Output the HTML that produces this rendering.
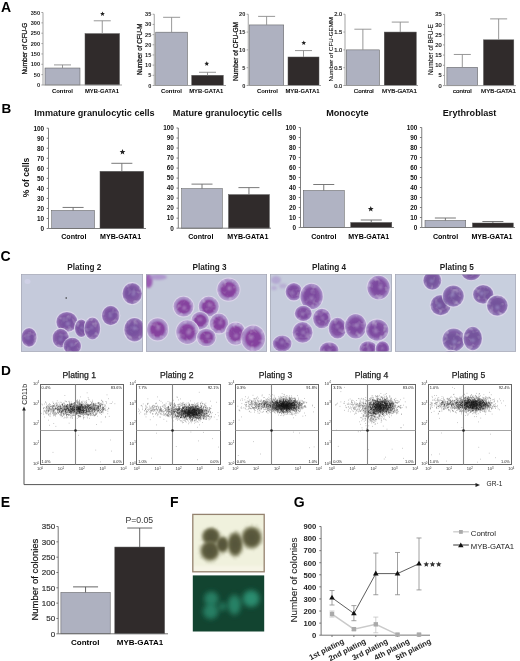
<!DOCTYPE html>
<html><head><meta charset="utf-8"><style>
html,body{margin:0;padding:0;background:#fff;}
body{width:520px;height:661px;overflow:hidden;}
svg{display:block;filter:blur(0.3px);}
text{font-family:"Liberation Sans",sans-serif;}
</style></head><body>
<svg width="520" height="661" viewBox="0 0 520 661">
<rect width="520" height="661" fill="#fff"/>
<text x="1" y="11.6" font-size="14" font-weight="bold" fill="#000">A</text>
<rect x="45" y="68.01" width="35" height="16.99" fill="#aeb1c0" stroke="#555" stroke-width="0.5"/>
<path d="M62.5 68.01V64.91M54 64.91h17" stroke="#8c8c8c" stroke-width="0.9" fill="none"/>
<rect x="85" y="33.63" width="34.5" height="51.37" fill="#302b2b" stroke="#555" stroke-width="0.5"/>
<path d="M102.25 33.63V20.79M93.75 20.79h17" stroke="#8c8c8c" stroke-width="0.9" fill="none"/>
<path d="M43 12.5V85H122M41.4 85h1.6M41.4 74.64h1.6M41.4 64.29h1.6M41.4 53.93h1.6M41.4 43.57h1.6M41.4 33.21h1.6M41.4 22.86h1.6M41.4 12.5h1.6" stroke="#999" stroke-width="0.9" fill="none"/>
<text x="40.1" y="87.02" font-size="5.6" text-anchor="end" font-weight="bold" fill="#222" >0</text>
<text x="40.1" y="76.66" font-size="5.6" text-anchor="end" font-weight="bold" fill="#222" >50</text>
<text x="40.1" y="66.3" font-size="5.6" text-anchor="end" font-weight="bold" fill="#222" >100</text>
<text x="40.1" y="55.94" font-size="5.6" text-anchor="end" font-weight="bold" fill="#222" >150</text>
<text x="40.1" y="45.59" font-size="5.6" text-anchor="end" font-weight="bold" fill="#222" >200</text>
<text x="40.1" y="35.23" font-size="5.6" text-anchor="end" font-weight="bold" fill="#222" >250</text>
<text x="40.1" y="24.87" font-size="5.6" text-anchor="end" font-weight="bold" fill="#222" >300</text>
<text x="40.1" y="14.52" font-size="5.6" text-anchor="end" font-weight="bold" fill="#222" >350</text>
<text x="62.5" y="92.92" font-size="5.9" text-anchor="middle" font-weight="bold" fill="#000" >Control</text>
<text x="102" y="92.92" font-size="5.9" text-anchor="middle" font-weight="bold" fill="#000" >MYB-GATA1</text>
<text transform="translate(24.3,48.6) rotate(-90)" x="0" y="2.3" font-size="6.4" text-anchor="middle" font-weight="normal" fill="#111" stroke="#111" stroke-width="0.25">Number of CFU-G</text>
<polygon points="102.5,11.5 103.16,13.09 104.88,13.23 103.57,14.35 103.97,16.02 102.5,15.12 101.03,16.02 101.43,14.35 100.12,13.23 101.84,13.09" fill="#222"/>
<rect x="155.75" y="32.16" width="31.75" height="53.34" fill="#aeb1c0" stroke="#555" stroke-width="0.5"/>
<path d="M171.62 32.16V17.3M163.12 17.3h17" stroke="#8c8c8c" stroke-width="0.9" fill="none"/>
<rect x="191.75" y="75.32" width="31.5" height="10.18" fill="#302b2b" stroke="#555" stroke-width="0.5"/>
<path d="M207.5 75.32V72.27M199 72.27h17" stroke="#8c8c8c" stroke-width="0.9" fill="none"/>
<path d="M154.25 14.25V85.5H226M152.65 85.5h1.6M152.65 75.32h1.6M152.65 65.14h1.6M152.65 54.96h1.6M152.65 44.79h1.6M152.65 34.61h1.6M152.65 24.43h1.6M152.65 14.25h1.6" stroke="#999" stroke-width="0.9" fill="none"/>
<text x="151.35" y="87.52" font-size="5.6" text-anchor="end" font-weight="bold" fill="#222" >0</text>
<text x="151.35" y="77.34" font-size="5.6" text-anchor="end" font-weight="bold" fill="#222" >5</text>
<text x="151.35" y="67.16" font-size="5.6" text-anchor="end" font-weight="bold" fill="#222" >10</text>
<text x="151.35" y="56.98" font-size="5.6" text-anchor="end" font-weight="bold" fill="#222" >15</text>
<text x="151.35" y="46.8" font-size="5.6" text-anchor="end" font-weight="bold" fill="#222" >20</text>
<text x="151.35" y="36.62" font-size="5.6" text-anchor="end" font-weight="bold" fill="#222" >25</text>
<text x="151.35" y="26.44" font-size="5.6" text-anchor="end" font-weight="bold" fill="#222" >30</text>
<text x="151.35" y="16.27" font-size="5.6" text-anchor="end" font-weight="bold" fill="#222" >35</text>
<text x="171.5" y="92.92" font-size="5.9" text-anchor="middle" font-weight="bold" fill="#000" >Control</text>
<text x="206.25" y="92.92" font-size="5.9" text-anchor="middle" font-weight="bold" fill="#000" >MYB-GATA1</text>
<text transform="translate(139.6,49.3) rotate(-90)" x="0" y="2.27" font-size="6.3" text-anchor="middle" font-weight="normal" fill="#111" stroke="#111" stroke-width="0.25">Number of CFU-M</text>
<polygon points="206.75,61.25 207.41,62.84 209.13,62.98 207.82,64.1 208.22,65.77 206.75,64.88 205.28,65.77 205.68,64.1 204.37,62.98 206.09,62.84" fill="#222"/>
<rect x="249.5" y="24.94" width="34.25" height="60.56" fill="#aeb1c0" stroke="#555" stroke-width="0.5"/>
<path d="M266.62 24.94V16.39M258.12 16.39h17" stroke="#8c8c8c" stroke-width="0.9" fill="none"/>
<rect x="288" y="57" width="31" height="28.5" fill="#302b2b" stroke="#555" stroke-width="0.5"/>
<path d="M303.5 57V50.59M295 50.59h17" stroke="#8c8c8c" stroke-width="0.9" fill="none"/>
<path d="M248.25 14.25V85.5H321M246.65 85.5h1.6M246.65 67.69h1.6M246.65 49.88h1.6M246.65 32.06h1.6M246.65 14.25h1.6" stroke="#999" stroke-width="0.9" fill="none"/>
<text x="245.35" y="87.52" font-size="5.6" text-anchor="end" font-weight="bold" fill="#222" >0</text>
<text x="245.35" y="69.7" font-size="5.6" text-anchor="end" font-weight="bold" fill="#222" >5</text>
<text x="245.35" y="51.89" font-size="5.6" text-anchor="end" font-weight="bold" fill="#222" >10</text>
<text x="245.35" y="34.08" font-size="5.6" text-anchor="end" font-weight="bold" fill="#222" >15</text>
<text x="245.35" y="16.27" font-size="5.6" text-anchor="end" font-weight="bold" fill="#222" >20</text>
<text x="267.5" y="92.92" font-size="5.9" text-anchor="middle" font-weight="bold" fill="#000" >Control</text>
<text x="302.5" y="92.92" font-size="5.9" text-anchor="middle" font-weight="bold" fill="#000" >MYB-GATA1</text>
<text transform="translate(235.7,51.5) rotate(-90)" x="0" y="2.38" font-size="6.6" text-anchor="middle" font-weight="normal" fill="#111" stroke="#111" stroke-width="0.25">Number of CFU-GM</text>
<polygon points="303.75,40.5 304.41,42.09 306.13,42.23 304.82,43.35 305.22,45.02 303.75,44.12 302.28,45.02 302.68,43.35 301.37,42.23 303.09,42.09" fill="#222"/>
<rect x="346.25" y="49.88" width="33.25" height="35.62" fill="#aeb1c0" stroke="#555" stroke-width="0.5"/>
<path d="M362.88 49.88V29.21M354.38 29.21h17" stroke="#8c8c8c" stroke-width="0.9" fill="none"/>
<rect x="384.25" y="32.06" width="32" height="53.44" fill="#302b2b" stroke="#555" stroke-width="0.5"/>
<path d="M400.25 32.06V22.09M391.75 22.09h17" stroke="#8c8c8c" stroke-width="0.9" fill="none"/>
<path d="M345 14.25V85.5H418M343.4 85.5h1.6M343.4 67.69h1.6M343.4 49.88h1.6M343.4 32.06h1.6M343.4 14.25h1.6" stroke="#999" stroke-width="0.9" fill="none"/>
<text x="342.1" y="87.55" font-size="5.7" text-anchor="end" font-weight="normal" fill="#222" stroke="#222" stroke-width="0.2">0.0</text>
<text x="342.1" y="69.74" font-size="5.7" text-anchor="end" font-weight="normal" fill="#222" stroke="#222" stroke-width="0.2">0.5</text>
<text x="342.1" y="51.93" font-size="5.7" text-anchor="end" font-weight="normal" fill="#222" stroke="#222" stroke-width="0.2">1.0</text>
<text x="342.1" y="34.11" font-size="5.7" text-anchor="end" font-weight="normal" fill="#222" stroke="#222" stroke-width="0.2">1.5</text>
<text x="342.1" y="16.3" font-size="5.7" text-anchor="end" font-weight="normal" fill="#222" stroke="#222" stroke-width="0.2">2.0</text>
<text x="363.75" y="93.03" font-size="6.2" text-anchor="middle" font-weight="normal" fill="#111" stroke="#111" stroke-width="0.22">Control</text>
<text x="399.5" y="93.03" font-size="6.2" text-anchor="middle" font-weight="normal" fill="#111" stroke="#111" stroke-width="0.22">MYB-GATA1</text>
<text transform="translate(330.8,49.3) rotate(-90)" x="0" y="2.23" font-size="6.2" text-anchor="middle" font-weight="normal" fill="#111" stroke="#111" stroke-width="0.1">Number of CFU-GEMM</text>
<rect x="446.9" y="67.29" width="30.8" height="18.31" fill="#aeb1c0" stroke="#555" stroke-width="0.5"/>
<path d="M462.3 67.29V54.48M453.8 54.48h17" stroke="#8c8c8c" stroke-width="0.9" fill="none"/>
<rect x="483.5" y="39.83" width="30.3" height="45.77" fill="#302b2b" stroke="#555" stroke-width="0.5"/>
<path d="M498.65 39.83V18.88M490.15 18.88h17" stroke="#8c8c8c" stroke-width="0.9" fill="none"/>
<path d="M444.6 14.4V85.6H516M443 85.6h1.6M443 75.43h1.6M443 65.26h1.6M443 55.09h1.6M443 44.91h1.6M443 34.74h1.6M443 24.57h1.6M443 14.4h1.6" stroke="#999" stroke-width="0.9" fill="none"/>
<text x="441.7" y="87.65" font-size="5.7" text-anchor="end" font-weight="normal" fill="#222" stroke="#222" stroke-width="0.2">0</text>
<text x="441.7" y="77.48" font-size="5.7" text-anchor="end" font-weight="normal" fill="#222" stroke="#222" stroke-width="0.2">5</text>
<text x="441.7" y="67.31" font-size="5.7" text-anchor="end" font-weight="normal" fill="#222" stroke="#222" stroke-width="0.2">10</text>
<text x="441.7" y="57.14" font-size="5.7" text-anchor="end" font-weight="normal" fill="#222" stroke="#222" stroke-width="0.2">15</text>
<text x="441.7" y="46.97" font-size="5.7" text-anchor="end" font-weight="normal" fill="#222" stroke="#222" stroke-width="0.2">20</text>
<text x="441.7" y="36.79" font-size="5.7" text-anchor="end" font-weight="normal" fill="#222" stroke="#222" stroke-width="0.2">25</text>
<text x="441.7" y="26.62" font-size="5.7" text-anchor="end" font-weight="normal" fill="#222" stroke="#222" stroke-width="0.2">30</text>
<text x="441.7" y="16.45" font-size="5.7" text-anchor="end" font-weight="normal" fill="#222" stroke="#222" stroke-width="0.2">35</text>
<text x="462.3" y="93.03" font-size="6.2" text-anchor="middle" font-weight="normal" fill="#111" stroke="#111" stroke-width="0.22">control</text>
<text x="498.5" y="93.03" font-size="6.2" text-anchor="middle" font-weight="normal" fill="#111" stroke="#111" stroke-width="0.22">MYB-GATA1</text>
<text transform="translate(430.4,49.6) rotate(-90)" x="0" y="2.3" font-size="6.4" text-anchor="middle" font-weight="normal" fill="#111" stroke="#111" stroke-width="0.1">Number of BFU-E</text>
<text x="1.5" y="112.5" font-size="13.5" font-weight="bold" fill="#000">B</text>
<text x="94.5" y="115.78" font-size="9.1" text-anchor="middle" font-weight="bold" fill="#111" >Immature granulocytic cells</text>
<rect x="51.7" y="210.45" width="42.8" height="18.05" fill="#b0b3c3" stroke="#555" stroke-width="0.5"/>
<path d="M73.1 210.45V207.44M62.6 207.44h21" stroke="#6a6a6a" stroke-width="0.9" fill="none"/>
<rect x="100" y="171.33" width="43.7" height="57.17" fill="#302b2b" stroke="#555" stroke-width="0.5"/>
<path d="M121.85 171.33V163.31M111.35 163.31h21" stroke="#6a6a6a" stroke-width="0.9" fill="none"/>
<path d="M48.5 128.2V228.5H146M46.7 228.5h1.8M46.7 218.47h1.8M46.7 208.44h1.8M46.7 198.41h1.8M46.7 188.38h1.8M46.7 178.35h1.8M46.7 168.32h1.8M46.7 158.29h1.8M46.7 148.26h1.8M46.7 138.23h1.8M46.7 128.2h1.8" stroke="#707070" stroke-width="0.9" fill="none"/>
<text x="44.1" y="230.8" font-size="6.4" text-anchor="end" font-weight="bold" fill="#111" >0</text>
<text x="44.1" y="220.77" font-size="6.4" text-anchor="end" font-weight="bold" fill="#111" >10</text>
<text x="44.1" y="210.74" font-size="6.4" text-anchor="end" font-weight="bold" fill="#111" >20</text>
<text x="44.1" y="200.71" font-size="6.4" text-anchor="end" font-weight="bold" fill="#111" >30</text>
<text x="44.1" y="190.68" font-size="6.4" text-anchor="end" font-weight="bold" fill="#111" >40</text>
<text x="44.1" y="180.65" font-size="6.4" text-anchor="end" font-weight="bold" fill="#111" >50</text>
<text x="44.1" y="170.62" font-size="6.4" text-anchor="end" font-weight="bold" fill="#111" >60</text>
<text x="44.1" y="160.59" font-size="6.4" text-anchor="end" font-weight="bold" fill="#111" >70</text>
<text x="44.1" y="150.56" font-size="6.4" text-anchor="end" font-weight="bold" fill="#111" >80</text>
<text x="44.1" y="140.53" font-size="6.4" text-anchor="end" font-weight="bold" fill="#111" >90</text>
<text x="44.1" y="130.5" font-size="6.4" text-anchor="end" font-weight="bold" fill="#111" >100</text>
<text x="73.8" y="239.36" font-size="7.1" text-anchor="middle" font-weight="bold" fill="#000" >Control</text>
<text x="120.6" y="239.36" font-size="7.1" text-anchor="middle" font-weight="bold" fill="#000" >MYB-GATA1</text>
<text transform="translate(26,177.5) rotate(-90)" x="0" y="3.1" font-size="8.6" text-anchor="middle" font-weight="bold" fill="#111" >% of cells</text>
<polygon points="122.5,149 123.29,150.91 125.35,151.07 123.78,152.42 124.26,154.43 122.5,153.35 120.74,154.43 121.22,152.42 119.65,151.07 121.71,150.91" fill="#222"/>
<text x="227.4" y="115.78" font-size="9.1" text-anchor="middle" font-weight="bold" fill="#111" >Mature granulocytic cells</text>
<rect x="181.7" y="188.62" width="40.6" height="39.58" fill="#b0b3c3" stroke="#555" stroke-width="0.5"/>
<path d="M202 188.62V184.11M191.5 184.11h21" stroke="#6a6a6a" stroke-width="0.9" fill="none"/>
<rect x="228.5" y="194.63" width="40.9" height="33.57" fill="#302b2b" stroke="#555" stroke-width="0.5"/>
<path d="M248.95 194.63V187.62M238.45 187.62h21" stroke="#6a6a6a" stroke-width="0.9" fill="none"/>
<path d="M178.3 128V228.2H271M176.5 228.2h1.8M176.5 218.18h1.8M176.5 208.16h1.8M176.5 198.14h1.8M176.5 188.12h1.8M176.5 178.1h1.8M176.5 168.08h1.8M176.5 158.06h1.8M176.5 148.04h1.8M176.5 138.02h1.8M176.5 128h1.8" stroke="#707070" stroke-width="0.9" fill="none"/>
<text x="173.9" y="230.5" font-size="6.4" text-anchor="end" font-weight="bold" fill="#111" >0</text>
<text x="173.9" y="220.48" font-size="6.4" text-anchor="end" font-weight="bold" fill="#111" >10</text>
<text x="173.9" y="210.46" font-size="6.4" text-anchor="end" font-weight="bold" fill="#111" >20</text>
<text x="173.9" y="200.44" font-size="6.4" text-anchor="end" font-weight="bold" fill="#111" >30</text>
<text x="173.9" y="190.42" font-size="6.4" text-anchor="end" font-weight="bold" fill="#111" >40</text>
<text x="173.9" y="180.4" font-size="6.4" text-anchor="end" font-weight="bold" fill="#111" >50</text>
<text x="173.9" y="170.38" font-size="6.4" text-anchor="end" font-weight="bold" fill="#111" >60</text>
<text x="173.9" y="160.36" font-size="6.4" text-anchor="end" font-weight="bold" fill="#111" >70</text>
<text x="173.9" y="150.34" font-size="6.4" text-anchor="end" font-weight="bold" fill="#111" >80</text>
<text x="173.9" y="140.32" font-size="6.4" text-anchor="end" font-weight="bold" fill="#111" >90</text>
<text x="173.9" y="130.3" font-size="6.4" text-anchor="end" font-weight="bold" fill="#111" >100</text>
<text x="200.8" y="239.36" font-size="7.1" text-anchor="middle" font-weight="bold" fill="#000" >Control</text>
<text x="247.8" y="239.36" font-size="7.1" text-anchor="middle" font-weight="bold" fill="#000" >MYB-GATA1</text>
<text x="347.4" y="115.78" font-size="9.1" text-anchor="middle" font-weight="bold" fill="#111" >Monocyte</text>
<rect x="303.25" y="190.5" width="41" height="37" fill="#b0b3c3" stroke="#555" stroke-width="0.5"/>
<path d="M323.75 190.5V184.5M313.25 184.5h21" stroke="#6a6a6a" stroke-width="0.9" fill="none"/>
<rect x="350.75" y="222.5" width="41" height="5" fill="#302b2b" stroke="#555" stroke-width="0.5"/>
<path d="M371.25 222.5V220M360.75 220h21" stroke="#6a6a6a" stroke-width="0.9" fill="none"/>
<path d="M300.5 127.5V227.5H394M298.7 227.5h1.8M298.7 217.5h1.8M298.7 207.5h1.8M298.7 197.5h1.8M298.7 187.5h1.8M298.7 177.5h1.8M298.7 167.5h1.8M298.7 157.5h1.8M298.7 147.5h1.8M298.7 137.5h1.8M298.7 127.5h1.8" stroke="#707070" stroke-width="0.9" fill="none"/>
<text x="296.1" y="229.8" font-size="6.4" text-anchor="end" font-weight="bold" fill="#111" >0</text>
<text x="296.1" y="219.8" font-size="6.4" text-anchor="end" font-weight="bold" fill="#111" >10</text>
<text x="296.1" y="209.8" font-size="6.4" text-anchor="end" font-weight="bold" fill="#111" >20</text>
<text x="296.1" y="199.8" font-size="6.4" text-anchor="end" font-weight="bold" fill="#111" >30</text>
<text x="296.1" y="189.8" font-size="6.4" text-anchor="end" font-weight="bold" fill="#111" >40</text>
<text x="296.1" y="179.8" font-size="6.4" text-anchor="end" font-weight="bold" fill="#111" >50</text>
<text x="296.1" y="169.8" font-size="6.4" text-anchor="end" font-weight="bold" fill="#111" >60</text>
<text x="296.1" y="159.8" font-size="6.4" text-anchor="end" font-weight="bold" fill="#111" >70</text>
<text x="296.1" y="149.8" font-size="6.4" text-anchor="end" font-weight="bold" fill="#111" >80</text>
<text x="296.1" y="139.8" font-size="6.4" text-anchor="end" font-weight="bold" fill="#111" >90</text>
<text x="296.1" y="129.8" font-size="6.4" text-anchor="end" font-weight="bold" fill="#111" >100</text>
<text x="323.75" y="239.36" font-size="7.1" text-anchor="middle" font-weight="bold" fill="#000" >Control</text>
<text x="368.75" y="239.36" font-size="7.1" text-anchor="middle" font-weight="bold" fill="#000" >MYB-GATA1</text>
<polygon points="370.75,206 371.54,207.91 373.6,208.07 372.03,209.42 372.51,211.43 370.75,210.35 368.99,211.43 369.47,209.42 367.9,208.07 369.96,207.91" fill="#222"/>
<text x="469.6" y="115.78" font-size="9.1" text-anchor="middle" font-weight="bold" fill="#111" >Erythroblast</text>
<rect x="425" y="220.5" width="40.75" height="7" fill="#b0b3c3" stroke="#555" stroke-width="0.5"/>
<path d="M445.38 220.5V218M434.88 218h21" stroke="#6a6a6a" stroke-width="0.9" fill="none"/>
<rect x="472.5" y="223" width="40.75" height="4.5" fill="#302b2b" stroke="#555" stroke-width="0.5"/>
<path d="M492.88 223V221.5M482.38 221.5h21" stroke="#6a6a6a" stroke-width="0.9" fill="none"/>
<path d="M421.75 127.5V227.5H515M419.95 227.5h1.8M419.95 217.5h1.8M419.95 207.5h1.8M419.95 197.5h1.8M419.95 187.5h1.8M419.95 177.5h1.8M419.95 167.5h1.8M419.95 157.5h1.8M419.95 147.5h1.8M419.95 137.5h1.8M419.95 127.5h1.8" stroke="#707070" stroke-width="0.9" fill="none"/>
<text x="417.35" y="229.8" font-size="6.4" text-anchor="end" font-weight="bold" fill="#111" >0</text>
<text x="417.35" y="219.8" font-size="6.4" text-anchor="end" font-weight="bold" fill="#111" >10</text>
<text x="417.35" y="209.8" font-size="6.4" text-anchor="end" font-weight="bold" fill="#111" >20</text>
<text x="417.35" y="199.8" font-size="6.4" text-anchor="end" font-weight="bold" fill="#111" >30</text>
<text x="417.35" y="189.8" font-size="6.4" text-anchor="end" font-weight="bold" fill="#111" >40</text>
<text x="417.35" y="179.8" font-size="6.4" text-anchor="end" font-weight="bold" fill="#111" >50</text>
<text x="417.35" y="169.8" font-size="6.4" text-anchor="end" font-weight="bold" fill="#111" >60</text>
<text x="417.35" y="159.8" font-size="6.4" text-anchor="end" font-weight="bold" fill="#111" >70</text>
<text x="417.35" y="149.8" font-size="6.4" text-anchor="end" font-weight="bold" fill="#111" >80</text>
<text x="417.35" y="139.8" font-size="6.4" text-anchor="end" font-weight="bold" fill="#111" >90</text>
<text x="417.35" y="129.8" font-size="6.4" text-anchor="end" font-weight="bold" fill="#111" >100</text>
<text x="445.5" y="239.36" font-size="7.1" text-anchor="middle" font-weight="bold" fill="#000" >Control</text>
<text x="492" y="239.36" font-size="7.1" text-anchor="middle" font-weight="bold" fill="#000" >MYB-GATA1</text>
<text x="0.6" y="261.3" font-size="14" font-weight="bold" fill="#000">C</text>
<defs><filter id="bl" x="-30%" y="-30%" width="160%" height="160%"><feGaussianBlur stdDeviation="0.55"/></filter><filter id="tex" x="0" y="0" width="100%" height="100%"><feGaussianBlur in="SourceGraphic" stdDeviation="0.5" result="s"/><feTurbulence type="fractalNoise" baseFrequency="0.18" numOctaves="2" seed="4" result="n0"/><feGaussianBlur in="n0" stdDeviation="0.6" result="n"/><feColorMatrix in="n" type="matrix" values="0 0 0 0 0.85  0 0 0 0 0.78  0 0 0 0 0.95  0.95 0 0 0 -0.5" result="w"/><feComposite in="w" in2="s" operator="in" result="wi"/><feMerge><feMergeNode in="s"/><feMergeNode in="wi"/></feMerge></filter><filter id="bl2" x="-50%" y="-50%" width="200%" height="200%"><feGaussianBlur stdDeviation="1.3"/></filter><filter id="bl3" x="-50%" y="-50%" width="200%" height="200%"><feGaussianBlur stdDeviation="2.2"/></filter><radialGradient id="col" cx="50%" cy="50%" r="50%"><stop offset="0" stop-color="#54533a"/><stop offset="0.7" stop-color="#5d5c3d"/><stop offset="1" stop-color="#858466" stop-opacity="0.6"/></radialGradient><radialGradient id="gfp" cx="50%" cy="50%" r="50%"><stop offset="0" stop-color="#2c9274"/><stop offset="0.6" stop-color="#28866a"/><stop offset="1" stop-color="#1c6048" stop-opacity="0"/></radialGradient><radialGradient id="cell0" cx="50%" cy="50%" r="50%"><stop offset="0" stop-color="#80549f"/><stop offset="0.7" stop-color="#845ca6"/><stop offset="0.88" stop-color="#9070b2"/><stop offset="1" stop-color="#a694c8"/></radialGradient><radialGradient id="cell1" cx="50%" cy="50%" r="50%"><stop offset="0" stop-color="#8a46a0"/><stop offset="0.58" stop-color="#8c4aa2"/><stop offset="0.76" stop-color="#a283c0"/><stop offset="1" stop-color="#b8a4d2"/></radialGradient><radialGradient id="cell2" cx="50%" cy="50%" r="50%"><stop offset="0" stop-color="#82509f"/><stop offset="0.65" stop-color="#8656a6"/><stop offset="0.85" stop-color="#9a7abb"/><stop offset="1" stop-color="#ad98cc"/></radialGradient><radialGradient id="cell3" cx="50%" cy="50%" r="50%"><stop offset="0" stop-color="#7c56a0"/><stop offset="0.7" stop-color="#805ca5"/><stop offset="0.88" stop-color="#8c72b2"/><stop offset="1" stop-color="#a496c6"/></radialGradient></defs>
<text x="84.3" y="270" font-size="8.2" text-anchor="middle" font-weight="bold" fill="#222" >Plating 2</text>
<clipPath id="cc0"><rect x="21" y="274.2" width="122" height="77.6"/></clipPath>
<rect x="21" y="274.2" width="122" height="77.6" fill="#c5cadb"/>
<g clip-path="url(#cc0)">
<ellipse cx="27.5" cy="281.5" rx="3" ry="2.5" fill="#cfd0e6" filter="url(#bl)"/>
<circle cx="66.2" cy="298" r="0.8" fill="#333"/>
<g filter="url(#tex)">
<ellipse cx="132.2" cy="293.6" rx="10.6" ry="11.5" fill="#dcd6ea"/>
<ellipse cx="132.2" cy="293.6" rx="9.7" ry="10.6" fill="url(#cell0)"/>
<ellipse cx="134.5" cy="329.7" rx="11.2" ry="12.7" fill="#dcd6ea"/>
<ellipse cx="134.5" cy="329.7" rx="10.3" ry="11.8" fill="url(#cell0)"/>
<ellipse cx="110.7" cy="315.5" rx="9.7" ry="10.6" fill="#dcd6ea"/>
<ellipse cx="110.7" cy="315.5" rx="8.8" ry="9.7" fill="url(#cell0)"/>
<ellipse cx="66.9" cy="321.9" rx="11.5" ry="10.9" fill="#dcd6ea"/>
<ellipse cx="66.9" cy="321.9" rx="10.6" ry="10" fill="url(#cell0)"/>
<ellipse cx="81.3" cy="328.2" rx="7.3" ry="9.7" fill="#dcd6ea"/>
<ellipse cx="81.3" cy="328.2" rx="6.4" ry="8.8" fill="url(#cell0)"/>
<ellipse cx="92.4" cy="328.4" rx="8.7" ry="11.9" fill="#dcd6ea"/>
<ellipse cx="92.4" cy="328.4" rx="7.8" ry="11" fill="url(#cell0)"/>
<ellipse cx="60.7" cy="338.1" rx="9.1" ry="10.3" fill="#dcd6ea"/>
<ellipse cx="60.7" cy="338.1" rx="8.2" ry="9.4" fill="url(#cell0)"/>
<ellipse cx="72.3" cy="346" rx="9.7" ry="9.2" fill="#dcd6ea"/>
<ellipse cx="72.3" cy="346" rx="8.8" ry="8.3" fill="url(#cell0)"/>
<ellipse cx="29.1" cy="337.4" rx="8.5" ry="10.3" fill="#dcd6ea"/>
<ellipse cx="29.1" cy="337.4" rx="7.6" ry="9.4" fill="url(#cell0)"/>
</g><g filter="url(#bl2)">
<ellipse cx="130.97" cy="292.75" rx="5.94" ry="5.94" fill="#6f4c9c" opacity=".55"/>
<circle cx="133.39" cy="293.95" r="1.78" fill="#9c88c4" opacity=".8"/>
<ellipse cx="133.22" cy="329.46" rx="6.3" ry="6.6" fill="#6f4c9c" opacity=".55"/>
<circle cx="134.41" cy="328.07" r="1.89" fill="#9c88c4" opacity=".8"/>
<ellipse cx="111.33" cy="314.35" rx="5.4" ry="5.45" fill="#6f4c9c" opacity=".55"/>
<circle cx="110.31" cy="315.57" r="1.62" fill="#9c88c4" opacity=".8"/>
<ellipse cx="66.68" cy="322.17" rx="6.48" ry="5.61" fill="#6f4c9c" opacity=".55"/>
<circle cx="67.93" cy="323.76" r="1.94" fill="#9c88c4" opacity=".8"/>
<ellipse cx="80.87" cy="328.6" rx="3.96" ry="4.95" fill="#6f4c9c" opacity=".55"/>
<circle cx="81.82" cy="327.45" r="1.19" fill="#9c88c4" opacity=".8"/>
<ellipse cx="91.2" cy="329.99" rx="4.8" ry="6.16" fill="#6f4c9c" opacity=".55"/>
<circle cx="91.75" cy="327.57" r="1.44" fill="#9c88c4" opacity=".8"/>
<ellipse cx="61.69" cy="338.35" rx="5.04" ry="5.28" fill="#6f4c9c" opacity=".55"/>
<circle cx="60.6" cy="339.15" r="1.51" fill="#9c88c4" opacity=".8"/>
<ellipse cx="71.03" cy="346.53" rx="5.4" ry="4.68" fill="#6f4c9c" opacity=".55"/>
<circle cx="71.85" cy="344.61" r="1.62" fill="#9c88c4" opacity=".8"/>
<ellipse cx="29.48" cy="338.64" rx="4.68" ry="5.28" fill="#6f4c9c" opacity=".55"/>
<circle cx="28.19" cy="337.9" r="1.4" fill="#9c88c4" opacity=".8"/>
</g></g>
<rect x="21.3" y="274.5" width="121.4" height="77" fill="none" stroke="#a0a2b0" stroke-width="0.6"/>
<text x="209.6" y="270" font-size="8.2" text-anchor="middle" font-weight="bold" fill="#222" >Plating 3</text>
<clipPath id="cc1"><rect x="146" y="274.2" width="121" height="77.6"/></clipPath>
<rect x="146" y="274.2" width="121" height="77.6" fill="#c4c9da"/>
<g clip-path="url(#cc1)">
<g filter="url(#bl2)"><ellipse cx="148.5" cy="281" rx="4" ry="7" fill="#9a5cb2"/><ellipse cx="158" cy="277" rx="9" ry="3" fill="#a98ccb" opacity=".8"/></g>
<g filter="url(#tex)">
<ellipse cx="228.5" cy="289.6" rx="12.1" ry="12.1" fill="#dcd6ea"/>
<ellipse cx="228.5" cy="289.6" rx="11.2" ry="11.2" fill="url(#cell1)"/>
<ellipse cx="183.5" cy="306.6" rx="10.9" ry="10.9" fill="#dcd6ea"/>
<ellipse cx="183.5" cy="306.6" rx="10" ry="10" fill="url(#cell1)"/>
<ellipse cx="208.8" cy="306.6" rx="10.9" ry="10.9" fill="#dcd6ea"/>
<ellipse cx="208.8" cy="306.6" rx="10" ry="10" fill="url(#cell1)"/>
<ellipse cx="200.2" cy="320.6" rx="9.7" ry="9.7" fill="#dcd6ea"/>
<ellipse cx="200.2" cy="320.6" rx="8.8" ry="8.8" fill="url(#cell1)"/>
<ellipse cx="219" cy="323.6" rx="10.1" ry="10.9" fill="#dcd6ea"/>
<ellipse cx="219" cy="323.6" rx="9.2" ry="10" fill="url(#cell1)"/>
<ellipse cx="157.6" cy="329.4" rx="11.5" ry="12.1" fill="#dcd6ea"/>
<ellipse cx="157.6" cy="329.4" rx="10.6" ry="11.2" fill="url(#cell1)"/>
<ellipse cx="187.4" cy="332.1" rx="12.1" ry="12.7" fill="#dcd6ea"/>
<ellipse cx="187.4" cy="332.1" rx="11.2" ry="11.8" fill="url(#cell1)"/>
<ellipse cx="206.3" cy="337.5" rx="10.3" ry="9.6" fill="#dcd6ea"/>
<ellipse cx="206.3" cy="337.5" rx="9.4" ry="8.7" fill="url(#cell1)"/>
<ellipse cx="235.6" cy="333.6" rx="10.9" ry="12.1" fill="#dcd6ea"/>
<ellipse cx="235.6" cy="333.6" rx="10" ry="11.2" fill="url(#cell1)"/>
<ellipse cx="253.2" cy="338.4" rx="12.7" ry="13.9" fill="#dcd6ea"/>
<ellipse cx="253.2" cy="338.4" rx="11.8" ry="13" fill="url(#cell1)"/>
</g><g filter="url(#bl2)">
<ellipse cx="227.81" cy="290.43" rx="6.84" ry="6.27" fill="#80389a" opacity=".55"/>
<circle cx="229.51" cy="288.32" r="2.05" fill="#b08ac6" opacity=".8"/>
<ellipse cx="184.51" cy="307.08" rx="6.12" ry="5.61" fill="#80389a" opacity=".55"/>
<circle cx="184.25" cy="307.91" r="1.84" fill="#b08ac6" opacity=".8"/>
<ellipse cx="208.58" cy="307.39" rx="6.12" ry="5.61" fill="#80389a" opacity=".55"/>
<circle cx="210.34" cy="304.98" r="1.84" fill="#b08ac6" opacity=".8"/>
<ellipse cx="201.14" cy="320.31" rx="5.4" ry="4.95" fill="#80389a" opacity=".55"/>
<circle cx="200.13" cy="319.33" r="1.62" fill="#b08ac6" opacity=".8"/>
<ellipse cx="219.56" cy="322.96" rx="5.64" ry="5.61" fill="#80389a" opacity=".55"/>
<circle cx="220.4" cy="322.68" r="1.69" fill="#b08ac6" opacity=".8"/>
<ellipse cx="157.8" cy="329.06" rx="6.48" ry="6.27" fill="#80389a" opacity=".55"/>
<circle cx="158.09" cy="328.02" r="1.94" fill="#b08ac6" opacity=".8"/>
<ellipse cx="186.31" cy="332.99" rx="6.84" ry="6.6" fill="#80389a" opacity=".55"/>
<circle cx="188.55" cy="332.42" r="2.05" fill="#b08ac6" opacity=".8"/>
<ellipse cx="207.51" cy="336.71" rx="5.76" ry="4.9" fill="#80389a" opacity=".55"/>
<circle cx="207.65" cy="336.32" r="1.73" fill="#b08ac6" opacity=".8"/>
<ellipse cx="237.02" cy="334.02" rx="6.12" ry="6.27" fill="#80389a" opacity=".55"/>
<circle cx="236.04" cy="335.75" r="1.84" fill="#b08ac6" opacity=".8"/>
<ellipse cx="254.23" cy="339.55" rx="7.2" ry="7.26" fill="#80389a" opacity=".55"/>
<circle cx="251.06" cy="337.71" r="2.16" fill="#b08ac6" opacity=".8"/>
</g></g>
<rect x="146.3" y="274.5" width="120.4" height="77" fill="none" stroke="#a0a2b0" stroke-width="0.6"/>
<text x="329" y="270" font-size="8.2" text-anchor="middle" font-weight="bold" fill="#222" >Plating 4</text>
<clipPath id="cc2"><rect x="270" y="274.2" width="122" height="77.6"/></clipPath>
<rect x="270" y="274.2" width="122" height="77.6" fill="#c6ccdc"/>
<g clip-path="url(#cc2)">
<g filter="url(#bl2)" opacity=".7"><ellipse cx="276" cy="280" rx="5" ry="4" fill="#ab98cc"/><ellipse cx="283" cy="286" rx="4" ry="2.5" fill="#b3a2d0"/><ellipse cx="274" cy="288" rx="3" ry="2" fill="#b3a2d0"/></g>
<g filter="url(#tex)">
<ellipse cx="293.8" cy="291.8" rx="9.1" ry="9.7" fill="#dcd6ea"/>
<ellipse cx="293.8" cy="291.8" rx="8.2" ry="8.8" fill="url(#cell2)"/>
<ellipse cx="311.6" cy="296.4" rx="12.1" ry="13.6" fill="#dcd6ea"/>
<ellipse cx="311.6" cy="296.4" rx="11.2" ry="12.7" fill="url(#cell2)"/>
<ellipse cx="303.3" cy="313.4" rx="9.4" ry="8.5" fill="#dcd6ea"/>
<ellipse cx="303.3" cy="313.4" rx="8.5" ry="7.6" fill="url(#cell2)"/>
<ellipse cx="321.9" cy="318.5" rx="9.7" ry="10.7" fill="#dcd6ea"/>
<ellipse cx="321.9" cy="318.5" rx="8.8" ry="9.8" fill="url(#cell2)"/>
<ellipse cx="302.6" cy="332.4" rx="10.8" ry="11.2" fill="#dcd6ea"/>
<ellipse cx="302.6" cy="332.4" rx="9.9" ry="10.3" fill="url(#cell2)"/>
<ellipse cx="337.5" cy="328.2" rx="9.7" ry="11.3" fill="#dcd6ea"/>
<ellipse cx="337.5" cy="328.2" rx="8.8" ry="10.4" fill="url(#cell2)"/>
<ellipse cx="355.7" cy="326.3" rx="11.5" ry="13.1" fill="#dcd6ea"/>
<ellipse cx="355.7" cy="326.3" rx="10.6" ry="12.2" fill="url(#cell2)"/>
<ellipse cx="377.2" cy="330.1" rx="12.1" ry="11.5" fill="#dcd6ea"/>
<ellipse cx="377.2" cy="330.1" rx="11.2" ry="10.6" fill="url(#cell2)"/>
<ellipse cx="378.6" cy="287.6" rx="12.1" ry="12.7" fill="#dcd6ea"/>
<ellipse cx="378.6" cy="287.6" rx="11.2" ry="11.8" fill="url(#cell2)"/>
<ellipse cx="282.2" cy="343.6" rx="10.3" ry="8.9" fill="#dcd6ea"/>
<ellipse cx="282.2" cy="343.6" rx="9.4" ry="8" fill="url(#cell2)"/>
<ellipse cx="329.1" cy="350" rx="10.3" ry="8.7" fill="#dcd6ea"/>
<ellipse cx="329.1" cy="350" rx="9.4" ry="7.8" fill="url(#cell2)"/>
<ellipse cx="368.2" cy="349" rx="9.7" ry="8.7" fill="#dcd6ea"/>
<ellipse cx="368.2" cy="349" rx="8.8" ry="7.8" fill="url(#cell2)"/>
<ellipse cx="382.5" cy="349" rx="7.7" ry="8.7" fill="#dcd6ea"/>
<ellipse cx="382.5" cy="349" rx="6.8" ry="7.8" fill="url(#cell2)"/>
</g><g filter="url(#bl2)">
<ellipse cx="292.75" cy="290.97" rx="5.04" ry="4.95" fill="#74409a" opacity=".55"/>
<circle cx="292.84" cy="293.09" r="1.51" fill="#a888c4" opacity=".8"/>
<ellipse cx="310.32" cy="295.61" rx="6.84" ry="7.1" fill="#74409a" opacity=".55"/>
<circle cx="311.57" cy="298.2" r="2.05" fill="#a888c4" opacity=".8"/>
<ellipse cx="304.51" cy="313.89" rx="5.22" ry="4.29" fill="#74409a" opacity=".55"/>
<circle cx="302.3" cy="313.54" r="1.57" fill="#a888c4" opacity=".8"/>
<ellipse cx="322.46" cy="317.16" rx="5.4" ry="5.5" fill="#74409a" opacity=".55"/>
<circle cx="322.55" cy="317.97" r="1.62" fill="#a888c4" opacity=".8"/>
<ellipse cx="302.87" cy="332.93" rx="6.06" ry="5.78" fill="#74409a" opacity=".55"/>
<circle cx="303.28" cy="332.5" r="1.82" fill="#a888c4" opacity=".8"/>
<ellipse cx="337.65" cy="327.24" rx="5.4" ry="5.83" fill="#74409a" opacity=".55"/>
<circle cx="337.48" cy="326.61" r="1.62" fill="#a888c4" opacity=".8"/>
<ellipse cx="355.64" cy="326.43" rx="6.48" ry="6.82" fill="#74409a" opacity=".55"/>
<circle cx="356.88" cy="325.77" r="1.94" fill="#a888c4" opacity=".8"/>
<ellipse cx="375.56" cy="330.19" rx="6.84" ry="5.94" fill="#74409a" opacity=".55"/>
<circle cx="375.86" cy="331.14" r="2.05" fill="#a888c4" opacity=".8"/>
<ellipse cx="378.22" cy="287.17" rx="6.84" ry="6.6" fill="#74409a" opacity=".55"/>
<circle cx="380.47" cy="287.09" r="2.05" fill="#a888c4" opacity=".8"/>
<ellipse cx="281.76" cy="343.23" rx="5.76" ry="4.51" fill="#74409a" opacity=".55"/>
<circle cx="282.13" cy="342.27" r="1.73" fill="#a888c4" opacity=".8"/>
<ellipse cx="329.23" cy="351.01" rx="5.76" ry="4.4" fill="#74409a" opacity=".55"/>
<circle cx="329.34" cy="350.78" r="1.73" fill="#a888c4" opacity=".8"/>
<ellipse cx="369.41" cy="349.82" rx="5.4" ry="4.4" fill="#74409a" opacity=".55"/>
<circle cx="369.08" cy="350" r="1.62" fill="#a888c4" opacity=".8"/>
<ellipse cx="383.17" cy="348.41" rx="4.2" ry="4.4" fill="#74409a" opacity=".55"/>
<circle cx="382.45" cy="348.5" r="1.26" fill="#a888c4" opacity=".8"/>
</g></g>
<rect x="270.3" y="274.5" width="121.4" height="77" fill="none" stroke="#a0a2b0" stroke-width="0.6"/>
<text x="456.8" y="270" font-size="8.2" text-anchor="middle" font-weight="bold" fill="#222" >Plating 5</text>
<clipPath id="cc3"><rect x="395" y="274.2" width="121" height="77.6"/></clipPath>
<rect x="395" y="274.2" width="121" height="77.6" fill="#c8cfde"/>
<g clip-path="url(#cc3)">
<g filter="url(#tex)">
<ellipse cx="432.3" cy="280.5" rx="9.9" ry="10.2" fill="#dcd6ea"/>
<ellipse cx="432.3" cy="280.5" rx="9" ry="9.3" fill="url(#cell3)"/>
<ellipse cx="471.1" cy="271.5" rx="10.9" ry="9.7" fill="#dcd6ea"/>
<ellipse cx="471.1" cy="271.5" rx="10" ry="8.8" fill="url(#cell3)"/>
<ellipse cx="440.6" cy="305.2" rx="11" ry="11" fill="#dcd6ea"/>
<ellipse cx="440.6" cy="305.2" rx="10.1" ry="10.1" fill="url(#cell3)"/>
<ellipse cx="453.3" cy="296.1" rx="11.5" ry="11.5" fill="#dcd6ea"/>
<ellipse cx="453.3" cy="296.1" rx="10.6" ry="10.6" fill="url(#cell3)"/>
<ellipse cx="483.2" cy="294.3" rx="11.1" ry="10.3" fill="#dcd6ea"/>
<ellipse cx="483.2" cy="294.3" rx="10.2" ry="9.4" fill="url(#cell3)"/>
<ellipse cx="497.3" cy="305.6" rx="11.3" ry="11.1" fill="#dcd6ea"/>
<ellipse cx="497.3" cy="305.6" rx="10.4" ry="10.2" fill="url(#cell3)"/>
<ellipse cx="453.7" cy="339.9" rx="12.1" ry="12.3" fill="#dcd6ea"/>
<ellipse cx="453.7" cy="339.9" rx="11.2" ry="11.4" fill="url(#cell3)"/>
<ellipse cx="472.7" cy="338.5" rx="10.2" ry="12.6" fill="#dcd6ea"/>
<ellipse cx="472.7" cy="338.5" rx="9.3" ry="11.7" fill="url(#cell3)"/>
<ellipse cx="450.7" cy="356" rx="9.7" ry="6.2" fill="#dcd6ea"/>
<ellipse cx="450.7" cy="356" rx="8.8" ry="5.3" fill="url(#cell3)"/>
</g><g filter="url(#bl2)">
<ellipse cx="431.64" cy="280.7" rx="5.52" ry="5.23" fill="#6c5098" opacity=".55"/>
<circle cx="431.63" cy="280.95" r="1.66" fill="#9a8cc4" opacity=".8"/>
<ellipse cx="471.35" cy="270.43" rx="6.12" ry="4.95" fill="#6c5098" opacity=".55"/>
<circle cx="470.87" cy="271.1" r="1.84" fill="#9a8cc4" opacity=".8"/>
<ellipse cx="441.24" cy="303.93" rx="6.18" ry="5.67" fill="#6c5098" opacity=".55"/>
<circle cx="439.24" cy="305.25" r="1.85" fill="#9a8cc4" opacity=".8"/>
<ellipse cx="452.99" cy="296.64" rx="6.48" ry="5.94" fill="#6c5098" opacity=".55"/>
<circle cx="452.58" cy="294.79" r="1.94" fill="#9a8cc4" opacity=".8"/>
<ellipse cx="484.55" cy="293.56" rx="6.24" ry="5.28" fill="#6c5098" opacity=".55"/>
<circle cx="481.73" cy="293.45" r="1.87" fill="#9a8cc4" opacity=".8"/>
<ellipse cx="496.79" cy="304.74" rx="6.36" ry="5.72" fill="#6c5098" opacity=".55"/>
<circle cx="497.45" cy="307.42" r="1.91" fill="#9a8cc4" opacity=".8"/>
<ellipse cx="452.42" cy="339.6" rx="6.84" ry="6.38" fill="#6c5098" opacity=".55"/>
<circle cx="454.47" cy="341.69" r="2.05" fill="#9a8cc4" opacity=".8"/>
<ellipse cx="474.12" cy="337.23" rx="5.7" ry="6.55" fill="#6c5098" opacity=".55"/>
<circle cx="472.84" cy="340.31" r="1.71" fill="#9a8cc4" opacity=".8"/>
<ellipse cx="449.49" cy="356.15" rx="5.4" ry="3.03" fill="#6c5098" opacity=".55"/>
<circle cx="449.53" cy="356.59" r="1.62" fill="#9a8cc4" opacity=".8"/>
</g></g>
<rect x="395.3" y="274.5" width="120.4" height="77" fill="none" stroke="#a0a2b0" stroke-width="0.6"/>
<text x="1" y="375.2" font-size="13.7" font-weight="bold" fill="#000">D</text>
<text x="79.3" y="378.2" font-size="8.6" text-anchor="middle" font-weight="normal" fill="#222" stroke="#222" stroke-width="0.25">Plating 1</text>
<path d="M80.0 409.3h.6M82.7 409.6h.6M77.5 407.2h.6M72.0 408.9h.6M75.9 414.3h.6M71.1 403.4h.6M80.5 409.9h.6M92.1 406.0h.6M75.6 409.6h.6M74.4 411.8h.6M84.4 408.8h.6M83.2 411.6h.6M80.9 403.8h.6M71.6 412.7h.6M79.7 407.0h.6M86.3 411.1h.6M67.9 409.6h.6M75.9 400.5h.6M62.9 406.5h.6M68.4 409.7h.6M63.4 414.1h.6M77.9 409.9h.6M68.6 409.9h.6M82.4 404.3h.6M81.4 413.7h.6M78.3 415.0h.6M57.3 409.1h.6M75.2 408.3h.6M79.6 403.7h.6M81.0 411.9h.6M66.2 417.9h.6M75.7 411.4h.6M71.2 413.2h.6M72.7 410.8h.6M89.5 405.7h.6M72.7 413.4h.6M79.7 404.9h.6M88.0 408.3h.6M74.7 409.9h.6M79.0 411.9h.6M81.0 410.4h.6M80.6 410.3h.6M69.0 406.5h.6M80.7 404.7h.6M92.2 409.2h.6M66.1 406.7h.6M87.7 404.7h.6M81.1 404.8h.6M74.2 407.4h.6M98.0 402.9h.6M86.9 404.6h.6M69.2 403.6h.6M80.7 409.6h.6M85.2 410.3h.6M78.3 415.6h.6M86.1 404.1h.6M79.4 406.8h.6M86.0 412.0h.6M92.9 408.3h.6M73.9 407.9h.6M81.8 414.6h.6M75.8 407.9h.6M81.1 405.2h.6M69.3 404.7h.6M74.8 410.1h.6M78.2 410.0h.6M88.1 404.5h.6M90.3 405.7h.6M68.1 410.8h.6M72.8 410.9h.6M85.8 406.9h.6M62.1 411.1h.6M75.8 410.9h.6M79.1 403.1h.6M91.3 408.0h.6M86.2 410.4h.6M77.1 407.1h.6M76.7 401.9h.6M77.7 408.1h.6M93.7 411.5h.6M76.1 414.2h.6M77.3 401.8h.6M83.2 417.6h.6M78.9 405.3h.6M78.2 412.2h.6M70.0 413.1h.6M79.9 412.2h.6M76.0 409.5h.6M90.5 405.2h.6M85.9 411.1h.6M79.8 406.6h.6M86.0 400.7h.6M76.9 418.3h.6M89.5 411.3h.6M80.0 415.0h.6M85.3 406.0h.6M68.4 413.8h.6M83.1 414.2h.6M64.8 414.1h.6M61.7 408.9h.6M77.3 405.0h.6M71.9 408.4h.6M81.5 401.7h.6M100.2 403.4h.6M72.5 409.3h.6M74.4 405.7h.6M81.8 408.5h.6M84.4 408.6h.6M78.4 415.4h.6M78.1 413.3h.6M86.3 408.9h.6M84.7 413.0h.6M70.7 406.4h.6M79.3 407.9h.6M80.3 412.0h.6M70.5 404.9h.6M82.3 408.1h.6M72.3 404.6h.6M88.7 409.4h.6M81.7 414.4h.6M80.8 406.5h.6M74.7 409.7h.6M78.9 406.0h.6M62.0 405.2h.6M69.8 404.9h.6M83.3 413.8h.6M60.8 416.8h.6M87.6 410.6h.6M64.3 406.6h.6M86.8 411.3h.6M72.4 407.9h.6M87.0 411.6h.6M81.2 410.0h.6M66.2 409.9h.6M91.2 411.0h.6M93.0 407.1h.6M79.4 407.7h.6M77.5 403.3h.6M78.6 407.5h.6M71.2 404.3h.6M89.9 408.5h.6M75.1 405.8h.6M79.5 409.3h.6M72.9 410.5h.6M74.4 404.3h.6M68.5 406.3h.6M91.3 405.9h.6M78.6 411.5h.6M88.7 414.6h.6M80.1 411.8h.6M73.8 407.8h.6M77.1 413.8h.6M75.0 404.0h.6M80.1 413.9h.6M76.6 406.8h.6M77.3 399.8h.6M67.6 417.7h.6M72.7 414.2h.6M94.9 405.6h.6M74.0 409.6h.6M70.5 408.3h.6M83.0 409.3h.6M92.7 404.1h.6M66.9 406.8h.6M78.1 410.5h.6M74.3 409.7h.6M64.2 413.0h.6M86.6 409.3h.6M79.8 416.8h.6M80.6 406.6h.6M73.2 409.9h.6M84.1 402.7h.6M75.1 404.9h.6M78.7 413.4h.6M70.0 405.9h.6M69.1 410.8h.6M92.0 408.8h.6M75.4 405.6h.6M82.6 407.9h.6M79.7 407.3h.6M76.0 407.4h.6M75.4 411.5h.6M85.7 411.2h.6M77.3 407.1h.6M78.6 406.0h.6M80.2 409.9h.6M90.6 408.7h.6M86.1 412.4h.6M83.4 417.8h.6M74.9 411.8h.6M67.6 408.9h.6M88.5 408.4h.6M88.7 406.2h.6M78.7 406.0h.6M84.9 405.7h.6M87.0 407.7h.6M87.5 407.6h.6M88.3 411.5h.6M75.9 407.7h.6M93.6 408.3h.6M68.8 405.0h.6M87.8 414.4h.6M84.4 410.7h.6M87.9 414.9h.6M96.9 411.6h.6M93.4 413.9h.6M69.7 408.2h.6M64.8 411.4h.6M87.4 417.9h.6M70.9 405.0h.6M79.9 412.9h.6M87.6 414.6h.6M65.2 410.4h.6M61.0 411.5h.6M82.3 413.2h.6M80.4 406.8h.6M77.8 410.4h.6M80.3 406.1h.6M72.3 406.7h.6M66.4 406.9h.6M78.5 408.5h.6M71.3 409.5h.6M65.2 410.5h.6M84.6 404.2h.6M79.4 415.7h.6M83.7 412.9h.6M71.1 411.5h.6M74.1 407.8h.6M71.0 408.7h.6M72.0 410.9h.6M81.8 410.4h.6M73.0 403.3h.6M83.2 411.5h.6M83.1 418.9h.6M98.2 402.8h.6M67.5 412.4h.6M88.0 410.2h.6M79.2 408.6h.6M79.9 413.6h.6M67.0 405.0h.6M75.9 409.6h.6M86.7 414.0h.6M79.3 408.3h.6M80.7 407.6h.6M77.4 409.4h.6M90.4 407.5h.6M79.8 414.2h.6M60.2 405.9h.6M73.8 412.0h.6M62.3 404.8h.6M50.7 411.3h.6M75.2 408.6h.6M92.0 400.2h.6M80.4 409.0h.6M69.4 405.4h.6M71.5 407.5h.6M90.2 414.2h.6M81.4 405.2h.6M80.4 405.4h.6M79.5 413.9h.6M80.3 409.4h.6M87.2 414.2h.6M85.0 410.1h.6M81.9 406.0h.6M70.6 408.8h.6M84.6 413.2h.6M73.8 412.2h.6M89.8 409.0h.6M68.6 409.2h.6M78.8 408.6h.6M79.9 407.0h.6M68.1 415.6h.6M95.5 409.0h.6M93.1 405.2h.6M75.8 407.4h.6M86.9 411.5h.6M83.4 411.2h.6M56.5 408.5h.6M82.3 406.7h.6M79.4 409.1h.6M80.7 403.3h.6M70.3 404.6h.6M77.6 411.7h.6M78.4 407.4h.6M90.7 410.3h.6M83.0 413.1h.6M80.0 411.2h.6M93.8 409.1h.6M75.0 416.2h.6M76.5 411.3h.6M63.6 407.8h.6M94.1 411.5h.6M88.7 410.4h.6M88.3 406.1h.6M86.0 409.2h.6M81.0 408.4h.6M81.9 402.3h.6M77.7 408.4h.6M78.2 408.0h.6M80.5 407.5h.6M93.6 403.4h.6M85.0 407.8h.6M79.5 408.9h.6M74.8 409.3h.6M74.3 405.1h.6M94.4 411.1h.6M84.6 404.9h.6M80.6 408.2h.6M76.9 413.4h.6M70.0 406.7h.6M79.4 407.3h.6M87.9 412.6h.6M76.5 407.7h.6M78.0 408.0h.6M78.0 409.8h.6M81.0 412.6h.6M65.7 401.5h.6M77.9 406.2h.6M72.3 405.6h.6M88.0 405.3h.6M73.1 406.1h.6M85.2 406.2h.6M93.7 410.0h.6M77.2 406.0h.6M74.6 409.4h.6M81.7 410.4h.6M80.0 406.5h.6M71.1 409.4h.6M84.1 414.5h.6M98.1 410.1h.6M77.7 406.8h.6M78.2 408.8h.6M70.6 405.9h.6M82.9 409.9h.6M68.8 411.9h.6M70.0 406.2h.6M91.5 408.3h.6M71.9 412.8h.6M89.7 407.3h.6M93.7 409.6h.6M82.3 405.5h.6M85.0 406.2h.6M97.6 407.3h.6M78.2 416.2h.6M74.7 407.7h.6M67.8 407.3h.6M80.4 407.1h.6M93.3 408.5h.6M88.6 411.2h.6M71.5 409.6h.6M72.3 415.8h.6M75.5 409.7h.6M82.6 413.8h.6M78.2 409.9h.6M81.9 411.0h.6M82.7 404.2h.6M77.3 408.6h.6M79.6 408.8h.6M81.9 408.2h.6M79.2 401.9h.6M84.5 411.9h.6M96.8 407.7h.6M85.3 407.6h.6M80.5 408.2h.6M64.8 408.2h.6M83.5 410.3h.6M62.5 404.8h.6M67.3 405.9h.6M87.7 410.0h.6M86.4 409.5h.6M78.7 407.8h.6M64.6 407.1h.6M76.7 406.2h.6M73.9 408.8h.6M85.7 412.9h.6M100.3 405.5h.6M82.0 414.0h.6M73.0 411.8h.6M69.5 407.5h.6M79.5 411.6h.6M78.4 404.2h.6M69.6 403.3h.6M81.0 404.7h.6M69.6 407.6h.6M90.0 407.9h.6M89.6 407.3h.6M89.8 409.3h.6M75.7 402.0h.6M84.6 410.6h.6M78.8 404.3h.6M76.5 406.8h.6M76.9 407.6h.6M68.3 405.2h.6M67.0 404.5h.6M87.1 405.7h.6M78.3 409.0h.6M81.9 410.9h.6M89.0 410.9h.6M64.4 405.7h.6M72.9 406.4h.6M81.6 406.0h.6M83.5 410.5h.6M76.6 402.3h.6M89.3 413.1h.6M81.9 407.4h.6M69.1 406.4h.6M71.6 410.1h.6M87.2 412.4h.6M84.2 410.1h.6M62.9 412.5h.6M92.1 409.4h.6M85.4 413.1h.6M92.1 413.1h.6M76.5 408.7h.6M77.3 413.7h.6M69.9 409.5h.6M102.8 409.3h.6M78.4 406.0h.6M94.3 408.0h.6M74.2 411.6h.6M81.5 404.7h.6M65.0 411.1h.6M76.6 410.2h.6M88.9 409.9h.6M68.7 401.7h.6M89.7 408.7h.6M83.0 411.1h.6M70.6 406.5h.6M75.5 409.3h.6M75.9 401.2h.6M79.6 411.2h.6M75.2 406.8h.6M72.6 411.9h.6M77.3 402.9h.6M70.8 411.3h.6M68.4 408.2h.6M79.6 411.7h.6M87.9 405.9h.6M66.2 407.0h.6M80.0 416.4h.6M74.2 406.3h.6M71.2 406.7h.6M87.7 408.1h.6M75.3 405.6h.6M93.5 412.9h.6M73.0 414.7h.6M83.5 406.7h.6M78.0 403.3h.6M73.2 412.9h.6M85.3 412.7h.6M78.6 411.7h.6M85.4 412.8h.6M79.6 406.1h.6M70.2 408.4h.6M79.1 404.4h.6M80.5 404.3h.6M88.6 412.2h.6M71.8 406.8h.6M79.6 416.5h.6M64.5 409.2h.6M85.9 406.9h.6M70.3 411.6h.6M63.7 414.9h.6M79.5 410.6h.6M90.0 405.0h.6M66.3 410.2h.6M70.2 413.5h.6M73.3 407.4h.6M69.8 406.4h.6M83.4 412.4h.6M72.7 409.5h.6M73.5 405.4h.6M85.2 407.7h.6M73.2 406.5h.6M83.9 410.0h.6M71.3 409.4h.6M69.1 412.8h.6M63.5 411.3h.6M96.8 403.8h.6M77.1 410.3h.6M82.2 412.0h.6M79.7 410.5h.6M81.4 412.4h.6M80.4 407.2h.6M97.2 405.9h.6M70.6 412.1h.6M66.0 405.5h.6M70.9 401.9h.6M68.0 412.4h.6M86.7 406.6h.6M87.4 408.0h.6M71.3 404.4h.6M67.5 404.6h.6M76.8 405.2h.6M92.5 407.8h.6M54.6 410.2h.6M84.7 401.4h.6M70.3 411.5h.6M89.4 405.1h.6M70.3 405.5h.6M77.4 411.2h.6M66.4 408.8h.6M71.2 403.9h.6M92.5 415.1h.6M87.4 406.2h.6M76.4 409.8h.6M72.2 409.7h.6M63.0 413.7h.6M76.5 407.5h.6M79.7 412.3h.6M79.2 406.6h.6M79.2 412.7h.6M69.9 406.5h.6M79.4 407.8h.6M79.7 415.3h.6M91.6 410.0h.6M96.8 409.4h.6M78.8 416.4h.6M73.1 410.2h.6M79.4 406.3h.6M74.5 411.4h.6M73.3 405.1h.6M79.5 412.7h.6M70.6 413.0h.6M85.5 407.1h.6M79.1 406.9h.6M82.3 409.6h.6M78.4 409.0h.6M73.5 405.8h.6M71.5 410.9h.6M77.9 402.3h.6M75.1 407.6h.6M82.1 407.7h.6M80.0 408.1h.6M67.7 410.0h.6M80.6 404.9h.6M67.9 410.9h.6M74.5 408.4h.6M77.4 406.9h.6M61.3 404.5h.6M80.8 405.1h.6M81.4 410.2h.6M78.6 405.8h.6M76.2 409.2h.6M76.6 412.5h.6M71.2 412.4h.6M77.6 414.1h.6M75.0 408.0h.6M80.8 405.4h.6M69.2 412.4h.6M82.1 410.0h.6M81.3 412.7h.6M78.7 409.0h.6M76.0 412.9h.6M85.0 411.8h.6M65.0 411.4h.6M84.1 410.7h.6M82.2 410.3h.6M82.6 409.8h.6M83.4 409.7h.6M74.1 412.3h.6M77.7 407.3h.6M85.7 414.7h.6M83.9 408.6h.6M81.9 412.3h.6M66.4 408.7h.6M84.8 408.2h.6M90.5 415.7h.6M89.1 408.0h.6M82.1 404.8h.6M66.0 406.6h.6M88.5 408.0h.6M78.7 416.1h.6M57.2 409.7h.6M83.4 412.1h.6M66.6 405.7h.6M68.3 410.2h.6M74.3 411.2h.6M91.5 414.9h.6M76.7 406.7h.6M82.4 411.0h.6M95.7 410.0h.6M94.3 405.6h.6M79.1 408.9h.6M77.8 408.1h.6M68.7 401.3h.6M73.7 411.0h.6M83.8 410.8h.6M83.6 407.6h.6M81.0 404.6h.6M89.0 413.9h.6M73.0 409.9h.6M79.5 412.4h.6M86.6 413.7h.6M85.3 407.3h.6M89.6 411.7h.6M83.6 408.2h.6M77.2 408.8h.6M83.3 408.7h.6M71.0 409.0h.6M65.2 412.7h.6M85.2 409.4h.6M79.5 408.5h.6M82.8 408.1h.6M64.7 410.1h.6M76.7 406.0h.6M74.6 407.3h.6M72.2 408.8h.6M59.7 407.1h.6M77.0 408.6h.6M88.1 407.0h.6M83.4 415.6h.6M74.6 413.4h.6M79.9 410.5h.6M86.8 408.8h.6M55.2 416.2h.6M78.9 410.1h.6M84.9 408.7h.6M86.1 410.0h.6M95.3 410.0h.6M90.2 413.7h.6M82.8 408.9h.6M82.7 415.9h.6M87.1 406.1h.6M75.1 411.3h.6M79.6 405.7h.6M88.2 415.0h.6M97.6 407.9h.6M78.6 408.8h.6M79.6 412.0h.6M81.8 413.1h.6M92.1 405.3h.6M79.7 407.9h.6M93.2 404.4h.6M71.3 409.5h.6M78.3 408.7h.6M78.2 407.8h.6M87.1 406.7h.6M89.4 407.7h.6M66.4 406.5h.6M71.8 410.7h.6M83.0 414.0h.6M74.1 402.6h.6M66.3 408.6h.6M89.3 407.6h.6M84.4 410.6h.6M84.4 405.9h.6M75.7 408.5h.6M89.3 405.6h.6M77.8 411.3h.6M89.9 409.3h.6M71.8 408.5h.6M72.3 410.2h.6M81.8 408.2h.6M73.7 403.9h.6M86.1 411.0h.6M82.3 410.0h.6M71.7 408.5h.6M80.7 412.3h.6M76.8 413.0h.6M88.2 405.4h.6M74.3 406.4h.6M76.0 414.1h.6M90.9 413.7h.6M100.1 406.6h.6M98.0 405.1h.6M80.6 406.9h.6M82.0 407.4h.6M93.8 403.8h.6M78.9 409.1h.6M71.2 404.8h.6M81.1 405.0h.6M84.1 412.0h.6M72.5 406.7h.6M65.2 408.8h.6M67.1 411.1h.6M86.0 411.7h.6M73.2 407.9h.6M78.7 409.1h.6M81.9 406.3h.6M85.6 414.8h.6M77.0 411.1h.6M84.5 405.4h.6M72.0 409.0h.6M76.7 411.4h.6M70.8 410.6h.6M90.2 415.0h.6M79.8 413.5h.6M73.3 407.2h.6M76.8 408.7h.6M78.0 404.8h.6M86.3 409.8h.6M65.6 409.5h.6M70.7 417.9h.6M76.6 409.3h.6M102.8 402.1h.6M88.6 406.8h.6M79.0 409.4h.6M86.4 404.9h.6M98.5 406.1h.6M77.9 407.8h.6M76.7 410.1h.6M90.9 408.5h.6M84.4 406.1h.6M86.0 411.6h.6M75.4 407.2h.6M97.3 407.4h.6M95.4 404.4h.6M85.1 406.4h.6M86.2 411.2h.6M61.8 403.7h.6M85.7 408.8h.6M78.3 411.4h.6M83.9 407.8h.6M86.1 409.8h.6M76.9 405.3h.6M64.8 413.3h.6M83.3 412.6h.6M73.3 409.8h.6M77.0 403.2h.6M74.6 405.5h.6M76.9 412.2h.6M59.2 414.7h.6M91.0 410.0h.6M82.3 413.1h.6M90.0 407.0h.6M97.8 408.4h.6M80.2 409.0h.6M63.8 410.4h.6M72.0 404.0h.6M69.1 412.1h.6M75.5 413.4h.6M80.7 405.2h.6M62.0 404.5h.6M83.1 410.2h.6M66.4 406.8h.6M82.7 401.2h.6M79.0 411.7h.6M77.2 409.5h.6M79.3 407.4h.6M75.1 416.0h.6M74.5 409.5h.6M64.9 406.5h.6M79.7 409.3h.6M96.6 405.6h.6M97.8 406.5h.6M91.9 410.3h.6M86.4 407.2h.6M73.9 407.5h.6M93.0 414.5h.6M79.5 411.8h.6M79.4 411.6h.6M77.4 410.7h.6M80.8 410.6h.6M76.1 413.8h.6M79.2 408.9h.6M70.2 415.1h.6M76.6 405.9h.6M100.5 408.2h.6M79.4 404.5h.6M77.9 407.9h.6M84.8 410.7h.6M86.4 413.8h.6M70.0 406.8h.6M78.1 409.0h.6M88.3 407.8h.6M82.4 406.6h.6M81.1 405.1h.6M94.0 409.2h.6M73.9 403.3h.6M80.7 409.4h.6M75.3 409.1h.6M93.4 406.8h.6M62.4 405.7h.6M74.0 404.4h.6M75.2 415.2h.6M86.0 404.6h.6M85.5 414.1h.6M92.6 411.0h.6M65.8 407.8h.6M86.8 405.2h.6M77.4 412.4h.6M74.0 414.7h.6M84.9 405.9h.6M71.7 408.0h.6M61.3 412.5h.6M76.7 410.1h.6M66.5 415.6h.6M74.2 407.1h.6M83.3 410.8h.6M82.8 404.9h.6M94.3 415.9h.6M78.2 406.6h.6M66.2 401.7h.6M73.2 408.6h.6M71.7 408.5h.6M69.0 415.3h.6M83.9 407.9h.6M74.2 409.0h.6M62.2 411.0h.6M86.3 414.2h.6M79.0 408.8h.6M83.2 412.4h.6M81.0 410.7h.6M85.7 408.0h.6M80.3 409.3h.6M91.1 409.1h.6M83.8 406.0h.6M83.5 413.0h.6M83.7 404.4h.6M66.9 412.9h.6M78.5 412.1h.6M77.7 408.7h.6M81.9 406.5h.6M67.8 408.3h.6M94.7 410.6h.6M80.9 411.5h.6M69.1 409.9h.6M64.6 412.3h.6M77.5 407.2h.6M79.2 409.8h.6M73.5 403.8h.6M80.8 411.5h.6M74.2 409.5h.6M85.0 407.6h.6M73.5 412.8h.6M79.7 411.3h.6M88.8 399.7h.6M103.1 409.1h.6M70.9 404.2h.6M75.8 412.5h.6M72.4 417.2h.6M87.1 407.3h.6M69.7 409.2h.6M75.6 408.2h.6M79.7 410.2h.6M71.2 411.1h.6M71.4 413.2h.6M75.7 405.7h.6M61.1 414.2h.6M67.0 405.9h.6M76.3 409.9h.6M81.3 412.8h.6M78.3 411.4h.6M64.0 405.9h.6M75.8 406.7h.6M87.2 407.5h.6M85.0 408.8h.6M79.3 412.8h.6M72.0 404.7h.6M85.7 410.5h.6M74.8 411.0h.6M69.5 410.8h.6M72.8 410.5h.6M93.0 414.0h.6M82.0 410.6h.6M90.4 411.8h.6M75.7 410.9h.6M88.4 414.9h.6M74.6 402.7h.6M78.6 413.2h.6M102.4 408.1h.6M86.9 408.1h.6M75.5 405.8h.6M79.2 402.8h.6M82.9 407.7h.6M90.9 406.7h.6M75.6 410.6h.6M64.3 404.1h.6M77.5 413.7h.6M80.1 409.9h.6M81.0 408.2h.6M91.9 406.7h.6M82.9 406.4h.6M87.3 405.3h.6M70.1 407.2h.6M87.8 409.0h.6M98.9 408.4h.6M87.0 404.3h.6M82.3 408.1h.6M81.4 406.1h.6M96.1 409.5h.6M71.7 415.2h.6M79.0 411.1h.6M84.1 408.0h.6M86.7 403.6h.6M76.1 404.3h.6M82.8 403.4h.6M77.5 411.4h.6M81.1 406.5h.6M78.8 409.2h.6M69.7 406.9h.6M79.8 409.3h.6M87.9 413.6h.6M71.3 406.7h.6M77.8 407.9h.6M86.0 406.3h.6M70.4 411.9h.6M81.6 405.6h.6M70.5 405.3h.6M90.2 404.4h.6M100.8 404.4h.6M98.2 410.6h.6M78.0 417.5h.6M86.7 405.7h.6M81.1 412.1h.6M80.9 409.8h.6M93.9 405.4h.6M68.1 408.1h.6M89.5 408.2h.6M79.6 406.7h.6M92.7 415.4h.6M81.7 402.7h.6M73.9 410.3h.6M82.5 410.1h.6M86.6 407.1h.6M80.3 409.5h.6M84.4 411.9h.6M75.3 409.5h.6M60.8 410.4h.6M88.1 411.3h.6M86.3 402.3h.6M81.3 413.9h.6M80.6 416.5h.6M89.3 412.2h.6M75.9 412.3h.6M73.6 404.4h.6M78.3 408.6h.6M90.7 406.3h.6M67.5 407.1h.6M90.7 412.2h.6M74.2 406.3h.6M70.1 408.6h.6M91.3 402.7h.6M79.1 408.5h.6M68.3 409.3h.6M76.8 406.7h.6M88.4 406.6h.6M90.7 415.2h.6M76.2 405.0h.6M83.7 405.5h.6M86.4 406.3h.6M74.2 413.0h.6M83.2 415.9h.6M79.7 410.1h.6M75.2 406.6h.6M75.6 407.6h.6M80.6 412.5h.6M80.3 406.0h.6M74.9 413.8h.6M76.2 413.7h.6M90.0 409.2h.6M81.9 411.1h.6M88.0 411.5h.6M90.8 414.1h.6M85.3 405.5h.6M100.4 412.9h.6M72.6 407.8h.6M87.3 406.5h.6M77.1 409.3h.6M96.7 408.3h.6M95.3 405.7h.6M62.4 403.7h.6M71.3 405.9h.6M86.0 413.8h.6M87.1 415.5h.6M86.6 411.1h.6M79.4 412.9h.6M84.1 407.3h.6M85.9 408.7h.6M79.3 409.9h.6M89.2 405.4h.6M59.7 405.7h.6M85.7 409.3h.6M70.7 407.9h.6M88.6 405.5h.6M77.9 410.3h.6M72.0 408.1h.6M83.4 412.4h.6M71.8 409.0h.6M71.8 408.0h.6M65.9 409.4h.6M79.8 408.4h.6M84.5 406.8h.6M89.2 407.7h.6M78.7 411.5h.6M89.4 411.1h.6M80.2 413.2h.6M79.2 403.4h.6M85.2 407.7h.6M89.5 407.6h.6M76.9 409.6h.6M77.8 407.5h.6M78.6 407.3h.6M80.7 411.6h.6M71.9 409.6h.6M89.3 405.2h.6M76.4 413.4h.6M84.2 412.3h.6M72.6 407.1h.6M83.2 411.7h.6M83.5 406.6h.6M76.2 412.7h.6M98.2 408.3h.6M83.3 406.4h.6M96.0 407.8h.6M88.6 406.5h.6M74.0 409.6h.6M76.6 409.6h.6M83.9 409.1h.6M80.6 407.2h.6M80.4 396.9h.6M77.4 409.3h.6M63.7 402.7h.6M78.0 409.8h.6M60.0 412.7h.6M83.3 409.9h.6M73.5 407.7h.6M73.6 408.4h.6M78.0 408.6h.6M82.5 407.2h.6M67.1 407.1h.6M64.3 406.0h.6M70.4 412.9h.6M61.6 408.9h.6M71.3 412.2h.6M94.3 408.2h.6M70.5 409.2h.6M85.9 408.4h.6M67.7 410.5h.6M82.7 411.7h.6M77.1 409.8h.6M79.5 406.8h.6M85.1 406.4h.6M95.8 414.5h.6M81.8 408.1h.6M81.1 408.0h.6M71.2 413.8h.6M85.3 412.6h.6M77.8 410.8h.6M87.5 407.7h.6M79.6 416.8h.6M95.7 410.3h.6M62.2 410.8h.6M77.3 408.4h.6M87.9 404.3h.6M76.8 404.6h.6M72.9 410.3h.6M77.6 410.3h.6M67.6 408.2h.6M81.1 405.1h.6M102.0 404.2h.6M90.3 407.9h.6M70.0 404.2h.6M72.1 412.0h.6M76.4 412.8h.6M89.0 418.3h.6M72.6 411.9h.6M73.8 407.0h.6M88.0 406.1h.6M87.8 397.6h.6M76.6 407.0h.6M69.9 408.4h.6M66.1 412.2h.6M73.7 411.0h.6M59.9 410.9h.6M86.7 409.7h.6M74.3 411.2h.6M84.3 413.8h.6M96.8 405.5h.6M90.6 407.5h.6M69.6 404.4h.6M87.8 414.3h.6M90.4 413.3h.6M73.3 411.5h.6M71.4 405.0h.6M79.0 409.6h.6M65.6 408.2h.6M93.2 409.3h.6M58.4 408.4h.6M70.0 410.7h.6M77.6 407.7h.6M78.0 411.8h.6M81.5 409.8h.6M82.4 408.0h.6M78.1 408.6h.6M90.2 407.5h.6M60.7 411.7h.6M80.0 408.1h.6M73.6 410.0h.6M81.2 407.7h.6M82.0 404.1h.6M71.8 412.0h.6M74.2 405.5h.6M87.1 411.2h.6M83.1 410.4h.6M73.9 403.5h.6M98.4 405.9h.6M100.8 407.3h.6M66.8 406.3h.6M82.7 405.1h.6M102.6 411.4h.6M87.1 408.2h.6M82.0 410.3h.6M78.1 407.6h.6M75.1 410.0h.6M78.1 406.5h.6M75.0 408.9h.6M86.7 410.9h.6M76.4 409.1h.6M76.0 407.5h.6M69.2 405.4h.6M79.6 409.6h.6M72.0 410.1h.6M78.4 408.1h.6M89.4 406.5h.6M83.3 410.8h.6M84.5 417.2h.6M83.2 408.0h.6M80.5 410.1h.6M78.9 410.2h.6M77.2 400.5h.6M86.8 409.4h.6M70.2 406.7h.6M92.1 413.6h.6M80.3 408.2h.6M73.3 406.4h.6M75.6 408.3h.6M73.9 409.5h.6M81.4 407.2h.6M73.5 408.8h.6M90.3 404.5h.6M73.0 408.3h.6M59.5 411.6h.6M73.4 415.5h.6M61.9 411.3h.6M79.6 409.9h.6M89.5 412.9h.6M85.8 412.4h.6M68.0 414.5h.6M73.1 412.6h.6M96.0 408.6h.6M82.9 409.9h.6M80.0 409.6h.6M89.5 410.0h.6M102.1 409.7h.6M91.7 406.4h.6M81.3 402.1h.6M83.2 406.8h.6M85.6 402.3h.6M74.5 409.2h.6M70.5 409.0h.6M80.5 403.5h.6M71.5 411.3h.6M79.4 411.9h.6M80.9 409.3h.6M101.1 414.5h.6M72.3 415.2h.6M78.9 405.0h.6M78.5 412.4h.6M83.9 410.5h.6M89.4 410.4h.6M75.6 412.1h.6M72.6 406.6h.6M65.2 407.0h.6M71.7 406.3h.6M84.8 406.5h.6M80.4 408.7h.6M70.9 404.2h.6M76.6 405.5h.6M80.3 410.9h.6M84.5 408.8h.6M74.7 410.3h.6M77.7 402.8h.6M63.6 406.4h.6M69.6 407.2h.6M94.6 409.1h.6M60.3 407.1h.6M77.0 412.1h.6M82.0 408.8h.6M76.6 409.1h.6M72.7 409.0h.6M79.5 411.3h.6M80.0 407.4h.6M79.3 412.7h.6M63.1 410.5h.6M78.7 409.5h.6M72.3 409.1h.6M75.1 410.7h.6M82.0 412.4h.6M85.8 412.1h.6M88.1 410.2h.6M75.5 411.9h.6M88.3 409.4h.6M90.6 413.1h.6M90.2 408.9h.6M92.5 402.2h.6M78.7 413.4h.6M78.4 409.4h.6M87.4 405.1h.6M67.7 408.3h.6M81.9 406.1h.6M75.2 415.9h.6M76.7 410.6h.6M64.3 403.8h.6M72.0 410.8h.6M79.8 407.7h.6M88.0 415.3h.6M88.9 405.5h.6M79.3 401.6h.6M78.3 409.2h.6M72.5 407.9h.6M83.6 407.6h.6M77.8 401.9h.6M85.5 410.4h.6M95.8 414.5h.6M79.7 402.7h.6M66.5 412.9h.6M72.3 407.1h.6M66.9 416.8h.6M69.2 410.4h.6M91.7 408.4h.6M82.0 412.6h.6M66.3 410.7h.6M85.9 407.0h.6M91.3 411.3h.6M76.8 407.3h.6M73.9 403.1h.6M77.0 415.7h.6M82.6 407.8h.6M85.8 407.0h.6M90.6 410.1h.6M90.9 403.9h.6M90.7 404.5h.6M92.3 407.4h.6M86.0 407.3h.6M66.2 409.2h.6M78.8 412.7h.6M82.8 407.4h.6M76.6 410.6h.6M88.2 411.0h.6M76.8 405.4h.6M71.7 409.8h.6M93.0 405.9h.6M86.0 412.5h.6M82.0 410.5h.6M88.3 409.1h.6M89.6 404.6h.6M83.1 409.4h.6M57.9 406.5h.6M73.9 411.3h.6M75.9 408.6h.6M71.1 406.3h.6M81.8 412.1h.6M90.7 411.4h.6M75.6 407.0h.6M69.8 412.8h.6M98.3 408.0h.6M75.9 408.0h.6M68.9 409.4h.6M82.1 406.5h.6M83.8 407.5h.6M73.7 408.5h.6M87.1 414.0h.6M75.6 413.9h.6M71.7 408.1h.6M81.6 414.3h.6M86.9 408.9h.6M74.3 410.3h.6M83.0 411.9h.6M79.2 410.0h.6M105.4 417.0h.6M73.6 409.8h.6M92.5 405.0h.6M79.5 413.3h.6M78.9 407.6h.6M86.5 408.0h.6M88.0 399.1h.6M91.4 412.3h.6M83.0 411.7h.6M74.6 411.6h.6M75.2 412.2h.6M84.6 414.6h.6M85.2 408.8h.6M92.6 412.1h.6M83.8 406.5h.6M89.5 407.8h.6M93.7 412.5h.6M81.5 410.3h.6M66.6 404.6h.6M69.4 410.2h.6M67.1 408.4h.6M94.3 406.3h.6M72.4 410.4h.6M91.1 407.7h.6M85.3 403.8h.6M95.4 405.3h.6M89.0 414.8h.6M79.1 404.0h.6M78.2 409.7h.6M66.1 409.7h.6M66.4 411.0h.6M47.7 408.4h.6M56.8 404.7h.6M61.4 406.1h.6M68.0 412.1h.6M53.6 411.0h.6M48.4 414.9h.6M70.0 409.7h.6M71.1 412.4h.6M63.7 414.0h.6M53.9 412.9h.6M64.1 407.4h.6M61.1 408.9h.6M68.4 409.9h.6M47.5 406.1h.6M61.2 411.1h.6M58.4 413.0h.6M48.9 407.9h.6M62.2 416.2h.6M60.3 408.5h.6M55.9 408.8h.6M64.0 408.7h.6M45.8 407.1h.6M59.5 410.9h.6M64.3 409.6h.6M62.8 415.1h.6M70.8 411.6h.6M48.0 411.3h.6M44.9 408.7h.6M62.4 404.7h.6M64.6 409.2h.6M81.2 406.6h.6M66.2 412.7h.6M51.3 409.4h.6M68.1 415.2h.6M51.5 412.0h.6M45.1 412.3h.6M86.1 410.3h.6M63.3 410.2h.6M67.1 411.7h.6M65.6 412.6h.6M78.1 407.1h.6M62.8 411.2h.6M72.2 418.4h.6M49.7 409.2h.6M46.1 408.6h.6M74.3 407.1h.6M74.7 404.6h.6M65.1 413.5h.6M62.3 409.7h.6M61.7 410.5h.6M53.1 415.8h.6M75.4 418.0h.6M66.6 406.5h.6M65.1 413.1h.6M63.8 411.6h.6M70.5 410.9h.6M65.1 411.1h.6M67.5 409.4h.6M48.3 414.9h.6M65.1 411.6h.6M81.9 410.7h.6M54.8 413.7h.6M58.7 412.6h.6M68.9 411.1h.6M69.6 410.6h.6M66.2 415.5h.6M43.8 411.2h.6M65.0 409.2h.6M48.2 406.6h.6M51.8 408.3h.6M65.5 405.9h.6M57.0 409.9h.6M68.1 410.4h.6M91.5 402.5h.6M67.8 409.6h.6M67.2 411.7h.6M51.0 410.1h.6M53.6 406.3h.6M49.4 413.8h.6M54.7 407.1h.6M49.1 405.3h.6M53.4 405.8h.6M57.9 409.5h.6M50.0 412.9h.6M45.8 413.5h.6M46.4 410.2h.6M64.5 405.4h.6M60.6 407.3h.6M70.3 406.5h.6M70.4 408.9h.6M56.6 403.5h.6M66.7 409.9h.6M45.6 411.7h.6M82.8 409.0h.6M72.0 411.1h.6M57.8 406.3h.6M48.4 404.6h.6M63.8 407.3h.6M41.3 413.4h.6M52.2 413.0h.6M67.5 407.9h.6M60.8 413.6h.6M55.1 408.4h.6M69.5 414.6h.6M49.6 411.1h.6M62.8 408.0h.6M55.0 412.2h.6M51.5 406.9h.6M64.6 406.3h.6M50.1 404.6h.6M79.0 410.4h.6M54.2 409.3h.6M79.9 409.2h.6M49.1 408.1h.6M66.1 414.4h.6M48.0 408.1h.6M46.6 407.0h.6M61.6 413.7h.6M66.8 414.3h.6M47.3 410.7h.6M71.8 403.6h.6M52.0 407.5h.6M61.3 411.6h.6M63.8 409.6h.6M65.9 414.8h.6M42.0 404.9h.6M76.2 411.8h.6M65.6 407.4h.6M55.7 414.0h.6M49.8 409.2h.6M43.1 413.0h.6M46.4 407.3h.6M65.4 404.7h.6M56.6 405.7h.6M48.7 407.4h.6M54.7 406.0h.6M75.6 413.6h.6M56.7 414.1h.6M54.2 410.4h.6M73.5 406.0h.6M64.6 409.1h.6M60.4 407.2h.6M53.9 414.4h.6M44.5 410.6h.6M48.3 411.2h.6M55.2 408.1h.6M57.8 402.7h.6M63.6 406.9h.6M65.5 405.7h.6M62.2 410.8h.6M62.2 409.8h.6M49.9 406.8h.6M54.8 414.8h.6M50.5 406.2h.6M53.5 406.4h.6M57.3 408.7h.6M47.6 407.1h.6M48.9 408.0h.6M59.0 411.3h.6M61.2 415.4h.6M53.4 403.4h.6M65.0 409.4h.6M57.8 409.6h.6M49.8 409.2h.6M60.4 408.9h.6M78.8 408.3h.6M53.3 412.9h.6M71.7 407.9h.6M73.8 409.1h.6M75.0 409.5h.6M51.8 409.9h.6M80.2 408.9h.6M61.2 412.9h.6M57.5 409.5h.6M57.7 410.1h.6M66.0 409.3h.6M60.5 406.1h.6M58.2 406.7h.6M72.8 405.9h.6M52.8 410.2h.6M49.6 407.1h.6M67.9 405.9h.6M67.0 410.3h.6M70.9 411.3h.6M49.3 403.5h.6M70.8 415.2h.6M64.8 409.6h.6M77.6 409.1h.6M47.5 413.1h.6M62.2 409.7h.6M57.2 407.4h.6M44.1 417.0h.6M52.9 405.8h.6M71.3 409.2h.6M55.3 412.4h.6M52.8 405.9h.6M68.7 409.2h.6M69.9 410.8h.6M69.9 417.7h.6M52.1 406.5h.6M59.4 409.3h.6M70.3 411.7h.6M53.4 409.8h.6M52.5 405.4h.6M68.3 410.9h.6M75.6 409.9h.6M48.5 411.0h.6M45.5 412.9h.6M49.9 410.9h.6M58.6 410.6h.6M66.2 405.8h.6M58.5 409.0h.6M53.0 410.2h.6M61.5 408.1h.6M50.4 409.8h.6M59.5 406.7h.6M53.6 414.7h.6M86.8 416.8h.6M68.2 408.2h.6M51.6 410.9h.6M50.0 408.7h.6M55.6 413.8h.6M43.6 411.0h.6M52.7 409.8h.6M52.6 408.7h.6M68.8 409.9h.6M55.7 406.1h.6M52.1 411.8h.6M46.6 407.1h.6M48.2 411.3h.6M59.3 409.9h.6M57.8 413.2h.6M71.3 409.4h.6M53.7 413.0h.6M70.6 406.4h.6M62.6 411.6h.6M60.0 408.7h.6M47.1 409.7h.6M67.4 412.7h.6M74.0 402.6h.6M62.1 410.6h.6M67.6 404.4h.6M55.9 413.6h.6M56.3 402.8h.6M53.4 406.1h.6M69.7 403.8h.6M63.4 415.1h.6M57.7 405.1h.6M56.7 409.9h.6M65.6 407.7h.6M63.2 403.4h.6M51.7 408.4h.6M77.2 411.8h.6M62.6 408.9h.6M60.1 412.7h.6M74.8 408.3h.6M70.2 409.5h.6M59.1 408.2h.6M65.4 410.7h.6M49.3 416.0h.6M53.6 410.7h.6M72.2 407.4h.6M66.8 414.5h.6M51.7 405.7h.6M50.2 406.4h.6M58.0 409.2h.6M62.7 408.1h.6M66.1 416.2h.6M77.7 401.5h.6M63.6 410.7h.6M68.8 411.9h.6M54.0 405.7h.6M67.1 407.3h.6M61.5 411.0h.6M55.4 415.0h.6M59.0 406.4h.6M59.4 404.1h.6M61.9 412.8h.6M64.0 414.7h.6M54.9 408.4h.6M52.6 402.0h.6M67.5 414.4h.6M43.0 408.8h.6M53.8 413.3h.6M75.5 409.4h.6M53.1 408.0h.6M66.9 414.5h.6M43.5 414.4h.6M86.0 402.2h.6M74.4 415.5h.6M75.6 408.3h.6M69.2 404.9h.6M57.8 409.5h.6M63.6 409.1h.6M51.0 409.2h.6M68.1 407.9h.6M48.8 408.4h.6M57.3 407.9h.6M70.0 410.6h.6M48.9 406.7h.6M56.4 408.5h.6M61.6 409.0h.6M46.6 413.9h.6M71.6 410.8h.6M63.4 409.1h.6M44.8 411.3h.6M59.5 410.9h.6M52.2 413.2h.6M53.4 411.2h.6M60.8 415.6h.6M52.9 414.1h.6M69.6 409.4h.6M53.0 408.1h.6M69.8 412.5h.6M59.6 411.3h.6M68.6 409.2h.6M54.6 404.5h.6M54.9 403.3h.6M48.5 410.7h.6M65.8 412.1h.6M69.4 412.2h.6M81.2 405.1h.6M72.9 413.0h.6M62.5 407.7h.6M57.9 410.8h.6M63.9 410.9h.6M59.7 406.8h.6M74.6 407.5h.6M69.4 402.5h.6M51.6 406.4h.6M53.1 403.4h.6M73.7 411.0h.6M63.1 409.7h.6M57.7 412.6h.6M71.9 410.7h.6M56.1 407.3h.6M57.2 410.7h.6M55.4 408.2h.6M68.6 410.6h.6M47.9 406.1h.6M54.3 409.5h.6M52.6 409.7h.6M67.3 408.5h.6M59.3 412.5h.6M60.2 415.3h.6M43.2 408.2h.6M59.1 408.3h.6M45.2 401.9h.6M63.1 409.1h.6M63.7 408.0h.6M59.8 402.2h.6M80.4 410.5h.6M65.3 411.5h.6M66.0 407.0h.6M61.4 408.2h.6M58.1 406.2h.6M69.7 412.1h.6M71.0 404.3h.6M47.0 408.4h.6M70.5 416.1h.6M65.1 409.7h.6M69.6 411.1h.6M64.7 409.0h.6M47.6 405.5h.6M48.3 409.4h.6M78.2 410.9h.6M62.5 406.0h.6M45.8 410.7h.6M63.5 413.7h.6M56.4 413.1h.6M41.6 404.1h.6M44.0 404.0h.6M62.7 413.1h.6M59.5 411.6h.6M57.5 411.9h.6M62.8 406.5h.6M66.0 405.5h.6M57.0 409.8h.6M51.7 406.6h.6M47.7 410.0h.6M54.5 411.7h.6M58.8 410.3h.6M57.3 406.0h.6M45.5 402.3h.6M55.2 408.6h.6M80.2 410.1h.6M49.5 408.6h.6M43.1 408.0h.6M62.8 407.1h.6M66.0 411.9h.6M64.6 409.3h.6M48.8 409.9h.6M70.0 406.2h.6M52.1 407.4h.6M48.7 410.1h.6M53.9 406.1h.6M58.9 405.2h.6M67.1 408.4h.6M66.2 413.6h.6M59.8 410.1h.6M69.3 414.5h.6M60.8 409.1h.6M69.0 408.4h.6M46.0 404.8h.6M44.3 407.5h.6M67.8 414.4h.6M46.1 410.6h.6M57.0 412.0h.6M59.0 411.9h.6M55.1 409.5h.6M55.5 408.8h.6M73.9 409.9h.6M68.8 411.1h.6M83.0 411.2h.6M60.2 410.0h.6M59.8 406.9h.6M67.3 408.6h.6M78.3 406.3h.6M48.1 412.9h.6M60.9 402.4h.6M58.1 408.8h.6M65.6 417.6h.6M61.6 408.3h.6M66.6 405.6h.6M55.8 409.4h.6M60.5 413.9h.6M53.3 409.0h.6M53.4 411.6h.6M58.6 409.8h.6M58.6 408.2h.6M48.3 420.2h.6M75.7 409.7h.6M58.6 407.7h.6M46.2 407.8h.6M71.0 410.8h.6M52.5 410.9h.6M65.1 412.1h.6M59.8 410.0h.6M62.5 404.6h.6M61.7 411.3h.6M54.2 408.4h.6M60.4 408.5h.6M80.3 404.5h.6M60.7 407.0h.6M64.3 409.4h.6M49.5 404.6h.6M46.3 409.7h.6M81.6 409.9h.6M56.3 405.7h.6M80.8 407.4h.6M65.4 406.6h.6M60.8 412.6h.6M64.8 400.9h.6M66.4 408.3h.6M71.8 403.9h.6M64.4 408.0h.6M61.4 412.4h.6M61.8 407.4h.6M73.5 410.0h.6M68.2 406.6h.6M50.0 416.1h.6M53.6 412.6h.6M63.3 413.3h.6M53.8 405.0h.6M56.2 405.8h.6M50.4 413.2h.6M57.4 408.8h.6M64.2 408.6h.6M70.0 410.6h.6M60.1 405.2h.6M80.7 412.1h.6M59.2 409.6h.6M91.9 411.1h.6M70.0 407.2h.6M65.0 411.2h.6M55.0 407.1h.6M58.4 413.3h.6M61.8 412.6h.6M79.2 411.3h.6M46.2 411.7h.6M79.1 400.3h.6M57.5 412.3h.6M67.2 408.6h.6M61.4 408.5h.6M56.6 404.8h.6M66.8 407.7h.6M60.9 411.7h.6M48.6 414.3h.6M69.5 407.4h.6M66.9 406.4h.6M66.0 414.4h.6M70.1 406.5h.6M71.0 416.6h.6M59.8 409.7h.6M46.4 406.5h.6M46.2 412.8h.6M73.5 415.3h.6M67.1 404.6h.6M61.0 414.8h.6M55.7 408.5h.6M60.3 414.6h.6M60.2 408.2h.6M56.6 404.1h.6M53.0 411.2h.6M81.6 412.7h.6M62.3 416.6h.6M53.9 415.4h.6M47.0 411.9h.6M52.7 408.7h.6M67.2 407.7h.6M67.6 408.5h.6M57.8 406.7h.6M60.5 408.6h.6M56.9 400.8h.6M48.9 410.1h.6M73.0 409.4h.6M63.7 418.2h.6M84.8 412.1h.6M52.4 407.9h.6M58.6 411.4h.6M68.8 405.3h.6M57.5 407.5h.6M46.1 403.2h.6M50.5 414.4h.6M61.0 411.5h.6M63.4 405.5h.6M59.1 409.3h.6M70.0 412.7h.6M69.9 411.2h.6M63.2 410.8h.6M60.3 406.6h.6M57.5 407.3h.6M65.5 409.8h.6M69.2 412.6h.6M92.9 406.9h.6M91.4 409.0h.6M102.7 408.2h.6M92.3 412.7h.6M102.4 410.3h.6M98.2 407.2h.6M101.4 400.2h.6M105.7 410.3h.6M100.4 410.4h.6M100.9 405.1h.6M92.4 401.6h.6M93.5 404.3h.6M100.2 411.0h.6M104.7 404.6h.6M104.0 406.5h.6M108.6 408.7h.6M98.6 411.9h.6M98.0 407.9h.6M102.0 407.7h.6M97.1 406.2h.6M96.7 413.2h.6M91.8 411.4h.6M102.0 407.7h.6M91.6 403.5h.6M99.6 405.5h.6M89.9 409.9h.6M102.5 405.7h.6M91.9 410.9h.6M101.2 409.2h.6M89.1 408.9h.6M94.8 410.1h.6M102.9 409.6h.6M93.0 405.3h.6M97.3 407.0h.6M94.6 415.5h.6M85.5 404.1h.6M98.5 406.5h.6M99.2 411.4h.6M91.5 407.5h.6M99.9 405.4h.6M93.0 403.8h.6M92.0 409.7h.6M97.0 411.3h.6M93.6 412.5h.6M108.5 408.2h.6M89.2 411.3h.6M100.7 404.7h.6M101.9 408.5h.6M87.1 405.8h.6M88.3 408.6h.6M99.8 410.4h.6M94.6 411.4h.6M98.9 404.8h.6M102.7 412.1h.6M95.1 406.5h.6M91.7 404.7h.6M83.4 407.5h.6M98.0 403.3h.6M92.4 408.0h.6M98.6 408.9h.6M98.2 407.4h.6M90.1 409.7h.6M105.6 407.0h.6M102.4 408.0h.6M101.2 403.4h.6M91.1 408.1h.6M95.0 405.3h.6M94.3 406.6h.6M94.9 407.7h.6M91.4 408.6h.6M99.2 402.7h.6M98.1 403.0h.6M98.8 407.0h.6M94.5 409.5h.6M103.5 409.2h.6M97.9 410.9h.6M83.3 412.2h.6M93.8 409.6h.6M96.7 407.9h.6M101.8 404.7h.6M95.5 405.0h.6M95.7 406.5h.6M93.7 408.9h.6M100.3 408.7h.6M94.8 408.0h.6M94.0 407.5h.6M93.3 410.0h.6M99.8 408.7h.6M94.3 409.0h.6M88.6 409.0h.6M100.1 406.3h.6M93.5 404.7h.6M98.8 409.6h.6M98.9 409.3h.6M103.0 407.3h.6M102.2 406.7h.6M94.1 415.3h.6M96.2 405.6h.6M90.5 407.3h.6M105.4 408.8h.6M99.2 404.3h.6M104.0 408.4h.6M95.4 413.8h.6M86.8 411.0h.6M104.7 410.0h.6M97.5 409.9h.6M97.7 408.4h.6M97.3 411.1h.6M100.2 407.5h.6M99.7 406.6h.6M89.0 408.3h.6M102.4 410.9h.6M94.4 409.1h.6M94.7 410.2h.6M105.6 401.5h.6M101.6 411.8h.6M95.3 415.5h.6M87.7 412.3h.6M97.8 407.0h.6M99.7 405.3h.6M96.6 408.9h.6M90.8 404.8h.6M93.0 410.3h.6M90.7 406.3h.6M98.1 411.1h.6M101.1 412.4h.6M102.1 401.5h.6M93.3 408.9h.6M98.2 405.8h.6M99.8 403.5h.6M94.4 406.0h.6M96.3 407.3h.6M107.6 411.3h.6M98.0 403.1h.6M101.4 411.4h.6M94.8 414.5h.6M97.2 409.9h.6M88.4 409.7h.6M96.9 408.0h.6M103.0 404.2h.6M107.5 409.7h.6M103.0 409.2h.6M100.4 410.3h.6M97.3 416.2h.6M94.0 410.3h.6M96.2 409.4h.6M100.1 413.0h.6M93.1 403.7h.6M101.7 404.3h.6M92.1 406.8h.6M88.1 405.9h.6M91.9 410.2h.6M88.7 407.0h.6M90.1 413.6h.6M102.7 412.9h.6M96.0 410.5h.6M98.1 406.8h.6M102.8 410.0h.6M103.3 410.6h.6M94.5 404.6h.6M103.6 409.1h.6M98.9 410.3h.6M97.0 408.7h.6M99.2 413.0h.6M89.9 411.9h.6M93.1 405.4h.6M96.5 408.4h.6M100.0 405.3h.6M95.1 409.9h.6M96.4 405.2h.6M101.8 411.0h.6M104.1 409.2h.6M100.8 411.1h.6M103.3 407.5h.6M95.0 403.3h.6M95.5 413.7h.6M98.6 407.4h.6M95.5 412.4h.6M94.5 409.4h.6M105.3 410.2h.6M96.0 413.9h.6M92.2 409.1h.6M99.4 412.5h.6M106.2 403.3h.6M97.4 410.8h.6M103.2 407.2h.6M94.8 407.6h.6M94.5 408.0h.6M93.6 409.1h.6M96.3 413.3h.6M106.2 402.1h.6M91.2 408.1h.6M105.2 405.7h.6M92.0 411.7h.6M95.8 406.6h.6M101.2 409.5h.6M100.2 406.7h.6M98.4 410.1h.6M88.8 411.2h.6M98.8 406.7h.6M91.9 408.2h.6M109.8 403.5h.6M95.9 409.0h.6M97.9 410.7h.6M91.3 406.2h.6M94.6 411.6h.6M90.5 401.4h.6M101.9 402.1h.6M95.7 403.6h.6M99.8 406.4h.6M93.6 408.1h.6M94.5 407.7h.6M103.4 407.8h.6M92.1 410.3h.6M88.0 406.5h.6M99.0 404.0h.6M91.3 404.0h.6M94.8 414.8h.6M101.6 400.5h.6M92.9 407.4h.6M101.4 412.7h.6M93.6 409.5h.6M104.5 405.3h.6M103.6 408.0h.6M94.6 410.8h.6M95.9 411.9h.6M92.8 405.1h.6M98.0 410.4h.6M102.7 408.8h.6M89.8 411.5h.6M101.6 412.4h.6M90.4 406.9h.6M92.7 403.4h.6M88.1 409.3h.6M107.5 413.7h.6M97.3 410.2h.6M98.2 408.7h.6M93.6 415.7h.6M102.3 404.7h.6M86.5 410.9h.6M97.1 406.2h.6M108.0 408.2h.6M95.1 408.3h.6M97.1 412.8h.6M100.4 405.0h.6M92.9 406.3h.6M97.1 402.9h.6M101.8 409.6h.6M98.0 406.5h.6M98.9 409.4h.6M55.6 426.4h.6M108.4 398.7h.6M79.2 400.2h.6M53.5 423.5h.6M78.3 435.3h.6M110.1 440.0h.6M68.8 423.2h.6M95.5 450.1h.6M96.2 424.5h.6M52.7 452.4h.6M64.4 417.1h.6M112.2 402.0h.6M114.6 403.7h.6M49.0 425.3h.6M105.2 416.9h.6M108.9 416.4h.6M106.7 394.8h.6M64.6 395.5h.6M100.8 422.0h.6M94.1 404.4h.6M100.4 461.9h.6M48.4 410.5h.6M111.0 451.1h.6M111.3 403.5h.6M86.8 392.8h.6" stroke="#1a1a1a" stroke-width=".6" fill="none" opacity=".62"/>
<rect x="40.5" y="384.5" width="83" height="80" fill="none" stroke="#666" stroke-width="1"/>
<path d="M75.5 384.5V464.5" stroke="#8a8a8a" stroke-width="1.1" fill="none"/>
<path d="M40.5 430.5H123.5" stroke="#999" stroke-width="0.9" fill="none"/>
<circle cx="75.5" cy="430.5" r="1.3" fill="#222"/>
<text x="41.6" y="389" font-size="3.9" text-anchor="start" font-weight="normal" fill="#222" >0.4%</text>
<text x="121.9" y="389" font-size="3.9" text-anchor="end" font-weight="normal" fill="#222" >83.6%</text>
<text x="41.6" y="463.2" font-size="3.9" text-anchor="start" font-weight="normal" fill="#222" >1.0%</text>
<text x="121.9" y="463.2" font-size="3.9" text-anchor="end" font-weight="normal" fill="#222" >0.0%</text>
<text x="39.1" y="465" font-size="4.1" text-anchor="end" font-weight="normal" fill="#333" >10<tspan dy="-1.5" font-size="2.8">0</tspan></text>
<text x="40.1" y="470" font-size="4.1" text-anchor="middle" font-weight="normal" fill="#333" >10<tspan dy="-1.5" font-size="2.8">0</tspan></text>
<text x="39.1" y="444.95" font-size="4.1" text-anchor="end" font-weight="normal" fill="#333" >10<tspan dy="-1.5" font-size="2.8">1</tspan></text>
<text x="60.93" y="470" font-size="4.1" text-anchor="middle" font-weight="normal" fill="#333" >10<tspan dy="-1.5" font-size="2.8">1</tspan></text>
<text x="39.1" y="424.9" font-size="4.1" text-anchor="end" font-weight="normal" fill="#333" >10<tspan dy="-1.5" font-size="2.8">2</tspan></text>
<text x="81.75" y="470" font-size="4.1" text-anchor="middle" font-weight="normal" fill="#333" >10<tspan dy="-1.5" font-size="2.8">2</tspan></text>
<text x="39.1" y="404.85" font-size="4.1" text-anchor="end" font-weight="normal" fill="#333" >10<tspan dy="-1.5" font-size="2.8">3</tspan></text>
<text x="102.58" y="470" font-size="4.1" text-anchor="middle" font-weight="normal" fill="#333" >10<tspan dy="-1.5" font-size="2.8">3</tspan></text>
<text x="39.1" y="384.8" font-size="4.1" text-anchor="end" font-weight="normal" fill="#333" >10<tspan dy="-1.5" font-size="2.8">4</tspan></text>
<text x="123.4" y="470" font-size="4.1" text-anchor="middle" font-weight="normal" fill="#333" >10<tspan dy="-1.5" font-size="2.8">4</tspan></text>
<text x="176.8" y="378.2" font-size="8.6" text-anchor="middle" font-weight="normal" fill="#222" stroke="#222" stroke-width="0.25">Plating 2</text>
<path d="M182.8 411.8h.6M184.4 410.0h.6M193.6 415.1h.6M189.3 417.0h.6M198.9 410.9h.6M186.3 407.1h.6M181.7 412.5h.6M188.0 406.7h.6M192.3 409.9h.6M184.5 416.9h.6M194.2 421.1h.6M206.5 413.7h.6M187.3 408.3h.6M192.3 415.2h.6M202.7 403.8h.6M186.7 409.7h.6M185.1 418.0h.6M183.2 415.1h.6M195.1 407.1h.6M196.0 406.0h.6M190.7 415.5h.6M192.2 412.1h.6M202.1 410.0h.6M198.8 413.8h.6M180.6 410.1h.6M191.8 405.0h.6M192.7 415.3h.6M197.6 409.8h.6M190.0 408.5h.6M186.6 407.2h.6M188.1 413.2h.6M177.6 409.2h.6M191.6 414.6h.6M187.0 411.3h.6M195.5 416.4h.6M183.6 410.8h.6M188.3 409.8h.6M183.9 404.8h.6M183.2 408.1h.6M197.3 415.0h.6M188.0 423.8h.6M195.3 407.6h.6M182.8 408.4h.6M192.5 413.6h.6M178.2 414.1h.6M187.9 409.7h.6M187.7 412.6h.6M196.4 406.2h.6M193.1 411.2h.6M190.3 415.7h.6M198.4 418.5h.6M193.2 411.7h.6M196.0 411.3h.6M197.8 414.0h.6M191.1 416.5h.6M189.3 414.1h.6M194.3 409.5h.6M188.3 413.6h.6M194.7 416.0h.6M200.5 409.6h.6M198.5 407.2h.6M188.6 414.2h.6M181.4 413.7h.6M191.2 415.9h.6M190.6 412.6h.6M200.5 409.9h.6M188.6 410.6h.6M190.0 408.4h.6M197.5 408.7h.6M187.8 410.2h.6M190.4 410.5h.6M205.3 416.5h.6M203.5 407.7h.6M196.7 412.1h.6M193.8 410.1h.6M183.9 417.9h.6M196.1 413.3h.6M192.1 410.9h.6M193.4 415.4h.6M187.5 412.6h.6M191.5 410.5h.6M190.2 418.1h.6M194.1 415.0h.6M203.0 418.8h.6M194.5 416.7h.6M178.4 415.2h.6M183.9 412.8h.6M179.0 408.2h.6M185.3 415.0h.6M196.1 412.6h.6M194.8 414.9h.6M186.8 412.3h.6M193.7 409.7h.6M185.6 408.5h.6M180.3 415.0h.6M180.4 417.2h.6M184.8 411.2h.6M203.0 414.0h.6M180.9 417.6h.6M201.5 409.2h.6M202.2 411.0h.6M190.2 408.1h.6M191.2 416.8h.6M186.7 413.3h.6M191.4 410.6h.6M196.9 406.1h.6M191.7 411.7h.6M199.6 416.1h.6M201.1 411.2h.6M194.3 410.7h.6M194.2 414.8h.6M191.1 407.7h.6M194.4 412.5h.6M182.7 414.6h.6M194.8 409.4h.6M193.2 409.2h.6M184.7 413.3h.6M208.8 412.0h.6M183.8 411.5h.6M184.6 413.1h.6M193.8 413.2h.6M176.1 408.9h.6M185.3 409.8h.6M179.4 414.0h.6M183.9 416.6h.6M190.5 417.5h.6M194.1 409.2h.6M200.4 416.5h.6M198.0 415.2h.6M201.0 412.2h.6M196.3 414.2h.6M187.8 415.5h.6M200.5 419.1h.6M187.7 408.4h.6M186.7 414.6h.6M203.8 411.8h.6M197.9 411.6h.6M193.3 416.7h.6M197.6 415.5h.6M198.6 408.5h.6M180.7 411.3h.6M190.8 413.2h.6M182.1 407.1h.6M192.5 415.6h.6M186.2 412.1h.6M202.4 413.0h.6M195.7 413.6h.6M185.1 419.2h.6M191.4 412.5h.6M181.9 411.0h.6M191.9 418.9h.6M195.9 410.5h.6M193.7 410.4h.6M176.1 407.2h.6M188.9 416.4h.6M195.6 413.4h.6M194.0 414.2h.6M200.8 413.0h.6M181.3 411.9h.6M195.7 409.4h.6M186.3 409.5h.6M193.1 414.0h.6M194.8 412.9h.6M197.0 418.5h.6M186.9 409.5h.6M193.0 410.6h.6M182.2 408.6h.6M180.3 417.6h.6M196.0 407.8h.6M191.1 415.3h.6M178.6 417.8h.6M184.7 411.9h.6M191.7 415.1h.6M204.0 404.4h.6M199.9 410.9h.6M197.9 406.2h.6M177.3 413.0h.6M190.8 412.4h.6M195.4 409.5h.6M194.7 415.9h.6M194.9 413.7h.6M189.7 410.4h.6M205.6 410.5h.6M203.3 406.9h.6M190.8 411.7h.6M183.7 420.4h.6M208.0 409.7h.6M187.1 414.0h.6M201.1 410.3h.6M206.8 415.4h.6M184.0 414.1h.6M193.9 411.5h.6M188.8 405.7h.6M195.7 410.5h.6M194.1 416.9h.6M207.1 411.5h.6M196.3 414.8h.6M191.5 410.6h.6M200.5 405.4h.6M189.4 414.0h.6M188.6 413.6h.6M209.4 410.2h.6M185.0 411.0h.6M187.6 413.5h.6M191.9 410.2h.6M183.1 413.7h.6M174.7 411.6h.6M200.0 403.6h.6M185.3 411.9h.6M187.2 410.2h.6M188.6 409.3h.6M183.7 413.9h.6M182.9 410.6h.6M192.8 414.4h.6M210.7 416.5h.6M197.4 412.9h.6M197.5 406.6h.6M179.5 409.7h.6M191.3 415.8h.6M182.1 411.4h.6M197.7 409.4h.6M189.7 412.1h.6M191.8 414.3h.6M190.8 413.4h.6M186.9 414.8h.6M179.4 409.3h.6M196.2 411.4h.6M180.5 411.5h.6M182.1 412.3h.6M189.1 404.5h.6M185.9 411.5h.6M193.6 407.4h.6M199.6 417.6h.6M193.5 418.3h.6M193.1 418.7h.6M191.7 415.5h.6M198.4 410.6h.6M176.8 416.0h.6M194.5 411.7h.6M184.1 414.7h.6M181.7 409.0h.6M191.6 410.2h.6M188.4 414.2h.6M196.2 419.1h.6M200.3 412.3h.6M172.9 420.9h.6M190.9 422.8h.6M207.2 407.6h.6M198.5 412.3h.6M203.1 408.9h.6M192.3 411.9h.6M180.0 410.4h.6M182.5 412.2h.6M197.2 416.1h.6M199.2 416.0h.6M185.7 413.4h.6M189.4 412.4h.6M193.6 412.9h.6M177.5 412.9h.6M188.7 414.6h.6M204.5 412.5h.6M209.0 414.3h.6M190.7 407.5h.6M206.2 415.4h.6M187.3 419.0h.6M185.0 413.1h.6M173.6 407.1h.6M199.2 417.5h.6M188.5 411.2h.6M210.2 401.2h.6M194.2 411.6h.6M193.0 414.7h.6M177.1 413.9h.6M203.5 417.1h.6M188.6 414.8h.6M190.2 412.9h.6M173.9 405.0h.6M198.9 408.3h.6M199.4 413.1h.6M186.7 415.0h.6M192.3 408.6h.6M194.7 410.1h.6M199.2 414.2h.6M192.4 405.3h.6M205.3 405.1h.6M189.6 411.6h.6M186.7 413.4h.6M187.8 410.7h.6M171.2 403.8h.6M185.1 412.5h.6M199.6 407.5h.6M193.7 414.9h.6M185.0 412.1h.6M194.4 413.4h.6M175.4 414.9h.6M189.3 410.5h.6M195.8 415.6h.6M197.1 417.1h.6M185.4 413.9h.6M198.9 417.5h.6M206.5 410.1h.6M188.2 415.9h.6M197.5 413.5h.6M179.1 408.7h.6M175.9 412.2h.6M196.5 410.5h.6M191.9 410.4h.6M193.2 412.8h.6M186.9 416.4h.6M189.2 411.3h.6M198.1 412.9h.6M205.3 406.9h.6M189.8 412.9h.6M178.4 416.8h.6M201.8 415.5h.6M196.4 414.2h.6M197.0 410.5h.6M193.0 408.8h.6M210.2 412.1h.6M192.2 407.4h.6M195.7 407.8h.6M176.8 416.0h.6M187.0 409.0h.6M186.1 419.2h.6M191.4 407.1h.6M194.4 414.1h.6M185.6 408.0h.6M205.4 413.1h.6M183.1 408.5h.6M188.0 412.6h.6M193.5 411.9h.6M181.6 410.8h.6M196.2 414.4h.6M196.7 418.1h.6M189.2 410.2h.6M206.9 415.8h.6M192.2 412.8h.6M193.8 412.3h.6M183.9 420.7h.6M178.2 404.3h.6M186.5 409.9h.6M189.0 405.6h.6M187.9 411.3h.6M197.7 411.6h.6M172.5 426.8h.6M182.5 413.8h.6M177.0 419.2h.6M202.3 417.3h.6M187.1 410.8h.6M187.5 414.3h.6M182.8 418.7h.6M198.8 413.1h.6M188.3 413.2h.6M193.4 414.3h.6M175.3 406.8h.6M201.0 409.4h.6M194.8 413.7h.6M196.0 414.5h.6M201.5 409.0h.6M190.1 411.2h.6M190.3 412.0h.6M197.3 411.9h.6M195.0 415.1h.6M189.6 412.9h.6M192.0 413.1h.6M187.6 407.1h.6M197.3 408.5h.6M199.1 413.7h.6M191.6 406.4h.6M206.7 413.5h.6M179.3 410.0h.6M189.7 409.4h.6M205.3 414.9h.6M188.2 409.9h.6M178.8 409.2h.6M202.8 409.9h.6M196.0 412.7h.6M182.0 422.8h.6M197.8 404.5h.6M183.4 412.4h.6M180.9 411.5h.6M190.4 416.0h.6M187.8 411.0h.6M182.8 403.1h.6M188.7 417.4h.6M183.6 408.3h.6M192.1 412.2h.6M191.4 407.3h.6M197.6 408.3h.6M188.0 410.5h.6M180.9 415.7h.6M181.0 415.6h.6M189.6 410.2h.6M203.9 414.3h.6M198.4 411.0h.6M186.5 412.8h.6M199.2 413.0h.6M182.3 414.7h.6M199.7 410.1h.6M188.6 411.9h.6M197.8 413.2h.6M196.6 412.7h.6M189.4 409.4h.6M194.3 418.9h.6M183.1 410.7h.6M191.0 415.3h.6M200.3 413.2h.6M197.3 404.2h.6M192.3 420.1h.6M183.5 411.6h.6M200.1 407.7h.6M178.3 412.9h.6M185.2 420.9h.6M194.5 414.3h.6M182.0 407.7h.6M204.0 410.6h.6M200.4 417.4h.6M187.1 407.1h.6M187.2 411.7h.6M181.0 411.3h.6M180.4 420.6h.6M195.2 411.3h.6M196.6 417.3h.6M194.5 409.8h.6M193.8 409.4h.6M187.1 416.2h.6M194.5 414.7h.6M179.8 405.9h.6M191.7 414.8h.6M203.5 414.8h.6M202.2 410.1h.6M187.9 413.2h.6M188.9 413.4h.6M202.7 410.5h.6M206.0 410.2h.6M179.6 409.8h.6M188.2 411.4h.6M193.5 407.4h.6M201.4 412.2h.6M184.9 406.7h.6M196.8 412.7h.6M189.2 412.1h.6M210.7 408.5h.6M195.1 415.6h.6M190.6 419.7h.6M188.9 417.4h.6M200.1 407.2h.6M197.1 417.2h.6M182.9 413.2h.6M193.4 412.2h.6M180.9 410.1h.6M185.6 412.3h.6M181.2 417.6h.6M181.0 414.4h.6M186.1 410.8h.6M183.8 409.8h.6M195.9 410.8h.6M198.0 414.6h.6M189.7 419.4h.6M182.7 408.4h.6M198.1 412.4h.6M175.4 410.9h.6M176.1 409.5h.6M197.5 413.9h.6M196.9 414.4h.6M199.5 407.0h.6M189.9 408.5h.6M181.5 416.9h.6M187.5 413.6h.6M196.2 414.3h.6M185.5 410.5h.6M186.0 410.9h.6M180.4 414.1h.6M182.3 410.5h.6M198.4 408.2h.6M195.3 412.4h.6M182.3 415.8h.6M183.0 408.5h.6M187.1 416.4h.6M196.0 415.0h.6M182.3 409.1h.6M190.3 412.4h.6M174.4 412.2h.6M181.5 414.8h.6M195.0 414.9h.6M198.9 407.5h.6M182.4 407.3h.6M185.4 416.2h.6M198.1 412.8h.6M188.5 413.9h.6M187.3 413.6h.6M195.8 418.1h.6M193.2 407.8h.6M200.6 416.5h.6M198.0 409.3h.6M187.0 415.1h.6M190.7 417.4h.6M191.2 407.2h.6M180.8 413.9h.6M183.8 411.3h.6M199.5 411.3h.6M178.9 412.5h.6M199.6 408.4h.6M193.9 408.7h.6M190.5 414.8h.6M196.0 415.5h.6M195.5 410.2h.6M201.4 406.9h.6M188.4 421.1h.6M189.8 416.5h.6M189.7 413.7h.6M206.8 408.5h.6M199.3 410.2h.6M184.2 413.3h.6M189.0 408.8h.6M186.0 418.4h.6M191.8 412.9h.6M193.4 413.8h.6M210.1 408.5h.6M177.0 409.0h.6M199.9 409.4h.6M195.2 413.4h.6M186.0 411.4h.6M190.5 411.3h.6M187.7 413.6h.6M192.1 413.2h.6M199.8 417.9h.6M179.5 411.6h.6M202.2 408.6h.6M188.7 412.3h.6M203.7 417.9h.6M195.0 410.3h.6M201.6 412.6h.6M196.2 411.0h.6M200.4 413.9h.6M192.2 413.3h.6M185.0 409.3h.6M197.1 411.5h.6M197.4 415.9h.6M208.6 416.5h.6M175.6 415.8h.6M190.1 415.6h.6M200.2 411.1h.6M181.7 411.0h.6M189.9 415.8h.6M208.7 408.0h.6M203.1 412.2h.6M184.7 405.4h.6M203.2 411.0h.6M201.2 409.7h.6M198.0 407.9h.6M194.8 414.5h.6M193.7 409.6h.6M184.8 411.0h.6M187.6 411.4h.6M197.6 409.6h.6M192.9 417.7h.6M206.6 410.5h.6M189.1 413.1h.6M172.5 407.5h.6M189.1 410.6h.6M194.0 411.2h.6M194.8 411.2h.6M192.3 410.2h.6M185.2 412.9h.6M203.7 418.2h.6M186.4 411.9h.6M197.5 411.9h.6M189.5 410.9h.6M182.2 421.8h.6M203.1 418.4h.6M171.7 414.5h.6M185.0 415.0h.6M195.3 409.7h.6M188.9 411.8h.6M197.8 413.2h.6M191.0 412.8h.6M188.2 409.2h.6M209.1 409.5h.6M190.0 414.3h.6M190.5 413.5h.6M183.1 404.5h.6M185.8 412.7h.6M197.0 417.1h.6M196.3 410.0h.6M191.8 413.3h.6M186.2 407.0h.6M197.3 415.5h.6M178.2 408.2h.6M189.1 407.7h.6M189.8 411.2h.6M185.1 421.2h.6M193.1 410.1h.6M186.5 407.7h.6M185.4 414.1h.6M206.3 413.2h.6M197.8 418.6h.6M201.5 407.7h.6M192.3 406.4h.6M199.6 411.2h.6M198.1 413.8h.6M201.6 413.7h.6M210.8 416.4h.6M190.1 406.8h.6M194.0 409.3h.6M191.5 411.9h.6M163.8 415.5h.6M180.7 414.2h.6M192.1 410.8h.6M197.0 408.6h.6M187.3 415.7h.6M201.0 415.9h.6M202.2 422.5h.6M188.6 411.7h.6M203.3 418.4h.6M206.0 407.9h.6M195.7 410.4h.6M184.1 409.9h.6M203.7 410.7h.6M190.7 409.1h.6M189.0 410.4h.6M192.9 412.2h.6M187.7 410.7h.6M200.6 414.8h.6M198.2 412.1h.6M201.7 412.4h.6M196.6 417.9h.6M185.6 413.6h.6M190.7 413.0h.6M199.0 412.3h.6M188.7 412.6h.6M215.4 414.5h.6M190.1 409.4h.6M187.3 416.7h.6M201.2 418.2h.6M198.0 416.7h.6M191.8 410.6h.6M190.2 406.5h.6M195.4 410.8h.6M198.7 413.0h.6M198.1 415.5h.6M189.6 411.7h.6M195.5 411.3h.6M198.8 418.1h.6M198.1 409.9h.6M167.3 416.4h.6M184.9 415.8h.6M185.8 407.4h.6M190.2 413.4h.6M193.4 410.3h.6M199.4 408.9h.6M196.9 405.5h.6M191.0 406.6h.6M192.2 413.9h.6M206.1 410.9h.6M187.1 413.4h.6M194.4 408.4h.6M204.5 411.2h.6M194.8 411.4h.6M175.7 406.6h.6M195.0 406.2h.6M188.9 414.0h.6M191.1 412.9h.6M200.4 408.9h.6M195.8 412.0h.6M189.9 414.9h.6M199.1 419.2h.6M195.5 409.1h.6M192.8 414.7h.6M194.4 420.3h.6M194.0 412.6h.6M189.3 417.9h.6M188.3 402.8h.6M192.2 417.8h.6M184.4 412.4h.6M181.9 405.4h.6M202.4 415.3h.6M190.1 416.3h.6M191.8 416.9h.6M190.9 416.9h.6M192.2 412.3h.6M192.2 409.6h.6M192.5 410.7h.6M185.6 412.3h.6M199.5 413.9h.6M186.5 410.6h.6M200.3 412.6h.6M176.6 415.7h.6M183.5 413.6h.6M199.9 420.9h.6M190.8 420.4h.6M186.6 408.1h.6M195.0 410.3h.6M183.6 407.5h.6M192.6 408.0h.6M174.3 414.4h.6M188.4 408.7h.6M186.8 408.5h.6M196.3 411.4h.6M199.0 415.4h.6M185.2 411.1h.6M204.9 411.1h.6M187.3 415.8h.6M175.6 414.1h.6M173.0 414.1h.6M204.3 415.9h.6M191.3 408.6h.6M186.8 413.2h.6M186.0 410.0h.6M183.3 416.2h.6M202.8 415.4h.6M191.3 408.5h.6M206.3 417.4h.6M190.4 408.0h.6M173.2 416.8h.6M198.8 413.2h.6M189.1 409.1h.6M190.1 408.2h.6M204.5 411.3h.6M189.9 412.3h.6M201.3 409.7h.6M192.0 414.5h.6M186.0 407.2h.6M196.1 412.4h.6M187.2 412.4h.6M201.8 405.4h.6M199.7 413.5h.6M192.5 407.7h.6M196.9 403.1h.6M196.5 410.1h.6M189.8 411.5h.6M199.2 415.8h.6M190.2 410.6h.6M196.9 417.9h.6M184.4 417.8h.6M192.8 416.5h.6M195.3 417.3h.6M185.7 413.7h.6M188.7 410.3h.6M187.8 414.8h.6M197.8 416.0h.6M186.3 413.3h.6M195.5 411.5h.6M204.2 406.5h.6M194.9 414.9h.6M179.1 413.7h.6M193.0 407.5h.6M200.4 412.8h.6M189.8 415.1h.6M200.9 412.0h.6M197.0 415.3h.6M195.4 415.2h.6M190.0 406.9h.6M188.0 411.3h.6M190.0 414.2h.6M192.6 415.8h.6M196.3 417.7h.6M195.4 405.2h.6M189.7 412.1h.6M192.6 415.1h.6M195.2 417.0h.6M179.1 418.7h.6M185.9 408.9h.6M185.7 411.0h.6M190.5 408.4h.6M189.9 415.5h.6M190.0 407.4h.6M185.1 416.8h.6M197.5 415.9h.6M194.3 414.2h.6M179.0 404.2h.6M192.2 409.8h.6M183.1 415.2h.6M205.7 407.1h.6M188.5 411.5h.6M189.0 412.0h.6M192.8 415.7h.6M190.5 413.4h.6M191.7 413.4h.6M204.5 410.7h.6M193.9 412.4h.6M198.8 411.9h.6M201.2 415.1h.6M184.3 411.7h.6M205.6 416.3h.6M197.6 406.0h.6M199.8 416.9h.6M185.2 411.7h.6M198.7 416.6h.6M195.4 412.7h.6M187.8 415.6h.6M210.4 418.0h.6M196.7 410.3h.6M190.2 412.7h.6M193.7 411.7h.6M199.4 413.2h.6M201.2 406.3h.6M196.8 411.7h.6M201.9 411.4h.6M203.9 409.4h.6M182.3 411.6h.6M188.3 406.6h.6M184.6 417.6h.6M192.9 414.1h.6M203.7 419.5h.6M197.4 409.1h.6M183.8 408.0h.6M189.8 413.4h.6M200.4 406.1h.6M187.9 413.2h.6M191.4 409.7h.6M194.6 411.1h.6M177.6 413.3h.6M198.4 412.5h.6M194.9 419.4h.6M196.7 414.7h.6M184.3 407.5h.6M186.0 416.1h.6M187.4 407.3h.6M194.2 412.7h.6M192.7 407.7h.6M193.2 409.3h.6M206.5 417.3h.6M202.6 410.3h.6M186.4 409.9h.6M186.9 410.3h.6M205.9 411.2h.6M189.6 417.8h.6M203.2 407.9h.6M204.9 407.7h.6M187.8 414.5h.6M190.0 406.4h.6M192.8 411.0h.6M185.2 416.6h.6M184.3 412.4h.6M189.0 410.6h.6M199.0 409.7h.6M188.6 408.9h.6M190.5 410.1h.6M188.4 412.9h.6M181.2 417.0h.6M204.0 416.0h.6M173.4 410.2h.6M186.9 409.6h.6M196.6 414.9h.6M181.0 405.5h.6M197.0 410.7h.6M202.2 411.1h.6M185.3 408.2h.6M193.8 408.6h.6M183.3 413.6h.6M196.2 406.1h.6M192.9 408.9h.6M193.9 409.9h.6M203.1 412.6h.6M195.9 407.2h.6M202.9 416.4h.6M197.2 411.1h.6M182.6 411.3h.6M194.2 410.9h.6M196.1 409.8h.6M180.6 408.6h.6M202.8 416.6h.6M192.7 413.0h.6M195.1 411.9h.6M185.0 416.0h.6M192.7 409.6h.6M194.6 414.6h.6M189.5 412.3h.6M192.8 408.9h.6M175.2 415.1h.6M203.0 406.6h.6M183.2 414.7h.6M174.7 408.9h.6M184.5 413.8h.6M185.5 417.4h.6M196.5 414.4h.6M184.8 410.0h.6M194.4 412.1h.6M184.5 410.9h.6M209.8 407.8h.6M196.5 408.1h.6M207.8 412.4h.6M184.0 414.2h.6M197.5 405.6h.6M184.5 411.9h.6M196.8 414.1h.6M197.6 412.6h.6M179.4 408.4h.6M183.0 416.1h.6M182.8 407.6h.6M180.1 414.6h.6M186.3 418.2h.6M184.4 404.6h.6M180.6 413.1h.6M192.9 413.4h.6M196.5 413.0h.6M181.6 409.3h.6M187.7 411.0h.6M192.2 407.0h.6M190.3 412.7h.6M186.5 414.2h.6M198.6 409.7h.6M198.9 408.7h.6M197.5 410.4h.6M190.4 412.1h.6M208.0 412.4h.6M206.0 411.8h.6M188.9 412.4h.6M191.1 407.3h.6M201.6 402.0h.6M185.7 414.4h.6M195.3 417.5h.6M192.5 406.9h.6M186.5 409.7h.6M190.2 413.3h.6M179.5 415.7h.6M187.7 414.6h.6M176.1 416.9h.6M210.3 411.9h.6M204.1 413.7h.6M201.9 413.7h.6M194.5 410.5h.6M200.1 416.6h.6M202.2 414.5h.6M200.2 415.8h.6M199.4 410.7h.6M184.8 416.0h.6M195.5 408.2h.6M187.8 413.6h.6M182.6 402.4h.6M182.9 408.4h.6M195.5 414.9h.6M200.5 410.4h.6M181.1 412.8h.6M206.0 406.1h.6M203.8 417.9h.6M189.0 414.3h.6M188.3 412.0h.6M191.4 413.7h.6M199.9 413.3h.6M189.0 417.4h.6M183.2 412.9h.6M194.8 406.6h.6M175.5 411.2h.6M193.1 416.9h.6M201.3 414.2h.6M194.5 410.6h.6M198.3 414.4h.6M196.0 412.6h.6M197.8 414.4h.6M193.2 406.2h.6M185.4 408.8h.6M190.2 414.6h.6M191.4 411.3h.6M202.1 413.4h.6M205.0 419.4h.6M195.4 411.0h.6M186.0 413.0h.6M186.2 410.1h.6M190.5 409.8h.6M203.1 411.8h.6M194.7 406.7h.6M191.6 404.3h.6M185.9 417.2h.6M199.1 411.7h.6M194.3 416.3h.6M191.6 412.6h.6M192.8 412.7h.6M205.5 414.6h.6M190.7 414.8h.6M205.5 407.7h.6M201.9 416.6h.6M192.4 408.5h.6M199.1 412.9h.6M191.0 421.6h.6M185.4 412.4h.6M189.9 418.3h.6M184.7 410.8h.6M196.1 414.4h.6M192.1 412.3h.6M196.5 413.7h.6M198.6 409.0h.6M167.0 408.7h.6M194.5 413.4h.6M177.6 406.3h.6M193.3 409.0h.6M185.0 414.5h.6M192.8 409.8h.6M202.9 408.8h.6M178.3 408.0h.6M193.5 412.7h.6M191.4 410.8h.6M176.9 412.7h.6M197.2 411.4h.6M192.3 419.0h.6M187.9 410.5h.6M186.2 404.9h.6M217.7 412.6h.6M188.8 412.1h.6M177.6 412.7h.6M184.6 406.2h.6M189.1 416.3h.6M188.9 412.0h.6M191.4 412.0h.6M183.6 406.3h.6M196.3 413.9h.6M188.1 411.9h.6M181.1 417.1h.6M185.5 410.6h.6M188.9 407.6h.6M198.8 412.6h.6M195.9 408.7h.6M189.3 413.7h.6M192.2 408.1h.6M193.7 411.7h.6M208.3 411.3h.6M187.1 412.0h.6M195.7 410.2h.6M197.8 409.1h.6M184.4 411.9h.6M193.5 410.0h.6M193.3 412.7h.6M188.2 411.1h.6M196.5 403.8h.6M200.2 411.9h.6M201.0 417.3h.6M190.5 413.2h.6M193.5 414.3h.6M210.8 413.8h.6M183.2 410.4h.6M193.8 407.2h.6M199.1 415.1h.6M193.2 416.0h.6M197.2 414.2h.6M193.4 413.7h.6M198.0 413.6h.6M202.3 412.0h.6M190.2 413.1h.6M193.6 412.2h.6M191.6 413.3h.6M188.8 408.7h.6M191.8 409.8h.6M182.9 414.2h.6M198.0 410.9h.6M205.6 403.2h.6M205.6 412.6h.6M202.2 403.7h.6M184.3 419.1h.6M204.2 414.8h.6M186.3 414.6h.6M191.6 409.7h.6M206.8 408.0h.6M183.4 411.4h.6M198.7 412.2h.6M194.3 409.3h.6M190.8 412.7h.6M185.0 414.7h.6M195.4 414.3h.6M188.3 408.3h.6M200.4 404.2h.6M201.8 412.2h.6M181.0 409.7h.6M188.0 413.8h.6M189.4 418.1h.6M182.5 418.1h.6M183.1 413.2h.6M192.7 416.2h.6M190.3 418.2h.6M178.8 412.3h.6M187.7 413.2h.6M196.2 415.3h.6M182.4 412.0h.6M184.6 410.3h.6M204.7 409.4h.6M202.5 412.2h.6M179.0 409.9h.6M181.2 415.1h.6M195.0 411.0h.6M182.5 417.5h.6M190.0 416.6h.6M188.4 407.7h.6M196.5 416.1h.6M171.8 410.7h.6M174.4 417.2h.6M182.2 414.1h.6M200.1 412.0h.6M190.8 414.6h.6M178.3 410.2h.6M195.9 413.4h.6M197.7 413.6h.6M190.0 411.7h.6M189.4 413.6h.6M195.5 408.6h.6M201.7 414.2h.6M193.2 407.8h.6M196.3 414.5h.6M191.6 413.9h.6M188.9 414.8h.6M184.7 410.2h.6M194.1 423.2h.6M189.6 411.4h.6M190.1 412.8h.6M199.4 409.5h.6M195.9 417.4h.6M199.0 410.5h.6M179.4 415.8h.6M196.5 408.8h.6M187.3 413.4h.6M185.5 410.9h.6M185.2 415.6h.6M201.7 411.2h.6M198.6 409.2h.6M186.3 413.9h.6M182.9 408.0h.6M192.1 408.8h.6M188.3 415.1h.6M205.3 405.5h.6M180.3 415.0h.6M177.4 410.8h.6M190.0 409.0h.6M192.1 413.2h.6M193.1 414.6h.6M198.0 410.2h.6M208.6 411.7h.6M189.3 415.2h.6M187.6 415.0h.6M177.9 412.1h.6M193.9 409.6h.6M198.8 408.9h.6M189.9 410.2h.6M201.4 414.8h.6M192.2 414.4h.6M204.1 413.4h.6M194.7 417.3h.6M183.5 411.3h.6M186.9 411.0h.6M179.7 411.0h.6M178.1 419.2h.6M194.1 405.0h.6M199.0 413.4h.6M207.6 414.0h.6M191.6 412.6h.6M190.1 420.8h.6M183.1 416.6h.6M199.9 415.1h.6M195.1 409.2h.6M187.2 414.2h.6M197.5 411.1h.6M196.5 412.5h.6M177.0 413.1h.6M197.9 410.7h.6M193.1 414.7h.6M188.9 418.2h.6M188.7 416.1h.6M206.0 413.2h.6M204.3 405.5h.6M206.6 416.3h.6M182.8 416.3h.6M186.8 411.7h.6M199.2 410.7h.6M182.3 414.8h.6M186.2 409.5h.6M177.6 415.3h.6M206.8 408.6h.6M200.5 409.1h.6M195.7 412.5h.6M193.8 407.2h.6M188.7 412.5h.6M188.8 414.3h.6M196.9 407.7h.6M186.3 415.8h.6M201.8 410.4h.6M188.1 414.4h.6M185.0 413.2h.6M202.4 410.8h.6M190.8 410.6h.6M196.4 406.4h.6M188.7 410.0h.6M174.0 409.7h.6M196.4 418.3h.6M181.2 416.1h.6M200.7 407.6h.6M179.6 415.3h.6M177.1 413.3h.6M194.5 411.1h.6M195.4 414.1h.6M192.9 415.3h.6M182.3 410.4h.6M199.1 411.5h.6M180.3 413.1h.6M188.3 409.0h.6M185.7 413.1h.6M189.0 412.2h.6M198.8 410.1h.6M186.9 409.5h.6M196.5 413.6h.6M197.6 415.6h.6M178.3 413.7h.6M182.7 409.4h.6M188.9 415.1h.6M187.3 413.1h.6M194.5 414.6h.6M176.5 416.6h.6M197.8 409.3h.6M198.0 412.0h.6M190.7 410.4h.6M180.9 409.4h.6M192.0 419.6h.6M187.7 415.8h.6M196.5 406.2h.6M191.3 414.0h.6M197.8 410.5h.6M188.5 416.6h.6M203.5 412.8h.6M173.6 411.9h.6M183.9 413.0h.6M195.9 413.9h.6M179.9 412.6h.6M197.9 411.7h.6M182.3 412.0h.6M192.7 414.3h.6M184.7 408.5h.6M188.5 412.5h.6M193.4 412.1h.6M191.2 410.8h.6M188.9 415.1h.6M209.2 407.9h.6M192.1 411.2h.6M184.2 409.5h.6M199.4 414.4h.6M198.6 410.8h.6M201.8 412.7h.6M206.3 413.9h.6M184.5 406.8h.6M200.5 414.1h.6M201.1 409.8h.6M192.0 411.6h.6M194.0 412.1h.6M168.0 415.4h.6M187.4 415.1h.6M206.3 418.8h.6M177.7 413.1h.6M187.7 410.8h.6M194.3 410.7h.6M196.6 414.8h.6M205.1 418.2h.6M177.9 413.7h.6M192.3 410.5h.6M198.9 413.5h.6M181.5 413.4h.6M191.7 412.6h.6M207.1 409.9h.6M202.5 403.5h.6M196.3 410.6h.6M171.1 416.2h.6M191.0 413.3h.6M195.1 404.7h.6M189.5 412.5h.6M191.5 405.9h.6M216.7 419.6h.6M190.3 413.2h.6M184.2 408.2h.6M193.9 415.3h.6M189.5 409.7h.6M189.5 414.5h.6M191.3 412.6h.6M198.2 408.3h.6M193.9 414.9h.6M182.4 407.7h.6M190.9 417.3h.6M195.8 412.7h.6M188.3 408.8h.6M201.2 406.1h.6M198.2 418.2h.6M184.1 417.7h.6M194.6 408.0h.6M207.9 418.3h.6M204.5 413.1h.6M191.5 411.7h.6M199.2 412.2h.6M186.6 411.5h.6M180.4 417.6h.6M196.4 413.0h.6M194.0 406.0h.6M196.1 419.9h.6M191.8 415.6h.6M194.6 408.6h.6M187.9 411.2h.6M195.8 409.3h.6M198.7 412.7h.6M191.5 413.9h.6M198.5 413.3h.6M177.8 410.4h.6M185.7 409.7h.6M203.6 415.5h.6M206.1 412.1h.6M194.0 420.5h.6M191.2 409.6h.6M181.9 415.3h.6M194.9 412.7h.6M198.2 409.8h.6M180.1 417.3h.6M196.5 412.9h.6M195.9 409.3h.6M195.5 411.4h.6M183.0 416.1h.6M196.3 408.2h.6M180.0 417.4h.6M203.9 414.9h.6M193.1 411.5h.6M182.7 417.3h.6M202.8 418.7h.6M201.2 414.6h.6M186.8 413.1h.6M209.6 419.1h.6M184.0 417.8h.6M194.5 409.2h.6M201.5 411.8h.6M173.8 411.7h.6M200.0 411.0h.6M191.5 407.2h.6M191.9 415.7h.6M183.4 412.8h.6M194.7 412.9h.6M183.1 417.5h.6M184.3 410.5h.6M188.4 412.3h.6M182.2 413.5h.6M204.6 411.0h.6M181.4 412.1h.6M186.0 415.2h.6M189.5 412.5h.6M192.0 417.2h.6M198.3 409.8h.6M198.5 413.2h.6M189.6 407.4h.6M188.9 412.1h.6M192.3 410.0h.6M198.6 417.4h.6M197.6 415.2h.6M187.9 414.3h.6M175.5 419.1h.6M209.1 417.7h.6M199.6 415.1h.6M194.1 410.0h.6M194.7 407.3h.6M187.8 412.4h.6M184.0 411.2h.6M189.3 410.2h.6M190.2 411.5h.6M187.0 406.6h.6M180.3 417.8h.6M189.5 408.4h.6M196.6 410.1h.6M188.0 414.5h.6M192.2 406.7h.6M175.4 415.8h.6M190.3 415.9h.6M191.0 411.4h.6M182.2 408.6h.6M178.2 410.8h.6M195.3 405.9h.6M185.5 417.5h.6M195.9 412.7h.6M188.6 409.9h.6M197.0 409.2h.6M189.3 414.6h.6M179.9 417.9h.6M191.3 407.9h.6M189.4 410.4h.6M197.3 406.2h.6M188.4 414.9h.6M188.9 413.1h.6M198.9 420.6h.6M201.3 412.1h.6M198.1 410.9h.6M200.3 410.0h.6M195.6 415.6h.6M198.2 406.6h.6M199.0 415.2h.6M195.2 413.4h.6M192.5 410.7h.6M193.1 409.3h.6M211.2 416.3h.6M192.1 419.2h.6M190.1 410.9h.6M189.1 414.4h.6M191.7 418.8h.6M194.0 410.3h.6M183.0 411.6h.6M176.2 408.1h.6M194.4 412.0h.6M179.2 412.2h.6M194.1 411.0h.6M193.1 409.8h.6M201.2 406.8h.6M205.4 407.7h.6M194.9 409.0h.6M187.6 414.8h.6M182.6 410.7h.6M185.7 409.4h.6M192.3 414.9h.6M175.4 414.5h.6M192.6 409.8h.6M191.9 410.2h.6M197.2 414.9h.6M189.3 413.8h.6M192.8 409.5h.6M186.1 413.4h.6M188.3 412.4h.6M177.8 416.5h.6M193.0 409.4h.6M204.4 415.7h.6M193.3 414.1h.6M194.9 408.9h.6M184.1 416.3h.6M203.5 415.8h.6M185.9 407.7h.6M198.4 419.7h.6M192.9 408.3h.6M184.3 409.2h.6M200.2 411.3h.6M192.1 415.3h.6M193.4 414.6h.6M195.6 412.2h.6M191.8 417.5h.6M189.0 414.0h.6M195.7 417.6h.6M188.8 422.7h.6M192.5 413.2h.6M186.7 403.1h.6M180.1 410.9h.6M186.6 408.6h.6M188.0 412.8h.6M192.1 412.9h.6M201.5 408.0h.6M178.5 408.3h.6M193.0 411.5h.6M174.3 411.8h.6M183.6 403.0h.6M187.9 416.1h.6M174.0 412.6h.6M177.1 412.5h.6M193.2 413.6h.6M192.6 408.8h.6M191.1 412.3h.6M185.6 416.3h.6M209.2 416.4h.6M190.7 414.2h.6M185.1 411.5h.6M205.4 409.5h.6M196.9 417.3h.6M189.0 414.4h.6M201.5 410.9h.6M193.3 404.5h.6M197.1 409.3h.6M193.9 405.4h.6M183.8 417.1h.6M199.8 413.2h.6M193.3 409.8h.6M183.9 411.5h.6M185.9 422.1h.6M199.6 417.0h.6M189.0 407.5h.6M192.4 412.0h.6M197.2 407.9h.6M193.0 406.1h.6M179.8 413.1h.6M197.1 421.5h.6M199.5 418.3h.6M198.9 412.7h.6M204.9 411.1h.6M194.9 413.2h.6M198.2 416.3h.6M204.7 407.1h.6M189.7 405.5h.6M205.9 419.5h.6M205.9 413.5h.6M198.3 418.5h.6M206.7 413.4h.6M198.8 418.0h.6M185.0 410.2h.6M201.1 414.4h.6M194.6 418.3h.6M195.3 416.3h.6M193.2 410.8h.6M202.9 415.8h.6M196.4 410.0h.6M186.4 407.2h.6M195.9 414.5h.6M197.8 417.7h.6M186.2 415.7h.6M188.5 407.8h.6M188.9 415.8h.6M187.1 415.1h.6M194.8 410.8h.6M200.1 403.2h.6M207.1 416.3h.6M201.6 415.8h.6M200.2 414.4h.6M201.1 406.0h.6M202.7 406.9h.6M189.0 416.3h.6M197.5 415.5h.6M194.6 414.4h.6M191.0 411.6h.6M188.4 414.0h.6M188.0 410.5h.6M189.9 411.3h.6M182.1 409.2h.6M196.2 413.5h.6M191.8 410.9h.6M192.8 416.1h.6M194.7 415.2h.6M197.8 409.4h.6M187.3 419.4h.6M191.1 408.3h.6M179.1 414.2h.6M174.2 416.6h.6M176.5 417.3h.6M204.3 404.2h.6M177.4 416.3h.6M195.8 417.1h.6M203.8 417.9h.6M188.3 404.1h.6M205.0 409.9h.6M206.8 412.1h.6M199.6 410.8h.6M211.0 417.6h.6M197.0 409.9h.6M186.2 417.2h.6M196.2 414.6h.6M188.5 407.0h.6M181.6 408.7h.6M181.8 410.7h.6M210.5 412.9h.6M187.7 416.3h.6M191.9 411.8h.6M186.7 416.0h.6M193.2 406.5h.6M190.2 400.9h.6M188.8 411.2h.6M182.4 414.2h.6M180.8 411.1h.6M186.1 408.7h.6M194.4 414.1h.6M208.7 419.8h.6M200.5 412.1h.6M206.7 409.7h.6M196.0 409.3h.6M191.4 420.0h.6M181.5 412.3h.6M192.1 414.8h.6M175.0 417.1h.6M189.7 416.6h.6M205.2 409.0h.6M194.8 416.1h.6M201.2 415.7h.6M189.1 414.4h.6M181.1 416.3h.6M188.3 410.4h.6M189.0 412.2h.6M201.8 410.5h.6M208.0 415.4h.6M186.3 410.0h.6M189.3 414.0h.6M191.0 408.3h.6M189.4 412.0h.6M182.2 411.1h.6M192.9 412.1h.6M195.1 413.0h.6M195.3 411.8h.6M182.5 411.7h.6M191.3 404.6h.6M178.3 416.7h.6M199.5 410.1h.6M184.1 411.6h.6M190.0 409.4h.6M188.6 416.3h.6M187.6 409.1h.6M183.7 414.4h.6M178.1 417.0h.6M206.1 418.8h.6M194.3 417.0h.6M194.4 414.9h.6M209.0 408.0h.6M191.4 417.4h.6M196.7 417.0h.6M192.4 415.7h.6M201.7 415.6h.6M196.3 412.8h.6M194.8 410.6h.6M190.2 416.6h.6M194.5 417.3h.6M201.6 408.6h.6M175.6 416.0h.6M191.2 413.5h.6M188.9 415.9h.6M189.9 413.6h.6M176.4 416.7h.6M198.1 416.4h.6M185.5 415.9h.6M190.4 407.3h.6M188.2 415.7h.6M178.9 412.7h.6M188.7 408.3h.6M177.5 415.2h.6M184.7 407.4h.6M189.7 415.9h.6M192.2 419.0h.6M192.7 410.7h.6M191.2 416.0h.6M209.4 414.3h.6M195.7 415.0h.6M182.5 407.5h.6M187.4 414.9h.6M187.0 413.1h.6M190.8 415.4h.6M187.4 412.6h.6M185.4 416.7h.6M205.5 413.6h.6M192.6 415.1h.6M189.6 417.7h.6M190.2 413.3h.6M190.5 416.3h.6M203.4 413.5h.6M196.1 414.6h.6M201.3 410.6h.6M167.3 415.5h.6M194.9 417.2h.6M200.7 412.3h.6M208.1 415.6h.6M192.5 414.2h.6M178.5 408.5h.6M197.0 413.9h.6M187.5 417.6h.6M177.9 410.8h.6M187.3 405.9h.6M200.7 413.4h.6M201.9 410.2h.6M198.1 419.7h.6M183.9 412.5h.6M212.4 412.6h.6M182.9 410.3h.6M191.7 413.6h.6M180.7 410.5h.6M202.8 409.3h.6M195.9 412.4h.6M199.4 409.6h.6M193.0 417.6h.6M191.8 408.3h.6M193.7 412.4h.6M177.2 410.1h.6M200.3 407.5h.6M199.6 418.8h.6M189.2 404.8h.6M192.2 418.1h.6M194.7 407.4h.6M204.9 413.0h.6M195.8 421.1h.6M192.7 404.7h.6M188.3 407.5h.6M180.3 417.5h.6M187.6 413.3h.6M192.9 410.6h.6M190.3 412.5h.6M192.9 409.0h.6M198.3 413.1h.6M195.8 418.2h.6M194.6 411.2h.6M197.6 413.2h.6M193.8 417.1h.6M192.1 420.0h.6M196.1 410.4h.6M178.5 413.8h.6M202.4 410.5h.6M182.1 410.2h.6M199.1 411.1h.6M192.5 410.3h.6M201.2 406.2h.6M192.7 405.2h.6M184.8 409.9h.6M201.0 413.1h.6M193.9 417.2h.6M193.3 410.7h.6M193.0 412.0h.6M200.4 415.1h.6M198.9 415.4h.6M194.2 412.2h.6M180.0 412.4h.6M189.2 419.6h.6M193.3 411.4h.6M206.8 410.8h.6M195.5 406.6h.6M191.7 414.2h.6M202.0 411.7h.6M191.5 419.7h.6M192.2 411.4h.6M193.7 415.7h.6M180.4 416.1h.6M200.1 418.8h.6M195.8 407.8h.6M190.2 418.5h.6M183.3 412.7h.6M194.1 412.2h.6M203.6 411.5h.6M187.3 411.2h.6M183.9 411.4h.6M195.8 404.0h.6M179.7 414.5h.6M174.7 412.9h.6M188.9 409.1h.6M186.9 412.4h.6M190.2 421.2h.6M188.0 414.0h.6M195.1 411.2h.6M190.7 419.0h.6M187.7 409.7h.6M188.8 412.1h.6M197.5 410.6h.6M200.1 411.8h.6M199.7 415.3h.6M198.0 414.8h.6M166.1 409.9h.6M184.4 412.2h.6M189.9 412.9h.6M194.1 411.1h.6M179.5 412.5h.6M203.8 410.0h.6M194.9 409.9h.6M187.5 412.8h.6M193.8 408.8h.6M189.7 414.2h.6M186.4 411.9h.6M196.5 409.2h.6M188.8 410.4h.6M181.2 410.9h.6M187.4 412.0h.6M191.6 413.0h.6M183.8 411.8h.6M202.6 409.4h.6M183.8 417.9h.6M206.5 416.0h.6M199.6 413.0h.6M185.0 416.1h.6M193.5 413.8h.6M202.0 411.7h.6M191.0 412.9h.6M183.0 422.5h.6M193.4 416.3h.6M208.4 416.5h.6M180.6 411.2h.6M197.0 414.8h.6M192.6 421.0h.6M191.6 414.2h.6M189.4 416.6h.6M190.0 417.3h.6M200.8 415.0h.6M197.3 418.4h.6M184.6 413.5h.6M205.0 414.4h.6M182.2 410.3h.6M197.8 422.3h.6M194.0 413.7h.6M202.1 413.0h.6M195.4 417.7h.6M201.0 410.8h.6M192.4 412.6h.6M200.3 409.7h.6M195.3 412.7h.6M209.8 411.2h.6M187.0 414.6h.6M202.1 412.1h.6M196.3 410.4h.6M194.0 411.5h.6M188.0 412.2h.6M196.2 410.7h.6M180.8 416.1h.6M181.6 415.1h.6M198.3 413.1h.6M180.1 408.2h.6M204.1 414.5h.6M190.4 407.9h.6M194.6 413.3h.6M193.2 412.8h.6M196.0 410.4h.6M190.4 409.6h.6M189.7 410.0h.6M191.6 420.1h.6M201.0 411.6h.6M201.7 411.8h.6M202.8 416.1h.6M195.5 414.1h.6M191.0 416.5h.6M179.2 408.1h.6M197.7 408.6h.6M199.3 424.8h.6M189.4 412.4h.6M199.1 411.5h.6M202.9 413.2h.6M193.4 416.2h.6M201.1 408.2h.6M195.1 413.6h.6M178.7 412.5h.6M188.8 415.1h.6M189.3 413.2h.6M196.8 410.7h.6M185.7 409.4h.6M189.1 403.7h.6M184.9 416.2h.6M192.3 407.2h.6M193.2 411.1h.6M200.4 418.7h.6M199.0 411.1h.6M193.9 414.8h.6M194.5 411.8h.6M193.5 415.2h.6M193.5 412.7h.6M205.0 410.7h.6M172.7 417.5h.6M191.2 411.6h.6M195.1 407.7h.6M201.7 411.4h.6M183.9 414.6h.6M195.4 408.5h.6M199.5 415.5h.6M189.1 415.4h.6M177.3 420.4h.6M189.7 410.3h.6M183.0 415.0h.6M197.8 406.5h.6M185.8 411.1h.6M206.9 413.0h.6M193.7 414.1h.6M186.2 412.4h.6M188.6 412.3h.6M183.9 410.4h.6M195.7 411.0h.6M204.5 413.7h.6M190.9 414.6h.6M200.0 414.9h.6M185.1 416.2h.6M195.1 416.9h.6M211.0 406.0h.6M181.4 410.7h.6M202.5 412.0h.6M202.0 410.2h.6M177.6 416.4h.6M181.1 415.3h.6M184.8 412.2h.6M200.4 413.0h.6M189.2 417.2h.6M191.3 411.3h.6M198.3 411.5h.6M193.6 415.9h.6M194.4 414.3h.6M190.0 417.8h.6M201.6 413.9h.6M186.4 415.3h.6M206.0 410.6h.6M189.9 409.2h.6M186.2 412.6h.6M197.8 402.9h.6M196.2 414.1h.6M176.8 416.1h.6M194.4 412.9h.6M181.8 411.8h.6M186.0 416.6h.6M198.9 412.4h.6M185.7 416.2h.6M195.4 420.6h.6M189.6 415.2h.6M208.1 416.0h.6M191.8 414.4h.6M183.2 413.5h.6M183.7 413.6h.6M185.3 412.8h.6M193.6 416.5h.6M192.5 406.7h.6M200.3 411.6h.6M193.9 415.0h.6M193.6 409.5h.6M195.1 412.2h.6M191.5 410.1h.6M194.9 414.2h.6M198.8 415.7h.6M198.8 417.9h.6M188.2 414.4h.6M178.4 410.0h.6M186.1 413.5h.6M194.8 414.7h.6M172.6 417.7h.6M188.7 404.8h.6M196.1 413.9h.6M188.0 406.0h.6M183.6 415.2h.6M206.5 414.2h.6M203.6 414.4h.6M190.4 415.8h.6M203.1 414.0h.6M202.9 410.3h.6M183.4 413.9h.6M213.9 417.0h.6M185.0 412.2h.6M190.4 412.7h.6M183.7 408.2h.6M193.1 416.8h.6M181.9 410.8h.6M192.4 409.9h.6M201.1 411.0h.6M194.2 409.5h.6M190.3 411.7h.6M204.8 417.2h.6M185.3 415.5h.6M200.2 417.8h.6M190.0 418.0h.6M194.2 409.4h.6M192.7 414.3h.6M193.4 418.0h.6M192.0 420.9h.6M186.2 407.5h.6M187.9 407.4h.6M195.9 414.3h.6M191.5 411.4h.6M183.1 409.0h.6M186.7 414.0h.6M186.8 409.7h.6M191.9 404.4h.6M193.8 412.5h.6M193.1 413.0h.6M187.1 414.9h.6M192.5 416.0h.6M181.4 413.3h.6M169.3 411.7h.6M191.9 410.2h.6M179.1 406.6h.6M184.7 411.0h.6M182.7 416.2h.6M197.3 415.0h.6M182.6 420.0h.6M194.5 412.0h.6M188.4 406.1h.6M182.4 415.6h.6M179.7 416.3h.6M195.9 408.3h.6M195.3 406.7h.6M198.4 413.1h.6M206.9 415.2h.6M194.4 408.5h.6M194.4 411.3h.6M191.2 409.8h.6M193.0 408.3h.6M189.4 407.8h.6M185.0 413.1h.6M208.1 411.2h.6M177.3 410.1h.6M194.2 403.1h.6M195.7 418.9h.6M193.3 409.1h.6M184.4 412.1h.6M190.6 408.4h.6M188.4 413.9h.6M183.5 407.1h.6M191.7 412.9h.6M188.8 411.9h.6M187.7 415.9h.6M197.5 408.6h.6M183.6 410.2h.6M195.6 411.7h.6M187.2 420.2h.6M195.4 407.2h.6M192.6 413.6h.6M193.9 410.2h.6M184.2 413.7h.6M185.8 414.9h.6M185.1 413.1h.6M193.4 413.5h.6M198.0 413.6h.6M200.6 410.4h.6M188.0 411.8h.6M192.6 406.5h.6M179.0 411.3h.6M174.2 409.8h.6M185.0 411.6h.6M186.6 415.2h.6M179.5 413.9h.6M177.7 414.2h.6M196.2 416.5h.6M185.5 403.9h.6M178.5 414.1h.6M210.4 412.4h.6M193.3 412.2h.6M189.4 407.8h.6M197.3 414.5h.6M185.8 416.7h.6M204.5 416.3h.6M179.6 412.2h.6M181.4 414.8h.6M190.7 415.9h.6M185.7 419.1h.6M203.1 417.0h.6M179.0 413.0h.6M186.0 412.9h.6M193.7 413.1h.6M196.3 413.3h.6M199.8 410.7h.6M194.5 415.3h.6M209.4 410.0h.6M188.0 409.6h.6M193.2 413.8h.6M198.6 410.4h.6M189.2 411.6h.6M189.4 405.0h.6M188.0 415.4h.6M186.6 412.5h.6M182.7 412.1h.6M187.3 414.2h.6M179.4 413.3h.6M194.7 410.0h.6M179.0 419.8h.6M208.2 410.9h.6M205.2 416.0h.6M200.5 419.1h.6M190.0 410.3h.6M187.0 412.9h.6M201.4 409.5h.6M193.1 416.3h.6M196.1 411.3h.6M185.9 408.5h.6M200.1 417.3h.6M185.3 415.8h.6M192.5 409.3h.6M177.8 416.8h.6M186.4 413.2h.6M195.6 422.4h.6M188.0 418.7h.6M188.1 410.5h.6M197.9 411.5h.6M191.0 409.3h.6M201.5 413.0h.6M172.3 412.7h.6M196.1 415.2h.6M195.6 412.8h.6M179.3 407.2h.6M181.3 409.6h.6M198.6 417.6h.6M183.1 416.7h.6M186.5 411.9h.6M196.4 412.0h.6M188.9 411.9h.6M195.4 412.6h.6M184.7 406.4h.6M193.9 415.7h.6M200.2 410.1h.6M194.2 413.0h.6M174.1 403.3h.6M196.8 413.4h.6M192.0 417.4h.6M184.4 404.4h.6M202.7 418.0h.6M177.7 414.2h.6M206.5 409.8h.6M186.5 406.7h.6M204.1 416.7h.6M191.2 413.4h.6M181.0 414.7h.6M192.3 411.5h.6M194.2 409.6h.6M195.9 415.7h.6M200.0 409.0h.6M184.4 415.8h.6M195.5 406.4h.6M197.4 409.1h.6M189.4 407.2h.6M184.1 417.3h.6M183.9 406.1h.6M197.5 408.4h.6M197.9 414.9h.6M185.0 413.3h.6M180.9 420.5h.6M201.4 419.2h.6M179.2 414.7h.6M192.8 415.0h.6M185.1 405.9h.6M177.6 409.3h.6M192.5 411.3h.6M190.0 411.9h.6M203.0 407.5h.6M209.6 409.1h.6M190.1 409.4h.6M199.7 416.4h.6M199.9 414.0h.6M187.4 411.3h.6M184.7 411.5h.6M204.4 413.6h.6M188.6 410.0h.6M191.3 411.5h.6M189.2 406.2h.6M177.8 410.8h.6M180.3 404.7h.6M175.1 409.1h.6M176.1 412.4h.6M175.1 405.0h.6M189.6 404.8h.6M173.7 411.2h.6M160.6 406.7h.6M163.0 412.9h.6M178.1 405.9h.6M181.2 403.4h.6M178.6 407.4h.6M179.2 416.0h.6M173.6 407.1h.6M159.2 410.3h.6M165.9 411.3h.6M156.4 406.7h.6M168.6 414.5h.6M160.2 411.0h.6M172.8 412.0h.6M170.5 403.9h.6M155.2 403.7h.6M178.3 399.9h.6M178.5 409.6h.6M160.0 409.5h.6M173.2 413.1h.6M178.2 416.0h.6M169.5 409.4h.6M179.3 409.3h.6M173.6 412.1h.6M181.2 416.2h.6M173.6 407.2h.6M170.5 412.7h.6M176.4 409.4h.6M178.7 409.1h.6M174.1 413.5h.6M168.0 407.4h.6M165.1 406.3h.6M168.7 412.9h.6M167.0 410.3h.6M173.7 409.4h.6M173.4 409.9h.6M171.2 412.3h.6M171.9 409.0h.6M173.4 413.3h.6M185.4 411.9h.6M182.3 416.0h.6M166.9 415.2h.6M175.5 413.6h.6M169.0 409.6h.6M171.0 410.8h.6M169.8 408.1h.6M166.5 421.2h.6M160.1 409.5h.6M150.5 412.5h.6M173.6 415.5h.6M182.1 405.2h.6M164.0 407.2h.6M176.2 408.9h.6M168.5 406.6h.6M174.3 405.5h.6M164.9 408.4h.6M169.8 415.3h.6M170.9 413.1h.6M151.2 410.5h.6M173.7 410.5h.6M170.6 404.1h.6M150.3 413.0h.6M177.5 412.0h.6M171.5 406.3h.6M173.6 411.2h.6M175.0 409.6h.6M168.2 408.4h.6M162.5 406.6h.6M167.9 407.8h.6M168.1 406.8h.6M191.1 412.1h.6M187.8 411.8h.6M167.6 411.6h.6M168.2 409.7h.6M174.6 408.8h.6M176.7 418.1h.6M165.8 403.3h.6M163.1 414.9h.6M188.6 411.7h.6M181.0 410.6h.6M158.2 408.5h.6M156.4 409.6h.6M164.6 405.9h.6M173.7 405.1h.6M176.5 410.0h.6M168.8 404.1h.6M157.7 413.6h.6M173.7 414.6h.6M177.0 397.3h.6M171.7 404.5h.6M167.4 411.4h.6M176.8 411.2h.6M171.3 410.8h.6M162.0 412.0h.6M172.6 413.2h.6M160.4 413.7h.6M180.2 417.2h.6M175.8 410.5h.6M163.0 413.7h.6M173.6 404.2h.6M182.7 409.9h.6M153.0 405.8h.6M170.5 415.7h.6M186.1 419.3h.6M158.1 412.5h.6M170.3 405.5h.6M159.3 410.0h.6M171.1 410.5h.6M150.7 411.2h.6M157.5 414.5h.6M167.0 414.0h.6M172.9 400.3h.6M175.0 415.6h.6M175.5 408.5h.6M181.8 408.3h.6M177.9 415.8h.6M178.2 409.4h.6M163.1 405.2h.6M170.4 405.4h.6M199.7 410.6h.6M191.7 413.9h.6M179.0 416.1h.6M178.2 409.8h.6M180.4 408.6h.6M168.2 416.6h.6M189.0 408.7h.6M168.4 416.0h.6M171.0 411.3h.6M190.9 411.3h.6M153.4 409.5h.6M174.9 411.5h.6M156.5 408.6h.6M166.0 407.8h.6M170.9 409.9h.6M168.6 407.9h.6M173.3 411.6h.6M164.9 410.7h.6M170.8 409.4h.6M161.2 409.7h.6M168.3 409.5h.6M159.5 417.0h.6M177.5 410.4h.6M160.3 408.2h.6M177.9 409.3h.6M168.1 412.9h.6M169.0 409.7h.6M182.2 409.8h.6M172.7 409.4h.6M154.9 411.0h.6M176.2 411.9h.6M146.0 412.1h.6M174.1 404.2h.6M168.2 406.4h.6M159.3 400.4h.6M172.4 413.5h.6M169.0 414.6h.6M189.6 415.3h.6M167.8 411.0h.6M189.0 414.8h.6M184.0 410.3h.6M166.3 409.9h.6M164.5 404.6h.6M183.5 407.4h.6M170.5 408.2h.6M173.2 413.9h.6M169.5 416.7h.6M160.9 408.6h.6M168.4 411.8h.6M163.2 411.5h.6M158.1 407.5h.6M169.1 403.9h.6M187.7 407.5h.6M186.2 405.0h.6M171.2 409.2h.6M172.9 409.9h.6M176.3 409.7h.6M183.9 409.8h.6M174.6 412.2h.6M167.5 406.9h.6M168.2 413.8h.6M181.9 404.1h.6M195.0 410.6h.6M166.1 411.9h.6M153.4 407.4h.6M179.0 404.3h.6M171.0 412.8h.6M173.0 407.8h.6M182.8 413.4h.6M172.3 413.3h.6M159.9 410.4h.6M154.2 410.4h.6M171.3 414.1h.6M161.4 411.8h.6M174.3 406.9h.6M160.3 411.0h.6M168.6 412.5h.6M158.6 411.2h.6M168.5 411.1h.6M167.7 409.8h.6M177.1 409.9h.6M183.8 406.9h.6M170.1 405.0h.6M164.0 414.7h.6M189.3 408.0h.6M175.0 411.2h.6M177.2 404.7h.6M177.2 411.0h.6M184.8 407.3h.6M180.8 421.6h.6M177.8 406.5h.6M178.6 406.7h.6M164.1 414.0h.6M166.3 414.7h.6M170.8 402.4h.6M172.6 411.4h.6M171.9 413.7h.6M174.5 405.8h.6M172.0 413.0h.6M167.9 408.4h.6M157.2 406.6h.6M179.3 409.1h.6M177.0 408.6h.6M163.9 405.1h.6M176.2 418.8h.6M175.3 408.7h.6M172.4 407.6h.6M155.3 413.6h.6M160.9 410.1h.6M166.4 415.4h.6M186.3 409.4h.6M164.1 411.7h.6M168.7 410.7h.6M161.8 411.0h.6M167.3 409.6h.6M174.8 410.0h.6M153.1 416.7h.6M146.3 407.8h.6M177.7 408.3h.6M172.1 409.1h.6M166.3 412.5h.6M180.5 411.9h.6M180.5 413.9h.6M152.9 405.3h.6M170.3 411.4h.6M181.7 409.7h.6M165.8 409.3h.6M168.9 411.0h.6M180.3 403.0h.6M169.4 411.4h.6M161.0 410.9h.6M165.6 405.0h.6M159.8 410.0h.6M176.7 416.2h.6M156.3 408.9h.6M180.8 412.6h.6M157.0 409.5h.6M172.2 407.3h.6M158.6 406.9h.6M168.9 408.9h.6M181.0 415.3h.6M181.9 413.5h.6M183.5 407.7h.6M171.0 414.2h.6M172.7 409.9h.6M173.9 407.8h.6M177.3 412.0h.6M168.2 407.0h.6M181.7 404.5h.6M174.7 415.3h.6M182.1 403.5h.6M176.1 412.4h.6M177.9 404.7h.6M165.2 410.3h.6M168.0 409.6h.6M160.1 408.7h.6M169.1 402.2h.6M170.2 410.0h.6M179.3 410.3h.6M160.4 407.0h.6M200.9 410.1h.6M170.7 414.1h.6M183.1 407.7h.6M181.1 411.4h.6M149.1 406.1h.6M169.4 411.8h.6M185.0 412.8h.6M149.9 419.7h.6M178.7 413.8h.6M163.5 412.0h.6M167.6 415.7h.6M173.8 406.7h.6M155.0 414.4h.6M173.5 408.4h.6M165.9 408.1h.6M165.0 414.5h.6M178.1 411.3h.6M203.3 415.4h.6M174.8 405.0h.6M176.7 411.4h.6M171.3 408.4h.6M165.2 409.4h.6M174.1 403.3h.6M185.4 413.9h.6M173.5 411.2h.6M179.8 406.7h.6M169.7 405.4h.6M194.4 407.2h.6M156.9 415.7h.6M177.0 410.0h.6M176.6 409.2h.6M174.1 412.3h.6M161.7 410.5h.6M161.5 411.3h.6M169.6 413.2h.6M172.6 411.7h.6M160.8 413.7h.6M162.1 406.0h.6M176.8 410.7h.6M181.0 409.1h.6M166.7 410.8h.6M165.4 410.3h.6M165.2 408.1h.6M194.0 409.1h.6M176.1 414.0h.6M171.1 408.4h.6M180.7 405.8h.6M192.4 412.7h.6M182.2 414.1h.6M158.8 409.5h.6M170.9 410.9h.6M168.0 407.3h.6M168.6 409.7h.6M160.7 414.6h.6M168.1 413.5h.6M161.9 411.0h.6M174.7 409.5h.6M172.1 404.4h.6M158.9 411.7h.6M156.3 412.2h.6M167.3 414.4h.6M177.5 418.0h.6M176.1 411.9h.6M171.1 414.1h.6M141.9 406.3h.6M167.2 415.0h.6M165.0 413.7h.6M168.6 415.6h.6M160.6 413.0h.6M167.7 412.2h.6M165.6 416.0h.6M196.1 408.0h.6M178.0 412.9h.6M169.9 414.5h.6M171.2 407.6h.6M170.6 406.2h.6M173.3 412.1h.6M168.0 411.0h.6M171.5 412.8h.6M180.9 412.9h.6M179.1 407.7h.6M174.4 411.8h.6M183.7 414.7h.6M173.7 409.2h.6M162.8 409.5h.6M155.9 406.4h.6M165.4 413.6h.6M171.1 417.8h.6M175.2 405.5h.6M181.4 413.4h.6M166.5 413.9h.6M164.4 408.5h.6M178.6 409.2h.6M182.3 406.7h.6M167.3 407.6h.6M174.7 411.2h.6M184.1 413.0h.6M174.5 411.0h.6M171.1 413.7h.6M152.9 411.3h.6M183.6 406.2h.6M177.5 415.9h.6M172.8 414.9h.6M167.4 407.9h.6M160.4 417.1h.6M170.7 412.3h.6M170.7 411.1h.6M181.5 417.7h.6M160.7 401.3h.6M184.6 404.6h.6M172.0 413.2h.6M182.4 409.7h.6M162.9 407.1h.6M174.8 416.2h.6M182.7 412.4h.6M141.4 405.4h.6M145.7 413.3h.6M155.9 407.1h.6M162.3 402.9h.6M151.9 406.9h.6M147.6 398.8h.6M138.3 409.0h.6M149.0 411.9h.6M139.2 410.2h.6M146.5 414.2h.6M161.2 408.8h.6M153.7 410.9h.6M155.5 406.2h.6M154.3 409.6h.6M152.6 413.7h.6M156.8 410.6h.6M142.3 409.6h.6M147.8 403.3h.6M156.0 408.0h.6M145.2 405.3h.6M147.2 411.4h.6M158.5 407.0h.6M160.7 410.2h.6M146.1 406.2h.6M144.7 414.7h.6M154.2 405.7h.6M152.1 409.5h.6M145.7 416.9h.6M154.3 409.8h.6M154.0 406.6h.6M150.8 411.0h.6M170.3 412.1h.6M159.5 411.7h.6M155.8 403.3h.6M157.3 409.8h.6M170.5 402.9h.6M157.8 414.7h.6M145.4 409.4h.6M152.5 407.8h.6M150.8 411.1h.6M146.4 410.6h.6M152.1 405.6h.6M152.0 413.9h.6M149.9 408.4h.6M147.0 403.9h.6M156.0 413.3h.6M139.4 413.7h.6M155.9 412.9h.6M150.4 410.8h.6M152.2 406.5h.6M161.8 414.7h.6M138.5 411.6h.6M144.4 413.9h.6M154.7 406.8h.6M146.1 412.2h.6M147.5 411.9h.6M147.3 404.3h.6M151.8 407.0h.6M154.9 409.4h.6M148.3 410.5h.6M151.8 408.5h.6M153.3 409.0h.6M145.7 408.8h.6M145.2 409.4h.6M163.7 410.9h.6M144.5 410.6h.6M158.8 409.0h.6M150.8 409.9h.6M160.4 407.8h.6M145.9 411.5h.6M153.9 407.7h.6M152.6 414.0h.6M148.8 409.1h.6M152.4 410.0h.6M145.0 406.9h.6M149.8 408.1h.6M147.6 409.6h.6M155.5 409.2h.6M149.7 407.3h.6M140.8 405.7h.6M147.8 409.3h.6M149.6 409.6h.6M144.1 410.8h.6M159.4 412.9h.6M153.1 408.2h.6M156.1 403.2h.6M145.1 408.7h.6M147.6 403.7h.6M157.2 405.3h.6M140.5 412.2h.6M152.8 410.8h.6M150.9 407.2h.6M146.9 407.3h.6M150.9 408.9h.6M142.9 403.9h.6M151.9 410.6h.6M142.0 408.1h.6M218.0 447.1h.6M212.4 438.6h.6M157.1 410.9h.6M167.7 401.6h.6M175.9 446.5h.6M180.3 398.9h.6M197.2 459.7h.6M176.6 397.0h.6M197.0 427.3h.6M203.2 432.4h.6M208.3 387.3h.6M190.6 432.0h.6M200.8 402.9h.6M185.4 406.6h.6M198.9 392.3h.6M151.3 458.2h.6M197.6 405.4h.6M163.6 419.3h.6M157.3 396.9h.6M216.1 402.3h.6M198.4 440.9h.6M197.4 409.3h.6M156.4 433.2h.6M218.1 415.8h.6M156.1 424.9h.6" stroke="#1a1a1a" stroke-width=".6" fill="none" opacity=".62"/>
<rect x="136.5" y="384.5" width="84" height="80" fill="none" stroke="#666" stroke-width="1"/>
<path d="M172.5 384.5V464.5" stroke="#8a8a8a" stroke-width="1.1" fill="none"/>
<path d="M136.5 430.5H220.5" stroke="#999" stroke-width="0.9" fill="none"/>
<circle cx="172.5" cy="430.5" r="1.3" fill="#222"/>
<text x="138.2" y="389" font-size="3.9" text-anchor="start" font-weight="normal" fill="#222" >7.7%</text>
<text x="219" y="389" font-size="3.9" text-anchor="end" font-weight="normal" fill="#222" >92.1%</text>
<text x="138.2" y="463.2" font-size="3.9" text-anchor="start" font-weight="normal" fill="#222" >1.0%</text>
<text x="219" y="463.2" font-size="3.9" text-anchor="end" font-weight="normal" fill="#222" >0.0%</text>
<text x="135.7" y="465" font-size="4.1" text-anchor="end" font-weight="normal" fill="#333" >10<tspan dy="-1.5" font-size="2.8">0</tspan></text>
<text x="136.7" y="470" font-size="4.1" text-anchor="middle" font-weight="normal" fill="#333" >10<tspan dy="-1.5" font-size="2.8">0</tspan></text>
<text x="135.7" y="444.95" font-size="4.1" text-anchor="end" font-weight="normal" fill="#333" >10<tspan dy="-1.5" font-size="2.8">1</tspan></text>
<text x="157.65" y="470" font-size="4.1" text-anchor="middle" font-weight="normal" fill="#333" >10<tspan dy="-1.5" font-size="2.8">1</tspan></text>
<text x="135.7" y="424.9" font-size="4.1" text-anchor="end" font-weight="normal" fill="#333" >10<tspan dy="-1.5" font-size="2.8">2</tspan></text>
<text x="178.6" y="470" font-size="4.1" text-anchor="middle" font-weight="normal" fill="#333" >10<tspan dy="-1.5" font-size="2.8">2</tspan></text>
<text x="135.7" y="404.85" font-size="4.1" text-anchor="end" font-weight="normal" fill="#333" >10<tspan dy="-1.5" font-size="2.8">3</tspan></text>
<text x="199.55" y="470" font-size="4.1" text-anchor="middle" font-weight="normal" fill="#333" >10<tspan dy="-1.5" font-size="2.8">3</tspan></text>
<text x="135.7" y="384.8" font-size="4.1" text-anchor="end" font-weight="normal" fill="#333" >10<tspan dy="-1.5" font-size="2.8">4</tspan></text>
<text x="220.5" y="470" font-size="4.1" text-anchor="middle" font-weight="normal" fill="#333" >10<tspan dy="-1.5" font-size="2.8">4</tspan></text>
<text x="275.5" y="378.2" font-size="8.6" text-anchor="middle" font-weight="normal" fill="#222" stroke="#222" stroke-width="0.25">Plating 3</text>
<path d="M289.7 409.5h.6M299.1 402.3h.6M293.7 400.6h.6M280.5 405.5h.6M279.5 408.7h.6M283.7 399.8h.6M283.8 408.5h.6M286.0 408.4h.6M281.0 403.7h.6M290.4 406.0h.6M285.8 404.5h.6M288.2 405.7h.6M285.6 408.2h.6M290.1 402.7h.6M276.5 409.0h.6M297.3 408.4h.6M288.1 408.6h.6M288.9 398.6h.6M290.1 399.0h.6M293.6 407.8h.6M291.0 403.4h.6M287.3 403.0h.6M284.2 402.8h.6M273.2 400.8h.6M287.1 404.4h.6M283.2 402.9h.6M283.2 403.2h.6M303.6 407.1h.6M271.6 401.3h.6M286.0 409.3h.6M294.6 397.7h.6M292.8 414.1h.6M294.9 400.7h.6M276.1 407.4h.6M278.4 408.6h.6M290.2 405.4h.6M283.4 408.0h.6M298.4 405.0h.6M287.3 399.3h.6M287.1 406.6h.6M288.9 409.4h.6M283.6 403.5h.6M286.5 399.6h.6M280.5 403.3h.6M285.3 406.5h.6M282.0 406.5h.6M287.5 409.2h.6M275.0 407.4h.6M274.4 407.2h.6M289.1 398.5h.6M287.3 413.1h.6M278.4 405.6h.6M283.9 408.4h.6M277.8 404.2h.6M300.9 404.9h.6M273.9 405.6h.6M298.5 410.9h.6M279.5 410.7h.6M288.8 407.6h.6M283.7 412.3h.6M282.8 404.1h.6M292.7 407.2h.6M291.8 403.9h.6M283.5 409.9h.6M278.8 405.6h.6M301.2 408.8h.6M296.2 411.4h.6M286.7 398.3h.6M283.4 413.0h.6M287.9 406.5h.6M286.3 404.3h.6M294.6 398.8h.6M278.4 404.4h.6M285.8 397.5h.6M279.8 405.8h.6M295.5 404.9h.6M299.2 411.8h.6M285.0 404.3h.6M289.7 409.2h.6M296.2 409.5h.6M283.4 412.6h.6M278.7 404.6h.6M293.5 408.1h.6M289.5 400.2h.6M284.1 401.6h.6M296.6 404.5h.6M287.4 405.4h.6M272.3 401.2h.6M288.3 404.0h.6M285.2 407.9h.6M299.8 403.9h.6M285.6 404.9h.6M284.1 402.4h.6M289.0 410.3h.6M287.5 411.7h.6M275.1 406.2h.6M286.6 405.1h.6M283.2 411.3h.6M296.2 407.1h.6M303.7 403.1h.6M277.3 400.8h.6M278.4 403.4h.6M279.4 413.1h.6M280.8 403.4h.6M280.5 415.5h.6M286.1 405.5h.6M293.9 404.7h.6M275.9 410.1h.6M274.2 404.6h.6M271.9 406.8h.6M294.0 401.9h.6M295.6 401.1h.6M274.2 402.9h.6M273.5 406.3h.6M286.7 403.2h.6M293.9 398.6h.6M293.3 407.1h.6M287.2 404.9h.6M290.8 404.5h.6M288.2 403.3h.6M281.5 397.6h.6M300.0 411.0h.6M285.7 403.8h.6M277.4 407.3h.6M282.2 410.3h.6M274.1 409.4h.6M285.8 406.2h.6M293.9 405.5h.6M276.2 406.6h.6M294.2 408.7h.6M301.4 407.5h.6M288.5 403.9h.6M277.0 407.1h.6M279.3 406.8h.6M283.2 407.9h.6M276.1 406.2h.6M276.3 410.3h.6M283.8 406.2h.6M284.4 408.6h.6M290.3 405.6h.6M276.7 403.5h.6M299.8 402.2h.6M293.7 404.9h.6M292.4 407.4h.6M280.8 409.9h.6M298.8 405.2h.6M283.1 403.7h.6M299.3 403.7h.6M293.8 410.0h.6M279.0 405.9h.6M282.3 403.7h.6M299.8 408.1h.6M293.2 400.9h.6M284.5 405.9h.6M287.2 405.3h.6M287.2 405.0h.6M279.9 401.5h.6M284.2 408.9h.6M280.8 411.4h.6M282.5 400.9h.6M289.2 405.9h.6M278.5 407.7h.6M291.2 413.4h.6M286.5 404.0h.6M291.4 402.2h.6M292.4 405.5h.6M295.1 412.5h.6M290.4 405.7h.6M291.0 406.4h.6M284.4 411.7h.6M290.0 398.1h.6M278.9 397.9h.6M283.9 408.7h.6M291.3 408.2h.6M285.3 400.7h.6M289.1 407.3h.6M277.8 405.6h.6M296.0 406.3h.6M281.4 402.7h.6M288.7 403.9h.6M285.5 402.4h.6M292.7 405.7h.6M282.8 404.7h.6M278.2 411.4h.6M271.4 407.7h.6M283.4 400.0h.6M276.7 406.9h.6M289.7 410.5h.6M296.5 406.5h.6M269.0 409.3h.6M276.0 405.4h.6M288.0 408.0h.6M295.0 402.2h.6M288.0 408.2h.6M288.1 400.7h.6M289.5 410.0h.6M290.0 400.2h.6M298.1 398.1h.6M290.3 407.3h.6M276.4 404.9h.6M282.2 405.9h.6M287.3 407.0h.6M279.6 405.4h.6M283.7 402.4h.6M281.8 406.2h.6M280.4 406.7h.6M290.9 407.2h.6M282.8 412.4h.6M277.5 402.9h.6M280.3 405.7h.6M286.0 407.5h.6M301.6 403.9h.6M287.7 401.3h.6M296.9 403.5h.6M289.4 409.2h.6M269.5 404.6h.6M288.6 407.6h.6M279.3 402.9h.6M275.5 407.1h.6M277.6 403.1h.6M299.2 402.6h.6M273.8 405.9h.6M281.0 405.7h.6M294.4 410.6h.6M290.7 399.8h.6M272.8 407.3h.6M284.9 411.1h.6M281.8 410.2h.6M284.2 404.2h.6M291.4 403.1h.6M281.3 403.8h.6M283.3 406.5h.6M296.7 406.2h.6M271.8 406.7h.6M282.9 407.6h.6M289.2 401.8h.6M276.3 401.6h.6M280.9 401.2h.6M275.8 400.8h.6M286.9 405.2h.6M281.0 406.6h.6M291.6 414.3h.6M293.4 407.4h.6M286.0 405.6h.6M282.8 410.4h.6M287.7 402.9h.6M286.1 406.7h.6M276.5 408.9h.6M293.8 408.2h.6M287.4 406.9h.6M291.6 404.3h.6M275.4 401.2h.6M292.3 405.0h.6M301.6 403.4h.6M290.3 407.9h.6M274.7 405.0h.6M286.0 407.5h.6M285.2 399.9h.6M287.3 408.9h.6M283.9 402.5h.6M289.4 400.1h.6M282.2 400.7h.6M287.4 403.3h.6M280.5 409.4h.6M286.4 408.0h.6M293.2 401.4h.6M282.0 405.8h.6M290.7 405.1h.6M279.0 400.0h.6M282.8 402.0h.6M283.9 398.4h.6M295.1 402.5h.6M279.9 396.3h.6M294.9 402.7h.6M274.6 402.2h.6M284.5 402.7h.6M292.6 402.6h.6M290.9 409.5h.6M278.0 404.3h.6M276.4 406.3h.6M292.3 408.1h.6M276.1 408.6h.6M290.0 407.9h.6M281.7 403.6h.6M285.6 401.7h.6M303.2 402.8h.6M297.4 403.9h.6M292.0 405.5h.6M275.2 405.2h.6M288.1 409.3h.6M286.0 405.1h.6M284.9 411.7h.6M295.8 409.1h.6M272.6 403.8h.6M288.0 408.5h.6M286.6 395.5h.6M279.9 410.3h.6M298.7 406.9h.6M276.0 406.9h.6M285.8 399.6h.6M286.2 414.3h.6M269.0 404.6h.6M274.8 405.0h.6M278.3 409.4h.6M291.6 404.8h.6M292.8 402.5h.6M290.1 407.8h.6M287.4 402.0h.6M268.9 408.1h.6M287.2 406.0h.6M281.7 409.4h.6M294.5 401.3h.6M295.8 409.8h.6M302.6 406.5h.6M291.0 412.4h.6M291.8 403.2h.6M277.8 412.0h.6M286.2 407.9h.6M276.2 408.2h.6M292.4 403.0h.6M276.5 407.4h.6M284.0 407.8h.6M279.4 402.6h.6M282.0 401.5h.6M289.1 402.8h.6M281.3 410.6h.6M287.3 406.0h.6M278.0 408.8h.6M296.2 406.5h.6M280.7 405.9h.6M293.3 406.3h.6M301.8 404.1h.6M267.0 409.7h.6M278.0 406.1h.6M284.0 406.3h.6M294.5 400.7h.6M281.9 406.6h.6M288.5 403.2h.6M280.0 403.8h.6M289.8 409.1h.6M276.3 401.7h.6M291.9 404.8h.6M262.8 407.7h.6M271.2 409.5h.6M299.4 403.7h.6M286.9 406.6h.6M278.7 406.5h.6M302.3 401.6h.6M293.6 398.1h.6M294.2 398.8h.6M282.3 407.6h.6M290.3 405.9h.6M289.4 400.8h.6M272.9 403.3h.6M290.1 404.1h.6M284.1 404.3h.6M295.4 405.4h.6M295.5 413.2h.6M280.6 402.8h.6M280.9 406.0h.6M287.0 402.8h.6M290.5 403.3h.6M282.4 402.4h.6M284.7 404.7h.6M290.2 403.6h.6M288.8 406.7h.6M294.4 406.2h.6M287.4 402.4h.6M278.7 412.2h.6M272.0 401.4h.6M291.7 406.7h.6M283.0 413.0h.6M282.9 403.0h.6M283.3 410.1h.6M273.5 410.4h.6M282.5 406.7h.6M265.6 399.1h.6M282.4 410.4h.6M278.6 405.8h.6M299.6 403.6h.6M288.9 409.9h.6M283.9 403.0h.6M286.8 409.2h.6M291.1 403.6h.6M279.7 407.4h.6M283.7 401.8h.6M282.8 404.1h.6M304.6 402.3h.6M286.1 403.0h.6M270.4 406.1h.6M291.6 404.9h.6M305.4 406.2h.6M278.1 410.0h.6M312.2 405.1h.6M285.0 399.0h.6M293.2 404.5h.6M281.2 405.8h.6M283.4 409.0h.6M276.0 409.1h.6M277.4 408.8h.6M269.0 404.7h.6M294.3 407.7h.6M276.6 400.5h.6M288.3 410.0h.6M288.0 407.0h.6M280.5 407.3h.6M285.8 404.2h.6M284.7 405.7h.6M281.7 403.2h.6M285.9 407.5h.6M285.9 400.9h.6M277.6 408.9h.6M275.5 407.4h.6M278.9 412.5h.6M286.4 405.4h.6M296.1 405.2h.6M296.8 406.2h.6M287.9 405.6h.6M292.8 405.1h.6M286.4 401.7h.6M294.0 401.7h.6M286.4 403.5h.6M288.5 404.5h.6M283.3 401.4h.6M285.4 401.5h.6M300.1 404.5h.6M276.2 408.1h.6M285.5 404.8h.6M280.9 407.9h.6M292.9 408.9h.6M299.5 408.2h.6M283.0 404.0h.6M264.0 404.1h.6M290.2 399.0h.6M290.2 403.1h.6M272.4 407.1h.6M283.6 401.7h.6M284.9 410.2h.6M267.5 410.5h.6M290.7 404.2h.6M288.8 408.7h.6M287.3 400.6h.6M277.2 401.9h.6M279.9 404.2h.6M280.5 405.5h.6M289.1 404.9h.6M277.8 402.5h.6M296.8 412.3h.6M288.3 406.5h.6M268.5 406.5h.6M298.5 407.9h.6M286.6 406.1h.6M281.1 404.7h.6M286.2 403.6h.6M271.2 399.8h.6M286.9 410.7h.6M266.3 402.3h.6M277.4 399.7h.6M295.9 402.7h.6M295.2 399.9h.6M282.7 412.4h.6M277.8 406.8h.6M292.6 410.4h.6M285.0 410.5h.6M287.0 407.5h.6M290.2 407.5h.6M277.0 403.0h.6M291.5 405.2h.6M268.9 403.4h.6M296.8 405.6h.6M273.1 403.1h.6M280.5 409.9h.6M280.1 408.2h.6M291.0 405.1h.6M291.2 399.7h.6M288.1 407.9h.6M289.6 408.6h.6M289.0 405.3h.6M284.8 401.1h.6M270.4 407.0h.6M267.3 409.1h.6M267.4 398.8h.6M284.9 407.5h.6M283.5 399.2h.6M284.2 405.8h.6M287.1 411.6h.6M283.5 405.8h.6M277.5 407.2h.6M273.6 404.4h.6M270.5 405.5h.6M294.8 413.7h.6M292.4 410.1h.6M274.7 404.4h.6M283.1 404.2h.6M288.7 405.6h.6M297.8 413.1h.6M280.6 406.2h.6M286.6 409.4h.6M294.3 404.2h.6M271.7 401.1h.6M279.5 410.1h.6M285.0 405.2h.6M279.6 402.8h.6M301.8 403.1h.6M292.1 403.2h.6M286.8 403.4h.6M277.7 400.2h.6M292.0 409.7h.6M290.2 406.8h.6M281.2 408.9h.6M281.8 404.3h.6M273.8 406.7h.6M284.6 406.1h.6M292.0 409.6h.6M293.1 408.3h.6M289.8 406.7h.6M291.7 403.3h.6M280.6 401.3h.6M281.5 402.7h.6M294.7 403.3h.6M288.8 403.6h.6M279.0 401.2h.6M289.1 411.2h.6M291.7 406.4h.6M290.8 398.5h.6M286.1 401.7h.6M281.2 400.9h.6M288.3 406.3h.6M298.5 409.2h.6M286.4 402.1h.6M280.0 407.6h.6M287.9 404.5h.6M275.6 409.5h.6M287.0 410.2h.6M282.9 406.6h.6M292.7 408.0h.6M286.0 405.5h.6M293.4 404.2h.6M303.2 401.5h.6M283.5 406.6h.6M278.7 405.3h.6M288.8 404.2h.6M284.5 405.2h.6M286.3 404.9h.6M280.5 401.9h.6M289.5 403.7h.6M285.7 409.4h.6M268.3 404.7h.6M283.3 410.3h.6M287.8 401.5h.6M294.4 400.8h.6M280.7 405.9h.6M278.9 408.2h.6M294.1 403.2h.6M280.4 407.7h.6M286.0 408.7h.6M288.9 409.2h.6M290.9 405.1h.6M285.2 405.3h.6M276.5 399.8h.6M293.1 405.6h.6M281.8 406.5h.6M281.1 410.4h.6M300.8 401.1h.6M292.0 402.6h.6M276.9 402.1h.6M281.4 408.6h.6M283.2 396.8h.6M279.3 401.8h.6M270.2 412.6h.6M291.4 407.8h.6M291.2 400.9h.6M287.1 405.3h.6M282.0 408.4h.6M286.8 407.4h.6M290.1 404.7h.6M277.0 402.8h.6M282.6 408.4h.6M280.8 405.5h.6M290.6 408.3h.6M287.2 406.9h.6M275.0 403.9h.6M280.3 410.5h.6M298.9 403.8h.6M277.6 407.0h.6M286.3 403.3h.6M280.2 404.7h.6M294.8 404.6h.6M284.6 403.2h.6M281.7 406.3h.6M276.0 410.0h.6M283.2 411.9h.6M291.6 410.4h.6M290.4 404.9h.6M274.8 410.5h.6M297.3 406.9h.6M283.2 411.7h.6M276.9 401.2h.6M286.1 410.6h.6M280.3 403.4h.6M280.6 409.5h.6M280.2 403.9h.6M284.4 408.6h.6M281.2 404.5h.6M271.8 399.1h.6M289.2 402.2h.6M281.1 404.7h.6M294.4 405.6h.6M289.3 397.8h.6M289.9 401.4h.6M286.5 403.0h.6M295.2 404.8h.6M282.5 406.3h.6M277.4 402.7h.6M287.8 400.3h.6M264.0 406.5h.6M282.2 404.4h.6M286.8 408.5h.6M281.9 403.7h.6M294.8 407.7h.6M290.5 402.4h.6M286.0 406.4h.6M282.0 405.8h.6M293.6 407.0h.6M279.8 402.3h.6M281.9 405.1h.6M290.9 402.6h.6M289.7 405.0h.6M300.8 407.6h.6M283.4 415.7h.6M270.5 405.6h.6M290.2 407.9h.6M294.8 405.9h.6M283.8 409.4h.6M297.1 407.1h.6M298.9 409.1h.6M279.9 406.7h.6M281.3 413.7h.6M275.4 410.2h.6M289.3 399.7h.6M290.6 406.5h.6M289.7 405.8h.6M275.5 398.0h.6M279.1 402.6h.6M274.0 403.9h.6M272.6 403.0h.6M274.6 406.0h.6M272.8 399.4h.6M283.6 408.1h.6M288.3 408.2h.6M289.9 406.7h.6M284.9 404.4h.6M279.8 405.5h.6M284.9 403.9h.6M289.4 409.4h.6M282.7 407.2h.6M285.4 412.3h.6M282.7 404.3h.6M281.0 410.5h.6M285.3 403.5h.6M276.4 404.9h.6M293.1 402.0h.6M272.9 407.3h.6M288.6 405.3h.6M274.5 407.6h.6M296.7 410.6h.6M291.7 405.3h.6M278.7 406.8h.6M281.5 408.6h.6M276.3 405.3h.6M284.6 403.7h.6M288.2 406.7h.6M304.7 407.2h.6M274.4 408.2h.6M294.6 408.4h.6M280.5 403.2h.6M287.1 407.0h.6M291.8 409.7h.6M289.2 403.9h.6M288.3 406.8h.6M283.5 403.4h.6M284.9 406.1h.6M286.2 411.4h.6M294.3 406.1h.6M273.7 402.2h.6M281.2 406.7h.6M275.4 406.3h.6M277.6 409.3h.6M278.8 400.8h.6M293.5 402.4h.6M301.5 405.3h.6M295.5 400.2h.6M275.9 409.4h.6M285.6 398.6h.6M276.2 402.7h.6M288.4 400.5h.6M294.8 403.3h.6M289.5 408.3h.6M291.7 407.6h.6M283.9 408.7h.6M269.8 407.6h.6M269.7 398.6h.6M284.2 406.6h.6M289.4 399.2h.6M294.8 403.8h.6M282.3 404.2h.6M285.6 403.7h.6M287.0 407.2h.6M293.2 402.8h.6M284.5 411.4h.6M276.6 407.6h.6M293.3 409.6h.6M288.2 408.1h.6M287.9 408.6h.6M275.2 405.4h.6M284.9 412.2h.6M271.8 401.9h.6M269.5 407.1h.6M283.2 405.5h.6M281.6 404.8h.6M289.4 406.6h.6M296.1 403.0h.6M284.7 408.5h.6M298.8 408.2h.6M280.5 405.9h.6M290.9 408.0h.6M275.2 402.0h.6M286.0 399.4h.6M282.6 403.6h.6M283.4 404.7h.6M289.5 414.0h.6M270.5 404.8h.6M285.9 409.0h.6M278.7 408.4h.6M285.9 412.7h.6M288.0 405.9h.6M282.1 407.8h.6M282.1 404.9h.6M276.1 402.6h.6M289.2 402.1h.6M279.8 402.9h.6M288.4 410.4h.6M274.0 406.5h.6M295.5 405.0h.6M277.1 405.6h.6M293.9 403.6h.6M281.5 405.4h.6M289.2 405.4h.6M283.9 407.8h.6M290.2 408.6h.6M285.0 400.0h.6M294.8 406.3h.6M290.2 410.2h.6M290.2 402.1h.6M297.8 404.7h.6M279.6 406.1h.6M295.0 409.3h.6M285.5 407.6h.6M273.6 404.8h.6M288.7 407.2h.6M283.4 409.1h.6M298.0 406.9h.6M281.2 411.9h.6M285.4 407.0h.6M286.8 402.0h.6M270.3 402.9h.6M288.9 405.1h.6M277.4 404.8h.6M295.8 407.7h.6M297.8 406.7h.6M284.9 411.4h.6M272.8 408.3h.6M286.4 410.6h.6M286.4 402.9h.6M290.5 404.1h.6M282.7 407.9h.6M275.8 405.9h.6M283.9 407.7h.6M277.9 406.4h.6M298.6 403.4h.6M279.6 411.3h.6M280.0 409.4h.6M284.6 400.3h.6M275.5 403.4h.6M281.6 405.6h.6M284.0 407.9h.6M281.2 405.3h.6M283.1 400.9h.6M294.5 408.4h.6M288.3 404.8h.6M274.7 409.6h.6M281.7 406.6h.6M290.7 409.0h.6M280.0 408.4h.6M285.6 408.6h.6M284.8 403.8h.6M289.1 409.1h.6M283.6 406.3h.6M283.9 401.3h.6M278.4 404.2h.6M287.8 404.4h.6M277.9 407.2h.6M298.3 407.9h.6M284.8 401.8h.6M283.3 408.0h.6M291.1 405.3h.6M284.3 402.0h.6M285.7 408.4h.6M284.6 403.0h.6M279.4 401.5h.6M277.9 408.1h.6M279.6 408.6h.6M293.7 403.3h.6M280.2 409.2h.6M281.9 409.0h.6M281.5 403.8h.6M290.4 412.4h.6M300.2 405.4h.6M277.9 406.3h.6M289.2 397.5h.6M285.9 407.7h.6M282.7 403.5h.6M288.9 407.1h.6M275.2 399.8h.6M291.4 409.5h.6M286.7 410.5h.6M277.3 412.0h.6M297.2 395.6h.6M291.5 407.6h.6M293.9 406.8h.6M273.8 395.3h.6M282.9 403.1h.6M281.0 405.3h.6M289.8 410.4h.6M295.4 402.8h.6M270.4 406.3h.6M285.2 405.4h.6M284.0 406.9h.6M292.7 404.3h.6M284.7 408.6h.6M275.2 408.9h.6M283.5 401.0h.6M277.0 409.4h.6M279.0 403.1h.6M285.3 404.7h.6M281.3 409.4h.6M287.1 406.0h.6M273.4 407.6h.6M302.8 408.3h.6M294.7 407.7h.6M290.5 403.8h.6M275.1 402.4h.6M268.4 408.0h.6M278.4 408.2h.6M283.2 406.9h.6M302.1 405.0h.6M295.0 408.6h.6M281.0 405.6h.6M294.3 401.0h.6M294.4 406.6h.6M285.1 407.4h.6M294.3 408.3h.6M287.5 402.6h.6M280.0 403.1h.6M276.0 406.8h.6M284.1 404.2h.6M292.7 405.4h.6M274.6 408.9h.6M272.6 407.0h.6M289.2 411.9h.6M264.2 406.7h.6M299.0 411.5h.6M281.6 409.3h.6M290.6 414.3h.6M299.3 405.8h.6M273.9 405.4h.6M276.9 410.1h.6M302.2 404.0h.6M282.8 404.2h.6M284.0 406.6h.6M286.7 407.0h.6M293.1 401.0h.6M295.2 406.6h.6M285.8 404.7h.6M282.4 405.7h.6M284.7 406.4h.6M287.3 405.1h.6M295.0 409.4h.6M286.0 407.4h.6M299.0 405.1h.6M278.4 406.0h.6M289.1 409.3h.6M298.5 408.5h.6M294.9 410.1h.6M287.5 405.3h.6M278.2 406.3h.6M279.5 412.6h.6M283.8 405.7h.6M287.4 411.5h.6M283.1 408.7h.6M273.8 404.4h.6M279.3 401.1h.6M289.0 408.0h.6M291.4 403.5h.6M274.3 403.4h.6M282.2 400.0h.6M272.2 409.8h.6M280.7 406.2h.6M312.2 405.9h.6M285.5 407.2h.6M282.4 406.7h.6M280.5 406.2h.6M275.7 407.6h.6M270.7 404.9h.6M284.7 397.1h.6M282.9 408.3h.6M296.3 407.3h.6M272.5 405.9h.6M288.3 411.2h.6M295.3 401.1h.6M270.0 396.1h.6M290.0 410.9h.6M272.6 407.3h.6M289.0 400.3h.6M296.3 404.5h.6M285.0 407.9h.6M287.2 401.8h.6M279.7 407.7h.6M287.2 413.0h.6M293.7 410.5h.6M283.6 405.8h.6M283.9 406.9h.6M288.0 402.7h.6M291.3 406.3h.6M272.5 404.7h.6M285.5 402.5h.6M279.7 401.3h.6M288.8 412.4h.6M293.0 406.1h.6M287.4 402.4h.6M294.9 404.4h.6M277.4 410.9h.6M281.9 411.3h.6M277.4 403.8h.6M285.5 406.5h.6M285.7 408.9h.6M283.5 404.7h.6M275.7 401.9h.6M284.4 402.6h.6M281.6 405.9h.6M289.6 403.2h.6M282.9 401.5h.6M293.9 405.1h.6M286.8 409.0h.6M270.8 408.2h.6M283.7 405.1h.6M274.0 412.3h.6M292.4 403.2h.6M296.0 405.6h.6M284.8 401.2h.6M288.4 408.5h.6M273.9 405.4h.6M267.8 400.2h.6M280.7 403.1h.6M283.0 411.9h.6M273.4 408.3h.6M285.7 406.2h.6M287.4 408.8h.6M289.9 400.4h.6M296.9 403.0h.6M291.2 401.4h.6M282.2 403.0h.6M285.8 404.5h.6M289.6 407.6h.6M277.0 409.2h.6M295.2 409.1h.6M291.9 414.9h.6M283.3 404.2h.6M280.1 405.8h.6M314.2 407.5h.6M291.5 403.0h.6M292.2 404.9h.6M298.8 407.2h.6M292.6 402.8h.6M286.6 407.4h.6M290.4 410.0h.6M278.0 402.1h.6M290.5 398.1h.6M273.2 406.1h.6M288.3 402.3h.6M289.3 406.4h.6M273.1 404.3h.6M299.8 406.8h.6M276.2 409.6h.6M293.1 408.6h.6M281.0 404.6h.6M287.4 401.9h.6M280.0 397.4h.6M304.2 398.5h.6M293.0 403.1h.6M299.0 406.1h.6M291.1 403.5h.6M290.4 403.8h.6M286.3 400.4h.6M283.3 400.2h.6M289.8 399.9h.6M286.4 407.8h.6M284.0 399.0h.6M274.6 408.0h.6M282.8 402.7h.6M289.8 407.5h.6M281.5 406.5h.6M287.8 408.2h.6M284.1 409.7h.6M277.2 403.0h.6M278.2 402.4h.6M279.5 404.1h.6M282.9 403.0h.6M283.2 407.8h.6M293.8 405.2h.6M276.8 405.6h.6M269.5 407.0h.6M290.4 404.0h.6M281.7 409.3h.6M284.3 399.3h.6M304.8 406.3h.6M296.4 407.2h.6M289.7 402.9h.6M292.5 403.2h.6M286.1 408.6h.6M292.6 404.5h.6M280.5 399.0h.6M279.7 401.0h.6M281.6 408.9h.6M297.4 402.5h.6M297.2 409.9h.6M280.5 410.1h.6M294.1 404.8h.6M284.0 407.3h.6M293.5 402.7h.6M282.8 404.1h.6M292.6 403.1h.6M284.4 407.5h.6M283.0 401.2h.6M285.1 405.1h.6M286.5 405.7h.6M280.8 407.2h.6M274.7 398.3h.6M298.3 399.4h.6M282.2 402.5h.6M271.3 404.7h.6M267.8 406.0h.6M263.7 406.1h.6M280.5 412.3h.6M295.7 407.7h.6M272.7 407.5h.6M282.8 403.8h.6M271.1 408.1h.6M293.8 407.8h.6M288.1 407.7h.6M287.8 405.1h.6M295.7 407.6h.6M298.0 410.6h.6M293.2 402.8h.6M280.8 398.2h.6M275.1 408.2h.6M277.2 407.9h.6M271.8 404.7h.6M299.2 404.0h.6M283.8 414.8h.6M286.3 403.9h.6M286.8 401.3h.6M300.9 403.8h.6M281.0 407.1h.6M294.4 403.4h.6M287.6 404.1h.6M284.1 406.5h.6M270.5 404.0h.6M292.4 405.9h.6M279.6 405.3h.6M281.8 401.9h.6M287.1 405.7h.6M286.0 401.5h.6M294.0 408.6h.6M280.1 402.3h.6M286.6 404.6h.6M287.5 399.3h.6M285.5 403.9h.6M290.6 401.2h.6M283.4 410.5h.6M294.6 405.0h.6M279.8 407.2h.6M274.2 399.5h.6M285.0 401.3h.6M294.4 404.9h.6M281.3 400.9h.6M280.5 409.3h.6M282.6 404.1h.6M286.6 405.9h.6M284.0 406.5h.6M287.7 404.9h.6M272.1 408.0h.6M296.9 403.2h.6M289.8 406.7h.6M278.7 409.5h.6M295.9 406.1h.6M288.8 405.8h.6M296.7 404.3h.6M276.2 405.6h.6M298.1 407.7h.6M285.7 404.6h.6M269.4 399.8h.6M291.1 406.0h.6M283.0 404.9h.6M277.5 407.0h.6M283.7 405.6h.6M270.3 410.7h.6M289.8 401.4h.6M283.7 402.2h.6M283.2 407.6h.6M296.2 402.0h.6M285.6 406.5h.6M280.2 405.4h.6M278.0 398.8h.6M284.8 407.6h.6M293.5 410.0h.6M280.8 406.1h.6M277.3 400.7h.6M292.4 408.0h.6M285.8 401.9h.6M285.1 405.0h.6M301.4 406.8h.6M275.9 402.8h.6M286.9 399.7h.6M271.6 404.9h.6M283.0 405.3h.6M289.9 402.5h.6M294.0 402.8h.6M275.5 407.9h.6M291.8 405.1h.6M291.4 403.8h.6M284.4 403.4h.6M304.3 406.0h.6M285.3 405.7h.6M278.5 404.8h.6M288.6 400.8h.6M270.9 404.2h.6M297.4 403.3h.6M292.9 405.6h.6M282.2 409.2h.6M290.1 408.6h.6M289.5 407.5h.6M300.3 405.8h.6M280.6 404.3h.6M275.3 406.5h.6M269.6 403.8h.6M283.0 404.3h.6M273.2 402.6h.6M284.0 405.2h.6M288.5 405.1h.6M281.9 411.5h.6M278.0 407.2h.6M294.5 404.1h.6M283.8 408.0h.6M287.1 403.8h.6M292.7 408.7h.6M275.2 408.0h.6M278.2 415.0h.6M304.6 401.8h.6M284.1 405.1h.6M277.3 405.0h.6M283.3 406.4h.6M280.9 407.7h.6M275.8 402.2h.6M282.2 403.0h.6M285.2 406.4h.6M285.2 408.6h.6M289.5 401.7h.6M271.9 400.3h.6M273.8 409.2h.6M291.4 408.2h.6M281.9 409.0h.6M294.7 402.2h.6M287.7 404.7h.6M274.4 406.1h.6M289.5 406.8h.6M277.5 405.0h.6M287.3 405.2h.6M294.8 408.7h.6M301.6 404.0h.6M284.8 403.6h.6M290.7 404.0h.6M287.6 403.7h.6M291.4 405.8h.6M265.6 404.7h.6M282.3 403.9h.6M287.6 410.0h.6M288.9 406.4h.6M279.5 404.3h.6M291.7 409.5h.6M293.8 403.6h.6M285.9 405.4h.6M283.6 405.1h.6M282.6 403.5h.6M286.4 404.1h.6M294.4 405.7h.6M296.9 400.7h.6M281.7 404.1h.6M278.1 406.2h.6M279.2 406.3h.6M292.9 406.4h.6M287.0 413.0h.6M287.6 407.6h.6M289.0 404.9h.6M288.2 405.0h.6M284.4 405.4h.6M277.3 406.8h.6M280.6 404.4h.6M286.2 410.3h.6M288.3 401.8h.6M282.5 407.4h.6M282.1 407.0h.6M295.8 401.7h.6M281.7 407.4h.6M287.0 407.2h.6M282.9 403.3h.6M278.7 412.9h.6M273.6 407.7h.6M281.2 404.3h.6M279.0 403.8h.6M291.8 403.0h.6M276.5 406.2h.6M282.1 405.6h.6M290.3 400.8h.6M284.4 402.0h.6M289.1 403.1h.6M291.7 404.1h.6M272.6 404.2h.6M282.1 403.2h.6M277.9 407.5h.6M295.7 408.4h.6M284.4 405.6h.6M289.1 398.3h.6M298.3 404.9h.6M282.6 407.2h.6M285.9 405.1h.6M288.4 406.3h.6M283.3 405.7h.6M294.9 400.5h.6M291.6 397.2h.6M293.0 407.4h.6M285.7 403.7h.6M282.7 406.7h.6M282.6 404.4h.6M282.5 404.8h.6M272.7 409.8h.6M288.1 401.5h.6M291.5 405.3h.6M285.2 401.8h.6M281.5 405.6h.6M285.6 406.9h.6M287.0 407.5h.6M287.8 405.9h.6M299.0 400.9h.6M278.8 406.2h.6M288.1 408.3h.6M290.6 408.6h.6M285.9 412.3h.6M283.5 407.2h.6M277.5 402.1h.6M280.8 403.7h.6M290.7 405.6h.6M296.4 408.7h.6M280.3 401.7h.6M288.9 408.3h.6M289.3 407.5h.6M293.0 402.6h.6M287.2 407.3h.6M288.7 402.9h.6M292.1 405.4h.6M276.4 404.4h.6M285.6 406.1h.6M271.9 401.6h.6M270.3 407.1h.6M279.0 398.4h.6M273.6 404.1h.6M289.1 403.5h.6M292.8 410.5h.6M283.0 407.1h.6M284.2 403.8h.6M283.5 402.5h.6M283.3 405.5h.6M286.3 403.3h.6M287.9 412.6h.6M281.8 396.4h.6M279.3 405.6h.6M281.3 397.4h.6M291.3 408.7h.6M282.1 402.8h.6M296.3 410.5h.6M283.4 403.6h.6M295.6 408.9h.6M276.2 406.0h.6M280.0 409.2h.6M288.9 405.4h.6M289.0 395.8h.6M284.1 403.0h.6M300.7 400.3h.6M285.8 408.4h.6M287.5 407.1h.6M281.0 405.4h.6M297.8 406.8h.6M291.7 406.0h.6M288.4 403.5h.6M272.9 411.7h.6M288.0 406.1h.6M281.7 404.7h.6M288.2 400.6h.6M292.2 403.4h.6M279.6 405.4h.6M286.9 404.8h.6M291.9 403.8h.6M286.5 405.2h.6M282.8 401.7h.6M277.3 405.4h.6M280.2 400.4h.6M275.7 402.6h.6M292.7 403.0h.6M286.0 408.2h.6M276.1 407.0h.6M285.2 405.6h.6M275.5 401.7h.6M260.5 404.1h.6M294.3 408.0h.6M294.1 409.4h.6M274.1 400.6h.6M279.8 404.0h.6M286.8 405.7h.6M282.4 406.5h.6M278.8 405.4h.6M281.4 407.5h.6M283.4 400.7h.6M281.1 410.4h.6M286.8 401.7h.6M283.5 405.6h.6M279.5 407.1h.6M285.4 409.2h.6M272.7 408.3h.6M296.1 408.2h.6M272.1 409.5h.6M284.6 404.9h.6M287.8 407.8h.6M288.3 410.4h.6M287.2 402.9h.6M294.7 400.9h.6M276.8 402.1h.6M284.7 410.0h.6M286.3 409.4h.6M281.5 404.2h.6M280.8 406.2h.6M294.9 406.9h.6M279.9 408.8h.6M281.6 399.3h.6M283.1 403.6h.6M283.6 404.6h.6M286.4 406.4h.6M283.7 405.7h.6M288.0 404.4h.6M286.2 406.4h.6M288.8 397.1h.6M295.5 415.4h.6M278.9 408.1h.6M297.6 408.3h.6M281.8 403.3h.6M290.2 406.8h.6M286.4 412.1h.6M283.0 411.3h.6M270.5 405.7h.6M297.3 401.4h.6M279.5 406.0h.6M279.3 404.5h.6M293.1 408.2h.6M285.7 401.3h.6M299.4 404.8h.6M297.8 406.3h.6M290.5 403.9h.6M287.1 408.9h.6M290.9 401.7h.6M275.3 401.4h.6M286.5 404.3h.6M286.3 408.1h.6M281.7 404.5h.6M287.1 403.5h.6M274.3 408.1h.6M291.9 406.2h.6M294.8 403.7h.6M275.5 405.8h.6M286.3 404.7h.6M296.7 407.4h.6M288.3 405.9h.6M277.5 402.8h.6M277.8 403.9h.6M291.5 404.1h.6M298.9 406.6h.6M277.1 406.7h.6M285.4 402.7h.6M279.4 404.8h.6M283.0 406.4h.6M287.5 409.0h.6M284.8 406.3h.6M280.0 411.8h.6M300.8 405.5h.6M284.0 407.8h.6M283.8 404.4h.6M293.4 402.2h.6M285.2 405.8h.6M283.6 407.0h.6M292.2 406.5h.6M277.4 405.9h.6M290.7 404.4h.6M292.8 402.8h.6M290.1 404.5h.6M283.8 407.0h.6M285.1 408.5h.6M272.4 394.7h.6M284.2 407.4h.6M287.3 409.0h.6M291.6 409.6h.6M286.2 406.7h.6M282.3 407.6h.6M278.9 404.0h.6M284.8 405.2h.6M286.1 407.2h.6M294.1 401.9h.6M285.2 402.9h.6M281.4 406.1h.6M284.3 401.1h.6M281.6 405.6h.6M283.4 400.6h.6M268.7 406.1h.6M273.3 405.5h.6M276.3 403.6h.6M288.6 402.4h.6M284.6 403.8h.6M286.2 398.1h.6M293.8 404.1h.6M277.4 405.8h.6M293.6 409.4h.6M288.0 403.8h.6M279.8 404.9h.6M296.2 410.0h.6M274.6 411.1h.6M276.8 403.8h.6M283.6 408.9h.6M288.1 409.3h.6M283.7 407.1h.6M269.3 402.2h.6M282.9 402.4h.6M284.5 407.3h.6M304.0 413.0h.6M295.3 404.9h.6M286.0 410.5h.6M277.0 411.6h.6M287.7 401.4h.6M276.5 403.5h.6M286.6 410.4h.6M287.8 408.6h.6M282.2 407.2h.6M287.0 405.4h.6M282.7 407.5h.6M280.9 403.4h.6M296.5 413.6h.6M289.4 401.7h.6M282.8 399.6h.6M279.4 405.9h.6M286.4 410.1h.6M289.3 403.8h.6M291.4 405.3h.6M296.0 402.1h.6M288.5 405.2h.6M276.8 402.1h.6M300.1 402.2h.6M293.7 400.6h.6M291.3 403.6h.6M295.0 411.5h.6M274.1 405.2h.6M282.4 406.1h.6M281.3 412.7h.6M293.9 403.4h.6M276.4 402.2h.6M282.7 407.1h.6M296.3 401.4h.6M289.9 406.5h.6M282.3 409.2h.6M299.0 401.9h.6M275.3 403.7h.6M288.5 411.0h.6M283.4 402.0h.6M288.9 403.2h.6M283.1 406.2h.6M278.9 404.4h.6M286.7 402.6h.6M275.4 410.7h.6M289.0 403.5h.6M282.7 406.5h.6M291.9 404.1h.6M281.8 404.7h.6M280.1 400.9h.6M288.0 408.5h.6M294.2 404.0h.6M269.8 409.6h.6M286.0 401.6h.6M289.7 403.9h.6M274.6 407.0h.6M278.6 405.8h.6M289.8 403.3h.6M279.0 405.0h.6M280.4 401.2h.6M297.8 405.6h.6M278.1 396.8h.6M278.7 406.0h.6M268.0 409.9h.6M277.0 408.4h.6M276.0 408.2h.6M297.8 404.1h.6M294.1 407.0h.6M275.7 404.1h.6M299.6 405.1h.6M290.8 405.1h.6M283.7 394.4h.6M291.1 408.5h.6M287.9 406.9h.6M279.4 408.2h.6M272.1 402.3h.6M278.3 407.7h.6M285.0 407.0h.6M282.4 398.1h.6M279.6 399.7h.6M292.3 405.6h.6M277.2 403.3h.6M291.7 405.4h.6M281.5 403.3h.6M285.9 410.3h.6M276.8 399.2h.6M285.0 401.0h.6M279.3 402.2h.6M272.2 401.0h.6M284.9 403.5h.6M284.7 405.3h.6M291.2 401.0h.6M287.2 406.6h.6M277.6 409.7h.6M280.5 409.0h.6M266.7 412.0h.6M276.8 409.2h.6M294.6 405.3h.6M296.3 411.3h.6M290.7 407.8h.6M287.3 411.6h.6M289.4 404.8h.6M288.6 398.6h.6M272.2 401.6h.6M278.6 406.0h.6M293.8 407.2h.6M293.8 404.8h.6M286.8 408.7h.6M282.8 401.7h.6M282.2 403.2h.6M281.0 408.7h.6M278.2 405.6h.6M270.8 405.8h.6M286.1 410.1h.6M281.7 409.1h.6M283.5 402.9h.6M297.7 406.1h.6M289.4 399.9h.6M279.8 405.4h.6M289.3 406.8h.6M273.9 399.8h.6M292.8 410.6h.6M287.0 412.0h.6M283.6 407.1h.6M289.3 408.5h.6M295.8 410.4h.6M281.6 404.9h.6M277.7 408.9h.6M300.7 406.7h.6M285.2 400.5h.6M296.1 402.5h.6M280.0 403.6h.6M287.8 409.0h.6M280.3 405.8h.6M289.7 408.7h.6M283.0 404.0h.6M280.1 401.3h.6M296.5 412.3h.6M287.6 414.4h.6M270.0 406.8h.6M283.3 404.9h.6M278.2 409.4h.6M276.0 401.9h.6M280.7 404.8h.6M281.5 400.8h.6M285.3 407.1h.6M279.1 406.3h.6M271.2 404.2h.6M281.0 403.4h.6M291.6 400.5h.6M274.9 402.8h.6M289.6 409.5h.6M288.4 404.4h.6M281.7 409.6h.6M287.3 402.7h.6M279.4 405.2h.6M282.0 404.0h.6M277.4 404.7h.6M288.5 408.0h.6M295.2 398.8h.6M280.0 407.9h.6M293.9 407.8h.6M269.1 405.5h.6M278.4 405.8h.6M277.5 404.8h.6M297.8 407.8h.6M280.6 405.7h.6M290.8 402.7h.6M269.7 406.0h.6M285.9 408.6h.6M289.2 406.7h.6M284.7 405.6h.6M264.7 406.2h.6M286.3 403.9h.6M291.1 404.0h.6M294.9 399.3h.6M288.0 404.9h.6M272.4 408.7h.6M283.4 404.2h.6M291.8 402.5h.6M278.9 408.4h.6M289.2 406.0h.6M281.4 406.0h.6M285.7 407.0h.6M290.7 407.8h.6M279.7 405.4h.6M306.4 402.8h.6M286.1 411.2h.6M287.6 405.7h.6M279.5 403.0h.6M285.5 406.1h.6M283.0 409.4h.6M274.1 400.9h.6M273.5 409.8h.6M287.1 405.1h.6M284.3 412.0h.6M265.3 407.7h.6M268.9 405.2h.6M282.7 409.6h.6M284.5 409.7h.6M289.6 404.4h.6M275.7 406.3h.6M289.4 403.8h.6M282.7 408.5h.6M281.2 400.9h.6M283.9 404.9h.6M292.4 398.6h.6M289.2 407.4h.6M291.7 398.3h.6M279.8 402.1h.6M282.9 406.4h.6M276.3 404.4h.6M280.8 404.1h.6M282.0 402.4h.6M281.5 404.0h.6M290.3 399.8h.6M288.2 406.6h.6M290.7 408.1h.6M286.0 408.0h.6M293.0 405.4h.6M285.9 409.5h.6M292.2 407.0h.6M288.8 408.6h.6M290.5 406.8h.6M284.5 405.6h.6M275.7 403.1h.6M274.2 397.0h.6M299.7 407.6h.6M287.9 405.1h.6M288.3 412.0h.6M283.7 399.1h.6M281.6 408.2h.6M306.5 402.4h.6M276.6 405.5h.6M284.5 402.6h.6M284.6 406.6h.6M276.5 405.4h.6M275.5 408.4h.6M279.7 406.0h.6M282.4 407.1h.6M281.4 409.6h.6M291.1 407.2h.6M276.2 405.1h.6M288.0 409.5h.6M296.0 405.2h.6M291.7 406.8h.6M276.5 404.5h.6M262.8 403.4h.6M291.3 395.8h.6M288.7 407.8h.6M280.6 401.8h.6M294.6 407.9h.6M282.0 411.4h.6M285.8 401.3h.6M277.2 408.4h.6M287.4 405.2h.6M281.8 407.0h.6M281.2 401.7h.6M293.1 405.6h.6M286.6 406.0h.6M273.8 410.2h.6M290.2 412.5h.6M291.3 406.5h.6M278.8 404.3h.6M282.1 412.7h.6M285.4 405.2h.6M283.1 405.3h.6M285.9 405.9h.6M289.9 407.0h.6M281.3 407.8h.6M300.6 403.7h.6M279.7 405.2h.6M281.0 411.6h.6M299.8 410.7h.6M302.9 407.0h.6M285.3 406.4h.6M283.6 404.8h.6M277.0 408.9h.6M293.6 403.9h.6M286.3 405.9h.6M278.7 404.1h.6M288.0 403.5h.6M295.3 405.7h.6M290.1 405.6h.6M301.6 403.7h.6M293.7 405.3h.6M288.3 405.8h.6M284.8 404.0h.6M289.1 403.4h.6M294.1 405.1h.6M291.4 407.8h.6M292.9 409.1h.6M286.7 406.2h.6M290.7 404.7h.6M294.1 405.5h.6M283.8 411.7h.6M275.3 408.5h.6M297.9 402.5h.6M289.4 405.4h.6M281.7 403.8h.6M286.8 404.4h.6M283.1 400.1h.6M272.2 405.6h.6M283.6 401.2h.6M274.3 403.7h.6M286.5 410.5h.6M284.2 408.8h.6M293.5 402.7h.6M284.1 402.2h.6M287.8 402.6h.6M282.8 399.5h.6M282.2 402.4h.6M274.5 404.7h.6M292.4 402.2h.6M286.3 408.0h.6M280.6 405.4h.6M286.6 403.8h.6M281.9 411.2h.6M279.6 407.9h.6M286.9 405.8h.6M294.1 411.5h.6M283.0 409.8h.6M274.3 403.3h.6M280.4 406.6h.6M298.5 404.1h.6M278.9 400.9h.6M293.9 411.7h.6M283.2 410.4h.6M290.6 401.4h.6M284.2 407.2h.6M273.2 400.2h.6M281.9 409.0h.6M300.8 405.4h.6M284.0 404.6h.6M289.2 409.6h.6M282.5 405.6h.6M284.0 404.7h.6M287.4 408.5h.6M288.6 404.6h.6M301.6 408.4h.6M284.9 405.6h.6M283.7 408.2h.6M280.0 407.6h.6M275.2 408.1h.6M272.9 402.3h.6M290.0 411.7h.6M271.0 405.0h.6M295.6 411.3h.6M291.5 403.6h.6M282.8 404.7h.6M276.4 404.7h.6M285.2 409.3h.6M285.2 404.2h.6M293.5 406.9h.6M279.5 400.5h.6M282.2 404.0h.6M284.6 406.3h.6M282.9 405.2h.6M280.3 399.5h.6M272.2 407.2h.6M272.7 402.4h.6M280.0 411.9h.6M283.3 404.9h.6M292.5 412.9h.6M302.3 407.7h.6M297.9 407.1h.6M288.0 404.0h.6M299.1 405.2h.6M284.2 407.0h.6M281.1 399.2h.6M302.4 408.8h.6M277.0 401.7h.6M281.9 404.7h.6M283.1 396.6h.6M296.0 407.1h.6M280.6 408.0h.6M290.9 406.5h.6M282.0 406.6h.6M275.9 404.3h.6M286.8 406.1h.6M286.3 409.5h.6M276.4 404.2h.6M278.5 407.2h.6M279.1 407.9h.6M292.3 404.8h.6M288.5 406.3h.6M286.8 406.3h.6M288.7 403.9h.6M281.5 413.5h.6M288.6 404.1h.6M280.5 411.2h.6M275.0 409.1h.6M279.8 398.9h.6M286.6 406.4h.6M285.7 409.0h.6M293.0 408.2h.6M272.4 402.6h.6M283.4 406.4h.6M288.0 401.6h.6M277.8 402.1h.6M286.9 404.8h.6M282.0 406.2h.6M276.6 410.8h.6M293.5 406.7h.6M274.6 409.0h.6M292.5 401.6h.6M281.9 401.8h.6M278.0 404.0h.6M278.4 411.3h.6M279.5 401.1h.6M278.7 400.3h.6M287.1 405.3h.6M271.0 409.5h.6M294.4 400.2h.6M291.3 404.7h.6M295.5 401.1h.6M277.7 410.3h.6M267.7 407.8h.6M280.4 406.5h.6M283.8 405.4h.6M287.3 404.8h.6M281.2 406.0h.6M284.4 403.4h.6M286.2 402.6h.6M273.5 401.9h.6M298.6 405.6h.6M276.6 402.9h.6M287.0 408.4h.6M293.2 398.6h.6M279.2 407.4h.6M285.1 407.3h.6M297.3 409.6h.6M283.0 404.7h.6M292.9 400.6h.6M287.3 402.5h.6M286.8 409.3h.6M290.5 404.5h.6M283.3 404.2h.6M283.5 403.6h.6M292.3 405.3h.6M287.0 404.8h.6M288.8 400.4h.6M276.1 403.6h.6M285.2 408.9h.6M294.2 410.3h.6M291.8 405.1h.6M287.7 403.8h.6M281.2 410.0h.6M280.5 405.0h.6M288.4 401.6h.6M295.7 405.1h.6M285.4 407.8h.6M294.9 410.7h.6M282.9 403.9h.6M294.1 407.3h.6M277.6 404.4h.6M286.5 409.3h.6M277.1 406.4h.6M290.1 406.4h.6M289.4 402.3h.6M278.0 404.5h.6M279.5 404.5h.6M281.8 393.6h.6M274.0 408.4h.6M278.2 405.5h.6M278.6 404.8h.6M291.0 404.3h.6M295.5 405.6h.6M281.8 406.3h.6M283.0 401.2h.6M286.7 405.9h.6M281.2 405.9h.6M283.0 405.6h.6M291.4 400.6h.6M286.8 405.1h.6M284.5 401.3h.6M280.8 406.7h.6M296.1 409.9h.6M280.5 408.4h.6M286.0 404.4h.6M277.4 403.7h.6M280.7 403.7h.6M285.8 406.7h.6M282.2 403.3h.6M289.1 403.8h.6M285.6 397.2h.6M274.8 402.7h.6M267.8 402.9h.6M292.6 403.7h.6M280.7 409.5h.6M296.2 401.0h.6M285.2 401.1h.6M279.4 407.5h.6M289.3 402.3h.6M283.1 405.0h.6M285.2 406.1h.6M278.1 405.6h.6M289.9 403.0h.6M293.3 408.6h.6M281.2 410.5h.6M298.5 402.2h.6M280.8 404.6h.6M287.0 408.6h.6M272.9 404.8h.6M270.7 402.2h.6M300.8 404.1h.6M295.8 408.3h.6M293.7 402.2h.6M272.4 406.4h.6M286.8 406.8h.6M288.2 403.4h.6M285.7 407.4h.6M287.3 407.7h.6M278.2 408.8h.6M283.9 408.6h.6M276.6 400.6h.6M282.5 408.5h.6M287.9 407.4h.6M279.2 408.7h.6M283.0 402.7h.6M281.9 408.5h.6M285.2 406.7h.6M292.0 401.7h.6M286.9 409.7h.6M288.0 402.9h.6M274.3 402.2h.6M282.4 406.8h.6M291.2 403.5h.6M278.6 406.7h.6M281.8 404.7h.6M277.8 406.5h.6M295.1 408.2h.6M281.7 405.4h.6M279.6 408.4h.6M289.7 408.3h.6M293.3 402.8h.6M288.8 408.3h.6M292.4 407.6h.6M286.7 406.0h.6M284.1 409.2h.6M281.8 411.0h.6M281.3 408.0h.6M280.6 400.7h.6M287.8 407.0h.6M284.2 405.1h.6M285.7 404.6h.6M289.6 406.7h.6M284.7 404.5h.6M274.8 410.9h.6M279.1 406.4h.6M276.7 405.6h.6M270.8 408.1h.6M285.8 408.2h.6M276.1 409.4h.6M275.4 407.6h.6M277.0 405.4h.6M291.6 406.0h.6M282.7 398.4h.6M292.5 400.7h.6M284.4 409.0h.6M281.8 404.5h.6M289.3 411.5h.6M289.5 411.5h.6M285.9 401.4h.6M277.3 406.6h.6M281.6 415.1h.6M276.2 403.0h.6M283.1 406.9h.6M285.7 404.8h.6M296.2 404.8h.6M295.6 404.6h.6M290.1 405.5h.6M292.2 408.1h.6M286.8 402.9h.6M305.8 407.2h.6M296.5 403.2h.6M304.9 407.3h.6M287.9 406.6h.6M288.1 403.0h.6M292.9 406.0h.6M286.4 403.1h.6M287.4 402.8h.6M277.6 409.4h.6M292.1 399.6h.6M286.0 407.4h.6M291.1 407.9h.6M283.4 403.6h.6M271.7 409.1h.6M288.8 408.6h.6M293.7 401.3h.6M275.4 407.3h.6M277.7 407.1h.6M282.8 403.1h.6M283.2 407.5h.6M272.3 408.0h.6M298.2 403.2h.6M292.6 399.0h.6M280.4 406.9h.6M271.4 403.1h.6M287.7 399.9h.6M299.9 404.3h.6M291.2 397.7h.6M293.7 404.4h.6M277.9 410.5h.6M286.7 396.2h.6M273.8 407.1h.6M299.8 402.5h.6M289.3 404.2h.6M269.2 402.5h.6M271.1 407.7h.6M288.6 405.5h.6M286.0 403.0h.6M282.7 401.2h.6M289.6 404.1h.6M300.1 409.4h.6M287.7 401.5h.6M271.5 406.9h.6M283.8 406.7h.6M275.2 399.0h.6M279.0 409.2h.6M287.4 405.4h.6M283.7 412.9h.6M277.0 411.3h.6M284.8 404.7h.6M278.9 405.0h.6M288.9 402.2h.6M283.1 401.0h.6M287.9 408.2h.6M282.9 404.7h.6M290.6 404.2h.6M283.9 405.0h.6M284.9 407.8h.6M280.7 408.7h.6M286.0 405.6h.6M271.6 404.9h.6M304.9 405.9h.6M279.8 412.4h.6M285.7 398.7h.6M281.4 401.7h.6M281.3 407.1h.6M287.9 406.1h.6M281.1 409.6h.6M281.7 409.9h.6M274.6 412.1h.6M278.0 402.9h.6M276.1 407.6h.6M298.4 404.8h.6M274.9 408.8h.6M276.9 406.2h.6M286.3 408.5h.6M295.6 403.1h.6M272.2 406.1h.6M273.3 403.9h.6M285.8 404.7h.6M287.4 404.1h.6M274.3 402.1h.6M271.4 409.3h.6M277.7 406.6h.6M290.5 409.2h.6M284.6 402.3h.6M290.5 399.1h.6M284.1 403.4h.6M284.6 405.1h.6M289.5 408.2h.6M284.0 409.1h.6M286.6 409.6h.6M278.0 410.7h.6M280.4 408.0h.6M288.4 406.0h.6M283.1 403.0h.6M279.3 407.9h.6M289.8 403.9h.6M289.0 402.9h.6M284.8 407.5h.6M279.2 406.3h.6M291.6 408.4h.6M303.6 403.2h.6M278.7 409.5h.6M273.3 406.8h.6M279.0 405.0h.6M277.8 403.1h.6M275.4 402.0h.6M276.0 401.0h.6M291.2 410.3h.6M291.3 400.9h.6M295.9 407.7h.6M290.4 404.8h.6M281.2 403.7h.6M293.0 404.0h.6M280.2 405.3h.6M282.2 408.6h.6M276.0 407.5h.6M294.0 405.6h.6M292.4 401.0h.6M281.3 399.6h.6M282.5 411.8h.6M285.1 402.2h.6M286.3 400.3h.6M291.1 409.3h.6M285.3 400.6h.6M287.8 408.1h.6M273.6 408.7h.6M282.5 406.4h.6M271.4 408.8h.6M298.2 400.9h.6M295.3 401.5h.6M290.2 404.9h.6M293.1 405.6h.6M299.8 405.3h.6M291.8 407.1h.6M272.8 403.1h.6M283.2 398.5h.6M267.1 406.9h.6M278.7 404.8h.6M275.5 408.3h.6M284.7 412.5h.6M287.7 405.8h.6M277.8 407.5h.6M282.6 402.6h.6M286.9 408.6h.6M283.6 406.7h.6M283.4 406.4h.6M266.7 408.6h.6M281.4 401.8h.6M290.7 407.5h.6M286.7 407.1h.6M273.6 410.9h.6M282.7 399.5h.6M286.7 405.3h.6M277.4 412.9h.6M289.8 404.2h.6M278.7 404.1h.6M282.3 411.5h.6M283.9 413.9h.6M301.4 406.0h.6M282.3 403.2h.6M280.4 403.6h.6M290.1 404.3h.6M281.2 402.8h.6M286.2 402.9h.6M267.8 406.2h.6M287.0 405.7h.6M284.6 407.2h.6M275.0 405.7h.6M294.9 401.5h.6M282.9 408.0h.6M283.3 406.4h.6M274.9 403.6h.6M272.5 404.7h.6M280.5 406.6h.6M273.3 405.8h.6M288.4 405.1h.6M291.2 408.1h.6M280.0 409.1h.6M272.6 404.5h.6M281.8 405.5h.6M276.8 401.9h.6M286.0 405.0h.6M286.1 407.2h.6M281.5 408.5h.6M285.3 406.1h.6M292.5 405.3h.6M297.5 403.2h.6M280.8 406.3h.6M290.1 401.9h.6M282.9 406.0h.6M276.8 405.6h.6M294.3 402.5h.6M287.6 406.7h.6M285.8 404.9h.6M287.4 407.6h.6M283.5 403.9h.6M276.8 407.2h.6M298.0 410.8h.6M291.4 406.2h.6M286.7 408.2h.6M291.9 403.4h.6M294.3 404.4h.6M283.2 399.3h.6M289.1 405.1h.6M282.3 401.8h.6M289.5 405.9h.6M282.8 398.7h.6M302.9 402.7h.6M282.0 405.8h.6M288.6 406.9h.6M288.2 400.0h.6M282.2 404.2h.6M291.7 414.1h.6M284.1 408.2h.6M281.6 406.1h.6M284.7 396.4h.6M279.1 402.5h.6M293.7 407.3h.6M289.4 406.3h.6M292.1 407.1h.6M274.6 408.7h.6M286.7 405.9h.6M278.9 408.4h.6M285.3 399.6h.6M294.2 413.9h.6M286.6 404.6h.6M283.4 403.4h.6M293.1 410.5h.6M292.3 407.6h.6M298.6 408.8h.6M270.7 403.5h.6M287.1 406.5h.6M281.6 407.9h.6M278.1 401.8h.6M285.6 404.8h.6M276.0 404.7h.6M267.9 404.6h.6M277.9 403.2h.6M282.7 401.3h.6M298.7 407.0h.6M279.3 406.4h.6M275.9 409.4h.6M269.9 405.3h.6M282.1 403.3h.6M282.9 400.7h.6M285.8 405.8h.6M273.8 404.5h.6M279.0 412.2h.6M267.7 413.2h.6M286.0 410.8h.6M272.9 402.5h.6M264.1 400.9h.6M293.4 404.8h.6M288.5 402.6h.6M287.3 410.3h.6M287.3 405.9h.6M276.9 404.2h.6M292.7 405.5h.6M276.8 409.7h.6M299.0 402.4h.6M286.4 407.2h.6M270.9 401.1h.6M291.2 404.8h.6M299.5 403.3h.6M282.8 406.6h.6M292.7 406.0h.6M283.1 409.5h.6M280.0 407.8h.6M265.3 403.5h.6M294.0 401.1h.6M281.4 402.8h.6M287.5 404.1h.6M276.2 404.8h.6M277.9 403.0h.6M293.1 409.1h.6M281.8 408.6h.6M281.7 404.6h.6M275.2 403.9h.6M286.3 404.7h.6M290.6 405.4h.6M281.3 405.4h.6M283.3 400.1h.6M275.6 404.1h.6M295.2 399.3h.6M280.1 405.6h.6M283.5 407.8h.6M297.4 402.0h.6M283.0 406.1h.6M273.1 403.5h.6M277.8 403.2h.6M282.0 412.1h.6M298.1 408.5h.6M286.4 407.1h.6M283.0 404.1h.6M291.0 406.9h.6M294.5 404.9h.6M279.0 407.0h.6M295.5 402.5h.6M291.2 405.3h.6M288.1 404.2h.6M266.9 400.8h.6M286.2 411.1h.6M295.3 408.2h.6M282.7 402.9h.6M302.2 400.6h.6M285.3 403.1h.6M277.1 402.7h.6M289.2 403.5h.6M287.0 400.5h.6M291.1 402.8h.6M283.1 405.7h.6M294.6 406.9h.6M280.6 398.9h.6M285.8 405.5h.6M275.4 402.2h.6M278.8 402.0h.6M286.3 404.4h.6M279.8 403.2h.6M281.4 407.8h.6M283.2 407.8h.6M286.7 404.5h.6M290.6 403.4h.6M290.6 411.5h.6M292.6 411.7h.6M286.4 406.8h.6M280.7 405.0h.6M272.8 408.9h.6M282.2 410.4h.6M278.8 403.8h.6M271.1 411.5h.6M297.3 405.0h.6M270.9 409.2h.6M287.5 403.8h.6M289.0 405.7h.6M283.1 404.0h.6M304.4 405.6h.6M285.0 408.9h.6M279.0 402.5h.6M298.2 404.5h.6M278.8 407.3h.6M273.9 403.9h.6M277.2 412.3h.6M280.0 400.6h.6M285.2 414.0h.6M287.4 403.3h.6M273.3 408.8h.6M287.5 410.9h.6M301.8 407.3h.6M279.4 400.8h.6M283.8 404.4h.6M290.1 405.7h.6M294.0 407.4h.6M279.8 408.8h.6M277.5 409.3h.6M277.2 410.5h.6M293.2 402.3h.6M291.7 408.8h.6M268.4 399.6h.6M268.6 406.0h.6M275.4 401.9h.6M273.4 399.5h.6M287.9 408.6h.6M286.5 405.4h.6M299.7 408.8h.6M290.9 400.2h.6M285.8 401.4h.6M263.2 404.5h.6M258.7 404.3h.6M264.6 407.1h.6M259.1 406.1h.6M261.3 409.2h.6M254.9 402.9h.6M274.2 407.8h.6M261.5 406.3h.6M254.6 405.0h.6M269.4 400.9h.6M267.8 406.9h.6M265.7 406.1h.6M265.8 407.7h.6M260.9 404.9h.6M263.0 404.1h.6M246.4 406.3h.6M251.7 406.6h.6M254.2 407.3h.6M266.3 411.4h.6M273.7 402.9h.6M262.7 411.8h.6M261.9 394.9h.6M273.0 408.2h.6M261.1 402.2h.6M269.2 411.8h.6M267.4 402.0h.6M253.5 408.6h.6M266.5 401.6h.6M265.6 401.1h.6M254.9 407.7h.6M255.8 407.9h.6M253.9 402.6h.6M274.9 413.1h.6M280.8 403.9h.6M269.6 410.3h.6M276.5 401.6h.6M253.3 401.7h.6M275.2 405.3h.6M279.7 401.6h.6M276.9 406.5h.6M256.5 397.7h.6M272.6 405.6h.6M263.1 403.1h.6M272.6 401.7h.6M258.9 405.7h.6M264.1 404.2h.6M259.5 403.5h.6M267.8 407.7h.6M263.2 406.0h.6M272.9 406.3h.6M270.6 409.5h.6M267.3 404.7h.6M263.7 407.8h.6M261.6 403.6h.6M264.1 407.1h.6M270.0 406.8h.6M265.1 403.1h.6M266.3 399.9h.6M263.7 400.7h.6M263.4 401.8h.6M258.7 406.9h.6M249.1 404.5h.6M268.6 404.0h.6M268.5 406.6h.6M256.3 407.5h.6M279.3 409.7h.6M254.7 403.0h.6M272.0 406.9h.6M266.0 407.4h.6M266.5 401.8h.6M273.1 405.4h.6M271.4 401.9h.6M264.2 404.2h.6M255.6 406.4h.6M254.3 399.2h.6M265.5 402.0h.6M276.6 402.3h.6M271.0 405.3h.6M263.8 402.5h.6M266.7 406.3h.6M269.5 402.1h.6M277.7 403.2h.6M258.0 407.0h.6M269.8 406.1h.6M266.3 405.5h.6M258.0 404.9h.6M255.9 408.4h.6M274.2 409.6h.6M266.7 403.7h.6M262.4 402.5h.6M264.8 401.5h.6M271.9 410.9h.6M264.8 402.0h.6M276.8 400.5h.6M262.0 405.9h.6M257.8 408.5h.6M263.1 400.8h.6M256.5 404.6h.6M261.3 400.1h.6M273.8 402.6h.6M277.7 410.5h.6M269.1 405.6h.6M265.6 404.1h.6M256.8 405.2h.6M256.0 405.9h.6M267.0 404.6h.6M265.4 401.0h.6M259.4 401.0h.6M260.5 411.8h.6M276.5 402.4h.6M271.9 409.0h.6M264.5 402.6h.6M265.9 409.4h.6M274.2 407.3h.6M266.9 404.3h.6M265.9 411.8h.6M251.5 401.8h.6M250.6 404.2h.6M248.8 402.1h.6M246.0 402.4h.6M263.9 403.8h.6M266.7 401.8h.6M257.1 403.9h.6M267.6 410.3h.6M267.6 399.1h.6M263.4 400.8h.6M252.3 401.8h.6M275.6 403.4h.6M275.0 408.4h.6M259.4 407.4h.6M279.5 406.6h.6M264.4 405.7h.6M257.8 413.1h.6M260.8 401.2h.6M249.2 401.1h.6M261.2 404.9h.6M251.3 405.7h.6M273.1 404.2h.6M266.6 402.2h.6M252.9 400.6h.6M268.6 404.1h.6M250.3 402.6h.6M265.3 403.4h.6M267.9 401.3h.6M264.6 409.5h.6M255.0 406.5h.6M263.2 411.3h.6M262.6 403.3h.6M264.5 405.2h.6M275.9 404.2h.6M277.6 405.1h.6M276.7 404.1h.6M259.0 404.4h.6M258.1 398.3h.6M264.2 404.1h.6M267.5 407.3h.6M247.6 398.4h.6M259.1 403.8h.6M278.4 406.9h.6M254.1 409.3h.6M258.1 404.7h.6M258.4 406.5h.6M267.9 410.9h.6M263.5 409.4h.6M261.4 403.5h.6M251.9 403.0h.6M268.9 408.4h.6M264.0 405.7h.6M258.7 403.2h.6M264.2 404.2h.6M270.3 406.1h.6M252.2 404.3h.6M251.6 404.1h.6M255.8 404.2h.6M257.0 400.0h.6M239.6 410.9h.6M259.2 409.1h.6M272.9 410.1h.6M261.4 404.5h.6M272.1 405.4h.6M241.0 406.9h.6M263.1 407.8h.6M275.1 398.8h.6M276.6 406.2h.6M260.0 401.6h.6M257.4 404.8h.6M267.1 402.8h.6M254.3 410.7h.6M261.1 406.8h.6M250.6 404.9h.6M264.7 409.7h.6M264.0 404.8h.6M277.0 402.6h.6M266.9 404.4h.6M258.7 403.8h.6M263.3 405.2h.6M253.7 407.8h.6M264.3 404.6h.6M262.3 404.8h.6M267.4 408.4h.6M271.5 406.0h.6M248.0 408.2h.6M266.6 405.5h.6M269.9 400.6h.6M254.4 401.2h.6M279.2 399.4h.6M258.2 408.8h.6M283.7 406.4h.6M270.3 403.4h.6M271.8 401.7h.6M266.2 406.2h.6M272.1 404.6h.6M255.7 406.1h.6M257.5 402.2h.6M248.3 401.3h.6M268.3 410.3h.6M258.3 401.8h.6M270.0 404.9h.6M268.8 409.5h.6M253.3 398.8h.6M269.6 407.4h.6M266.1 405.2h.6M265.6 404.5h.6M267.7 405.9h.6M263.8 401.0h.6M264.1 397.5h.6M272.5 411.4h.6M256.0 404.0h.6M254.4 408.0h.6M257.9 408.7h.6M272.3 406.0h.6M261.4 406.5h.6M279.4 407.4h.6M239.3 410.3h.6M258.3 406.7h.6M260.4 409.2h.6M266.2 404.0h.6M274.7 403.6h.6M262.5 405.3h.6M255.8 406.3h.6M270.7 406.8h.6M276.4 411.6h.6M243.5 407.8h.6M268.6 405.2h.6M266.4 411.7h.6M257.3 406.1h.6M260.2 406.2h.6M266.3 406.7h.6M264.2 403.9h.6M262.0 401.3h.6M254.6 405.5h.6M266.3 404.0h.6M258.7 402.1h.6M264.7 405.4h.6M259.3 404.3h.6M265.6 403.0h.6M270.0 399.0h.6M265.9 404.4h.6M269.3 410.9h.6M252.9 408.0h.6M267.7 408.6h.6M266.3 404.9h.6M259.0 408.6h.6M262.7 402.7h.6M241.6 403.5h.6M264.6 406.8h.6M260.7 400.2h.6M245.8 405.2h.6M268.0 406.0h.6M258.9 410.7h.6M266.2 402.7h.6M262.1 406.4h.6M267.8 402.8h.6M264.7 403.2h.6M261.7 395.9h.6M267.9 401.9h.6M270.6 408.9h.6M245.8 406.8h.6M264.2 405.5h.6M259.2 413.3h.6M255.1 406.8h.6M274.4 400.9h.6M271.7 404.3h.6M255.7 404.8h.6M255.0 410.4h.6M270.5 402.0h.6M258.9 406.4h.6M261.3 408.3h.6M248.2 402.3h.6M262.9 405.3h.6M273.1 398.3h.6M260.3 405.3h.6M263.0 397.6h.6M277.9 403.7h.6M271.0 410.8h.6M275.4 406.4h.6M269.0 405.2h.6M273.6 405.5h.6M250.6 412.3h.6M257.4 406.9h.6M250.7 408.5h.6M281.7 403.6h.6M265.4 403.6h.6M262.9 401.5h.6M257.9 404.4h.6M255.8 402.7h.6M241.5 408.3h.6M281.9 407.2h.6M263.3 404.6h.6M264.4 403.2h.6M252.7 395.3h.6M263.5 403.0h.6M267.0 406.0h.6M263.3 407.2h.6M268.9 394.6h.6M257.2 396.9h.6M266.5 405.5h.6M271.1 401.5h.6M268.4 404.3h.6M267.0 403.4h.6M263.1 407.0h.6M256.0 398.8h.6M268.4 403.1h.6M260.8 408.2h.6M256.4 405.7h.6M270.1 402.2h.6M251.1 406.5h.6M259.5 406.0h.6M270.1 402.0h.6M271.5 407.3h.6M260.9 407.3h.6M264.4 404.6h.6M268.3 408.2h.6M263.4 401.1h.6M257.8 407.6h.6M267.4 404.4h.6M265.2 401.9h.6M264.8 403.0h.6M272.9 408.9h.6M266.4 403.2h.6M260.3 403.9h.6M265.2 402.8h.6M279.5 402.4h.6M258.2 408.3h.6M261.8 412.5h.6M257.5 409.5h.6M266.8 406.7h.6M253.8 407.6h.6M267.5 403.9h.6M270.0 403.4h.6M257.7 401.1h.6M257.1 409.9h.6M252.0 403.9h.6M264.3 402.6h.6M255.0 402.9h.6M258.9 405.7h.6M260.6 403.2h.6M258.4 405.1h.6M270.6 405.6h.6M276.7 409.5h.6M246.9 400.9h.6M257.4 406.0h.6M265.9 402.7h.6M255.5 403.6h.6M259.6 410.5h.6M265.6 407.1h.6M275.1 403.7h.6M273.3 406.7h.6M261.6 405.0h.6M265.0 408.8h.6M261.0 403.4h.6M262.5 406.7h.6M254.5 404.3h.6M249.8 405.1h.6M261.0 404.5h.6M271.8 402.9h.6M270.1 405.4h.6M249.0 408.3h.6M262.4 403.0h.6M258.9 403.7h.6M266.3 406.3h.6M255.2 402.5h.6M271.3 408.0h.6M262.3 407.4h.6M268.6 397.3h.6M271.0 402.8h.6M248.4 401.4h.6M262.2 407.8h.6M276.1 408.2h.6M264.1 401.0h.6M272.3 402.7h.6M267.3 404.8h.6M260.0 403.8h.6M266.2 407.4h.6M272.4 408.3h.6M274.3 407.0h.6M275.5 408.7h.6M255.1 408.2h.6M270.6 404.8h.6M253.0 403.6h.6M245.7 404.7h.6M254.9 400.8h.6M255.3 404.2h.6M256.1 404.1h.6M248.1 403.5h.6M247.8 406.4h.6M251.6 402.6h.6M257.5 411.6h.6M252.2 407.4h.6M251.4 401.3h.6M245.2 396.7h.6M252.7 407.7h.6M253.3 404.8h.6M244.5 404.3h.6M260.5 401.1h.6M244.6 399.8h.6M255.6 398.5h.6M248.9 411.6h.6M251.0 408.8h.6M245.4 402.4h.6M246.7 409.6h.6M254.2 398.5h.6M248.9 406.1h.6M248.1 406.1h.6M255.3 401.5h.6M254.3 402.7h.6M251.1 400.9h.6M251.5 404.1h.6M260.3 407.9h.6M249.1 407.0h.6M252.4 405.3h.6M252.6 407.3h.6M241.8 398.7h.6M238.7 410.0h.6M250.8 403.9h.6M255.2 400.1h.6M251.3 402.9h.6M246.9 402.1h.6M246.2 404.3h.6M254.9 404.9h.6M248.3 397.1h.6M240.6 407.8h.6M254.1 409.2h.6M251.5 400.9h.6M252.3 408.4h.6M256.2 407.8h.6M257.9 407.0h.6M253.4 408.9h.6M249.1 399.9h.6M237.6 406.2h.6M251.8 401.0h.6M249.2 411.1h.6M257.9 401.1h.6M257.6 400.4h.6M252.9 407.4h.6M258.2 405.9h.6M249.6 404.1h.6M249.8 404.4h.6M245.1 405.8h.6M248.2 409.2h.6M251.3 401.9h.6M256.3 402.3h.6M245.7 402.3h.6M254.8 403.8h.6M263.9 404.0h.6M242.1 400.2h.6M248.6 404.9h.6M250.2 400.2h.6M256.0 403.1h.6M261.8 403.3h.6M257.4 403.3h.6M249.9 408.4h.6M245.1 408.9h.6M249.7 407.2h.6M249.9 408.7h.6M251.5 403.2h.6M244.8 408.2h.6M259.1 403.8h.6M245.8 404.7h.6M254.1 404.8h.6M313.8 446.9h.6M254.4 412.2h.6M241.0 416.9h.6M272.6 410.9h.6M267.2 401.7h.6M302.6 416.2h.6M238.8 420.1h.6M266.4 400.0h.6M293.0 417.8h.6M299.4 433.0h.6M313.3 411.9h.6M240.3 400.2h.6M297.4 401.0h.6M284.4 394.9h.6M305.3 415.6h.6M260.4 454.0h.6M293.2 432.1h.6M309.3 447.7h.6M237.9 455.5h.6M253.0 441.6h.6M261.1 408.8h.6M270.9 386.7h.6M304.4 406.5h.6M287.8 397.2h.6M244.9 387.6h.6" stroke="#1a1a1a" stroke-width=".6" fill="none" opacity=".62"/>
<rect x="235.5" y="384.5" width="83" height="80" fill="none" stroke="#666" stroke-width="1"/>
<path d="M271.5 384.5V464.5" stroke="#8a8a8a" stroke-width="1.1" fill="none"/>
<path d="M235.5 430.5H318.5" stroke="#999" stroke-width="0.9" fill="none"/>
<circle cx="271.5" cy="430.5" r="1.3" fill="#222"/>
<text x="236.7" y="389" font-size="3.9" text-anchor="start" font-weight="normal" fill="#222" >0.3%</text>
<text x="317.3" y="389" font-size="3.9" text-anchor="end" font-weight="normal" fill="#222" >91.8%</text>
<text x="236.7" y="463.2" font-size="3.9" text-anchor="start" font-weight="normal" fill="#222" >0.0%</text>
<text x="317.3" y="463.2" font-size="3.9" text-anchor="end" font-weight="normal" fill="#222" >1.0%</text>
<text x="234.2" y="465" font-size="4.1" text-anchor="end" font-weight="normal" fill="#333" >10<tspan dy="-1.5" font-size="2.8">0</tspan></text>
<text x="235.2" y="470" font-size="4.1" text-anchor="middle" font-weight="normal" fill="#333" >10<tspan dy="-1.5" font-size="2.8">0</tspan></text>
<text x="234.2" y="444.95" font-size="4.1" text-anchor="end" font-weight="normal" fill="#333" >10<tspan dy="-1.5" font-size="2.8">1</tspan></text>
<text x="256.1" y="470" font-size="4.1" text-anchor="middle" font-weight="normal" fill="#333" >10<tspan dy="-1.5" font-size="2.8">1</tspan></text>
<text x="234.2" y="424.9" font-size="4.1" text-anchor="end" font-weight="normal" fill="#333" >10<tspan dy="-1.5" font-size="2.8">2</tspan></text>
<text x="277" y="470" font-size="4.1" text-anchor="middle" font-weight="normal" fill="#333" >10<tspan dy="-1.5" font-size="2.8">2</tspan></text>
<text x="234.2" y="404.85" font-size="4.1" text-anchor="end" font-weight="normal" fill="#333" >10<tspan dy="-1.5" font-size="2.8">3</tspan></text>
<text x="297.9" y="470" font-size="4.1" text-anchor="middle" font-weight="normal" fill="#333" >10<tspan dy="-1.5" font-size="2.8">3</tspan></text>
<text x="234.2" y="384.8" font-size="4.1" text-anchor="end" font-weight="normal" fill="#333" >10<tspan dy="-1.5" font-size="2.8">4</tspan></text>
<text x="318.8" y="470" font-size="4.1" text-anchor="middle" font-weight="normal" fill="#333" >10<tspan dy="-1.5" font-size="2.8">4</tspan></text>
<text x="371.5" y="378.2" font-size="8.6" text-anchor="middle" font-weight="normal" fill="#222" stroke="#222" stroke-width="0.25">Plating 4</text>
<path d="M372.7 411.1h.6M378.2 404.2h.6M398.6 406.3h.6M371.7 405.9h.6M381.9 399.8h.6M383.2 415.9h.6M382.0 398.4h.6M381.0 402.0h.6M376.8 405.0h.6M395.9 400.4h.6M366.0 408.0h.6M373.3 404.6h.6M392.1 406.7h.6M385.1 407.3h.6M375.3 406.7h.6M374.3 406.8h.6M379.1 405.8h.6M400.8 408.0h.6M384.7 409.5h.6M373.3 405.4h.6M382.8 404.7h.6M376.3 404.9h.6M392.2 407.6h.6M383.2 405.0h.6M390.5 404.9h.6M382.2 400.6h.6M396.3 413.8h.6M384.1 401.7h.6M383.1 412.8h.6M373.4 409.5h.6M377.8 410.3h.6M383.9 407.4h.6M377.3 408.3h.6M399.7 407.5h.6M380.9 408.7h.6M375.3 409.7h.6M388.4 412.3h.6M377.0 402.6h.6M384.1 408.3h.6M380.3 412.7h.6M375.6 411.8h.6M391.4 402.5h.6M381.7 407.7h.6M389.2 407.5h.6M378.5 407.4h.6M370.3 397.8h.6M371.7 409.8h.6M377.1 400.3h.6M379.6 414.9h.6M381.4 409.0h.6M384.8 406.1h.6M371.7 408.9h.6M382.7 407.1h.6M371.9 404.5h.6M375.9 406.2h.6M400.2 407.9h.6M390.6 403.4h.6M378.3 409.3h.6M394.4 410.8h.6M391.6 410.7h.6M387.7 411.1h.6M392.0 411.6h.6M379.1 409.3h.6M380.1 411.6h.6M374.6 406.8h.6M385.4 408.1h.6M371.6 412.0h.6M377.2 414.0h.6M384.4 405.2h.6M377.2 400.9h.6M383.6 414.9h.6M394.7 411.0h.6M373.6 413.6h.6M391.5 410.1h.6M375.9 407.5h.6M374.0 404.1h.6M382.7 402.9h.6M388.7 412.2h.6M375.6 410.4h.6M375.5 407.8h.6M377.7 402.3h.6M375.6 404.5h.6M382.4 404.2h.6M375.7 405.4h.6M379.1 395.4h.6M383.7 407.5h.6M377.9 412.6h.6M389.7 404.5h.6M375.9 406.7h.6M375.2 407.7h.6M396.3 402.7h.6M392.3 408.3h.6M381.5 403.4h.6M387.2 404.9h.6M383.6 407.6h.6M377.2 406.4h.6M386.1 407.0h.6M383.3 403.0h.6M390.6 409.4h.6M367.2 402.4h.6M387.1 409.9h.6M382.3 404.7h.6M375.8 402.0h.6M377.8 406.2h.6M378.0 402.5h.6M371.1 404.5h.6M376.7 406.0h.6M386.9 409.6h.6M369.6 409.7h.6M378.2 408.5h.6M363.3 405.5h.6M376.7 400.6h.6M383.9 405.7h.6M380.6 405.3h.6M381.3 406.1h.6M372.6 404.5h.6M385.3 404.5h.6M374.2 409.7h.6M387.8 401.4h.6M382.6 406.6h.6M378.1 411.5h.6M392.1 403.6h.6M378.0 402.7h.6M388.7 405.7h.6M381.8 405.2h.6M381.0 407.6h.6M388.5 411.9h.6M384.3 406.1h.6M380.9 408.8h.6M380.1 404.3h.6M382.6 404.7h.6M381.6 407.7h.6M378.6 404.0h.6M373.2 411.3h.6M361.6 405.0h.6M380.2 405.9h.6M379.2 402.5h.6M390.1 404.9h.6M384.4 402.7h.6M389.6 404.7h.6M394.0 399.6h.6M380.2 406.5h.6M374.7 413.4h.6M387.1 399.2h.6M376.5 413.4h.6M379.1 406.1h.6M391.8 410.0h.6M385.2 402.6h.6M389.2 414.5h.6M370.9 402.4h.6M381.3 406.3h.6M389.4 412.7h.6M371.4 401.6h.6M382.5 397.4h.6M384.0 406.3h.6M363.7 403.6h.6M393.0 402.7h.6M375.7 403.0h.6M380.0 400.8h.6M393.6 412.1h.6M367.6 411.4h.6M384.5 401.2h.6M377.7 406.1h.6M381.3 404.8h.6M374.9 410.9h.6M391.3 403.3h.6M372.6 412.9h.6M383.7 406.6h.6M385.1 403.5h.6M380.3 406.2h.6M379.0 404.3h.6M379.0 415.5h.6M388.7 407.1h.6M384.4 404.6h.6M380.4 406.9h.6M372.8 412.4h.6M382.2 402.7h.6M385.0 399.9h.6M380.8 411.7h.6M391.8 409.0h.6M366.7 404.8h.6M399.7 406.2h.6M379.7 410.9h.6M372.5 395.8h.6M367.9 411.6h.6M387.5 405.8h.6M385.3 409.2h.6M379.4 406.3h.6M380.7 418.8h.6M382.3 404.1h.6M377.9 410.9h.6M389.7 396.2h.6M385.7 406.7h.6M380.1 409.7h.6M368.7 400.4h.6M391.3 398.5h.6M377.5 406.9h.6M373.3 410.6h.6M390.7 411.2h.6M384.8 403.8h.6M365.9 407.9h.6M368.6 400.9h.6M378.1 413.5h.6M371.6 404.2h.6M379.9 411.6h.6M400.7 405.4h.6M403.4 405.2h.6M380.7 413.0h.6M387.1 403.0h.6M387.7 411.7h.6M380.2 405.1h.6M370.0 403.0h.6M389.1 403.2h.6M379.7 411.0h.6M384.5 406.2h.6M386.4 405.1h.6M375.0 400.5h.6M393.7 411.2h.6M381.6 410.7h.6M382.8 407.8h.6M377.8 409.6h.6M386.4 393.5h.6M388.7 404.4h.6M376.9 407.2h.6M385.5 406.9h.6M377.8 404.2h.6M371.8 407.5h.6M378.6 403.6h.6M385.6 403.9h.6M385.2 401.5h.6M389.2 407.1h.6M376.0 403.6h.6M378.8 404.5h.6M381.6 412.0h.6M385.7 406.3h.6M380.2 406.4h.6M373.9 400.4h.6M369.4 404.4h.6M389.9 410.4h.6M389.1 408.7h.6M376.1 406.7h.6M392.2 405.8h.6M380.6 406.8h.6M384.5 408.1h.6M390.6 405.2h.6M377.5 396.6h.6M375.3 414.4h.6M368.0 411.0h.6M383.4 405.9h.6M384.5 412.1h.6M387.6 401.3h.6M385.6 411.7h.6M381.9 407.3h.6M389.7 410.1h.6M373.4 405.1h.6M384.0 407.1h.6M385.0 408.8h.6M380.2 410.7h.6M394.1 408.6h.6M384.4 408.3h.6M391.3 404.1h.6M387.9 413.4h.6M379.8 407.3h.6M395.7 405.6h.6M389.5 405.2h.6M381.3 401.7h.6M380.2 403.5h.6M373.3 400.4h.6M380.0 407.3h.6M379.3 406.2h.6M382.7 407.4h.6M377.9 401.5h.6M385.4 404.8h.6M380.5 403.9h.6M369.2 410.5h.6M377.3 400.5h.6M374.4 400.4h.6M371.5 411.6h.6M379.2 407.9h.6M388.0 400.2h.6M372.7 411.9h.6M366.0 412.5h.6M379.9 411.1h.6M403.6 398.2h.6M376.7 407.0h.6M383.2 403.0h.6M378.0 405.4h.6M387.6 400.2h.6M392.0 413.4h.6M379.9 403.7h.6M390.0 407.6h.6M373.0 409.7h.6M382.7 408.9h.6M371.6 408.1h.6M382.6 404.9h.6M376.5 407.4h.6M383.0 405.6h.6M372.7 397.4h.6M382.9 410.5h.6M382.0 404.0h.6M376.9 404.4h.6M375.1 404.8h.6M372.2 400.9h.6M378.2 401.6h.6M384.2 399.3h.6M380.2 408.4h.6M382.3 411.2h.6M390.7 406.8h.6M378.7 401.9h.6M383.4 411.7h.6M387.4 405.2h.6M385.1 400.1h.6M384.1 399.0h.6M381.8 407.2h.6M395.7 412.3h.6M380.6 404.9h.6M378.3 403.9h.6M385.6 405.4h.6M393.5 403.1h.6M391.8 404.3h.6M381.4 407.5h.6M387.5 403.6h.6M384.9 410.2h.6M381.8 402.6h.6M386.1 409.3h.6M385.9 407.9h.6M382.3 404.9h.6M394.2 405.3h.6M378.4 405.2h.6M391.7 413.2h.6M397.0 403.2h.6M397.1 411.2h.6M383.3 410.5h.6M379.8 405.1h.6M369.2 412.9h.6M380.8 397.0h.6M399.6 407.5h.6M369.4 407.0h.6M369.6 406.6h.6M387.5 409.8h.6M385.8 404.9h.6M367.5 405.7h.6M380.8 411.1h.6M383.8 406.0h.6M369.8 402.3h.6M388.4 408.8h.6M371.2 406.1h.6M389.7 404.2h.6M382.7 408.7h.6M375.9 403.4h.6M369.1 402.5h.6M378.6 405.4h.6M380.5 405.7h.6M380.2 406.7h.6M376.7 401.7h.6M379.6 413.4h.6M387.7 409.2h.6M374.3 407.0h.6M379.6 407.4h.6M384.6 396.5h.6M381.0 410.2h.6M387.7 402.4h.6M392.9 408.5h.6M378.5 401.7h.6M382.8 410.4h.6M359.1 404.3h.6M378.6 405.6h.6M386.2 412.6h.6M372.7 410.4h.6M391.2 401.0h.6M367.0 403.7h.6M391.3 407.2h.6M377.3 405.5h.6M373.5 409.7h.6M377.5 403.7h.6M379.2 399.0h.6M373.5 402.8h.6M370.8 405.7h.6M377.2 408.7h.6M388.3 409.4h.6M384.2 411.5h.6M391.2 407.4h.6M376.6 405.7h.6M378.5 409.4h.6M378.6 406.1h.6M382.2 404.6h.6M384.6 404.6h.6M394.4 410.2h.6M386.4 412.4h.6M382.4 411.7h.6M391.3 400.1h.6M375.2 410.8h.6M371.2 402.0h.6M386.1 405.1h.6M382.4 408.8h.6M382.0 401.1h.6M388.1 401.6h.6M378.6 403.5h.6M380.3 413.2h.6M384.0 410.8h.6M386.0 402.9h.6M388.5 407.0h.6M382.0 407.0h.6M383.1 407.7h.6M362.9 403.6h.6M390.3 412.2h.6M369.3 405.0h.6M380.8 409.8h.6M400.2 399.7h.6M378.6 408.0h.6M369.2 407.1h.6M393.2 411.9h.6M376.9 396.1h.6M379.9 408.7h.6M379.8 409.7h.6M386.6 405.4h.6M386.9 411.7h.6M380.2 414.9h.6M389.4 410.0h.6M374.3 409.7h.6M386.2 411.9h.6M376.4 408.2h.6M386.3 411.4h.6M376.1 408.9h.6M377.8 403.7h.6M392.2 402.3h.6M372.6 411.2h.6M372.2 408.9h.6M385.4 403.8h.6M379.0 406.6h.6M377.8 412.3h.6M380.0 399.6h.6M397.0 402.9h.6M373.3 409.3h.6M379.0 409.8h.6M382.3 401.8h.6M374.0 402.5h.6M380.8 407.1h.6M384.7 412.1h.6M374.2 406.5h.6M389.4 397.2h.6M372.5 410.6h.6M380.0 406.4h.6M383.6 404.6h.6M404.9 401.8h.6M367.9 411.3h.6M383.2 407.6h.6M400.0 408.1h.6M376.6 407.9h.6M389.2 408.2h.6M382.6 409.8h.6M370.3 413.3h.6M384.0 402.2h.6M374.3 406.2h.6M381.7 404.7h.6M369.8 413.2h.6M386.5 405.3h.6M362.9 400.0h.6M379.7 406.4h.6M390.7 403.5h.6M384.9 403.5h.6M378.4 404.7h.6M379.3 401.2h.6M377.8 398.7h.6M401.4 414.3h.6M380.6 406.0h.6M380.9 402.7h.6M375.5 409.0h.6M377.5 411.8h.6M385.6 399.5h.6M376.4 404.7h.6M375.0 407.6h.6M376.9 403.1h.6M378.4 408.3h.6M382.3 401.5h.6M377.4 403.8h.6M379.6 406.0h.6M375.4 408.2h.6M390.3 406.6h.6M381.7 403.8h.6M378.6 405.0h.6M383.2 398.0h.6M380.7 415.0h.6M369.2 404.8h.6M379.7 405.3h.6M393.4 407.5h.6M384.8 408.8h.6M389.8 407.9h.6M376.0 403.8h.6M369.9 399.8h.6M375.8 405.8h.6M391.1 403.3h.6M373.5 404.3h.6M375.0 406.5h.6M389.3 407.4h.6M379.1 411.6h.6M379.5 405.9h.6M383.9 399.6h.6M381.7 408.8h.6M378.7 410.2h.6M382.9 399.9h.6M375.6 408.9h.6M380.7 407.2h.6M385.9 404.3h.6M373.0 407.2h.6M379.4 408.0h.6M372.4 408.8h.6M386.6 411.1h.6M385.6 406.4h.6M388.1 406.4h.6M388.7 416.1h.6M388.7 402.2h.6M386.4 405.4h.6M375.2 405.0h.6M388.0 409.5h.6M374.2 410.9h.6M398.5 401.2h.6M383.2 411.4h.6M385.4 401.7h.6M371.7 416.9h.6M389.0 403.8h.6M389.8 410.9h.6M369.2 405.4h.6M376.8 409.3h.6M377.5 403.5h.6M376.1 407.0h.6M391.4 406.6h.6M397.2 406.8h.6M373.0 409.7h.6M388.9 404.7h.6M379.0 405.2h.6M391.3 401.2h.6M362.6 405.9h.6M377.7 404.5h.6M390.1 410.0h.6M375.3 409.2h.6M389.9 403.6h.6M377.2 408.2h.6M389.5 411.7h.6M385.4 405.6h.6M377.8 401.8h.6M375.3 416.3h.6M379.7 408.7h.6M389.7 409.3h.6M380.9 416.5h.6M376.0 403.3h.6M405.9 407.7h.6M369.1 398.9h.6M379.3 408.4h.6M385.0 408.1h.6M373.1 403.3h.6M380.9 403.1h.6M377.8 405.8h.6M369.9 405.6h.6M384.4 412.8h.6M372.4 405.5h.6M375.3 405.8h.6M390.2 405.8h.6M372.6 400.1h.6M385.5 404.5h.6M389.8 401.1h.6M388.4 407.0h.6M384.5 397.7h.6M379.2 402.0h.6M370.4 407.5h.6M382.0 398.1h.6M384.3 400.2h.6M377.1 410.5h.6M373.5 401.1h.6M387.5 406.4h.6M373.0 407.7h.6M384.3 402.2h.6M377.3 399.7h.6M368.3 412.6h.6M393.1 404.2h.6M385.5 408.5h.6M385.0 403.4h.6M370.3 407.9h.6M380.0 401.2h.6M383.0 401.0h.6M375.3 402.3h.6M393.3 403.9h.6M365.7 403.9h.6M386.2 405.1h.6M366.7 408.2h.6M369.1 404.3h.6M371.2 410.2h.6M385.1 403.8h.6M375.5 409.1h.6M375.8 411.7h.6M374.0 413.4h.6M369.7 398.5h.6M374.0 413.4h.6M373.4 399.4h.6M378.3 412.1h.6M377.9 406.4h.6M362.7 407.9h.6M375.8 402.7h.6M389.8 410.2h.6M377.1 409.2h.6M380.1 404.3h.6M375.2 404.0h.6M375.4 409.9h.6M380.0 410.6h.6M370.4 409.5h.6M379.3 404.9h.6M368.0 406.5h.6M383.0 410.2h.6M368.6 409.8h.6M385.3 411.0h.6M388.0 407.0h.6M368.2 403.7h.6M385.5 407.6h.6M377.3 408.3h.6M389.1 404.3h.6M376.4 408.3h.6M378.2 403.1h.6M378.1 407.5h.6M389.8 404.1h.6M365.8 414.9h.6M386.0 411.2h.6M381.0 407.5h.6M376.6 401.2h.6M378.5 401.6h.6M387.3 409.3h.6M386.5 405.9h.6M393.0 407.7h.6M375.4 400.2h.6M366.1 400.5h.6M376.1 406.9h.6M378.8 405.6h.6M376.9 401.1h.6M389.4 403.3h.6M397.3 409.6h.6M383.1 404.7h.6M366.8 408.8h.6M388.0 413.1h.6M375.4 407.8h.6M380.5 407.0h.6M386.5 404.1h.6M383.0 411.3h.6M379.7 400.7h.6M382.4 402.1h.6M385.9 406.4h.6M384.9 400.6h.6M395.7 410.4h.6M357.7 404.0h.6M374.3 408.6h.6M375.8 405.2h.6M386.4 405.5h.6M381.9 406.5h.6M386.6 398.6h.6M369.5 402.1h.6M378.6 404.6h.6M385.0 415.4h.6M379.8 409.7h.6M377.2 409.4h.6M382.2 402.3h.6M392.6 410.0h.6M364.4 411.5h.6M392.1 409.5h.6M382.3 417.0h.6M373.8 401.1h.6M385.1 402.2h.6M380.5 405.4h.6M389.3 402.6h.6M374.1 406.7h.6M387.4 408.6h.6M373.4 406.4h.6M382.6 406.9h.6M385.4 408.1h.6M379.6 409.6h.6M385.0 403.8h.6M375.7 403.8h.6M388.2 411.2h.6M376.4 405.1h.6M374.9 403.1h.6M379.3 407.6h.6M379.8 405.1h.6M373.9 406.9h.6M386.2 406.2h.6M379.3 409.0h.6M384.7 410.1h.6M369.0 403.1h.6M370.3 401.6h.6M378.2 412.8h.6M372.8 403.7h.6M379.2 400.3h.6M384.4 398.9h.6M388.6 406.3h.6M391.2 403.9h.6M386.1 399.1h.6M374.9 402.7h.6M384.3 402.2h.6M376.3 410.4h.6M384.3 407.4h.6M372.3 406.4h.6M390.3 401.4h.6M383.3 405.7h.6M378.1 409.1h.6M370.0 407.1h.6M382.3 410.7h.6M376.3 406.8h.6M382.1 409.2h.6M374.9 408.3h.6M376.1 404.2h.6M384.9 411.8h.6M391.3 407.9h.6M370.7 409.7h.6M378.8 402.2h.6M383.2 402.1h.6M379.1 405.7h.6M376.9 403.2h.6M396.5 408.9h.6M373.9 408.1h.6M382.9 411.3h.6M376.6 408.8h.6M379.5 401.9h.6M363.1 410.2h.6M386.9 403.8h.6M378.7 403.5h.6M373.0 406.7h.6M392.7 406.4h.6M378.2 410.6h.6M375.6 417.7h.6M373.9 408.1h.6M388.2 412.3h.6M380.5 405.6h.6M377.9 407.8h.6M370.3 404.4h.6M373.5 404.7h.6M382.8 411.8h.6M380.1 408.2h.6M365.1 408.2h.6M373.7 403.2h.6M381.9 413.3h.6M400.4 405.7h.6M374.6 403.8h.6M363.6 406.4h.6M386.0 409.1h.6M376.6 409.4h.6M370.3 412.3h.6M384.5 402.2h.6M378.5 404.7h.6M373.0 412.7h.6M370.4 415.5h.6M379.3 403.9h.6M380.9 406.1h.6M366.9 400.3h.6M387.6 403.2h.6M370.7 402.9h.6M390.7 406.0h.6M382.7 401.7h.6M378.8 410.2h.6M382.8 406.2h.6M375.8 405.4h.6M379.8 410.1h.6M392.6 405.4h.6M376.0 401.5h.6M386.4 406.6h.6M373.5 415.1h.6M380.1 406.8h.6M387.5 408.5h.6M371.2 405.7h.6M382.8 405.6h.6M364.1 408.5h.6M371.6 395.9h.6M377.1 401.5h.6M386.9 404.1h.6M385.6 405.4h.6M373.4 412.2h.6M379.3 416.2h.6M381.6 409.0h.6M368.5 408.0h.6M383.4 409.2h.6M390.4 412.5h.6M389.6 402.5h.6M375.8 404.5h.6M377.2 407.1h.6M373.2 407.6h.6M376.5 398.9h.6M378.4 408.2h.6M385.4 400.1h.6M380.9 409.5h.6M373.3 409.8h.6M386.4 397.4h.6M386.9 408.5h.6M375.7 407.2h.6M378.4 404.0h.6M379.5 410.2h.6M367.9 414.4h.6M381.3 408.4h.6M385.3 402.1h.6M394.9 400.7h.6M381.7 401.8h.6M378.1 402.4h.6M379.1 410.9h.6M384.8 407.6h.6M386.2 406.3h.6M373.8 409.9h.6M381.7 406.5h.6M385.2 406.6h.6M365.2 403.1h.6M390.6 404.0h.6M378.7 406.6h.6M386.8 401.8h.6M379.9 413.1h.6M378.4 406.9h.6M379.7 404.3h.6M382.4 410.3h.6M386.8 402.2h.6M378.3 410.7h.6M371.9 406.8h.6M375.0 413.9h.6M373.0 404.2h.6M386.0 404.9h.6M373.1 403.1h.6M391.7 401.5h.6M381.3 407.4h.6M379.6 402.2h.6M390.1 407.7h.6M377.6 403.9h.6M378.1 410.6h.6M386.2 396.3h.6M385.9 408.1h.6M372.8 406.6h.6M398.8 406.4h.6M384.6 403.9h.6M370.9 413.4h.6M379.0 404.8h.6M387.3 408.1h.6M382.0 405.4h.6M386.8 405.0h.6M398.1 406.8h.6M387.3 409.1h.6M395.4 402.0h.6M385.5 404.6h.6M375.4 400.8h.6M391.7 408.0h.6M375.1 403.0h.6M387.6 403.5h.6M385.3 409.0h.6M374.1 406.4h.6M375.2 408.0h.6M379.1 405.9h.6M383.5 408.1h.6M390.5 406.8h.6M381.1 402.0h.6M394.8 407.3h.6M387.1 405.0h.6M375.7 405.5h.6M375.9 407.5h.6M381.2 404.2h.6M376.7 402.2h.6M379.9 411.1h.6M386.4 413.8h.6M382.6 405.0h.6M387.9 411.0h.6M375.5 408.0h.6M374.2 403.9h.6M370.2 403.1h.6M367.3 405.3h.6M377.3 404.7h.6M381.2 405.1h.6M379.2 405.9h.6M380.7 401.9h.6M396.0 409.9h.6M372.5 401.9h.6M378.7 402.2h.6M377.1 410.1h.6M373.9 409.5h.6M390.9 412.2h.6M380.5 407.0h.6M390.1 403.8h.6M372.3 411.0h.6M394.8 406.0h.6M397.8 405.9h.6M374.2 403.0h.6M380.7 408.0h.6M379.8 397.0h.6M385.0 408.5h.6M371.0 398.4h.6M384.3 409.9h.6M386.2 400.2h.6M376.3 409.1h.6M363.8 416.3h.6M375.7 405.3h.6M377.8 401.8h.6M386.5 414.2h.6M376.2 404.7h.6M372.2 402.0h.6M385.5 411.4h.6M383.6 395.1h.6M386.3 400.5h.6M381.2 401.2h.6M388.8 403.6h.6M384.7 398.3h.6M367.4 409.7h.6M382.3 410.5h.6M386.6 406.2h.6M381.1 404.8h.6M391.8 400.2h.6M377.4 408.3h.6M386.1 403.6h.6M371.6 408.9h.6M380.9 410.5h.6M376.7 406.6h.6M373.4 398.0h.6M371.1 402.7h.6M382.5 411.9h.6M384.1 407.5h.6M376.1 412.1h.6M371.6 397.5h.6M374.3 406.0h.6M386.6 405.7h.6M371.8 399.9h.6M389.4 403.8h.6M368.4 410.3h.6M383.0 408.6h.6M385.9 404.3h.6M390.0 407.7h.6M377.7 411.2h.6M375.1 402.1h.6M370.2 407.6h.6M387.7 410.6h.6M379.9 403.7h.6M377.4 411.6h.6M377.7 406.1h.6M382.8 410.9h.6M381.1 410.1h.6M389.7 407.5h.6M364.8 405.3h.6M387.2 403.8h.6M376.9 407.1h.6M380.3 407.3h.6M378.5 412.1h.6M380.3 406.1h.6M386.6 407.8h.6M382.6 413.2h.6M370.1 407.7h.6M380.4 408.3h.6M380.2 412.9h.6M383.7 406.8h.6M381.2 408.0h.6M380.3 409.5h.6M388.6 406.0h.6M372.8 402.0h.6M397.3 400.6h.6M376.7 405.6h.6M373.2 410.9h.6M386.8 410.4h.6M389.0 413.0h.6M390.3 410.1h.6M391.9 403.8h.6M384.5 400.6h.6M381.4 404.4h.6M383.8 405.4h.6M380.9 403.5h.6M376.9 410.1h.6M393.0 403.3h.6M394.6 408.8h.6M381.0 409.6h.6M379.3 399.5h.6M377.3 404.7h.6M368.4 411.5h.6M375.9 409.8h.6M377.1 406.9h.6M380.8 402.0h.6M373.5 403.6h.6M366.7 406.8h.6M385.9 411.5h.6M393.9 408.4h.6M365.0 406.1h.6M380.0 407.4h.6M387.4 409.5h.6M372.3 399.4h.6M370.2 402.5h.6M381.3 406.6h.6M379.3 411.3h.6M376.2 410.8h.6M393.3 403.3h.6M392.3 406.5h.6M385.9 403.5h.6M380.5 404.9h.6M378.6 407.0h.6M387.7 405.0h.6M379.3 404.2h.6M392.2 401.8h.6M390.4 400.1h.6M376.6 405.7h.6M386.8 407.2h.6M392.9 408.9h.6M386.0 403.2h.6M374.1 403.5h.6M379.1 411.5h.6M378.6 408.1h.6M382.1 410.0h.6M381.4 404.2h.6M378.6 403.6h.6M387.7 401.8h.6M391.4 410.4h.6M377.0 401.9h.6M370.2 399.5h.6M384.1 403.4h.6M381.3 411.5h.6M384.5 406.5h.6M376.2 407.4h.6M383.5 406.9h.6M374.5 406.2h.6M389.5 405.8h.6M394.0 400.8h.6M374.4 413.1h.6M361.9 405.8h.6M377.7 411.3h.6M377.5 400.2h.6M382.9 408.6h.6M381.6 401.7h.6M385.2 401.3h.6M401.8 407.5h.6M377.3 410.5h.6M378.7 411.9h.6M384.7 411.7h.6M367.6 405.3h.6M387.4 409.6h.6M376.8 404.0h.6M370.7 404.3h.6M375.2 407.4h.6M385.3 405.9h.6M387.8 409.8h.6M390.9 399.1h.6M384.8 411.0h.6M376.1 404.1h.6M385.7 412.3h.6M381.0 411.0h.6M399.1 401.8h.6M366.2 406.2h.6M393.7 409.1h.6M387.4 403.3h.6M384.7 403.5h.6M380.9 405.2h.6M377.4 409.4h.6M374.4 410.0h.6M370.0 404.7h.6M397.0 409.7h.6M388.7 412.3h.6M386.7 410.1h.6M384.4 403.5h.6M367.3 403.1h.6M379.6 407.6h.6M382.6 409.7h.6M390.4 408.1h.6M374.2 404.9h.6M383.8 402.7h.6M379.9 411.5h.6M382.0 405.8h.6M375.9 413.9h.6M384.5 401.9h.6M382.4 405.1h.6M367.7 403.9h.6M390.9 413.8h.6M398.3 411.4h.6M375.2 404.5h.6M390.4 398.8h.6M374.4 411.0h.6M377.8 407.0h.6M395.0 402.0h.6M383.3 400.5h.6M393.2 408.1h.6M384.0 405.6h.6M389.4 407.0h.6M380.6 408.0h.6M392.6 405.0h.6M395.3 405.4h.6M387.0 409.1h.6M377.6 406.0h.6M379.1 405.4h.6M374.8 409.0h.6M386.4 398.6h.6M385.8 411.4h.6M376.7 408.2h.6M388.8 403.4h.6M377.6 405.8h.6M395.6 411.4h.6M388.1 408.7h.6M393.9 399.4h.6M376.6 402.4h.6M374.5 407.2h.6M368.3 413.6h.6M386.8 409.5h.6M373.6 405.7h.6M392.1 408.8h.6M383.1 406.6h.6M387.7 405.3h.6M372.4 408.0h.6M377.6 398.0h.6M383.4 410.5h.6M387.6 408.6h.6M372.4 404.7h.6M384.6 403.1h.6M375.8 401.7h.6M388.1 407.6h.6M380.3 407.1h.6M379.8 407.2h.6M385.3 413.3h.6M390.7 397.8h.6M380.2 403.6h.6M391.2 403.4h.6M374.6 410.3h.6M384.2 405.5h.6M373.7 402.8h.6M383.6 407.3h.6M375.2 408.1h.6M382.3 412.9h.6M386.7 407.5h.6M374.8 404.8h.6M368.9 404.5h.6M380.7 403.3h.6M385.9 408.4h.6M383.8 409.7h.6M375.2 405.6h.6M388.3 406.0h.6M379.9 412.0h.6M387.7 406.9h.6M375.4 408.5h.6M385.3 402.2h.6M390.8 404.1h.6M377.1 398.0h.6M379.8 401.1h.6M386.6 408.0h.6M385.9 411.4h.6M384.7 405.4h.6M381.1 401.8h.6M370.3 406.9h.6M381.9 411.0h.6M372.3 405.9h.6M382.6 410.1h.6M364.5 406.3h.6M392.7 401.6h.6M396.1 402.9h.6M385.3 405.5h.6M375.6 415.6h.6M379.7 408.8h.6M388.6 405.6h.6M386.8 407.7h.6M376.7 407.3h.6M390.9 404.7h.6M387.3 406.1h.6M385.9 405.5h.6M379.3 409.4h.6M381.9 412.7h.6M376.6 411.8h.6M383.3 405.2h.6M377.0 408.7h.6M390.6 403.6h.6M382.2 402.2h.6M383.5 406.8h.6M384.4 408.9h.6M384.3 406.3h.6M371.3 409.8h.6M391.4 409.8h.6M382.6 409.5h.6M377.8 405.9h.6M374.7 401.1h.6M376.8 413.7h.6M377.3 404.6h.6M382.0 409.4h.6M375.5 408.4h.6M382.7 405.1h.6M383.0 413.8h.6M376.7 409.2h.6M398.3 406.5h.6M381.0 404.9h.6M384.4 402.7h.6M382.7 401.5h.6M380.7 408.8h.6M386.9 404.8h.6M392.1 404.7h.6M381.3 408.5h.6M375.4 405.1h.6M385.9 409.1h.6M365.8 404.0h.6M383.0 404.5h.6M380.4 410.1h.6M384.2 403.8h.6M370.6 408.9h.6M378.5 408.5h.6M374.1 406.5h.6M377.7 400.0h.6M386.1 401.3h.6M380.3 402.2h.6M377.3 401.4h.6M390.5 409.9h.6M381.8 403.1h.6M366.6 401.6h.6M373.9 404.5h.6M384.7 406.1h.6M384.9 399.9h.6M383.2 408.9h.6M383.5 409.4h.6M374.9 404.1h.6M380.8 409.7h.6M372.7 400.4h.6M375.3 404.3h.6M374.7 405.9h.6M375.3 406.8h.6M378.9 411.0h.6M379.8 405.2h.6M375.5 402.5h.6M389.4 407.3h.6M378.0 407.1h.6M392.7 408.3h.6M388.8 405.2h.6M372.4 407.2h.6M387.9 404.2h.6M371.0 408.7h.6M392.0 403.9h.6M383.7 404.1h.6M373.9 411.1h.6M365.0 403.5h.6M378.3 406.5h.6M371.2 408.7h.6M389.3 405.2h.6M372.0 410.1h.6M379.4 404.2h.6M384.8 410.5h.6M381.2 400.4h.6M383.0 401.2h.6M379.2 406.8h.6M386.4 412.1h.6M374.2 412.8h.6M385.3 403.1h.6M372.1 406.4h.6M382.4 404.6h.6M372.6 398.1h.6M379.5 409.3h.6M385.4 405.0h.6M390.1 411.9h.6M367.7 407.6h.6M375.3 404.4h.6M373.8 403.8h.6M389.9 405.8h.6M374.6 408.3h.6M386.2 404.6h.6M377.2 417.5h.6M370.3 407.3h.6M381.8 402.0h.6M372.5 406.8h.6M386.4 411.0h.6M387.1 408.2h.6M390.8 405.2h.6M373.4 403.9h.6M392.6 403.4h.6M388.1 401.8h.6M367.7 404.5h.6M397.3 407.5h.6M393.4 404.3h.6M373.2 412.9h.6M383.4 408.0h.6M371.0 404.7h.6M379.9 406.4h.6M382.3 412.3h.6M385.5 399.8h.6M374.8 407.4h.6M380.7 417.0h.6M374.0 410.4h.6M383.7 402.9h.6M385.8 407.0h.6M381.4 405.6h.6M389.4 417.4h.6M386.5 403.8h.6M383.7 405.4h.6M389.5 405.2h.6M371.7 400.9h.6M380.6 393.5h.6M367.8 405.6h.6M380.8 408.5h.6M377.4 404.8h.6M387.0 408.4h.6M377.6 409.5h.6M376.2 409.2h.6M380.2 399.8h.6M379.9 412.4h.6M384.7 409.9h.6M374.4 409.7h.6M369.8 406.5h.6M369.1 406.5h.6M389.4 404.4h.6M371.6 408.1h.6M377.5 410.1h.6M372.7 404.2h.6M387.4 409.7h.6M376.7 404.7h.6M390.0 408.8h.6M375.7 405.9h.6M383.1 409.9h.6M386.5 414.1h.6M388.1 407.4h.6M372.1 404.6h.6M378.2 404.8h.6M380.3 408.9h.6M367.4 404.5h.6M386.2 410.3h.6M383.8 407.7h.6M384.7 410.1h.6M370.6 404.3h.6M382.3 402.7h.6M384.2 403.6h.6M388.6 408.1h.6M377.1 403.4h.6M386.0 409.2h.6M395.5 398.4h.6M377.7 403.9h.6M377.9 405.9h.6M378.5 399.3h.6M369.9 404.1h.6M378.3 400.6h.6M393.0 406.2h.6M374.1 405.6h.6M379.5 409.4h.6M389.8 403.2h.6M385.2 400.1h.6M382.7 404.4h.6M378.5 407.0h.6M380.1 406.9h.6M381.1 407.2h.6M386.1 411.3h.6M381.6 405.1h.6M388.0 405.7h.6M367.1 403.2h.6M387.1 404.2h.6M377.1 410.6h.6M381.1 407.9h.6M377.8 396.2h.6M385.7 411.3h.6M380.1 398.7h.6M385.6 404.9h.6M375.0 410.3h.6M382.4 407.0h.6M390.1 408.7h.6M389.3 409.9h.6M378.4 407.7h.6M382.1 401.6h.6M378.3 408.0h.6M380.1 403.8h.6M381.1 397.0h.6M390.0 405.4h.6M385.3 408.7h.6M391.8 407.0h.6M392.4 406.6h.6M371.6 413.4h.6M383.3 407.6h.6M377.7 410.1h.6M369.1 407.8h.6M373.0 413.0h.6M377.3 405.1h.6M393.4 411.2h.6M381.7 413.7h.6M379.6 405.1h.6M380.8 410.7h.6M375.5 401.2h.6M382.3 407.8h.6M380.4 409.4h.6M369.0 403.3h.6M377.1 399.5h.6M405.8 406.7h.6M385.7 405.3h.6M380.3 407.3h.6M386.0 407.7h.6M373.9 409.8h.6M381.7 412.7h.6M387.5 408.3h.6M369.2 400.5h.6M375.6 409.2h.6M378.1 408.1h.6M379.0 407.1h.6M377.3 412.8h.6M383.0 407.6h.6M388.6 405.2h.6M383.6 408.4h.6M388.6 400.3h.6M388.7 410.4h.6M376.7 406.8h.6M383.1 413.3h.6M378.3 409.3h.6M385.9 408.1h.6M378.5 407.3h.6M379.7 401.9h.6M393.5 406.3h.6M379.8 407.8h.6M369.6 410.5h.6M381.9 408.3h.6M383.2 409.4h.6M377.3 409.3h.6M381.6 404.5h.6M388.6 407.8h.6M377.3 405.8h.6M379.7 401.7h.6M375.9 400.7h.6M383.5 409.9h.6M380.2 412.3h.6M374.3 412.2h.6M379.9 403.3h.6M394.5 412.5h.6M368.6 412.8h.6M370.9 403.6h.6M383.6 408.6h.6M370.9 413.4h.6M395.4 407.0h.6M370.2 411.3h.6M371.5 404.2h.6M377.3 405.3h.6M389.0 410.1h.6M387.0 406.0h.6M385.3 407.2h.6M383.3 407.0h.6M390.6 402.6h.6M367.8 412.5h.6M383.1 406.1h.6M391.6 405.4h.6M373.3 404.9h.6M383.4 406.9h.6M390.1 403.0h.6M390.3 410.1h.6M380.1 405.3h.6M394.7 409.8h.6M384.8 403.2h.6M388.9 402.6h.6M373.3 403.0h.6M375.6 407.6h.6M375.5 401.4h.6M394.0 410.0h.6M364.0 405.3h.6M367.7 410.2h.6M386.9 405.1h.6M382.2 409.8h.6M359.5 402.6h.6M378.2 402.3h.6M378.9 409.0h.6M390.0 404.5h.6M367.1 410.8h.6M377.2 403.9h.6M388.9 408.6h.6M386.7 403.4h.6M374.4 399.8h.6M379.0 412.3h.6M370.3 405.8h.6M391.1 410.4h.6M378.0 407.3h.6M390.4 399.9h.6M387.0 408.2h.6M374.7 410.9h.6M380.1 411.7h.6M385.9 413.1h.6M384.4 408.2h.6M392.3 406.2h.6M389.3 406.9h.6M383.5 402.0h.6M386.2 409.5h.6M376.0 409.5h.6M376.8 408.0h.6M385.6 403.6h.6M383.6 409.1h.6M373.1 404.4h.6M380.6 411.5h.6M375.4 404.2h.6M377.1 404.5h.6M390.6 405.3h.6M374.3 402.5h.6M376.4 403.1h.6M385.3 405.5h.6M381.7 396.9h.6M382.4 414.5h.6M370.7 408.1h.6M381.0 407.7h.6M378.5 403.1h.6M375.3 407.3h.6M377.1 406.5h.6M379.1 407.0h.6M387.3 400.7h.6M394.9 406.1h.6M382.0 399.1h.6M392.0 405.8h.6M382.1 403.1h.6M370.5 404.2h.6M381.7 405.3h.6M390.6 409.9h.6M391.4 411.4h.6M374.8 406.7h.6M397.5 402.3h.6M375.9 412.4h.6M375.9 401.0h.6M377.5 404.4h.6M391.8 405.7h.6M384.2 403.6h.6M387.9 411.8h.6M365.1 408.1h.6M380.9 410.8h.6M380.5 405.4h.6M386.3 410.0h.6M377.9 405.9h.6M390.0 406.0h.6M376.3 407.7h.6M371.2 408.1h.6M369.4 408.8h.6M390.5 405.7h.6M386.8 400.6h.6M375.6 405.3h.6M389.3 395.9h.6M380.1 405.4h.6M380.4 403.3h.6M370.7 409.8h.6M377.3 395.8h.6M382.1 414.5h.6M382.8 405.2h.6M377.2 400.2h.6M388.5 408.2h.6M391.8 408.4h.6M375.5 408.2h.6M384.2 415.1h.6M370.3 403.2h.6M384.3 407.7h.6M374.3 407.1h.6M380.2 403.8h.6M382.6 407.7h.6M379.6 411.5h.6M388.9 403.1h.6M375.7 408.3h.6M378.0 410.5h.6M383.7 409.1h.6M381.1 400.2h.6M383.2 407.6h.6M379.8 405.0h.6M375.5 411.4h.6M386.2 406.0h.6M381.9 414.3h.6M387.9 401.6h.6M391.0 408.5h.6M378.8 403.0h.6M376.0 413.5h.6M378.1 412.7h.6M376.7 402.8h.6M367.0 409.5h.6M393.3 406.3h.6M384.4 400.1h.6M398.3 402.4h.6M377.3 406.9h.6M385.7 408.6h.6M383.4 405.0h.6M380.9 407.7h.6M388.5 407.7h.6M381.4 407.6h.6M380.9 401.8h.6M382.6 407.1h.6M365.3 408.6h.6M376.2 400.6h.6M376.1 412.6h.6M393.3 412.3h.6M385.7 407.2h.6M387.1 414.8h.6M386.0 403.3h.6M380.0 402.8h.6M393.4 404.0h.6M379.9 403.7h.6M371.2 413.8h.6M386.0 406.7h.6M390.0 406.3h.6M382.2 408.0h.6M384.1 412.8h.6M388.4 407.2h.6M392.5 405.0h.6M385.7 407.6h.6M393.6 411.5h.6M383.5 405.7h.6M396.6 412.1h.6M371.5 407.7h.6M388.3 405.8h.6M383.5 408.5h.6M382.3 414.3h.6M372.2 405.5h.6M389.2 412.0h.6M380.0 408.8h.6M374.3 407.1h.6M376.9 406.7h.6M379.8 409.8h.6M382.2 409.0h.6M374.9 408.0h.6M374.8 409.1h.6M384.5 403.1h.6M380.9 403.9h.6M395.7 402.6h.6M378.4 405.2h.6M386.8 405.7h.6M394.0 405.1h.6M380.0 408.6h.6M388.6 402.8h.6M383.6 405.6h.6M381.8 409.9h.6M393.0 413.2h.6M374.3 406.7h.6M377.1 411.3h.6M368.7 411.9h.6M380.6 402.5h.6M388.6 407.5h.6M379.6 402.4h.6M387.4 405.0h.6M376.0 408.1h.6M389.7 401.5h.6M380.6 408.6h.6M378.0 406.0h.6M393.3 405.6h.6M381.4 408.6h.6M385.6 403.3h.6M382.3 399.8h.6M386.5 406.6h.6M382.3 403.7h.6M372.8 405.7h.6M383.5 402.2h.6M384.9 402.8h.6M384.2 402.5h.6M379.8 401.5h.6M394.5 403.3h.6M376.2 403.4h.6M382.3 406.6h.6M383.0 419.0h.6M373.6 404.1h.6M372.9 400.2h.6M386.2 408.8h.6M386.3 401.6h.6M382.5 403.0h.6M369.9 405.1h.6M379.4 406.6h.6M383.2 406.8h.6M385.9 407.4h.6M390.0 406.0h.6M384.7 410.8h.6M388.4 409.8h.6M393.4 404.3h.6M364.6 405.6h.6M388.6 401.1h.6M378.3 409.1h.6M384.9 405.6h.6M382.9 413.9h.6M374.1 403.8h.6M374.9 412.4h.6M384.6 402.9h.6M380.1 399.9h.6M386.7 403.1h.6M378.7 407.8h.6M396.9 410.4h.6M379.6 403.0h.6M396.3 410.2h.6M376.0 404.4h.6M385.5 404.4h.6M389.5 405.3h.6M372.0 412.9h.6M374.5 407.2h.6M384.3 407.6h.6M389.7 400.5h.6M391.2 407.1h.6M385.4 407.5h.6M388.9 412.8h.6M373.0 403.0h.6M378.4 403.7h.6M391.8 402.8h.6M377.4 403.9h.6M379.7 409.1h.6M368.9 403.3h.6M380.0 411.4h.6M370.0 406.6h.6M384.0 402.9h.6M392.0 403.9h.6M383.6 401.0h.6M382.6 400.7h.6M378.5 410.9h.6M385.3 409.9h.6M373.4 402.6h.6M378.1 404.6h.6M396.9 412.7h.6M372.0 403.6h.6M377.3 407.3h.6M371.3 408.4h.6M390.2 405.6h.6M379.7 405.7h.6M372.2 405.1h.6M372.3 406.9h.6M389.3 400.3h.6M386.2 406.6h.6M387.1 407.1h.6M380.9 401.2h.6M387.8 408.1h.6M390.8 402.7h.6M386.1 396.1h.6M369.8 398.8h.6M367.2 406.7h.6M370.8 408.6h.6M383.2 404.7h.6M370.5 400.7h.6M373.5 405.7h.6M381.5 410.0h.6M374.9 406.2h.6M372.0 400.6h.6M388.1 408.2h.6M384.8 405.6h.6M386.9 405.7h.6M387.8 406.6h.6M391.6 408.5h.6M380.9 405.9h.6M379.8 402.6h.6M368.5 405.9h.6M379.4 406.9h.6M376.8 411.0h.6M388.7 401.5h.6M386.0 405.8h.6M391.7 402.9h.6M389.0 407.4h.6M389.6 404.2h.6M384.9 394.3h.6M382.1 410.1h.6M378.3 403.7h.6M380.9 402.1h.6M374.2 400.4h.6M383.9 402.1h.6M380.5 401.3h.6M366.4 405.8h.6M361.6 406.9h.6M375.8 406.0h.6M377.7 407.7h.6M378.9 403.1h.6M390.3 408.7h.6M376.5 405.9h.6M371.9 408.1h.6M383.8 408.7h.6M388.2 404.9h.6M392.8 411.2h.6M373.7 409.5h.6M379.2 404.7h.6M377.9 413.2h.6M391.8 412.9h.6M386.0 400.3h.6M381.1 397.5h.6M386.2 403.9h.6M378.4 408.2h.6M379.5 410.0h.6M380.7 408.9h.6M377.4 406.3h.6M379.1 410.1h.6M383.5 409.1h.6M382.7 404.6h.6M391.6 407.1h.6M387.1 410.5h.6M380.4 403.9h.6M365.2 403.9h.6M370.3 403.1h.6M377.3 412.1h.6M378.2 409.0h.6M371.5 409.7h.6M378.2 404.9h.6M381.7 406.3h.6M376.3 411.1h.6M379.9 405.3h.6M380.2 411.0h.6M375.8 406.3h.6M374.7 406.3h.6M379.9 408.5h.6M382.8 409.7h.6M373.4 413.2h.6M366.2 405.0h.6M374.0 413.0h.6M384.5 403.4h.6M369.3 403.0h.6M387.4 397.7h.6M376.6 409.7h.6M381.7 412.2h.6M375.3 401.7h.6M385.0 405.1h.6M381.1 405.4h.6M383.4 400.3h.6M366.9 406.7h.6M385.9 407.6h.6M368.8 404.5h.6M378.4 402.4h.6M384.5 406.9h.6M379.4 408.7h.6M384.3 400.9h.6M382.0 406.0h.6M381.4 408.6h.6M375.0 395.5h.6M387.9 407.7h.6M388.8 413.1h.6M376.9 401.4h.6M374.4 411.5h.6M382.2 405.3h.6M375.4 408.8h.6M381.7 405.8h.6M386.6 402.0h.6M385.5 399.7h.6M391.3 415.7h.6M384.0 401.2h.6M373.3 405.4h.6M374.7 412.0h.6M384.5 407.6h.6M394.3 407.1h.6M378.2 398.6h.6M374.2 404.0h.6M390.7 401.2h.6M379.9 399.4h.6M385.7 407.9h.6M388.4 409.7h.6M373.7 403.4h.6M378.2 403.9h.6M376.8 408.1h.6M384.5 409.9h.6M385.4 402.3h.6M377.2 411.0h.6M384.7 410.1h.6M368.1 406.5h.6M383.2 402.1h.6M383.2 408.7h.6M380.7 409.1h.6M370.4 413.3h.6M380.0 404.1h.6M373.1 412.6h.6M391.0 405.1h.6M378.7 408.5h.6M379.3 406.0h.6M379.9 406.8h.6M384.5 412.2h.6M381.3 403.8h.6M384.5 409.7h.6M374.2 405.4h.6M388.5 406.3h.6M377.2 403.6h.6M386.1 407.2h.6M382.4 398.6h.6M388.3 405.4h.6M380.2 410.4h.6M370.3 409.7h.6M372.6 400.1h.6M379.1 402.1h.6M390.5 404.8h.6M377.8 413.8h.6M381.1 404.8h.6M389.6 406.4h.6M376.7 405.5h.6M382.9 407.6h.6M382.7 402.9h.6M376.5 407.5h.6M382.3 408.3h.6M388.1 410.6h.6M388.1 403.0h.6M378.4 410.0h.6M401.2 414.0h.6M383.2 409.6h.6M378.8 409.2h.6M375.6 396.9h.6M373.8 411.7h.6M386.5 414.0h.6M360.4 411.3h.6M379.6 408.5h.6M371.0 409.7h.6M379.5 418.3h.6M380.5 403.7h.6M371.5 404.9h.6M373.8 410.8h.6M389.6 407.5h.6M376.8 398.0h.6M380.7 407.4h.6M378.5 407.8h.6M386.6 402.8h.6M389.3 408.0h.6M387.2 407.4h.6M384.6 399.4h.6M384.7 408.5h.6M372.4 415.0h.6M389.9 413.4h.6M376.8 402.0h.6M374.5 401.3h.6M378.1 406.7h.6M375.1 407.6h.6M383.6 401.2h.6M385.8 403.5h.6M389.7 411.9h.6M380.0 407.4h.6M376.5 410.6h.6M378.7 406.4h.6M372.5 410.5h.6M375.5 404.4h.6M394.8 404.4h.6M375.3 402.7h.6M377.5 398.9h.6M385.1 404.9h.6M382.5 401.1h.6M386.1 404.6h.6M374.6 407.0h.6M373.2 407.2h.6M390.0 408.0h.6M375.9 404.9h.6M380.0 406.2h.6M382.2 411.0h.6M367.7 405.9h.6M379.4 406.6h.6M376.1 396.7h.6M384.4 402.1h.6M378.5 410.8h.6M364.9 403.0h.6M386.3 402.2h.6M362.7 410.3h.6M377.8 401.6h.6M375.8 410.4h.6M376.4 406.0h.6M380.6 404.0h.6M387.4 398.3h.6M374.6 411.7h.6M376.4 399.2h.6M385.9 401.5h.6M384.3 409.6h.6M385.8 401.5h.6M383.1 408.4h.6M379.0 406.3h.6M377.3 405.3h.6M377.4 402.2h.6M387.1 403.8h.6M391.2 407.5h.6M394.7 402.5h.6M373.4 408.9h.6M379.0 407.4h.6M380.7 408.6h.6M379.6 407.3h.6M372.8 408.7h.6M396.1 407.9h.6M391.4 409.7h.6M379.6 407.9h.6M377.5 407.7h.6M380.7 402.8h.6M372.2 399.5h.6M378.3 406.6h.6M386.2 410.2h.6M392.4 402.7h.6M387.0 400.1h.6M389.9 404.2h.6M373.3 407.8h.6M357.8 409.8h.6M390.5 405.1h.6M382.0 401.7h.6M380.1 406.2h.6M392.5 409.1h.6M373.9 406.2h.6M374.0 410.4h.6M375.5 404.4h.6M392.2 409.9h.6M387.4 412.9h.6M368.1 402.4h.6M392.5 403.0h.6M380.8 409.0h.6M383.8 418.8h.6M375.3 408.4h.6M394.1 406.3h.6M383.8 411.6h.6M390.1 406.0h.6M373.6 400.0h.6M385.7 402.6h.6M381.4 411.8h.6M379.1 399.7h.6M375.0 400.7h.6M375.8 409.7h.6M372.4 407.0h.6M376.0 411.2h.6M380.5 402.2h.6M384.9 403.5h.6M369.6 405.0h.6M373.4 401.5h.6M376.4 405.5h.6M369.1 405.7h.6M378.7 409.9h.6M378.8 406.1h.6M379.4 404.8h.6M383.7 408.4h.6M387.4 410.8h.6M386.4 410.6h.6M382.7 407.5h.6M384.9 404.9h.6M375.1 404.5h.6M374.0 401.2h.6M385.3 406.7h.6M384.7 406.3h.6M396.4 413.0h.6M379.1 407.3h.6M373.7 409.4h.6M382.8 411.6h.6M377.5 399.0h.6M374.4 403.8h.6M390.4 405.5h.6M394.5 406.9h.6M383.4 401.9h.6M376.1 409.8h.6M382.5 410.0h.6M380.3 408.4h.6M370.8 409.1h.6M386.7 402.0h.6M383.2 410.9h.6M367.8 416.2h.6M361.5 420.7h.6M371.5 423.0h.6M373.0 418.1h.6M367.5 411.9h.6M362.6 419.4h.6M365.2 423.4h.6M370.1 412.3h.6M358.2 411.9h.6M376.0 414.5h.6M375.9 413.3h.6M370.0 406.1h.6M376.2 404.7h.6M370.1 409.3h.6M365.2 412.3h.6M374.0 417.0h.6M373.7 412.8h.6M366.3 415.9h.6M363.9 421.2h.6M366.0 428.4h.6M376.7 419.0h.6M369.4 410.8h.6M384.9 419.5h.6M367.6 415.1h.6M373.9 416.6h.6M372.5 419.4h.6M369.8 418.5h.6M375.1 409.3h.6M366.6 410.1h.6M370.6 416.3h.6M365.0 418.2h.6M360.0 424.4h.6M371.2 417.8h.6M365.2 413.5h.6M364.4 412.9h.6M373.8 412.0h.6M370.1 409.4h.6M372.8 409.3h.6M379.5 412.6h.6M371.8 415.5h.6M373.2 411.7h.6M364.9 415.1h.6M375.1 413.8h.6M375.1 414.1h.6M365.7 413.2h.6M374.2 416.4h.6M372.5 415.2h.6M369.8 403.4h.6M371.3 416.2h.6M383.0 415.5h.6M367.7 412.4h.6M369.2 415.8h.6M371.4 412.0h.6M370.0 415.6h.6M361.8 411.2h.6M374.1 418.1h.6M375.5 416.6h.6M379.5 408.7h.6M368.1 412.0h.6M364.6 418.2h.6M374.2 416.9h.6M365.8 415.7h.6M370.9 410.1h.6M368.9 412.1h.6M371.9 415.8h.6M368.7 416.4h.6M374.4 415.0h.6M366.3 411.4h.6M382.8 414.1h.6M374.8 412.9h.6M367.8 409.9h.6M366.1 410.2h.6M370.0 411.5h.6M368.6 408.4h.6M366.8 417.1h.6M377.9 418.4h.6M375.8 419.0h.6M365.5 411.6h.6M373.7 411.7h.6M371.0 416.1h.6M374.8 413.0h.6M367.6 413.7h.6M381.6 413.7h.6M371.3 407.9h.6M380.9 420.6h.6M368.6 408.7h.6M377.7 408.1h.6M370.4 418.6h.6M379.3 410.2h.6M370.0 419.7h.6M365.6 416.5h.6M365.6 416.6h.6M367.8 413.3h.6M374.0 408.8h.6M372.8 409.8h.6M371.5 415.5h.6M376.3 414.5h.6M379.1 409.7h.6M365.9 410.0h.6M376.0 411.2h.6M382.5 414.7h.6M367.9 416.9h.6M368.1 419.0h.6M373.0 413.4h.6M372.1 421.3h.6M368.3 418.2h.6M370.6 421.5h.6M379.0 411.2h.6M375.5 417.5h.6M366.9 419.8h.6M362.4 407.2h.6M365.4 419.0h.6M371.9 416.8h.6M367.0 419.0h.6M366.8 415.8h.6M374.6 420.0h.6M369.5 413.2h.6M369.1 412.7h.6M372.0 418.2h.6M378.2 418.2h.6M372.5 409.1h.6M374.4 420.3h.6M371.4 420.1h.6M378.7 419.5h.6M364.8 411.8h.6M365.4 420.5h.6M368.4 417.3h.6M381.1 419.1h.6M378.7 414.8h.6M365.5 413.1h.6M368.7 411.9h.6M373.7 412.3h.6M371.3 418.9h.6M375.4 411.6h.6M368.5 412.3h.6M362.7 416.4h.6M374.1 413.9h.6M377.2 406.1h.6M363.3 412.1h.6M361.6 413.4h.6M368.7 422.0h.6M361.7 417.9h.6M373.1 410.6h.6M365.2 410.2h.6M374.7 413.0h.6M369.3 416.0h.6M371.7 411.6h.6M374.3 416.9h.6M370.0 408.9h.6M365.9 416.4h.6M375.6 420.2h.6M363.6 403.4h.6M378.0 414.9h.6M368.0 416.1h.6M368.4 417.0h.6M373.0 415.4h.6M373.1 414.7h.6M373.5 416.2h.6M363.7 415.5h.6M366.6 415.4h.6M372.7 421.9h.6M372.9 419.5h.6M370.5 419.0h.6M377.5 412.2h.6M370.1 412.9h.6M375.7 419.6h.6M376.4 410.4h.6M372.7 419.4h.6M370.0 409.1h.6M374.7 424.3h.6M373.2 420.4h.6M374.1 412.6h.6M366.7 413.0h.6M373.3 406.1h.6M379.0 414.8h.6M369.6 420.2h.6M371.7 417.7h.6M369.8 413.9h.6M375.4 423.9h.6M360.7 417.4h.6M379.0 416.8h.6M373.6 413.7h.6M369.9 417.5h.6M372.4 426.4h.6M376.7 417.0h.6M372.9 407.7h.6M374.4 416.0h.6M377.0 423.3h.6M371.9 420.2h.6M374.7 412.8h.6M378.4 416.5h.6M373.9 408.6h.6M368.0 417.8h.6M374.9 411.2h.6M381.2 412.7h.6M369.5 412.5h.6M373.3 411.9h.6M373.2 422.4h.6M375.5 421.4h.6M369.0 413.8h.6M371.0 415.4h.6M380.8 422.3h.6M374.5 413.8h.6M368.0 413.1h.6M375.0 411.3h.6M371.4 421.8h.6M378.7 415.7h.6M363.1 415.0h.6M371.6 413.2h.6M376.0 411.0h.6M364.8 419.1h.6M367.4 411.6h.6M373.4 412.7h.6M371.3 407.7h.6M369.6 410.2h.6M372.6 412.7h.6M364.2 412.9h.6M366.9 408.4h.6M379.7 412.3h.6M367.9 414.4h.6M373.3 403.6h.6M370.8 417.5h.6M375.4 413.8h.6M372.7 409.1h.6M373.1 413.8h.6M376.9 416.9h.6M372.7 414.9h.6M362.7 415.1h.6M367.8 415.0h.6M378.2 417.8h.6M376.4 409.0h.6M369.9 412.4h.6M363.2 416.6h.6M367.6 415.1h.6M381.4 410.3h.6M377.0 413.7h.6M377.1 411.9h.6M363.1 415.0h.6M364.4 407.7h.6M368.2 407.9h.6M364.4 408.7h.6M371.6 414.3h.6M365.7 425.7h.6M373.4 419.2h.6M370.0 420.3h.6M368.3 415.0h.6M374.3 421.9h.6M373.3 416.5h.6M371.7 415.2h.6M369.3 419.6h.6M370.8 409.6h.6M361.6 405.4h.6M361.4 409.7h.6M367.7 421.0h.6M371.8 418.8h.6M379.8 415.7h.6M373.0 413.9h.6M366.2 414.2h.6M368.7 416.6h.6M364.8 411.2h.6M370.9 418.3h.6M370.6 410.7h.6M370.9 420.8h.6M372.4 413.4h.6M376.2 410.9h.6M374.4 413.7h.6M365.4 410.9h.6M375.2 414.3h.6M366.1 407.0h.6M373.0 412.8h.6M371.5 415.2h.6M379.4 416.6h.6M370.6 413.2h.6M370.6 420.2h.6M369.7 407.5h.6M375.3 413.9h.6M372.6 412.8h.6M369.8 414.9h.6M375.2 413.7h.6M381.5 420.9h.6M379.1 414.9h.6M378.5 410.8h.6M368.5 425.8h.6M370.6 415.1h.6M371.9 414.2h.6M362.7 418.8h.6M379.6 412.3h.6M364.0 413.9h.6M373.1 418.7h.6M365.0 409.7h.6M371.7 412.9h.6M375.2 419.0h.6M373.7 422.7h.6M366.9 414.5h.6M367.9 414.4h.6M375.7 419.6h.6M370.8 408.4h.6M371.7 411.8h.6M375.7 411.4h.6M358.7 405.9h.6M335.2 405.1h.6M354.6 402.8h.6M364.9 408.2h.6M363.0 410.5h.6M367.6 400.8h.6M336.5 404.0h.6M356.6 404.4h.6M368.2 400.4h.6M351.0 400.7h.6M347.6 404.4h.6M360.5 402.3h.6M357.9 407.0h.6M362.8 409.0h.6M357.7 406.5h.6M367.5 406.9h.6M363.2 402.2h.6M359.8 403.5h.6M354.9 407.3h.6M363.3 408.0h.6M352.6 405.5h.6M365.3 407.9h.6M366.8 404.8h.6M365.2 401.3h.6M347.9 407.0h.6M361.3 404.2h.6M360.7 399.2h.6M364.6 409.0h.6M345.7 407.3h.6M353.1 408.6h.6M357.2 404.0h.6M368.7 411.5h.6M353.2 407.6h.6M364.8 409.6h.6M359.0 403.3h.6M372.9 404.6h.6M360.4 410.7h.6M345.3 405.7h.6M355.7 405.9h.6M359.8 411.5h.6M367.8 410.3h.6M363.0 406.7h.6M355.7 413.2h.6M348.0 400.1h.6M358.1 405.5h.6M356.9 403.7h.6M368.3 411.5h.6M365.1 411.9h.6M346.9 404.0h.6M339.7 406.4h.6M354.6 409.4h.6M360.0 407.8h.6M350.3 406.8h.6M353.8 409.7h.6M367.2 413.3h.6M363.6 406.3h.6M344.4 401.6h.6M360.6 405.4h.6M359.1 405.7h.6M356.3 404.4h.6M362.3 408.5h.6M362.5 408.7h.6M377.4 409.3h.6M359.7 407.7h.6M352.2 406.9h.6M354.0 401.9h.6M363.5 404.5h.6M373.0 402.6h.6M362.7 407.1h.6M362.1 405.4h.6M360.0 405.7h.6M354.4 407.9h.6M358.5 404.7h.6M348.4 409.9h.6M363.8 409.9h.6M361.6 402.2h.6M359.3 410.9h.6M351.2 404.6h.6M355.9 403.1h.6M353.4 404.7h.6M360.3 401.0h.6M355.7 407.2h.6M360.8 410.5h.6M365.2 400.1h.6M367.9 407.5h.6M349.9 408.1h.6M355.3 408.4h.6M349.4 408.3h.6M367.7 407.5h.6M351.3 404.1h.6M368.5 409.3h.6M354.0 407.1h.6M366.0 408.9h.6M353.7 407.0h.6M356.2 404.9h.6M358.9 405.7h.6M358.7 408.2h.6M356.8 409.8h.6M363.2 398.6h.6M367.3 401.0h.6M364.7 399.6h.6M354.2 403.8h.6M343.5 403.3h.6M358.8 406.6h.6M335.7 404.7h.6M363.2 410.9h.6M362.8 403.5h.6M348.4 403.1h.6M362.5 402.7h.6M352.8 404.7h.6M367.9 406.5h.6M352.0 404.0h.6M351.4 402.3h.6M352.8 400.6h.6M359.8 406.5h.6M349.8 403.7h.6M375.6 402.1h.6M355.1 404.8h.6M371.7 407.1h.6M355.7 413.6h.6M355.5 412.0h.6M352.4 402.4h.6M352.0 404.1h.6M361.4 398.4h.6M367.4 398.4h.6M358.8 398.8h.6M351.0 409.3h.6M359.6 405.2h.6M351.8 400.2h.6M337.0 403.2h.6M359.0 403.9h.6M344.3 403.3h.6M353.0 411.4h.6M358.4 398.5h.6M354.8 404.1h.6M355.9 406.7h.6M370.1 407.6h.6M365.5 397.5h.6M369.9 406.5h.6M359.7 401.0h.6M359.8 403.6h.6M371.8 399.7h.6M353.1 408.7h.6M360.6 417.7h.6M359.0 409.7h.6M360.3 404.7h.6M362.7 399.1h.6M358.9 409.1h.6M364.3 410.4h.6M351.4 401.6h.6M361.9 409.4h.6M349.8 399.0h.6M366.4 400.9h.6M365.6 406.4h.6M356.3 400.5h.6M354.0 408.7h.6M357.7 411.3h.6M362.3 406.1h.6M346.1 407.7h.6M350.1 411.9h.6M365.3 407.8h.6M356.2 410.8h.6M347.9 411.3h.6M340.6 401.9h.6M354.4 414.2h.6M344.2 410.4h.6M358.9 406.5h.6M357.2 409.0h.6M372.2 407.1h.6M348.1 406.8h.6M362.8 402.1h.6M348.5 404.4h.6M349.8 404.7h.6M356.2 410.1h.6M351.2 407.8h.6M372.0 407.5h.6M357.4 405.5h.6M351.9 410.8h.6M375.8 396.6h.6M351.6 402.5h.6M354.9 409.6h.6M360.4 431.2h.6M368.2 449.6h.6M400.2 427.7h.6M403.3 425.0h.6M361.9 430.0h.6M401.4 427.7h.6M397.6 413.1h.6M386.7 429.2h.6M385.8 420.2h.6M344.1 387.4h.6M340.6 391.6h.6M367.5 414.9h.6M383.9 459.0h.6M366.8 411.0h.6M382.9 426.1h.6M337.9 446.4h.6M361.7 427.8h.6M385.4 457.2h.6M359.1 421.8h.6M403.1 458.4h.6M391.8 449.2h.6M336.4 430.2h.6M357.9 431.7h.6M384.1 416.9h.6M402.1 448.3h.6" stroke="#1a1a1a" stroke-width=".6" fill="none" opacity=".62"/>
<rect x="331.5" y="384.5" width="84" height="80" fill="none" stroke="#666" stroke-width="1"/>
<path d="M367.5 384.5V464.5" stroke="#8a8a8a" stroke-width="1.1" fill="none"/>
<path d="M331.5 430.5H415.5" stroke="#999" stroke-width="0.9" fill="none"/>
<circle cx="367.5" cy="430.5" r="1.3" fill="#222"/>
<text x="333.2" y="389" font-size="3.9" text-anchor="start" font-weight="normal" fill="#222" >3.1%</text>
<text x="413.8" y="389" font-size="3.9" text-anchor="end" font-weight="normal" fill="#222" >83.0%</text>
<text x="333.2" y="463.2" font-size="3.9" text-anchor="start" font-weight="normal" fill="#222" >0.0%</text>
<text x="413.8" y="463.2" font-size="3.9" text-anchor="end" font-weight="normal" fill="#222" >1.0%</text>
<text x="330.7" y="465" font-size="4.1" text-anchor="end" font-weight="normal" fill="#333" >10<tspan dy="-1.5" font-size="2.8">0</tspan></text>
<text x="331.7" y="470" font-size="4.1" text-anchor="middle" font-weight="normal" fill="#333" >10<tspan dy="-1.5" font-size="2.8">0</tspan></text>
<text x="330.7" y="444.95" font-size="4.1" text-anchor="end" font-weight="normal" fill="#333" >10<tspan dy="-1.5" font-size="2.8">1</tspan></text>
<text x="352.6" y="470" font-size="4.1" text-anchor="middle" font-weight="normal" fill="#333" >10<tspan dy="-1.5" font-size="2.8">1</tspan></text>
<text x="330.7" y="424.9" font-size="4.1" text-anchor="end" font-weight="normal" fill="#333" >10<tspan dy="-1.5" font-size="2.8">2</tspan></text>
<text x="373.5" y="470" font-size="4.1" text-anchor="middle" font-weight="normal" fill="#333" >10<tspan dy="-1.5" font-size="2.8">2</tspan></text>
<text x="330.7" y="404.85" font-size="4.1" text-anchor="end" font-weight="normal" fill="#333" >10<tspan dy="-1.5" font-size="2.8">3</tspan></text>
<text x="394.4" y="470" font-size="4.1" text-anchor="middle" font-weight="normal" fill="#333" >10<tspan dy="-1.5" font-size="2.8">3</tspan></text>
<text x="330.7" y="384.8" font-size="4.1" text-anchor="end" font-weight="normal" fill="#333" >10<tspan dy="-1.5" font-size="2.8">4</tspan></text>
<text x="415.3" y="470" font-size="4.1" text-anchor="middle" font-weight="normal" fill="#333" >10<tspan dy="-1.5" font-size="2.8">4</tspan></text>
<text x="468.5" y="378.2" font-size="8.6" text-anchor="middle" font-weight="normal" fill="#222" stroke="#222" stroke-width="0.25">Plating 5</text>
<path d="M468.7 401.7h.6M472.3 400.9h.6M483.4 406.3h.6M457.7 405.0h.6M480.0 401.0h.6M475.6 404.9h.6M484.7 404.3h.6M463.5 406.0h.6M482.9 402.8h.6M465.6 402.2h.6M475.6 408.9h.6M469.7 403.8h.6M452.1 408.2h.6M472.5 401.6h.6M476.4 403.9h.6M480.4 403.5h.6M467.7 401.3h.6M463.1 407.1h.6M479.1 400.0h.6M470.0 405.5h.6M482.0 397.3h.6M485.2 407.0h.6M471.1 404.8h.6M471.6 408.5h.6M466.9 411.5h.6M455.7 402.3h.6M473.0 404.7h.6M479.3 400.2h.6M482.1 403.0h.6M472.9 404.8h.6M488.9 404.7h.6M468.6 407.3h.6M472.9 406.3h.6M468.4 408.0h.6M469.3 402.3h.6M470.7 405.1h.6M467.2 401.0h.6M469.5 404.0h.6M475.5 395.3h.6M474.0 404.2h.6M464.2 404.8h.6M477.4 403.0h.6M466.1 403.2h.6M477.0 398.8h.6M473.7 402.4h.6M456.7 402.5h.6M464.3 405.3h.6M481.2 406.1h.6M467.6 403.1h.6M467.5 404.1h.6M469.4 405.8h.6M474.1 401.5h.6M478.1 408.0h.6M470.6 411.5h.6M487.6 405.9h.6M468.3 402.9h.6M469.2 405.3h.6M471.6 408.5h.6M474.6 408.9h.6M485.7 400.0h.6M493.2 405.7h.6M470.2 402.1h.6M471.7 403.1h.6M478.6 405.5h.6M472.1 406.4h.6M480.5 403.6h.6M464.0 401.7h.6M480.5 403.9h.6M454.4 401.1h.6M477.7 410.5h.6M478.9 399.3h.6M494.5 406.6h.6M465.3 404.9h.6M479.1 404.6h.6M478.7 401.0h.6M465.0 402.9h.6M475.3 403.4h.6M465.9 402.7h.6M463.1 403.7h.6M460.1 404.9h.6M471.2 403.0h.6M464.1 406.0h.6M455.2 407.0h.6M475.6 402.7h.6M458.3 407.0h.6M479.1 404.7h.6M475.2 402.6h.6M466.0 406.1h.6M459.4 408.3h.6M465.2 403.4h.6M461.4 398.3h.6M469.8 407.1h.6M469.9 407.9h.6M494.4 400.7h.6M454.9 404.1h.6M467.9 406.1h.6M477.9 396.5h.6M481.9 407.1h.6M484.7 406.9h.6M464.5 407.2h.6M480.0 409.5h.6M448.0 400.9h.6M471.1 407.7h.6M480.4 412.2h.6M479.2 396.8h.6M460.8 403.2h.6M465.8 406.8h.6M454.2 402.0h.6M466.5 398.2h.6M461.0 405.5h.6M475.4 405.0h.6M466.4 402.0h.6M478.2 405.3h.6M472.0 407.5h.6M470.1 407.8h.6M488.4 405.9h.6M483.2 400.2h.6M461.4 403.4h.6M485.0 396.7h.6M479.6 400.8h.6M484.6 405.0h.6M476.9 406.3h.6M457.3 404.3h.6M469.7 404.4h.6M451.7 397.7h.6M460.7 400.0h.6M466.9 400.5h.6M484.1 402.4h.6M473.3 402.4h.6M474.9 411.8h.6M479.4 407.8h.6M465.0 400.9h.6M482.6 402.1h.6M474.9 402.5h.6M464.5 402.4h.6M467.9 402.6h.6M470.8 397.4h.6M478.3 408.3h.6M485.4 406.7h.6M470.2 406.5h.6M471.0 404.7h.6M488.7 405.9h.6M501.0 403.1h.6M488.8 397.6h.6M474.6 404.8h.6M469.8 404.4h.6M478.9 399.9h.6M475.6 396.7h.6M466.0 408.2h.6M484.9 400.9h.6M495.2 403.6h.6M465.5 402.0h.6M466.0 410.1h.6M468.5 399.2h.6M461.8 407.9h.6M480.1 395.7h.6M460.3 407.5h.6M478.8 402.6h.6M476.4 396.6h.6M479.5 404.5h.6M459.9 404.1h.6M474.2 398.8h.6M475.4 405.5h.6M480.7 404.2h.6M476.3 405.9h.6M467.8 399.5h.6M483.0 401.7h.6M485.2 401.0h.6M484.9 404.7h.6M466.4 402.5h.6M477.6 400.9h.6M464.9 409.0h.6M471.4 402.5h.6M479.6 408.0h.6M460.3 407.2h.6M497.5 401.8h.6M483.8 398.0h.6M466.2 405.0h.6M467.9 406.6h.6M472.3 408.3h.6M471.7 405.6h.6M462.3 405.8h.6M471.8 402.2h.6M459.3 401.8h.6M467.5 415.3h.6M488.8 408.2h.6M472.4 399.8h.6M469.5 405.4h.6M486.9 405.9h.6M475.8 398.2h.6M478.5 403.3h.6M467.9 406.3h.6M482.7 410.0h.6M470.0 409.9h.6M480.7 403.1h.6M478.7 403.2h.6M488.3 402.7h.6M481.8 405.1h.6M472.8 407.3h.6M463.6 400.8h.6M470.3 403.7h.6M466.8 402.3h.6M486.6 401.7h.6M469.0 402.6h.6M452.6 410.6h.6M476.4 410.3h.6M480.2 409.4h.6M464.8 398.7h.6M479.3 405.4h.6M461.2 412.6h.6M475.1 405.8h.6M471.5 401.9h.6M475.7 406.4h.6M476.7 403.5h.6M467.0 403.0h.6M480.1 405.2h.6M468.5 406.0h.6M474.0 403.8h.6M485.6 404.3h.6M464.7 400.8h.6M473.6 404.2h.6M487.2 406.8h.6M484.2 404.7h.6M466.9 403.8h.6M467.4 399.4h.6M477.8 408.2h.6M467.1 400.4h.6M473.6 406.7h.6M460.8 403.1h.6M478.6 407.1h.6M458.6 407.9h.6M474.1 403.3h.6M479.2 393.9h.6M467.0 397.3h.6M458.9 401.0h.6M461.6 401.2h.6M455.8 405.4h.6M488.9 411.2h.6M455.7 406.7h.6M461.4 403.9h.6M475.9 409.0h.6M473.4 403.7h.6M482.1 407.3h.6M484.7 405.7h.6M477.0 397.7h.6M472.4 407.7h.6M467.9 410.4h.6M471.3 403.2h.6M481.4 407.0h.6M478.4 406.2h.6M478.6 403.5h.6M457.9 403.1h.6M466.1 407.8h.6M466.8 402.2h.6M468.1 402.5h.6M463.4 407.3h.6M479.1 407.6h.6M482.5 409.8h.6M489.3 402.4h.6M468.2 399.8h.6M472.0 408.1h.6M473.8 399.1h.6M472.9 403.0h.6M465.4 403.7h.6M480.1 410.3h.6M454.8 404.5h.6M468.6 400.3h.6M455.8 404.3h.6M478.6 409.0h.6M460.4 398.2h.6M462.6 399.9h.6M472.8 407.9h.6M463.6 404.8h.6M475.2 400.9h.6M469.5 403.7h.6M490.6 404.7h.6M462.0 400.5h.6M465.6 402.5h.6M478.1 409.4h.6M474.0 405.5h.6M477.0 408.3h.6M470.3 404.3h.6M481.5 402.5h.6M476.1 405.5h.6M484.9 401.3h.6M460.8 405.7h.6M475.3 403.4h.6M471.0 403.4h.6M476.6 403.5h.6M464.5 401.2h.6M480.3 409.1h.6M461.0 399.3h.6M481.0 405.2h.6M477.9 400.1h.6M456.8 407.5h.6M476.6 403.7h.6M455.5 405.1h.6M478.1 406.0h.6M458.5 405.6h.6M472.3 405.1h.6M470.6 405.7h.6M458.3 405.6h.6M456.3 402.8h.6M477.5 403.4h.6M468.6 403.6h.6M482.8 402.0h.6M472.6 402.6h.6M497.8 408.9h.6M474.6 399.5h.6M488.9 410.2h.6M476.2 402.6h.6M473.8 406.5h.6M477.9 404.4h.6M466.2 403.8h.6M467.2 406.3h.6M488.0 410.2h.6M471.3 404.0h.6M462.7 404.3h.6M477.7 402.6h.6M465.5 411.3h.6M473.8 408.4h.6M483.4 408.3h.6M484.8 404.5h.6M489.6 398.0h.6M483.7 406.1h.6M479.1 398.4h.6M478.1 402.3h.6M475.9 407.7h.6M472.9 402.4h.6M493.7 402.1h.6M472.6 397.2h.6M488.4 406.9h.6M472.2 405.8h.6M484.2 402.8h.6M447.6 405.7h.6M474.7 398.9h.6M467.7 401.2h.6M487.5 405.1h.6M486.9 407.4h.6M467.7 404.3h.6M472.7 400.2h.6M481.8 402.8h.6M476.2 408.2h.6M474.3 402.4h.6M482.3 405.3h.6M461.7 405.9h.6M488.1 402.5h.6M477.6 404.5h.6M447.5 398.3h.6M465.3 402.4h.6M472.9 404.5h.6M494.1 406.6h.6M473.6 408.8h.6M460.1 402.8h.6M486.0 406.0h.6M477.3 404.0h.6M473.7 401.7h.6M483.3 401.8h.6M470.3 404.2h.6M472.8 404.4h.6M482.9 401.9h.6M477.9 413.7h.6M482.7 404.3h.6M470.6 406.7h.6M489.1 403.5h.6M461.1 413.9h.6M461.6 396.8h.6M478.5 403.2h.6M471.2 405.0h.6M475.8 408.4h.6M474.4 404.2h.6M472.6 401.0h.6M464.5 409.7h.6M476.8 406.6h.6M485.9 403.5h.6M466.5 403.5h.6M491.1 403.5h.6M488.2 404.9h.6M466.5 398.6h.6M481.4 404.8h.6M464.2 402.3h.6M473.0 406.0h.6M464.3 405.5h.6M469.3 400.8h.6M457.4 409.0h.6M472.7 406.9h.6M464.7 401.3h.6M466.1 400.8h.6M456.4 402.1h.6M474.5 405.5h.6M491.3 408.7h.6M470.8 401.3h.6M472.8 401.7h.6M463.9 406.1h.6M469.9 404.2h.6M466.4 404.2h.6M460.1 404.0h.6M466.1 403.3h.6M469.4 410.3h.6M476.9 407.7h.6M471.0 403.2h.6M476.6 408.6h.6M485.7 410.8h.6M482.4 406.0h.6M470.3 405.4h.6M458.1 402.7h.6M472.3 404.8h.6M474.7 405.1h.6M483.0 408.8h.6M475.2 401.2h.6M499.1 398.9h.6M471.0 402.7h.6M479.9 405.6h.6M465.7 397.6h.6M464.9 403.7h.6M471.2 401.6h.6M475.7 400.6h.6M480.1 404.8h.6M445.5 408.3h.6M484.0 399.8h.6M487.4 405.1h.6M486.1 403.8h.6M481.5 406.5h.6M472.7 404.4h.6M478.9 402.2h.6M485.5 407.3h.6M465.1 405.8h.6M479.9 400.9h.6M478.4 397.6h.6M472.6 401.9h.6M490.0 405.0h.6M467.5 406.9h.6M465.0 402.4h.6M473.4 403.0h.6M468.1 398.2h.6M485.8 402.8h.6M458.8 404.7h.6M461.9 402.3h.6M476.5 404.0h.6M480.5 401.0h.6M463.0 401.3h.6M485.4 405.2h.6M456.4 399.1h.6M483.0 404.4h.6M465.7 408.3h.6M469.4 402.4h.6M489.9 402.6h.6M473.1 401.5h.6M467.8 399.9h.6M475.8 402.3h.6M490.6 400.0h.6M474.2 403.5h.6M466.7 402.4h.6M475.5 400.4h.6M462.4 404.4h.6M467.4 407.6h.6M468.5 406.9h.6M479.4 403.3h.6M469.2 404.1h.6M477.9 400.7h.6M483.9 403.4h.6M487.7 406.4h.6M458.3 406.8h.6M473.0 408.7h.6M463.2 399.1h.6M479.3 409.5h.6M475.8 405.5h.6M473.4 409.4h.6M468.7 404.2h.6M464.8 408.3h.6M458.3 404.1h.6M482.2 400.6h.6M471.7 405.3h.6M473.8 402.5h.6M476.4 404.0h.6M480.6 405.9h.6M490.4 406.8h.6M471.9 406.4h.6M479.3 407.4h.6M458.8 398.9h.6M469.9 408.1h.6M467.1 401.4h.6M467.8 404.5h.6M483.9 402.8h.6M474.4 400.3h.6M474.1 407.1h.6M474.2 400.7h.6M471.5 402.3h.6M471.5 409.1h.6M467.7 396.6h.6M468.7 398.5h.6M469.6 407.4h.6M471.8 402.8h.6M456.7 406.8h.6M474.1 404.1h.6M473.1 402.5h.6M477.2 406.5h.6M463.5 401.8h.6M465.1 402.3h.6M480.6 405.0h.6M467.0 400.5h.6M477.7 399.3h.6M467.4 398.6h.6M462.7 407.3h.6M460.4 410.7h.6M468.0 408.2h.6M469.2 402.0h.6M462.5 402.4h.6M486.1 400.8h.6M473.6 404.2h.6M465.5 407.7h.6M486.8 403.9h.6M480.8 404.1h.6M466.7 393.3h.6M464.3 405.2h.6M471.8 400.1h.6M479.9 403.3h.6M460.9 405.4h.6M483.7 404.6h.6M470.0 406.7h.6M480.9 409.4h.6M472.2 396.5h.6M477.8 399.0h.6M479.2 409.8h.6M485.0 405.9h.6M467.1 401.8h.6M490.4 403.3h.6M462.1 404.3h.6M476.3 407.8h.6M479.5 403.2h.6M473.7 404.2h.6M481.4 399.7h.6M459.1 409.2h.6M473.1 405.8h.6M482.4 402.7h.6M473.6 399.7h.6M463.7 404.2h.6M474.9 407.3h.6M475.2 412.1h.6M464.7 410.8h.6M485.3 403.0h.6M468.8 402.9h.6M464.4 401.0h.6M474.5 405.9h.6M467.8 401.7h.6M471.9 406.3h.6M475.6 405.4h.6M469.9 405.7h.6M478.8 401.0h.6M476.2 408.2h.6M484.4 403.7h.6M464.7 400.2h.6M474.2 404.2h.6M475.9 404.9h.6M476.1 404.6h.6M454.9 407.6h.6M464.1 408.4h.6M476.5 412.1h.6M478.7 404.0h.6M473.9 408.5h.6M475.2 395.6h.6M484.5 410.8h.6M470.5 404.3h.6M466.8 408.7h.6M486.9 403.6h.6M479.0 406.2h.6M472.2 406.5h.6M467.3 402.3h.6M487.9 402.4h.6M471.2 394.5h.6M466.4 406.3h.6M484.9 403.9h.6M460.6 403.6h.6M472.3 408.6h.6M479.2 405.6h.6M471.1 405.2h.6M469.1 397.9h.6M477.5 404.9h.6M462.9 403.4h.6M471.7 407.7h.6M480.0 402.7h.6M463.9 400.2h.6M485.9 403.6h.6M471.8 410.7h.6M473.0 401.4h.6M469.4 408.8h.6M478.7 403.8h.6M469.4 397.5h.6M475.6 406.5h.6M484.8 412.4h.6M484.7 406.0h.6M460.2 400.8h.6M485.6 403.7h.6M469.3 401.4h.6M476.3 414.2h.6M474.5 406.3h.6M476.1 396.3h.6M468.3 407.2h.6M478.8 405.9h.6M482.6 400.9h.6M468.5 402.3h.6M473.5 404.2h.6M480.8 410.3h.6M483.1 402.6h.6M476.6 401.8h.6M476.0 407.7h.6M477.9 402.2h.6M470.6 400.8h.6M476.6 403.9h.6M471.2 407.2h.6M470.6 404.9h.6M452.8 403.1h.6M457.7 409.3h.6M476.9 409.2h.6M480.2 398.9h.6M477.5 400.5h.6M474.5 401.3h.6M470.9 403.7h.6M478.6 405.0h.6M470.0 404.1h.6M473.5 404.7h.6M486.8 405.9h.6M461.3 400.0h.6M468.2 396.9h.6M471.4 405.4h.6M456.5 408.7h.6M463.0 405.1h.6M482.9 403.0h.6M478.1 406.3h.6M472.3 403.3h.6M485.1 400.0h.6M464.8 403.1h.6M490.4 407.0h.6M472.9 405.5h.6M468.1 406.8h.6M483.1 402.7h.6M478.1 406.3h.6M475.2 409.3h.6M472.4 403.3h.6M457.4 402.8h.6M455.0 408.6h.6M473.4 404.8h.6M481.9 400.5h.6M466.4 403.0h.6M474.2 408.9h.6M459.5 405.7h.6M460.1 410.8h.6M472.9 406.6h.6M479.6 405.3h.6M479.9 408.1h.6M484.0 402.4h.6M466.3 408.1h.6M471.9 404.2h.6M480.3 403.6h.6M464.3 405.8h.6M470.6 402.9h.6M473.3 400.6h.6M473.2 401.4h.6M481.1 406.2h.6M477.1 405.5h.6M469.4 404.8h.6M452.7 406.9h.6M480.3 401.5h.6M482.1 403.1h.6M477.8 410.0h.6M476.5 401.3h.6M477.2 408.8h.6M484.0 403.6h.6M468.8 406.3h.6M472.7 405.3h.6M464.5 403.6h.6M471.3 404.9h.6M466.0 407.8h.6M466.0 402.1h.6M455.7 401.3h.6M472.4 407.4h.6M482.2 403.2h.6M446.6 403.9h.6M484.5 403.9h.6M472.9 403.1h.6M467.2 398.4h.6M475.9 404.2h.6M471.0 402.9h.6M472.5 399.9h.6M485.7 402.6h.6M474.6 405.3h.6M476.4 410.4h.6M470.8 402.7h.6M471.6 409.0h.6M465.1 403.0h.6M472.0 406.1h.6M466.2 403.6h.6M483.2 407.0h.6M471.1 405.0h.6M479.6 403.2h.6M484.5 399.3h.6M482.1 407.9h.6M467.0 399.4h.6M487.9 402.5h.6M456.3 410.5h.6M485.7 405.3h.6M450.7 404.8h.6M465.1 404.9h.6M472.4 405.3h.6M466.8 403.4h.6M454.3 405.7h.6M459.8 404.0h.6M475.3 403.4h.6M457.9 406.1h.6M478.7 406.7h.6M483.2 405.7h.6M485.0 407.7h.6M475.3 410.8h.6M472.6 410.3h.6M469.5 404.9h.6M497.4 400.8h.6M483.7 408.4h.6M478.6 404.9h.6M476.0 407.2h.6M482.7 403.4h.6M456.1 407.4h.6M480.7 400.8h.6M467.9 405.1h.6M452.5 400.0h.6M482.8 411.4h.6M466.3 403.7h.6M476.9 397.5h.6M466.5 408.9h.6M469.5 407.9h.6M487.3 409.2h.6M476.0 400.8h.6M476.5 405.9h.6M459.1 409.0h.6M481.0 404.0h.6M467.3 405.9h.6M477.2 403.9h.6M464.0 403.6h.6M476.3 409.3h.6M477.9 402.0h.6M460.1 404.8h.6M475.9 406.6h.6M465.1 404.8h.6M484.1 407.5h.6M476.3 398.0h.6M473.5 408.5h.6M500.1 400.7h.6M480.5 403.9h.6M469.7 403.5h.6M480.8 406.2h.6M475.6 404.0h.6M485.1 403.2h.6M464.2 407.0h.6M490.5 411.6h.6M468.6 402.6h.6M469.7 402.4h.6M466.6 402.7h.6M470.4 400.5h.6M490.1 400.6h.6M474.7 403.0h.6M463.6 407.0h.6M471.8 402.9h.6M475.3 401.9h.6M481.6 404.3h.6M470.3 402.0h.6M474.8 413.7h.6M499.2 409.8h.6M471.9 404.7h.6M474.1 399.0h.6M462.5 402.7h.6M481.6 401.6h.6M469.0 401.7h.6M489.5 397.3h.6M483.9 402.8h.6M480.3 402.6h.6M468.7 402.3h.6M470.1 400.3h.6M469.7 405.8h.6M473.9 401.7h.6M470.0 397.0h.6M468.3 401.1h.6M474.0 407.2h.6M472.9 408.6h.6M469.8 400.8h.6M481.2 404.0h.6M482.4 406.4h.6M468.2 407.6h.6M492.2 403.0h.6M476.5 405.5h.6M484.0 403.1h.6M489.8 398.5h.6M460.5 407.6h.6M477.6 404.3h.6M481.3 405.9h.6M483.8 403.8h.6M480.2 401.6h.6M482.1 402.9h.6M459.8 405.6h.6M464.7 400.3h.6M478.3 409.7h.6M455.0 412.1h.6M468.3 396.9h.6M471.5 407.6h.6M476.5 403.1h.6M481.2 406.6h.6M475.3 405.1h.6M465.8 403.9h.6M464.6 407.5h.6M476.8 404.8h.6M478.4 409.5h.6M476.5 405.6h.6M474.4 399.7h.6M474.1 404.0h.6M460.8 404.6h.6M472.9 402.6h.6M479.9 400.5h.6M463.1 411.1h.6M477.0 404.3h.6M479.4 404.4h.6M494.0 399.1h.6M472.6 406.4h.6M471.0 404.2h.6M462.4 408.2h.6M463.4 410.2h.6M458.7 402.4h.6M457.2 402.2h.6M479.4 408.4h.6M473.1 408.2h.6M475.9 405.6h.6M459.0 407.0h.6M455.1 403.5h.6M457.4 404.5h.6M487.6 404.6h.6M483.2 397.5h.6M461.2 407.0h.6M474.1 407.2h.6M474.7 401.5h.6M464.4 402.8h.6M467.4 405.6h.6M481.7 407.0h.6M479.5 404.6h.6M481.2 403.1h.6M476.1 406.0h.6M474.3 405.0h.6M477.7 401.3h.6M471.9 403.5h.6M488.3 403.4h.6M475.3 406.8h.6M478.1 400.2h.6M472.5 401.9h.6M467.3 403.3h.6M472.8 404.7h.6M470.4 412.5h.6M466.2 404.0h.6M480.5 408.1h.6M491.1 407.2h.6M475.9 408.9h.6M472.4 410.3h.6M466.9 406.5h.6M460.3 401.4h.6M478.8 403.4h.6M478.4 409.6h.6M466.3 411.7h.6M474.1 408.8h.6M465.8 412.6h.6M486.0 406.9h.6M474.4 401.8h.6M477.3 404.9h.6M488.6 405.6h.6M453.6 407.7h.6M477.0 407.4h.6M475.8 401.7h.6M470.8 408.5h.6M473.6 402.7h.6M484.5 405.5h.6M467.6 406.8h.6M467.7 406.9h.6M488.8 406.3h.6M482.6 402.8h.6M477.8 404.1h.6M480.7 407.7h.6M474.3 403.1h.6M470.9 400.7h.6M472.3 396.1h.6M476.4 404.6h.6M469.5 401.6h.6M459.4 404.6h.6M472.1 401.0h.6M476.1 403.1h.6M472.4 403.3h.6M479.6 407.7h.6M476.2 401.6h.6M482.2 400.6h.6M474.7 404.9h.6M472.1 407.3h.6M478.7 401.5h.6M481.5 406.2h.6M469.7 404.6h.6M466.0 406.2h.6M485.5 398.3h.6M469.0 404.9h.6M476.9 403.7h.6M469.5 405.2h.6M475.6 402.3h.6M486.0 404.1h.6M488.6 397.2h.6M462.1 404.5h.6M460.9 409.1h.6M444.0 405.2h.6M478.9 404.8h.6M487.4 405.7h.6M475.9 409.2h.6M471.0 402.3h.6M480.9 399.6h.6M465.4 400.8h.6M479.5 402.3h.6M485.6 404.8h.6M484.6 407.3h.6M479.9 402.1h.6M469.2 401.1h.6M470.7 407.5h.6M465.5 408.1h.6M490.1 401.9h.6M484.6 407.1h.6M473.1 403.9h.6M473.0 402.9h.6M475.7 404.1h.6M467.8 401.6h.6M478.2 398.8h.6M478.0 399.7h.6M477.4 402.0h.6M474.0 405.5h.6M451.4 405.8h.6M471.9 407.4h.6M461.1 401.8h.6M458.7 404.4h.6M493.4 399.6h.6M469.2 401.2h.6M471.8 407.9h.6M470.8 404.0h.6M466.0 410.8h.6M487.8 406.8h.6M457.2 402.9h.6M477.7 402.1h.6M468.3 397.5h.6M484.7 408.9h.6M480.9 407.8h.6M474.2 416.6h.6M460.2 411.4h.6M480.4 405.6h.6M482.1 401.0h.6M479.3 398.5h.6M470.8 403.2h.6M479.0 404.4h.6M466.6 399.5h.6M475.6 406.8h.6M476.7 407.7h.6M471.3 401.2h.6M464.6 403.6h.6M471.4 399.7h.6M465.6 407.9h.6M462.8 401.4h.6M482.7 400.6h.6M472.0 397.8h.6M468.8 401.0h.6M468.8 398.6h.6M477.2 408.0h.6M470.5 406.6h.6M467.1 400.3h.6M475.7 401.4h.6M474.6 404.2h.6M465.3 404.8h.6M463.8 400.9h.6M484.8 409.0h.6M470.9 406.6h.6M484.0 411.3h.6M478.6 395.0h.6M472.7 399.1h.6M471.2 406.9h.6M487.7 405.2h.6M467.6 403.5h.6M469.9 400.5h.6M466.0 406.2h.6M471.9 402.7h.6M465.0 409.1h.6M474.3 408.2h.6M462.2 407.6h.6M477.9 398.2h.6M476.3 405.5h.6M475.2 410.4h.6M467.9 410.7h.6M484.6 408.7h.6M491.1 408.4h.6M472.1 401.9h.6M466.4 409.5h.6M479.0 410.9h.6M471.4 405.9h.6M474.5 406.2h.6M479.0 404.0h.6M461.2 405.1h.6M479.7 403.4h.6M464.0 406.1h.6M462.2 403.9h.6M469.8 399.3h.6M486.2 402.4h.6M467.7 405.9h.6M477.4 405.2h.6M465.0 409.5h.6M478.8 407.8h.6M476.1 408.9h.6M483.5 404.3h.6M474.8 408.1h.6M473.3 402.1h.6M456.6 402.2h.6M476.0 407.5h.6M480.2 405.3h.6M475.0 401.8h.6M474.8 407.7h.6M478.2 409.5h.6M480.9 407.1h.6M465.3 409.0h.6M472.6 407.7h.6M477.0 407.6h.6M475.5 401.7h.6M464.7 398.1h.6M455.6 403.3h.6M476.1 393.4h.6M479.6 402.6h.6M488.1 400.7h.6M477.0 404.9h.6M465.5 402.0h.6M477.1 404.5h.6M472.2 401.4h.6M467.2 403.6h.6M460.5 409.6h.6M457.0 400.9h.6M467.0 398.5h.6M469.5 409.3h.6M473.7 407.1h.6M473.3 404.3h.6M475.2 403.1h.6M490.1 405.5h.6M472.6 403.2h.6M485.3 407.8h.6M466.3 403.4h.6M466.8 402.3h.6M468.5 406.3h.6M457.2 401.7h.6M487.9 406.3h.6M475.4 400.4h.6M479.6 402.6h.6M488.5 405.1h.6M477.2 402.0h.6M487.6 407.8h.6M452.2 404.1h.6M484.5 405.2h.6M475.8 397.7h.6M468.2 406.4h.6M482.8 404.7h.6M473.4 397.7h.6M466.9 405.3h.6M455.9 405.6h.6M489.0 402.0h.6M449.9 400.7h.6M473.8 399.6h.6M487.4 404.5h.6M479.0 404.5h.6M467.6 403.7h.6M470.8 411.3h.6M467.7 404.4h.6M475.4 405.0h.6M472.5 399.0h.6M461.6 405.5h.6M460.0 407.6h.6M483.3 401.4h.6M461.7 411.6h.6M463.0 402.5h.6M493.9 404.9h.6M465.6 403.2h.6M461.3 403.1h.6M464.4 394.6h.6M479.9 407.4h.6M466.4 396.9h.6M471.8 408.7h.6M452.4 400.6h.6M467.5 402.6h.6M473.3 413.0h.6M473.4 401.1h.6M486.1 403.7h.6M477.5 400.1h.6M447.1 403.8h.6M458.4 405.8h.6M465.0 409.8h.6M470.3 395.5h.6M473.3 404.2h.6M478.5 406.5h.6M457.8 407.5h.6M452.9 401.8h.6M479.9 404.7h.6M463.8 410.8h.6M451.7 405.7h.6M464.2 411.7h.6M468.8 400.3h.6M461.9 402.0h.6M462.2 404.5h.6M481.9 400.9h.6M462.8 406.6h.6M475.5 400.6h.6M474.7 405.6h.6M469.5 399.3h.6M493.9 401.5h.6M460.6 405.3h.6M495.9 406.5h.6M464.1 401.1h.6M470.3 399.3h.6M475.5 406.3h.6M482.7 401.0h.6M479.0 405.8h.6M469.6 408.9h.6M469.6 406.6h.6M483.3 399.2h.6M486.6 408.7h.6M468.0 408.3h.6M483.8 402.4h.6M477.9 403.0h.6M475.1 409.3h.6M462.9 405.5h.6M461.5 405.9h.6M476.7 408.2h.6M447.8 406.3h.6M468.4 414.1h.6M476.7 409.2h.6M457.8 405.0h.6M487.5 404.9h.6M487.8 403.5h.6M463.3 408.7h.6M471.9 400.4h.6M471.7 407.5h.6M468.0 402.5h.6M468.5 398.2h.6M477.2 407.9h.6M487.9 406.0h.6M473.7 405.5h.6M473.9 403.5h.6M474.1 404.4h.6M466.7 402.4h.6M478.5 409.1h.6M468.5 409.2h.6M464.1 404.4h.6M478.8 404.6h.6M456.2 405.5h.6M468.4 407.6h.6M469.4 405.3h.6M471.7 403.0h.6M459.1 403.8h.6M464.4 405.5h.6M471.6 404.1h.6M478.4 403.2h.6M471.9 408.8h.6M471.1 406.0h.6M465.4 407.7h.6M473.1 401.6h.6M447.9 407.4h.6M478.8 404.7h.6M481.6 403.7h.6M472.8 402.3h.6M464.2 402.4h.6M484.9 403.0h.6M466.9 405.0h.6M485.0 404.3h.6M470.5 411.5h.6M466.1 406.2h.6M471.0 405.4h.6M466.8 404.3h.6M471.5 401.9h.6M477.4 401.8h.6M470.7 405.8h.6M468.9 399.4h.6M472.8 410.2h.6M476.5 410.0h.6M473.0 399.5h.6M477.8 408.8h.6M478.2 408.4h.6M475.6 408.5h.6M479.4 406.9h.6M473.1 410.2h.6M483.2 401.9h.6M476.6 403.1h.6M480.5 406.7h.6M471.3 404.8h.6M460.3 399.7h.6M469.0 407.4h.6M473.4 408.1h.6M476.3 403.9h.6M472.7 405.9h.6M486.1 407.9h.6M461.4 397.4h.6M457.3 402.7h.6M471.4 401.7h.6M466.9 404.1h.6M473.3 400.4h.6M478.9 400.3h.6M497.1 405.4h.6M461.3 410.9h.6M463.5 400.4h.6M472.5 410.1h.6M459.9 407.9h.6M466.3 408.1h.6M484.4 409.1h.6M472.5 403.2h.6M472.8 408.5h.6M482.8 399.5h.6M457.8 401.9h.6M474.1 405.8h.6M472.6 407.3h.6M475.4 399.9h.6M464.2 398.1h.6M469.2 406.0h.6M472.1 405.6h.6M479.5 407.0h.6M466.6 404.4h.6M478.4 400.2h.6M454.2 408.5h.6M476.8 407.3h.6M479.9 405.2h.6M465.0 412.1h.6M470.4 405.5h.6M473.0 409.8h.6M475.6 404.2h.6M483.6 394.7h.6M474.7 400.7h.6M471.0 395.3h.6M471.3 403.9h.6M475.4 408.7h.6M479.9 398.8h.6M475.3 407.1h.6M468.2 403.7h.6M470.0 407.8h.6M466.1 405.9h.6M465.4 401.2h.6M468.7 406.6h.6M468.0 404.5h.6M479.7 407.7h.6M462.5 411.3h.6M473.6 404.0h.6M462.7 410.3h.6M480.0 404.3h.6M475.7 406.8h.6M484.1 405.3h.6M477.8 402.4h.6M464.0 405.1h.6M473.3 403.2h.6M467.5 406.6h.6M468.4 401.1h.6M464.1 401.4h.6M470.3 407.7h.6M473.8 406.5h.6M474.9 406.6h.6M494.7 406.6h.6M471.6 408.3h.6M473.8 406.3h.6M472.2 407.8h.6M470.8 402.0h.6M470.4 406.5h.6M473.5 402.2h.6M471.3 400.5h.6M479.4 403.9h.6M476.7 406.9h.6M465.3 404.8h.6M473.0 410.8h.6M475.7 407.0h.6M470.6 406.2h.6M471.0 405.1h.6M472.2 400.1h.6M478.3 404.9h.6M474.6 404.8h.6M468.3 410.7h.6M472.6 402.0h.6M483.7 404.3h.6M464.7 402.2h.6M478.7 405.2h.6M470.9 398.8h.6M505.2 405.7h.6M478.5 404.8h.6M473.5 405.3h.6M472.1 413.7h.6M459.9 404.4h.6M468.6 406.4h.6M490.4 404.6h.6M476.1 408.4h.6M470.5 412.4h.6M473.0 410.5h.6M473.4 405.9h.6M464.8 400.4h.6M474.0 406.2h.6M477.4 399.1h.6M460.3 401.7h.6M471.0 402.7h.6M449.5 400.9h.6M458.5 404.7h.6M480.2 403.5h.6M483.6 402.2h.6M489.1 406.0h.6M461.9 402.2h.6M472.3 409.1h.6M470.2 406.9h.6M482.2 403.2h.6M475.8 406.2h.6M473.8 402.4h.6M478.2 402.5h.6M469.1 408.2h.6M481.4 399.2h.6M470.1 406.3h.6M482.5 411.3h.6M474.6 397.1h.6M475.0 412.9h.6M463.3 398.1h.6M459.8 397.0h.6M459.6 397.4h.6M477.3 400.7h.6M454.6 402.6h.6M484.8 398.1h.6M470.3 404.0h.6M461.5 407.4h.6M476.0 402.0h.6M462.4 405.1h.6M473.4 406.8h.6M470.8 410.6h.6M483.3 404.3h.6M480.8 407.1h.6M481.1 406.4h.6M469.1 404.8h.6M483.7 403.5h.6M472.4 405.9h.6M474.0 407.0h.6M476.8 400.1h.6M475.4 403.3h.6M461.6 405.8h.6M478.6 405.7h.6M459.4 405.8h.6M477.1 410.3h.6M472.4 408.3h.6M473.7 400.3h.6M463.7 410.1h.6M481.6 402.2h.6M471.8 401.8h.6M480.3 408.4h.6M466.8 403.5h.6M466.9 398.8h.6M473.6 406.8h.6M481.8 406.2h.6M461.7 406.5h.6M468.1 399.7h.6M468.7 407.4h.6M470.7 402.5h.6M469.1 407.7h.6M482.2 400.3h.6M479.1 401.3h.6M473.2 397.8h.6M480.3 401.9h.6M481.8 408.3h.6M467.8 405.4h.6M466.8 402.6h.6M479.0 409.4h.6M491.2 405.3h.6M452.8 407.3h.6M467.7 405.8h.6M479.7 404.2h.6M466.1 405.1h.6M480.5 406.1h.6M475.0 408.5h.6M462.3 406.7h.6M469.1 407.7h.6M476.2 400.7h.6M465.4 398.1h.6M478.1 405.7h.6M475.7 405.1h.6M470.4 406.1h.6M476.4 401.1h.6M470.0 405.1h.6M474.9 400.9h.6M464.5 404.9h.6M485.1 404.3h.6M470.8 404.0h.6M483.0 405.6h.6M491.4 402.8h.6M486.6 404.5h.6M472.9 407.0h.6M474.4 409.8h.6M472.7 406.0h.6M475.7 407.4h.6M466.0 406.6h.6M457.5 410.4h.6M475.8 411.8h.6M473.4 402.4h.6M486.2 407.0h.6M488.6 405.6h.6M461.3 410.1h.6M465.1 396.1h.6M479.7 402.3h.6M483.2 398.5h.6M474.1 409.4h.6M473.6 405.5h.6M457.2 406.9h.6M492.7 406.0h.6M467.1 405.6h.6M477.9 406.0h.6M476.0 403.1h.6M465.4 397.5h.6M480.4 405.7h.6M485.6 404.4h.6M472.6 402.6h.6M474.3 402.5h.6M478.7 409.1h.6M481.5 402.0h.6M480.5 400.9h.6M465.4 406.9h.6M465.0 409.7h.6M468.3 400.1h.6M449.9 401.1h.6M461.7 400.9h.6M471.4 405.9h.6M467.3 406.5h.6M465.8 409.5h.6M480.6 404.4h.6M475.9 403.7h.6M480.1 402.5h.6M471.6 408.5h.6M469.5 402.5h.6M465.6 401.7h.6M475.2 403.8h.6M457.5 404.5h.6M465.6 405.9h.6M478.1 402.4h.6M480.3 410.6h.6M472.5 411.2h.6M463.1 400.6h.6M477.9 405.0h.6M466.7 401.0h.6M472.0 403.6h.6M464.7 400.3h.6M488.7 403.6h.6M485.9 405.5h.6M465.8 405.1h.6M463.0 399.9h.6M472.6 397.6h.6M478.4 398.1h.6M483.8 408.8h.6M472.5 403.9h.6M462.4 404.8h.6M475.6 409.6h.6M475.3 401.1h.6M459.4 406.0h.6M470.8 402.2h.6M470.5 405.2h.6M464.6 398.0h.6M474.9 403.1h.6M482.1 404.3h.6M481.7 404.9h.6M465.4 399.5h.6M468.0 403.7h.6M479.0 407.6h.6M470.2 404.2h.6M470.0 407.5h.6M492.0 406.8h.6M451.0 405.4h.6M467.4 403.2h.6M465.8 404.8h.6M472.6 401.3h.6M487.7 406.8h.6M471.8 405.6h.6M470.6 408.7h.6M474.4 412.4h.6M470.4 407.5h.6M476.3 406.5h.6M494.9 405.2h.6M467.1 407.5h.6M471.2 409.3h.6M472.4 403.5h.6M454.9 400.1h.6M478.2 399.8h.6M472.5 408.0h.6M456.1 406.1h.6M470.7 406.4h.6M474.4 398.7h.6M465.3 402.6h.6M482.4 399.1h.6M467.9 400.5h.6M460.2 402.5h.6M479.9 402.1h.6M471.8 410.0h.6M474.2 400.1h.6M459.1 402.4h.6M461.1 401.9h.6M464.3 404.8h.6M471.7 407.1h.6M471.8 401.7h.6M484.9 398.7h.6M486.2 403.0h.6M474.1 405.9h.6M472.2 400.7h.6M489.3 407.9h.6M473.5 401.0h.6M481.7 402.3h.6M468.8 402.9h.6M472.1 411.2h.6M470.6 407.2h.6M467.0 405.7h.6M476.2 401.0h.6M465.9 400.6h.6M472.1 402.1h.6M476.5 410.1h.6M491.1 409.1h.6M456.6 405.0h.6M473.6 402.1h.6M478.6 398.4h.6M470.0 402.9h.6M480.5 406.3h.6M477.6 406.5h.6M477.2 405.9h.6M469.4 402.1h.6M471.1 406.3h.6M471.0 404.0h.6M464.5 407.6h.6M474.6 405.4h.6M463.9 407.2h.6M465.0 405.7h.6M461.1 402.9h.6M482.5 408.6h.6M468.2 400.9h.6M465.4 406.8h.6M479.8 403.0h.6M469.4 403.2h.6M475.9 405.5h.6M471.5 402.7h.6M476.1 401.0h.6M474.6 401.3h.6M454.4 400.6h.6M485.6 404.6h.6M481.6 405.6h.6M460.5 404.2h.6M480.6 399.1h.6M471.0 405.0h.6M474.0 407.8h.6M484.0 400.6h.6M481.5 401.4h.6M481.4 407.7h.6M490.2 403.9h.6M482.3 408.3h.6M467.8 403.4h.6M462.0 399.5h.6M480.2 404.4h.6M458.3 404.3h.6M470.0 405.5h.6M469.9 401.6h.6M467.0 402.9h.6M484.6 411.6h.6M475.7 402.6h.6M471.1 410.0h.6M480.7 400.6h.6M469.5 405.3h.6M483.3 405.8h.6M490.5 407.5h.6M471.9 404.5h.6M471.6 402.3h.6M482.9 404.9h.6M456.2 399.4h.6M462.2 395.9h.6M464.2 399.2h.6M459.1 410.0h.6M473.0 407.4h.6M475.5 410.9h.6M472.7 406.2h.6M472.7 399.5h.6M480.8 401.1h.6M482.2 405.6h.6M483.6 401.6h.6M471.8 401.2h.6M473.1 400.8h.6M485.6 401.9h.6M476.5 397.9h.6M484.3 406.0h.6M468.9 402.0h.6M472.6 408.9h.6M467.5 410.2h.6M472.8 404.3h.6M476.6 408.1h.6M469.1 408.3h.6M489.8 405.2h.6M460.3 403.9h.6M480.4 408.9h.6M463.7 406.8h.6M475.5 403.9h.6M466.4 402.8h.6M473.6 404.5h.6M473.6 407.7h.6M466.1 406.9h.6M462.5 402.5h.6M466.9 404.0h.6M473.1 405.1h.6M479.9 403.1h.6M486.7 404.2h.6M458.2 401.2h.6M476.9 401.7h.6M468.9 405.5h.6M473.1 405.3h.6M475.7 403.5h.6M479.7 412.0h.6M476.4 403.9h.6M472.8 406.9h.6M486.3 405.5h.6M475.4 402.9h.6M472.9 406.9h.6M482.7 408.3h.6M463.2 404.6h.6M464.9 406.3h.6M485.4 414.3h.6M471.3 401.5h.6M457.7 403.8h.6M479.8 406.5h.6M483.2 404.5h.6M466.3 401.8h.6M461.8 402.9h.6M472.5 403.8h.6M476.0 403.6h.6M467.8 404.7h.6M465.1 410.0h.6M477.4 405.3h.6M477.4 403.3h.6M459.4 406.9h.6M463.4 406.8h.6M470.1 400.9h.6M467.5 402.5h.6M474.7 400.8h.6M477.3 405.7h.6M488.7 407.5h.6M475.9 403.8h.6M480.7 408.8h.6M459.6 402.6h.6M467.0 403.5h.6M481.9 404.3h.6M460.5 405.2h.6M484.3 410.2h.6M477.5 400.8h.6M474.0 406.5h.6M471.8 404.8h.6M462.9 408.6h.6M463.6 400.0h.6M468.3 400.6h.6M469.2 410.4h.6M483.3 408.9h.6M464.1 408.2h.6M467.5 404.2h.6M458.0 408.2h.6M474.2 404.6h.6M472.8 400.9h.6M482.1 404.1h.6M489.2 403.7h.6M477.4 401.0h.6M465.5 402.6h.6M474.7 402.2h.6M475.2 406.3h.6M472.3 407.9h.6M463.6 408.4h.6M475.7 408.3h.6M462.5 400.9h.6M472.1 406.5h.6M470.2 407.3h.6M450.8 406.0h.6M478.0 401.4h.6M490.9 394.7h.6M469.7 405.1h.6M467.5 401.7h.6M480.7 407.6h.6M461.6 399.5h.6M473.0 406.4h.6M474.9 403.1h.6M468.0 400.0h.6M472.2 403.0h.6M465.6 404.0h.6M467.9 407.4h.6M478.5 407.3h.6M465.4 408.8h.6M467.9 407.1h.6M466.9 403.0h.6M477.1 403.1h.6M469.6 405.1h.6M465.6 403.4h.6M475.6 398.9h.6M455.7 397.5h.6M456.6 407.1h.6M475.3 404.9h.6M488.6 411.3h.6M468.6 402.8h.6M475.7 408.1h.6M461.0 405.0h.6M473.8 406.2h.6M474.5 404.8h.6M477.7 408.3h.6M466.5 406.3h.6M489.3 402.9h.6M464.6 404.2h.6M485.7 403.8h.6M463.7 404.8h.6M479.5 405.3h.6M484.2 403.1h.6M491.3 402.6h.6M471.8 404.5h.6M458.8 398.5h.6M480.0 405.9h.6M466.8 405.8h.6M463.7 394.0h.6M467.8 400.8h.6M465.1 404.5h.6M479.4 396.9h.6M474.5 406.0h.6M478.7 407.9h.6M480.2 406.1h.6M469.6 407.7h.6M478.9 404.2h.6M483.2 407.4h.6M488.7 406.9h.6M474.3 404.1h.6M470.7 404.8h.6M465.0 398.9h.6M469.5 399.9h.6M473.0 408.0h.6M475.0 408.1h.6M461.4 401.7h.6M469.5 399.3h.6M471.2 397.8h.6M467.9 408.5h.6M467.7 405.7h.6M475.9 411.0h.6M464.6 408.8h.6M476.9 411.4h.6M463.7 407.3h.6M474.7 402.6h.6M463.4 403.4h.6M483.0 408.3h.6M479.2 399.7h.6M484.3 406.5h.6M465.8 403.1h.6M461.7 408.9h.6M461.7 402.6h.6M471.0 402.0h.6M482.0 407.8h.6M478.9 393.5h.6M478.7 408.1h.6M462.4 405.5h.6M482.2 402.5h.6M479.2 406.8h.6M468.3 402.9h.6M451.2 406.6h.6M466.1 404.8h.6M471.8 407.1h.6M486.4 401.2h.6M474.8 402.2h.6M472.4 410.8h.6M486.5 405.6h.6M486.2 403.9h.6M476.1 401.4h.6M478.2 402.7h.6M483.6 405.3h.6M466.8 400.4h.6M476.4 404.3h.6M469.3 403.6h.6M464.7 397.8h.6M477.2 404.5h.6M482.4 408.7h.6M488.9 403.0h.6M479.6 403.8h.6M482.7 405.4h.6M471.4 402.4h.6M460.1 398.5h.6M467.5 404.6h.6M476.4 403.0h.6M467.9 402.3h.6M489.4 409.2h.6M483.4 404.9h.6M471.3 401.9h.6M487.8 402.1h.6M478.6 409.9h.6M487.1 407.2h.6M471.5 398.4h.6M479.7 406.5h.6M471.0 402.8h.6M473.1 402.5h.6M482.9 408.3h.6M489.4 406.9h.6M474.1 401.6h.6M475.6 404.4h.6M465.5 406.7h.6M471.2 404.1h.6M477.3 405.9h.6M462.3 402.1h.6M469.3 408.9h.6M463.5 409.4h.6M474.7 402.2h.6M480.7 399.6h.6M476.0 402.9h.6M470.6 407.4h.6M464.4 405.2h.6M459.2 404.3h.6M473.2 405.1h.6M486.1 399.4h.6M470.8 404.3h.6M472.5 404.1h.6M469.2 402.3h.6M463.4 407.2h.6M482.2 402.2h.6M479.1 402.3h.6M460.4 406.9h.6M462.4 406.6h.6M484.6 404.7h.6M465.5 405.3h.6M472.7 405.8h.6M464.2 405.6h.6M475.8 401.1h.6M466.3 407.3h.6M467.9 411.4h.6M463.5 405.8h.6M489.4 403.6h.6M495.4 408.5h.6M475.0 406.6h.6M478.8 401.9h.6M478.0 404.2h.6M473.1 402.5h.6M472.3 408.0h.6M470.0 400.0h.6M479.8 408.8h.6M462.5 402.2h.6M465.9 405.5h.6M479.1 403.0h.6M461.0 405.8h.6M487.0 408.5h.6M470.7 406.6h.6M474.7 400.3h.6M484.5 403.6h.6M472.7 405.0h.6M474.2 410.9h.6M468.0 402.7h.6M477.5 403.1h.6M479.1 401.9h.6M465.5 404.3h.6M478.7 406.8h.6M481.5 401.1h.6M477.1 409.3h.6M466.6 408.8h.6M481.1 407.2h.6M484.9 406.6h.6M468.9 412.9h.6M457.3 400.9h.6M467.0 402.6h.6M473.2 411.9h.6M484.3 400.3h.6M483.4 405.6h.6M479.0 403.9h.6M467.5 401.3h.6M479.7 401.3h.6M473.0 403.8h.6M464.2 405.4h.6M457.6 406.2h.6M481.7 406.5h.6M459.0 404.7h.6M483.9 404.6h.6M492.6 406.6h.6M473.4 402.3h.6M465.8 400.0h.6M467.6 407.4h.6M467.2 397.4h.6M476.4 406.4h.6M481.7 408.9h.6M466.5 400.2h.6M470.2 396.9h.6M467.5 401.6h.6M483.0 405.5h.6M481.5 401.2h.6M465.7 408.0h.6M470.4 406.7h.6M474.5 401.1h.6M457.6 407.1h.6M468.4 399.6h.6M474.3 402.9h.6M461.0 405.3h.6M474.9 409.0h.6M473.5 407.2h.6M468.3 409.6h.6M482.0 399.5h.6M465.0 415.5h.6M476.7 401.5h.6M470.9 405.4h.6M482.6 409.9h.6M466.3 406.3h.6M478.3 408.6h.6M478.4 400.3h.6M482.9 400.6h.6M487.0 403.0h.6M459.9 402.5h.6M472.4 404.9h.6M463.7 403.4h.6M481.5 400.5h.6M484.9 405.2h.6M470.5 399.7h.6M475.2 402.1h.6M484.4 405.6h.6M474.8 401.4h.6M471.9 404.4h.6M458.8 406.7h.6M466.9 409.6h.6M481.7 408.6h.6M460.4 407.5h.6M475.6 406.2h.6M475.0 400.2h.6M473.0 401.5h.6M480.0 401.5h.6M466.6 402.6h.6M485.1 404.0h.6M469.3 401.2h.6M481.9 403.0h.6M468.0 408.3h.6M475.3 403.0h.6M470.2 397.8h.6M487.6 403.5h.6M464.0 404.0h.6M467.6 403.2h.6M485.7 411.8h.6M480.1 407.7h.6M472.7 410.3h.6M470.8 402.3h.6M461.9 407.1h.6M470.7 405.3h.6M476.2 404.2h.6M483.5 401.6h.6M481.2 405.2h.6M485.7 397.8h.6M476.4 407.7h.6M466.9 414.0h.6M470.1 409.6h.6M486.4 397.2h.6M474.0 405.1h.6M485.3 401.9h.6M459.3 402.3h.6M468.8 403.5h.6M466.1 408.5h.6M475.3 406.9h.6M466.2 401.5h.6M461.5 406.4h.6M472.4 405.0h.6M453.2 411.4h.6M467.9 399.4h.6M476.8 404.0h.6M463.1 401.2h.6M472.6 404.3h.6M465.4 397.5h.6M470.1 401.2h.6M475.2 404.0h.6M477.1 402.4h.6M476.8 401.4h.6M466.5 404.0h.6M486.4 402.5h.6M475.9 401.2h.6M467.4 403.6h.6M484.8 404.5h.6M469.6 405.5h.6M490.2 398.5h.6M480.5 403.0h.6M472.2 408.4h.6M468.9 399.5h.6M465.8 404.8h.6M466.3 402.7h.6M470.7 408.1h.6M485.0 408.6h.6M474.7 405.3h.6M472.5 402.7h.6M476.9 399.0h.6M470.4 402.6h.6M462.2 401.5h.6M460.2 404.5h.6M485.7 409.7h.6M470.7 410.9h.6M487.3 405.4h.6M489.9 404.8h.6M475.7 403.9h.6M480.0 405.4h.6M470.1 403.7h.6M472.1 410.4h.6M474.0 401.8h.6M473.2 404.8h.6M486.5 402.3h.6M472.4 407.6h.6M481.2 410.5h.6M474.3 406.7h.6M478.8 405.1h.6M489.5 404.6h.6M459.6 406.4h.6M483.6 402.8h.6M467.8 410.0h.6M475.0 410.4h.6M470.2 407.9h.6M469.1 407.2h.6M461.3 403.1h.6M449.7 410.7h.6M492.2 399.8h.6M481.0 402.0h.6M471.2 411.7h.6M456.8 403.1h.6M479.2 401.7h.6M487.3 398.9h.6M477.1 408.0h.6M458.1 408.5h.6M468.6 405.2h.6M475.6 399.0h.6M472.6 404.2h.6M483.1 401.9h.6M464.7 407.6h.6M467.6 409.5h.6M451.1 406.0h.6M483.3 406.0h.6M478.9 409.8h.6M469.4 410.3h.6M457.2 400.5h.6M481.0 406.1h.6M460.6 400.6h.6M461.8 402.0h.6M455.9 408.4h.6M460.4 400.8h.6M464.7 404.0h.6M463.4 408.8h.6M483.0 406.1h.6M479.5 399.1h.6M473.8 404.3h.6M468.0 403.8h.6M472.7 401.6h.6M461.2 411.5h.6M476.7 404.8h.6M464.7 404.8h.6M468.5 408.1h.6M476.1 405.2h.6M465.2 400.2h.6M460.5 404.7h.6M482.2 406.1h.6M457.5 405.2h.6M461.5 408.2h.6M462.5 407.6h.6M466.5 406.4h.6M471.8 404.1h.6M444.0 404.8h.6M468.5 411.2h.6M485.7 399.2h.6M483.8 408.5h.6M481.0 406.2h.6M472.3 402.4h.6M475.0 404.7h.6M468.0 406.8h.6M457.9 400.0h.6M476.2 405.3h.6M482.7 406.7h.6M475.7 401.7h.6M472.7 405.2h.6M480.8 409.4h.6M475.9 405.4h.6M483.2 401.9h.6M469.2 399.4h.6M456.7 398.8h.6M477.4 408.0h.6M481.0 404.1h.6M465.9 404.4h.6M475.1 404.0h.6M479.6 402.3h.6M448.2 410.6h.6M495.3 407.1h.6M480.1 409.7h.6M471.2 400.7h.6M462.5 406.8h.6M458.6 407.0h.6M503.4 400.9h.6M470.0 401.8h.6M479.4 402.0h.6M467.0 408.2h.6M470.0 405.5h.6M479.0 402.4h.6M464.4 407.1h.6M472.3 402.5h.6M471.1 405.2h.6M477.4 404.5h.6M480.8 401.9h.6M471.4 407.9h.6M485.7 404.9h.6M468.6 397.1h.6M469.5 404.1h.6M473.8 409.8h.6M470.6 397.3h.6M480.1 407.8h.6M446.9 405.5h.6M456.8 400.7h.6M453.1 404.7h.6M485.8 400.9h.6M480.5 399.6h.6M466.6 406.0h.6M476.5 405.7h.6M456.8 398.7h.6M470.2 402.9h.6M486.5 404.8h.6M478.9 399.5h.6M492.6 408.4h.6M468.5 402.3h.6M483.6 406.1h.6M474.0 406.9h.6M475.9 401.6h.6M475.4 405.9h.6M480.1 405.1h.6M485.2 406.1h.6M473.6 403.3h.6M476.5 408.0h.6M472.1 407.1h.6M475.7 409.9h.6M465.7 408.3h.6M482.3 400.2h.6M479.5 402.9h.6M476.1 406.2h.6M473.0 408.1h.6M467.0 402.4h.6M464.5 404.8h.6M462.9 405.8h.6M465.9 404.4h.6M481.5 408.1h.6M477.0 401.4h.6M460.1 406.4h.6M464.3 402.1h.6M485.4 406.2h.6M488.4 401.7h.6M480.9 403.8h.6M492.5 407.8h.6M466.9 401.5h.6M477.3 405.0h.6M467.4 406.9h.6M493.6 404.4h.6M477.3 403.8h.6M477.2 404.8h.6M476.8 401.8h.6M467.1 407.3h.6M472.9 407.2h.6M452.5 410.5h.6M469.4 405.7h.6M464.2 408.4h.6M480.7 403.1h.6M485.7 406.3h.6M476.0 401.7h.6M464.1 405.6h.6M463.5 403.7h.6M480.3 407.9h.6M471.1 398.0h.6M471.2 404.2h.6M463.7 403.7h.6M475.8 407.0h.6M475.4 402.4h.6M481.0 403.3h.6M465.0 408.9h.6M473.3 402.7h.6M460.7 403.5h.6M475.7 408.5h.6M473.7 397.8h.6M470.3 406.1h.6M481.9 405.9h.6M462.0 405.6h.6M487.9 398.8h.6M477.4 400.0h.6M479.0 402.0h.6M476.2 401.9h.6M467.3 407.0h.6M468.6 403.3h.6M482.5 409.5h.6M473.6 404.7h.6M476.6 406.8h.6M470.6 402.5h.6M481.5 402.8h.6M479.7 406.2h.6M461.9 407.6h.6M491.7 402.6h.6M483.3 409.0h.6M481.4 404.0h.6M476.8 409.9h.6M473.3 400.7h.6M481.6 403.6h.6M497.4 406.9h.6M473.0 404.5h.6M463.7 402.8h.6M473.5 406.9h.6M474.4 407.9h.6M482.5 403.4h.6M462.5 407.3h.6M469.7 403.3h.6M470.9 402.1h.6M482.7 409.0h.6M483.9 402.9h.6M475.6 403.1h.6M483.5 407.3h.6M474.7 401.5h.6M474.6 401.6h.6M452.9 403.9h.6M451.9 409.0h.6M461.8 400.9h.6M448.7 407.1h.6M443.3 404.7h.6M435.9 404.9h.6M447.1 398.9h.6M445.4 401.2h.6M463.8 403.9h.6M432.0 403.8h.6M430.1 409.0h.6M448.0 404.7h.6M455.9 402.9h.6M469.7 399.6h.6M431.8 402.8h.6M452.6 404.2h.6M443.5 409.6h.6M469.7 408.0h.6M454.8 402.1h.6M468.5 401.0h.6M450.4 403.8h.6M463.3 402.1h.6M454.9 412.0h.6M443.3 406.7h.6M461.7 403.8h.6M447.1 402.2h.6M449.5 403.6h.6M436.3 395.5h.6M456.9 402.7h.6M468.7 402.4h.6M454.2 409.0h.6M457.2 398.2h.6M436.3 406.9h.6M441.4 402.8h.6M443.8 406.5h.6M473.7 401.5h.6M445.8 405.3h.6M453.9 406.7h.6M444.7 401.3h.6M452.1 403.5h.6M449.0 403.6h.6M447.2 402.0h.6M455.7 403.7h.6M456.4 404.1h.6M436.4 402.8h.6M434.9 398.3h.6M457.2 404.8h.6M460.1 399.2h.6M434.6 403.7h.6M458.5 407.3h.6M434.2 399.8h.6M448.6 403.5h.6M465.6 404.6h.6M431.4 403.8h.6M450.5 402.4h.6M448.0 404.0h.6M437.2 406.2h.6M459.5 400.7h.6M439.5 403.4h.6M442.7 406.3h.6M437.5 402.0h.6M455.6 400.0h.6M457.1 406.5h.6M466.5 406.3h.6M447.6 407.1h.6M440.7 403.9h.6M468.1 401.9h.6M443.2 409.0h.6M458.5 408.1h.6M469.5 406.6h.6M459.8 402.4h.6M438.1 401.1h.6M441.1 400.6h.6M460.3 404.3h.6M441.2 405.0h.6M459.5 405.8h.6M452.9 404.3h.6M452.3 410.7h.6M450.1 400.8h.6M441.4 408.3h.6M466.5 402.7h.6M451.8 407.1h.6M468.1 401.0h.6M439.5 411.2h.6M430.2 408.7h.6M466.9 398.8h.6M436.4 408.3h.6M451.6 404.6h.6M445.8 407.0h.6M448.3 404.0h.6M446.2 403.6h.6M437.1 399.5h.6M435.9 402.5h.6M452.6 404.0h.6M441.6 398.6h.6M470.5 400.8h.6M451.0 404.1h.6M466.7 405.5h.6M444.4 402.6h.6M459.5 408.7h.6M442.9 402.4h.6M438.8 406.1h.6M447.1 408.4h.6M447.6 401.5h.6M480.8 407.9h.6M434.2 403.6h.6M442.2 401.3h.6M458.4 409.4h.6M448.0 409.5h.6M451.6 403.1h.6M459.1 407.6h.6M448.3 407.4h.6M441.4 404.0h.6M433.8 411.3h.6M449.1 403.7h.6M456.4 402.0h.6M452.4 404.2h.6M463.8 403.8h.6M444.9 402.7h.6M453.2 403.2h.6M439.9 399.8h.6M456.7 399.7h.6M444.3 407.8h.6M457.5 406.5h.6M442.5 402.9h.6M431.4 402.9h.6M439.0 402.0h.6M446.2 404.2h.6M441.6 409.9h.6M446.4 405.3h.6M456.3 402.8h.6M449.6 409.9h.6M455.3 402.9h.6M447.9 403.0h.6M441.6 411.2h.6M438.1 406.4h.6M456.7 406.2h.6M462.8 406.0h.6M437.9 406.4h.6M438.4 406.7h.6M439.5 411.5h.6M453.7 400.4h.6M450.8 396.4h.6M446.9 403.3h.6M449.0 399.3h.6M429.8 404.7h.6M448.1 400.3h.6M447.4 404.3h.6M455.4 407.8h.6M441.1 402.5h.6M443.3 401.8h.6M452.1 406.8h.6M481.5 401.7h.6M442.5 403.9h.6M473.9 403.7h.6M438.7 400.0h.6M450.3 407.3h.6M438.6 400.6h.6M465.9 407.2h.6M451.3 405.4h.6M452.1 400.7h.6M461.9 403.0h.6M465.2 407.0h.6M441.9 403.2h.6M452.7 411.4h.6M443.9 400.9h.6M463.6 408.1h.6M475.8 403.3h.6M447.1 407.5h.6M453.1 405.1h.6M439.8 400.5h.6M450.2 399.8h.6M451.3 401.7h.6M462.5 402.3h.6M454.5 402.2h.6M463.6 401.3h.6M434.4 395.5h.6M458.7 408.6h.6M459.5 411.1h.6M443.4 405.6h.6M451.7 400.9h.6M444.2 405.1h.6M468.4 405.1h.6M447.1 401.1h.6M458.2 403.5h.6M454.0 406.6h.6M452.1 405.1h.6M435.1 404.0h.6M441.2 404.5h.6M451.1 401.7h.6M448.9 403.9h.6M448.6 404.4h.6M459.0 401.7h.6M450.4 403.7h.6M458.4 407.1h.6M450.9 407.6h.6M454.4 396.9h.6M443.6 399.4h.6M432.0 407.4h.6M460.0 405.5h.6M460.1 405.6h.6M457.6 399.5h.6M440.3 404.3h.6M463.0 406.0h.6M451.0 405.5h.6M451.9 401.7h.6M441.9 402.2h.6M444.0 405.1h.6M442.3 404.7h.6M454.2 408.4h.6M441.7 396.6h.6M449.5 402.1h.6M443.4 408.2h.6M434.6 400.3h.6M450.5 404.5h.6M451.4 408.9h.6M450.7 400.8h.6M462.2 410.5h.6M449.8 399.9h.6M438.5 397.5h.6M472.6 407.6h.6M450.2 402.5h.6M458.6 403.9h.6M451.4 404.3h.6M464.1 403.1h.6M436.3 407.4h.6M462.7 406.6h.6M448.3 404.1h.6M439.6 407.6h.6M444.2 403.8h.6M437.9 414.1h.6M450.2 397.5h.6M436.8 400.3h.6M458.3 400.7h.6M443.5 402.7h.6M444.5 404.7h.6M473.4 403.3h.6M459.2 411.6h.6M442.2 402.4h.6M454.2 400.5h.6M430.7 404.1h.6M440.9 402.6h.6M447.7 402.5h.6M441.0 407.2h.6M437.9 405.1h.6M457.4 407.8h.6M442.7 400.5h.6M440.2 406.1h.6M442.7 404.1h.6M442.0 402.0h.6M459.1 398.8h.6M453.2 403.8h.6M432.0 400.2h.6M465.6 406.5h.6M462.5 405.6h.6M446.4 405.7h.6M438.1 413.4h.6M450.0 408.3h.6M443.0 397.3h.6M455.9 406.0h.6M449.3 404.8h.6M464.7 404.8h.6M430.6 402.4h.6M442.5 407.1h.6M453.1 394.6h.6M443.9 399.6h.6M444.8 406.1h.6M436.1 404.7h.6M472.3 407.1h.6M447.6 402.8h.6M457.9 402.3h.6M440.5 406.7h.6M444.3 404.6h.6M448.9 398.3h.6M469.1 407.2h.6M465.9 400.4h.6M474.2 407.0h.6M467.6 404.7h.6M467.2 406.0h.6M447.2 407.5h.6M441.6 400.6h.6M465.1 406.2h.6M441.3 403.8h.6M456.0 403.2h.6M442.5 404.1h.6M437.4 402.3h.6M450.4 404.2h.6M439.2 404.9h.6M446.1 401.9h.6M460.0 407.7h.6M447.5 404.4h.6M461.5 400.3h.6M444.5 405.6h.6M453.8 405.8h.6M437.8 399.2h.6M465.2 405.0h.6M453.1 404.9h.6M456.3 403.5h.6M430.5 404.7h.6M431.8 396.4h.6M448.7 404.3h.6M446.6 405.9h.6M445.7 406.4h.6M456.9 408.2h.6M476.4 405.2h.6M437.8 408.4h.6M453.9 406.9h.6M450.2 402.5h.6M462.5 401.7h.6M430.7 406.4h.6M437.0 398.2h.6M436.9 400.5h.6M452.5 407.9h.6M444.1 404.6h.6M440.9 405.5h.6M430.6 407.4h.6M440.7 406.2h.6M447.3 403.9h.6M440.4 403.4h.6M463.9 402.3h.6M476.1 402.3h.6M455.5 404.9h.6M431.4 412.5h.6M466.4 412.7h.6M474.2 403.5h.6M447.4 399.1h.6M454.0 403.7h.6M462.5 403.1h.6M451.9 403.2h.6M464.3 398.4h.6M456.1 403.8h.6M442.4 401.9h.6M443.8 404.2h.6M446.6 398.8h.6M441.6 404.1h.6M465.0 400.0h.6M453.4 401.2h.6M447.3 401.8h.6M459.1 402.2h.6M450.5 402.2h.6M461.8 402.1h.6M468.6 402.0h.6M451.6 401.7h.6M442.7 402.1h.6M435.7 402.9h.6M470.3 410.3h.6M454.1 407.1h.6M442.6 402.0h.6M448.4 399.4h.6M436.3 407.8h.6M465.3 404.0h.6M453.2 405.2h.6M445.3 407.9h.6M432.3 397.6h.6M474.4 402.0h.6M451.0 404.7h.6M442.8 403.7h.6M449.2 404.3h.6M451.3 403.9h.6M436.8 403.9h.6M463.1 404.5h.6M456.4 402.1h.6M450.1 401.6h.6M441.8 402.7h.6M444.1 407.9h.6M447.1 404.5h.6M435.6 403.1h.6M453.0 408.2h.6M458.9 405.9h.6M444.0 406.5h.6M444.8 403.6h.6M449.3 402.6h.6M469.0 405.7h.6M466.3 403.5h.6M430.0 408.0h.6M443.7 401.1h.6M479.5 405.1h.6M445.7 404.1h.6M470.1 400.6h.6M455.5 402.8h.6M464.4 400.5h.6M445.4 402.9h.6M450.6 403.1h.6M456.0 412.9h.6M449.4 400.5h.6M448.9 406.2h.6M466.3 402.5h.6M447.7 405.3h.6M465.1 402.9h.6M442.6 401.3h.6M445.9 408.8h.6M458.1 407.8h.6M455.6 398.2h.6M461.0 403.5h.6M450.1 402.8h.6M449.3 398.7h.6M444.1 404.6h.6M431.1 405.7h.6M444.8 404.2h.6M461.8 405.6h.6M448.8 410.0h.6M452.0 402.5h.6M464.3 408.2h.6M438.9 411.4h.6M453.7 394.3h.6M443.1 403.3h.6M462.9 408.6h.6M432.5 405.2h.6M445.5 402.0h.6M443.7 408.8h.6M445.7 407.0h.6M443.1 398.7h.6M471.6 406.8h.6M447.1 403.5h.6M447.9 404.7h.6M432.8 400.1h.6M434.2 405.9h.6M440.8 404.6h.6M435.5 400.9h.6M455.6 402.9h.6M442.8 408.8h.6M444.4 409.2h.6M448.0 399.1h.6M439.0 405.8h.6M434.9 403.1h.6M441.7 402.4h.6M452.0 404.9h.6M448.4 409.2h.6M439.7 405.9h.6M468.2 400.9h.6M454.0 404.3h.6M457.5 405.6h.6M477.2 405.7h.6M431.4 454.8h.6M477.4 462.2h.6M476.2 416.6h.6M480.1 459.2h.6M446.0 461.1h.6M457.1 422.6h.6M473.5 396.0h.6M450.2 411.9h.6M454.4 388.5h.6M488.9 453.2h.6M452.3 387.4h.6M478.4 421.9h.6M439.3 454.0h.6M478.5 447.3h.6M439.0 418.4h.6M480.5 418.1h.6M495.3 457.7h.6M491.8 414.1h.6M461.6 427.5h.6M441.0 433.0h.6M489.3 392.4h.6M490.3 434.2h.6M487.2 397.7h.6M486.5 402.6h.6" stroke="#1a1a1a" stroke-width=".6" fill="none" opacity=".62"/>
<rect x="428.5" y="384.5" width="83" height="80" fill="none" stroke="#666" stroke-width="1"/>
<path d="M463.5 384.5V464.5" stroke="#8a8a8a" stroke-width="1.1" fill="none"/>
<path d="M428.5 430.5H511.5" stroke="#999" stroke-width="0.9" fill="none"/>
<circle cx="463.5" cy="430.5" r="1.3" fill="#222"/>
<text x="429.8" y="389" font-size="3.9" text-anchor="start" font-weight="normal" fill="#222" >1.0%</text>
<text x="509.8" y="389" font-size="3.9" text-anchor="end" font-weight="normal" fill="#222" >92.4%</text>
<text x="429.8" y="463.2" font-size="3.9" text-anchor="start" font-weight="normal" fill="#222" >1.0%</text>
<text x="509.8" y="463.2" font-size="3.9" text-anchor="end" font-weight="normal" fill="#222" >1.0%</text>
<text x="427.3" y="465" font-size="4.1" text-anchor="end" font-weight="normal" fill="#333" >10<tspan dy="-1.5" font-size="2.8">0</tspan></text>
<text x="428.3" y="470" font-size="4.1" text-anchor="middle" font-weight="normal" fill="#333" >10<tspan dy="-1.5" font-size="2.8">0</tspan></text>
<text x="427.3" y="444.95" font-size="4.1" text-anchor="end" font-weight="normal" fill="#333" >10<tspan dy="-1.5" font-size="2.8">1</tspan></text>
<text x="449.05" y="470" font-size="4.1" text-anchor="middle" font-weight="normal" fill="#333" >10<tspan dy="-1.5" font-size="2.8">1</tspan></text>
<text x="427.3" y="424.9" font-size="4.1" text-anchor="end" font-weight="normal" fill="#333" >10<tspan dy="-1.5" font-size="2.8">2</tspan></text>
<text x="469.8" y="470" font-size="4.1" text-anchor="middle" font-weight="normal" fill="#333" >10<tspan dy="-1.5" font-size="2.8">2</tspan></text>
<text x="427.3" y="404.85" font-size="4.1" text-anchor="end" font-weight="normal" fill="#333" >10<tspan dy="-1.5" font-size="2.8">3</tspan></text>
<text x="490.55" y="470" font-size="4.1" text-anchor="middle" font-weight="normal" fill="#333" >10<tspan dy="-1.5" font-size="2.8">3</tspan></text>
<text x="427.3" y="384.8" font-size="4.1" text-anchor="end" font-weight="normal" fill="#333" >10<tspan dy="-1.5" font-size="2.8">4</tspan></text>
<text x="511.3" y="470" font-size="4.1" text-anchor="middle" font-weight="normal" fill="#333" >10<tspan dy="-1.5" font-size="2.8">4</tspan></text>
<path d="M24 484.6V410M24 484.6H478" stroke="#555" stroke-width="1" fill="none"/>
<path d="M24 406.5l-1.8 4h3.6z" fill="#222"/>
<path d="M480 485l-4.5 -2v4z" fill="#222"/>
<text transform="translate(24.9,394.4) rotate(-90)" x="0" y="2.45" font-size="6.8" text-anchor="middle" font-weight="normal" fill="#222" >CD11b</text>
<text x="486.6" y="486.38" font-size="6.6" text-anchor="start" font-weight="normal" fill="#222" >GR-1</text>
<text x="0.8" y="507.4" font-size="14" font-weight="bold" fill="#000">E</text>
<rect x="60.9" y="592.41" width="49.3" height="41.39" fill="#aeb1c0" stroke="#555" stroke-width="0.5"/>
<path d="M85.55 592.41V586.89M73.05 586.89h25" stroke="#555" stroke-width="0.9" fill="none"/>
<rect x="114.8" y="547.04" width="49.8" height="86.76" fill="#302b2b" stroke="#555" stroke-width="0.5"/>
<path d="M139.7 547.04V528.03M127.2 528.03h25" stroke="#555" stroke-width="0.9" fill="none"/>
<path d="M58.2 526.5V633.8H168M56.4 633.8h1.8M56.4 618.47h1.8M56.4 603.14h1.8M56.4 587.81h1.8M56.4 572.49h1.8M56.4 557.16h1.8M56.4 541.83h1.8M56.4 526.5h1.8" stroke="#666" stroke-width="0.9" fill="none"/>
<text x="55.1" y="636.68" font-size="8" text-anchor="end" font-weight="normal" fill="#333" stroke="#333" stroke-width="0.2">0</text>
<text x="55.1" y="621.35" font-size="8" text-anchor="end" font-weight="normal" fill="#333" stroke="#333" stroke-width="0.2">50</text>
<text x="55.1" y="606.02" font-size="8" text-anchor="end" font-weight="normal" fill="#333" stroke="#333" stroke-width="0.2">100</text>
<text x="55.1" y="590.69" font-size="8" text-anchor="end" font-weight="normal" fill="#333" stroke="#333" stroke-width="0.2">150</text>
<text x="55.1" y="575.37" font-size="8" text-anchor="end" font-weight="normal" fill="#333" stroke="#333" stroke-width="0.2">200</text>
<text x="55.1" y="560.04" font-size="8" text-anchor="end" font-weight="normal" fill="#333" stroke="#333" stroke-width="0.2">250</text>
<text x="55.1" y="544.71" font-size="8" text-anchor="end" font-weight="normal" fill="#333" stroke="#333" stroke-width="0.2">300</text>
<text x="55.1" y="529.38" font-size="8" text-anchor="end" font-weight="normal" fill="#333" stroke="#333" stroke-width="0.2">350</text>
<text x="85.2" y="645.48" font-size="8" text-anchor="middle" font-weight="bold" fill="#000" >Control</text>
<text x="140" y="645.48" font-size="8" text-anchor="middle" font-weight="bold" fill="#000" >MYB-GATA1</text>
<text transform="translate(34.7,579.6) rotate(-90)" x="0" y="3.42" font-size="9.5" text-anchor="middle" font-weight="normal" fill="#111" stroke="#111" stroke-width="0.2">Number of colonies</text>
<text x="139.3" y="523.33" font-size="8.7" text-anchor="middle" font-weight="normal" fill="#333" >P=0.05</text>
<text x="170" y="507.4" font-size="14" font-weight="bold" fill="#000">F</text>
<filter id="hair" x="-20%" y="-20%" width="140%" height="140%"><feTurbulence type="fractalNoise" baseFrequency="0.9" numOctaves="2" seed="9" result="t"/><feDisplacementMap in="SourceGraphic" in2="t" scale="6" xChannelSelector="R" yChannelSelector="G" result="d"/><feGaussianBlur in="d" stdDeviation="1.1"/></filter>
<clipPath id="cf1"><rect x="192.8" y="514.2" width="71.4" height="57.7"/></clipPath>
<rect x="192.8" y="514.2" width="71.4" height="57.7" fill="#f0f1dd"/>
<g clip-path="url(#cf1)">
<rect x="193" y="566" width="71" height="6" fill="#f6f4e6" filter="url(#bl2)"/>
<g filter="url(#hair)" opacity=".4">
<ellipse cx="211.1" cy="537" rx="10.2" ry="10" fill="#8e8e6c"/>
<ellipse cx="210" cy="551" rx="11" ry="11.5" fill="#8e8e6c"/>
<ellipse cx="222.3" cy="545.5" rx="7.5" ry="9.5" fill="#8e8e6c"/>
<ellipse cx="235.2" cy="544.3" rx="9.2" ry="13.5" fill="#8e8e6c"/>
<ellipse cx="251.6" cy="537.5" rx="11.5" ry="12.3" fill="#8e8e6c"/>
</g><g filter="url(#bl2)">
<ellipse cx="211.1" cy="536.5" rx="9" ry="9" fill="url(#col)"/>
<ellipse cx="210" cy="550.8" rx="9.5" ry="10" fill="url(#col)"/>
<ellipse cx="222.5" cy="544.5" rx="6.2" ry="8" fill="url(#col)"/>
<ellipse cx="235.2" cy="544.3" rx="7.6" ry="12" fill="url(#col)"/>
<ellipse cx="251.6" cy="537.5" rx="10" ry="10.8" fill="url(#col)"/>
</g></g>
<rect x="192.8" y="514.4" width="71.4" height="57.4" fill="none" stroke="#94826f" stroke-width="1.3"/>
<clipPath id="cf2"><rect x="192.8" y="575.4" width="71.4" height="56.1"/></clipPath>
<rect x="192.8" y="575.4" width="71.4" height="56.1" fill="#124430"/>
<g clip-path="url(#cf2)" filter="url(#bl3)">
<ellipse cx="211.3" cy="598.7" rx="9.5" ry="9.5" fill="url(#gfp)" opacity="0.8"/>
<ellipse cx="210.7" cy="611.5" rx="10" ry="10" fill="url(#gfp)" opacity="0.8"/>
<ellipse cx="222.6" cy="606.5" rx="5" ry="6" fill="url(#gfp)" opacity="0.6"/>
<ellipse cx="234.4" cy="604.8" rx="8.5" ry="13" fill="url(#gfp)" opacity="0.85"/>
<ellipse cx="251.1" cy="598.6" rx="11" ry="11" fill="url(#gfp)" opacity="1"/>
</g>
<text x="293.7" y="507" font-size="14" font-weight="bold" fill="#000">G</text>
<path d="M321.1 526.5V635.2H430M319.3 635.2h1.8M319.3 623.12h1.8M319.3 611.04h1.8M319.3 598.97h1.8M319.3 586.89h1.8M319.3 574.81h1.8M319.3 562.73h1.8M319.3 550.66h1.8M319.3 538.58h1.8M319.3 526.5h1.8M332 635.2v1.8M353.9 635.2v1.8M375.8 635.2v1.8M397.5 635.2v1.8M419 635.2v1.8" stroke="#666" stroke-width="0.9" fill="none"/>
<text x="316.4" y="637.97" font-size="7.7" text-anchor="end" font-weight="bold" fill="#222" >0</text>
<text x="316.4" y="625.89" font-size="7.7" text-anchor="end" font-weight="bold" fill="#222" >100</text>
<text x="316.4" y="613.82" font-size="7.7" text-anchor="end" font-weight="bold" fill="#222" >200</text>
<text x="316.4" y="601.74" font-size="7.7" text-anchor="end" font-weight="bold" fill="#222" >300</text>
<text x="316.4" y="589.66" font-size="7.7" text-anchor="end" font-weight="bold" fill="#222" >400</text>
<text x="316.4" y="577.58" font-size="7.7" text-anchor="end" font-weight="bold" fill="#222" >500</text>
<text x="316.4" y="565.51" font-size="7.7" text-anchor="end" font-weight="bold" fill="#222" >600</text>
<text x="316.4" y="553.43" font-size="7.7" text-anchor="end" font-weight="bold" fill="#222" >700</text>
<text x="316.4" y="541.35" font-size="7.7" text-anchor="end" font-weight="bold" fill="#222" >800</text>
<text x="316.4" y="529.27" font-size="7.7" text-anchor="end" font-weight="bold" fill="#222" >900</text>
<text transform="translate(293.8,580) rotate(-90)" x="0" y="3.56" font-size="9.9" text-anchor="middle" font-weight="normal" fill="#222" stroke="#222" stroke-width="0.1">Number of colonies</text>
<path d="M332 617.08V611.04M329.5 611.04h5M329.5 617.08h5M353.9 630.37V627.95M351.4 627.95h5M351.4 630.37h5M375.8 632.78V617.08M373.3 617.08h5M373.3 632.78h5M397.5 635.2V633.99M395.0 633.99h5M395.0 635.2h5M419 635.2V633.99M416.5 633.99h5M416.5 635.2h5" stroke="#bbb" stroke-width="0.7" fill="none"/>
<polyline points="332,614.06 353.9,629.16 375.8,624.33 397.5,634.6 419,634.6" stroke="#cacaca" stroke-width="1.4" fill="none"/>
<rect x="329.8" y="611.86" width="4.4" height="4.4" fill="#aaa"/>
<rect x="351.7" y="626.96" width="4.4" height="4.4" fill="#aaa"/>
<rect x="373.6" y="622.13" width="4.4" height="4.4" fill="#aaa"/>
<rect x="395.3" y="632.4" width="4.4" height="4.4" fill="#aaa"/>
<rect x="416.8" y="632.4" width="4.4" height="4.4" fill="#aaa"/>
<path d="M332 605.01V590.51M329.5 590.51h5M329.5 605.01h5M353.9 620.71V605.61M351.4 605.61h5M351.4 620.71h5M375.8 594.74V553.07M373.3 553.07h5M373.3 594.74h5M397.5 594.74V552.47M395.0 552.47h5M395.0 594.74h5M419 589.91V537.97M416.5 537.97h5M416.5 589.91h5" stroke="#888" stroke-width="0.8" fill="none"/>
<polyline points="332,597.76 353.9,613.46 375.8,573.6 397.5,573.6 419,563.7" stroke="#333" stroke-width="0.8" fill="none"/>
<path d="M332 594.76l2.8 4.8h-5.6z" fill="#111"/>
<path d="M353.9 610.46l2.8 4.8h-5.6z" fill="#111"/>
<path d="M375.8 570.6l2.8 4.8h-5.6z" fill="#111"/>
<path d="M397.5 570.6l2.8 4.8h-5.6z" fill="#111"/>
<path d="M419 560.7l2.8 4.8h-5.6z" fill="#111"/>
<polygon points="426.3,561.4 427.09,563.31 429.15,563.47 427.58,564.82 428.06,566.83 426.3,565.75 424.54,566.83 425.02,564.82 423.45,563.47 425.51,563.31" fill="#333"/>
<polygon points="432.5,561.4 433.29,563.31 435.35,563.47 433.78,564.82 434.26,566.83 432.5,565.75 430.74,566.83 431.22,564.82 429.65,563.47 431.71,563.31" fill="#333"/>
<polygon points="438.7,561.4 439.49,563.31 441.55,563.47 439.98,564.82 440.46,566.83 438.7,565.75 436.94,566.83 437.42,564.82 435.85,563.47 437.91,563.31" fill="#333"/>
<text transform="translate(342,638) rotate(-27)" x="0" y="0" font-size="7.6" text-anchor="end" font-weight="bold" fill="#222" dominant-baseline="hanging">1st plating</text>
<text transform="translate(363.9,638) rotate(-27)" x="0" y="0" font-size="7.6" text-anchor="end" font-weight="bold" fill="#222" dominant-baseline="hanging">2nd plating</text>
<text transform="translate(385.8,638) rotate(-27)" x="0" y="0" font-size="7.6" text-anchor="end" font-weight="bold" fill="#222" dominant-baseline="hanging">3rd plating</text>
<text transform="translate(407.5,638) rotate(-27)" x="0" y="0" font-size="7.6" text-anchor="end" font-weight="bold" fill="#222" dominant-baseline="hanging">4th plating</text>
<text transform="translate(429,638) rotate(-27)" x="0" y="0" font-size="7.6" text-anchor="end" font-weight="bold" fill="#222" dominant-baseline="hanging">5th plating</text>
<path d="M453.2 531.8h15.7" stroke="#cfcfcf" stroke-width="1.4"/>
<rect x="459" y="530" width="3.8" height="3.8" fill="#aaa"/>
<text x="470.8" y="536.01" font-size="7.8" text-anchor="start" font-weight="normal" fill="#1a1a1a" >Control</text>
<path d="M453.2 545h15.7" stroke="#222" stroke-width="0.9"/>
<path d="M460.8 542.6l2.7 4.6h-5.4z" fill="#111"/>
<text x="470.8" y="548.97" font-size="7.7" text-anchor="start" font-weight="normal" fill="#1a1a1a" >MYB-GATA1</text>
</svg>
</body></html>
